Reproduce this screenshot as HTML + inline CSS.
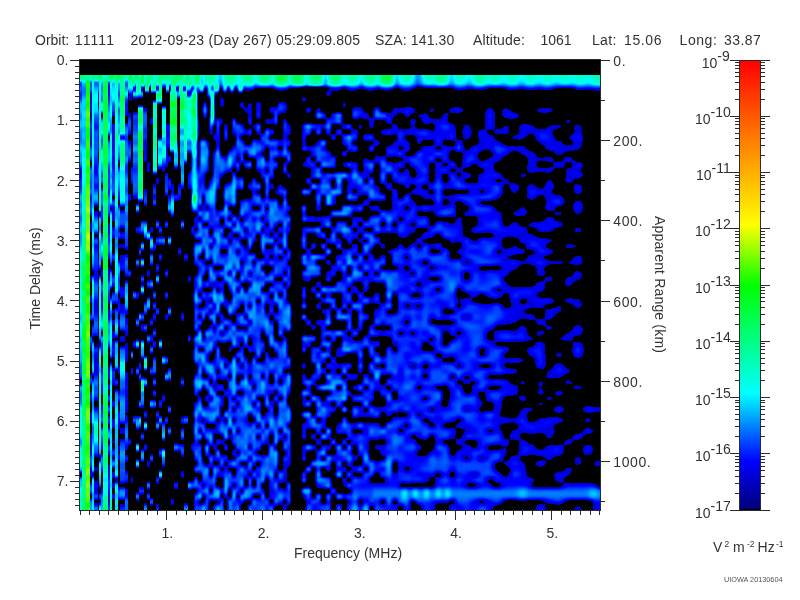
<!DOCTYPE html>
<html><head><meta charset="utf-8"><style>
html,body{margin:0;padding:0;background:#fff;}
svg{display:block;}
text{font-family:"Liberation Sans",Arial,sans-serif;font-size:14px;fill:#333;}
</style></head><body>
<svg width="800" height="600" viewBox="0 0 800 600">
<defs>
<linearGradient id="cb" x1="0" y1="0" x2="0" y2="1">
<stop offset="0" stop-color="#ff0000"/>
<stop offset="0.18" stop-color="#ff8000"/>
<stop offset="0.366" stop-color="#ffff00"/>
<stop offset="0.5" stop-color="#00ff00"/>
<stop offset="0.74" stop-color="#00ffff"/>
<stop offset="0.89" stop-color="#0000ff"/>
<stop offset="1" stop-color="#000078"/>
</linearGradient>
</defs>
<rect x="80" y="60" width="520" height="450" fill="#000"/>
<defs>
<clipPath id="cp"><rect x="80" y="75" width="520" height="435"/></clipPath>
<filter id="z0" filterUnits="userSpaceOnUse" x="72" y="62" width="64" height="456" color-interpolation-filters="sRGB"><feGaussianBlur stdDeviation="0.5 2.0"/><feComponentTransfer><feFuncR type="table" tableValues="0 0 0 0 0 0 0 0 0 0 0 0 0 0 0 0 0 0 0 0 0 0 0 0 0 0 0 0 0 0 0 0 0 0 0 0 0 0 0 0 0 0 0 0 0 0 0 0 0 0 0 0 0 0 0 0 0 0 0 0 0 0 0 0 0 0 0 0 0 0 0 0 0 0 0 0 0 0 0 0 0 0 0 0 0 0 0 0 0 0 0 0 0 0 0 0 0 0 0 0 0 0 0 0 0 0 0 0 0 0 0 0 0 0 0 0 0 0 0 0 0 0 0 0 0 0 0 0 0.0146 0.0439 0.0732 0.102 0.132 0.161 0.19 0.219 0.249 0.278 0.307 0.337 0.366 0.395 0.424 0.454 0.483 0.512 0.541 0.571 0.6 0.629 0.658 0.688 0.717 0.746 0.776 0.805 0.834 0.863 0.893 0.922 0.951 0.98 1 1 1 1 1 1 1 1 1 1 1 1 1 1 1 1 1 1 1 1 1 1 1 1 1 1 1 1 1 1 1 1 1 1 1 1 1 1 1 1 1 1 1 1 1 1 1 1 1 1 1 1 1 1 1 1 1 1 1 1 1 1 1 1 1 1 1 1 1 1 1 1 1 1 1 1 1 1 1 1 1 1 1 1 1 1 1 1 1 1 1 1 1 1"/><feFuncG type="table" tableValues="0 0 0 0 0 0 0 0 0 0 0 0 0 0 0 0 0 0 0 0 0 0 0 0 0 0 0 0 0 0.0248 0.051 0.0771 0.103 0.129 0.156 0.182 0.208 0.234 0.26 0.286 0.312 0.339 0.365 0.391 0.417 0.443 0.469 0.495 0.522 0.548 0.574 0.6 0.626 0.652 0.678 0.705 0.731 0.757 0.783 0.809 0.835 0.861 0.888 0.914 0.94 0.966 0.992 1 1 1 1 1 1 1 1 1 1 1 1 1 1 1 1 1 1 1 1 1 1 1 1 1 1 1 1 1 1 1 1 1 1 1 1 1 1 1 1 1 1 1 1 1 1 1 1 1 1 1 1 1 1 1 1 1 1 1 1 1 1 1 1 1 1 1 1 1 1 1 1 1 1 1 1 1 1 1 1 1 1 1 1 1 1 1 1 1 1 1 1 1 1 1 0.997 0.986 0.976 0.965 0.955 0.944 0.934 0.923 0.913 0.902 0.892 0.881 0.871 0.86 0.85 0.839 0.829 0.818 0.808 0.797 0.787 0.776 0.766 0.755 0.745 0.734 0.724 0.713 0.703 0.692 0.682 0.671 0.661 0.65 0.64 0.629 0.619 0.608 0.598 0.587 0.577 0.566 0.556 0.545 0.535 0.524 0.514 0.503 0.492 0.481 0.47 0.459 0.448 0.437 0.427 0.416 0.405 0.394 0.383 0.372 0.361 0.35 0.339 0.328 0.317 0.306 0.295 0.284 0.273 0.262 0.252 0.241 0.23 0.219 0.208 0.197 0.186 0.175 0.164 0.153 0.142 0.131 0.12 0.109 0.0984 0.0875 0.0766 0.0656 0.0547 0.0437 0.0328 0.0219 0.0109 0"/><feFuncB type="table" tableValues="0 0 0 0 0 0 0 0 0 0 0 0 0 0 0 0 0.773 0.791 0.81 0.829 0.848 0.867 0.886 0.905 0.924 0.942 0.961 0.98 0.999 1 1 1 1 1 1 1 1 1 1 1 1 1 1 1 1 1 1 1 1 1 1 1 1 1 1 1 1 1 1 1 1 1 1 1 1 1 1 0.989 0.972 0.956 0.94 0.923 0.907 0.891 0.874 0.858 0.842 0.825 0.809 0.792 0.776 0.76 0.743 0.727 0.711 0.694 0.678 0.662 0.645 0.629 0.613 0.596 0.58 0.564 0.547 0.531 0.515 0.498 0.482 0.466 0.449 0.433 0.417 0.4 0.384 0.368 0.351 0.335 0.319 0.302 0.286 0.27 0.253 0.237 0.221 0.204 0.188 0.172 0.155 0.139 0.123 0.106 0.0899 0.0735 0.0572 0.0408 0.0245 0.00817 0 0 0 0 0 0 0 0 0 0 0 0 0 0 0 0 0 0 0 0 0 0 0 0 0 0 0 0 0 0 0 0 0 0 0 0 0 0 0 0 0 0 0 0 0 0 0 0 0 0 0 0 0 0 0 0 0 0 0 0 0 0 0 0 0 0 0 0 0 0 0 0 0 0 0 0 0 0 0 0 0 0 0 0 0 0 0 0 0 0 0 0 0 0 0 0 0 0 0 0 0 0 0 0 0 0 0 0 0 0 0 0 0 0 0 0 0 0 0 0 0 0 0 0 0 0 0 0"/></feComponentTransfer></filter>
<clipPath id="c0"><rect x="80" y="75" width="48" height="435"/></clipPath>
<filter id="z1" filterUnits="userSpaceOnUse" x="120" y="62" width="78" height="456" color-interpolation-filters="sRGB"><feGaussianBlur stdDeviation="0.75 2.0"/><feComponentTransfer><feFuncR type="table" tableValues="0 0 0 0 0 0 0 0 0 0 0 0 0 0 0 0 0 0 0 0 0 0 0 0 0 0 0 0 0 0 0 0 0 0 0 0 0 0 0 0 0 0 0 0 0 0 0 0 0 0 0 0 0 0 0 0 0 0 0 0 0 0 0 0 0 0 0 0 0 0 0 0 0 0 0 0 0 0 0 0 0 0 0 0 0 0 0 0 0 0 0 0 0 0 0 0 0 0 0 0 0 0 0 0 0 0 0 0 0 0 0 0 0 0 0 0 0 0 0 0 0 0 0 0 0 0 0 0 0.0146 0.0439 0.0732 0.102 0.132 0.161 0.19 0.219 0.249 0.278 0.307 0.337 0.366 0.395 0.424 0.454 0.483 0.512 0.541 0.571 0.6 0.629 0.658 0.688 0.717 0.746 0.776 0.805 0.834 0.863 0.893 0.922 0.951 0.98 1 1 1 1 1 1 1 1 1 1 1 1 1 1 1 1 1 1 1 1 1 1 1 1 1 1 1 1 1 1 1 1 1 1 1 1 1 1 1 1 1 1 1 1 1 1 1 1 1 1 1 1 1 1 1 1 1 1 1 1 1 1 1 1 1 1 1 1 1 1 1 1 1 1 1 1 1 1 1 1 1 1 1 1 1 1 1 1 1 1 1 1 1 1"/><feFuncG type="table" tableValues="0 0 0 0 0 0 0 0 0 0 0 0 0 0 0 0 0 0 0 0 0 0 0 0 0 0 0 0 0 0.0248 0.051 0.0771 0.103 0.129 0.156 0.182 0.208 0.234 0.26 0.286 0.312 0.339 0.365 0.391 0.417 0.443 0.469 0.495 0.522 0.548 0.574 0.6 0.626 0.652 0.678 0.705 0.731 0.757 0.783 0.809 0.835 0.861 0.888 0.914 0.94 0.966 0.992 1 1 1 1 1 1 1 1 1 1 1 1 1 1 1 1 1 1 1 1 1 1 1 1 1 1 1 1 1 1 1 1 1 1 1 1 1 1 1 1 1 1 1 1 1 1 1 1 1 1 1 1 1 1 1 1 1 1 1 1 1 1 1 1 1 1 1 1 1 1 1 1 1 1 1 1 1 1 1 1 1 1 1 1 1 1 1 1 1 1 1 1 1 1 1 0.997 0.986 0.976 0.965 0.955 0.944 0.934 0.923 0.913 0.902 0.892 0.881 0.871 0.86 0.85 0.839 0.829 0.818 0.808 0.797 0.787 0.776 0.766 0.755 0.745 0.734 0.724 0.713 0.703 0.692 0.682 0.671 0.661 0.65 0.64 0.629 0.619 0.608 0.598 0.587 0.577 0.566 0.556 0.545 0.535 0.524 0.514 0.503 0.492 0.481 0.47 0.459 0.448 0.437 0.427 0.416 0.405 0.394 0.383 0.372 0.361 0.35 0.339 0.328 0.317 0.306 0.295 0.284 0.273 0.262 0.252 0.241 0.23 0.219 0.208 0.197 0.186 0.175 0.164 0.153 0.142 0.131 0.12 0.109 0.0984 0.0875 0.0766 0.0656 0.0547 0.0437 0.0328 0.0219 0.0109 0"/><feFuncB type="table" tableValues="0 0 0 0 0 0 0 0 0 0 0 0 0 0 0 0 0.773 0.791 0.81 0.829 0.848 0.867 0.886 0.905 0.924 0.942 0.961 0.98 0.999 1 1 1 1 1 1 1 1 1 1 1 1 1 1 1 1 1 1 1 1 1 1 1 1 1 1 1 1 1 1 1 1 1 1 1 1 1 1 0.989 0.972 0.956 0.94 0.923 0.907 0.891 0.874 0.858 0.842 0.825 0.809 0.792 0.776 0.76 0.743 0.727 0.711 0.694 0.678 0.662 0.645 0.629 0.613 0.596 0.58 0.564 0.547 0.531 0.515 0.498 0.482 0.466 0.449 0.433 0.417 0.4 0.384 0.368 0.351 0.335 0.319 0.302 0.286 0.27 0.253 0.237 0.221 0.204 0.188 0.172 0.155 0.139 0.123 0.106 0.0899 0.0735 0.0572 0.0408 0.0245 0.00817 0 0 0 0 0 0 0 0 0 0 0 0 0 0 0 0 0 0 0 0 0 0 0 0 0 0 0 0 0 0 0 0 0 0 0 0 0 0 0 0 0 0 0 0 0 0 0 0 0 0 0 0 0 0 0 0 0 0 0 0 0 0 0 0 0 0 0 0 0 0 0 0 0 0 0 0 0 0 0 0 0 0 0 0 0 0 0 0 0 0 0 0 0 0 0 0 0 0 0 0 0 0 0 0 0 0 0 0 0 0 0 0 0 0 0 0 0 0 0 0 0 0 0 0 0 0 0 0"/></feComponentTransfer></filter>
<clipPath id="c1"><rect x="128" y="75" width="62" height="435"/></clipPath>
<filter id="z2" filterUnits="userSpaceOnUse" x="182" y="62" width="126" height="456" color-interpolation-filters="sRGB"><feGaussianBlur stdDeviation="1.15 2.0"/><feComponentTransfer><feFuncR type="table" tableValues="0 0 0 0 0 0 0 0 0 0 0 0 0 0 0 0 0 0 0 0 0 0 0 0 0 0 0 0 0 0 0 0 0 0 0 0 0 0 0 0 0 0 0 0 0 0 0 0 0 0 0 0 0 0 0 0 0 0 0 0 0 0 0 0 0 0 0 0 0 0 0 0 0 0 0 0 0 0 0 0 0 0 0 0 0 0 0 0 0 0 0 0 0 0 0 0 0 0 0 0 0 0 0 0 0 0 0 0 0 0 0 0 0 0 0 0 0 0 0 0 0 0 0 0 0 0 0 0 0.0146 0.0439 0.0732 0.102 0.132 0.161 0.19 0.219 0.249 0.278 0.307 0.337 0.366 0.395 0.424 0.454 0.483 0.512 0.541 0.571 0.6 0.629 0.658 0.688 0.717 0.746 0.776 0.805 0.834 0.863 0.893 0.922 0.951 0.98 1 1 1 1 1 1 1 1 1 1 1 1 1 1 1 1 1 1 1 1 1 1 1 1 1 1 1 1 1 1 1 1 1 1 1 1 1 1 1 1 1 1 1 1 1 1 1 1 1 1 1 1 1 1 1 1 1 1 1 1 1 1 1 1 1 1 1 1 1 1 1 1 1 1 1 1 1 1 1 1 1 1 1 1 1 1 1 1 1 1 1 1 1 1"/><feFuncG type="table" tableValues="0 0 0 0 0 0 0 0 0 0 0 0 0 0 0 0 0 0 0 0 0 0 0 0 0 0 0 0 0 0.0248 0.051 0.0771 0.103 0.129 0.156 0.182 0.208 0.234 0.26 0.286 0.312 0.339 0.365 0.391 0.417 0.443 0.469 0.495 0.522 0.548 0.574 0.6 0.626 0.652 0.678 0.705 0.731 0.757 0.783 0.809 0.835 0.861 0.888 0.914 0.94 0.966 0.992 1 1 1 1 1 1 1 1 1 1 1 1 1 1 1 1 1 1 1 1 1 1 1 1 1 1 1 1 1 1 1 1 1 1 1 1 1 1 1 1 1 1 1 1 1 1 1 1 1 1 1 1 1 1 1 1 1 1 1 1 1 1 1 1 1 1 1 1 1 1 1 1 1 1 1 1 1 1 1 1 1 1 1 1 1 1 1 1 1 1 1 1 1 1 1 0.997 0.986 0.976 0.965 0.955 0.944 0.934 0.923 0.913 0.902 0.892 0.881 0.871 0.86 0.85 0.839 0.829 0.818 0.808 0.797 0.787 0.776 0.766 0.755 0.745 0.734 0.724 0.713 0.703 0.692 0.682 0.671 0.661 0.65 0.64 0.629 0.619 0.608 0.598 0.587 0.577 0.566 0.556 0.545 0.535 0.524 0.514 0.503 0.492 0.481 0.47 0.459 0.448 0.437 0.427 0.416 0.405 0.394 0.383 0.372 0.361 0.35 0.339 0.328 0.317 0.306 0.295 0.284 0.273 0.262 0.252 0.241 0.23 0.219 0.208 0.197 0.186 0.175 0.164 0.153 0.142 0.131 0.12 0.109 0.0984 0.0875 0.0766 0.0656 0.0547 0.0437 0.0328 0.0219 0.0109 0"/><feFuncB type="table" tableValues="0 0 0 0 0 0 0 0 0 0 0 0 0 0 0 0 0.773 0.791 0.81 0.829 0.848 0.867 0.886 0.905 0.924 0.942 0.961 0.98 0.999 1 1 1 1 1 1 1 1 1 1 1 1 1 1 1 1 1 1 1 1 1 1 1 1 1 1 1 1 1 1 1 1 1 1 1 1 1 1 0.989 0.972 0.956 0.94 0.923 0.907 0.891 0.874 0.858 0.842 0.825 0.809 0.792 0.776 0.76 0.743 0.727 0.711 0.694 0.678 0.662 0.645 0.629 0.613 0.596 0.58 0.564 0.547 0.531 0.515 0.498 0.482 0.466 0.449 0.433 0.417 0.4 0.384 0.368 0.351 0.335 0.319 0.302 0.286 0.27 0.253 0.237 0.221 0.204 0.188 0.172 0.155 0.139 0.123 0.106 0.0899 0.0735 0.0572 0.0408 0.0245 0.00817 0 0 0 0 0 0 0 0 0 0 0 0 0 0 0 0 0 0 0 0 0 0 0 0 0 0 0 0 0 0 0 0 0 0 0 0 0 0 0 0 0 0 0 0 0 0 0 0 0 0 0 0 0 0 0 0 0 0 0 0 0 0 0 0 0 0 0 0 0 0 0 0 0 0 0 0 0 0 0 0 0 0 0 0 0 0 0 0 0 0 0 0 0 0 0 0 0 0 0 0 0 0 0 0 0 0 0 0 0 0 0 0 0 0 0 0 0 0 0 0 0 0 0 0 0 0 0 0"/></feComponentTransfer></filter>
<clipPath id="c2"><rect x="190" y="75" width="110" height="435"/></clipPath>
<filter id="z3" filterUnits="userSpaceOnUse" x="292" y="62" width="66" height="456" color-interpolation-filters="sRGB"><feGaussianBlur stdDeviation="1.5 1.8"/><feComponentTransfer><feFuncR type="table" tableValues="0 0 0 0 0 0 0 0 0 0 0 0 0 0 0 0 0 0 0 0 0 0 0 0 0 0 0 0 0 0 0 0 0 0 0 0 0 0 0 0 0 0 0 0 0 0 0 0 0 0 0 0 0 0 0 0 0 0 0 0 0 0 0 0 0 0 0 0 0 0 0 0 0 0 0 0 0 0 0 0 0 0 0 0 0 0 0 0 0 0 0 0 0 0 0 0 0 0 0 0 0 0 0 0 0 0 0 0 0 0 0 0 0 0 0 0 0 0 0 0 0 0 0 0 0 0 0 0 0.0146 0.0439 0.0732 0.102 0.132 0.161 0.19 0.219 0.249 0.278 0.307 0.337 0.366 0.395 0.424 0.454 0.483 0.512 0.541 0.571 0.6 0.629 0.658 0.688 0.717 0.746 0.776 0.805 0.834 0.863 0.893 0.922 0.951 0.98 1 1 1 1 1 1 1 1 1 1 1 1 1 1 1 1 1 1 1 1 1 1 1 1 1 1 1 1 1 1 1 1 1 1 1 1 1 1 1 1 1 1 1 1 1 1 1 1 1 1 1 1 1 1 1 1 1 1 1 1 1 1 1 1 1 1 1 1 1 1 1 1 1 1 1 1 1 1 1 1 1 1 1 1 1 1 1 1 1 1 1 1 1 1"/><feFuncG type="table" tableValues="0 0 0 0 0 0 0 0 0 0 0 0 0 0 0 0 0 0 0 0 0 0 0 0 0 0 0 0 0 0.0248 0.051 0.0771 0.103 0.129 0.156 0.182 0.208 0.234 0.26 0.286 0.312 0.339 0.365 0.391 0.417 0.443 0.469 0.495 0.522 0.548 0.574 0.6 0.626 0.652 0.678 0.705 0.731 0.757 0.783 0.809 0.835 0.861 0.888 0.914 0.94 0.966 0.992 1 1 1 1 1 1 1 1 1 1 1 1 1 1 1 1 1 1 1 1 1 1 1 1 1 1 1 1 1 1 1 1 1 1 1 1 1 1 1 1 1 1 1 1 1 1 1 1 1 1 1 1 1 1 1 1 1 1 1 1 1 1 1 1 1 1 1 1 1 1 1 1 1 1 1 1 1 1 1 1 1 1 1 1 1 1 1 1 1 1 1 1 1 1 1 0.997 0.986 0.976 0.965 0.955 0.944 0.934 0.923 0.913 0.902 0.892 0.881 0.871 0.86 0.85 0.839 0.829 0.818 0.808 0.797 0.787 0.776 0.766 0.755 0.745 0.734 0.724 0.713 0.703 0.692 0.682 0.671 0.661 0.65 0.64 0.629 0.619 0.608 0.598 0.587 0.577 0.566 0.556 0.545 0.535 0.524 0.514 0.503 0.492 0.481 0.47 0.459 0.448 0.437 0.427 0.416 0.405 0.394 0.383 0.372 0.361 0.35 0.339 0.328 0.317 0.306 0.295 0.284 0.273 0.262 0.252 0.241 0.23 0.219 0.208 0.197 0.186 0.175 0.164 0.153 0.142 0.131 0.12 0.109 0.0984 0.0875 0.0766 0.0656 0.0547 0.0437 0.0328 0.0219 0.0109 0"/><feFuncB type="table" tableValues="0 0 0 0 0 0 0 0 0 0 0 0 0 0 0 0 0.773 0.791 0.81 0.829 0.848 0.867 0.886 0.905 0.924 0.942 0.961 0.98 0.999 1 1 1 1 1 1 1 1 1 1 1 1 1 1 1 1 1 1 1 1 1 1 1 1 1 1 1 1 1 1 1 1 1 1 1 1 1 1 0.989 0.972 0.956 0.94 0.923 0.907 0.891 0.874 0.858 0.842 0.825 0.809 0.792 0.776 0.76 0.743 0.727 0.711 0.694 0.678 0.662 0.645 0.629 0.613 0.596 0.58 0.564 0.547 0.531 0.515 0.498 0.482 0.466 0.449 0.433 0.417 0.4 0.384 0.368 0.351 0.335 0.319 0.302 0.286 0.27 0.253 0.237 0.221 0.204 0.188 0.172 0.155 0.139 0.123 0.106 0.0899 0.0735 0.0572 0.0408 0.0245 0.00817 0 0 0 0 0 0 0 0 0 0 0 0 0 0 0 0 0 0 0 0 0 0 0 0 0 0 0 0 0 0 0 0 0 0 0 0 0 0 0 0 0 0 0 0 0 0 0 0 0 0 0 0 0 0 0 0 0 0 0 0 0 0 0 0 0 0 0 0 0 0 0 0 0 0 0 0 0 0 0 0 0 0 0 0 0 0 0 0 0 0 0 0 0 0 0 0 0 0 0 0 0 0 0 0 0 0 0 0 0 0 0 0 0 0 0 0 0 0 0 0 0 0 0 0 0 0 0 0"/></feComponentTransfer></filter>
<clipPath id="c3"><rect x="300" y="75" width="50" height="435"/></clipPath>
<filter id="z4" filterUnits="userSpaceOnUse" x="342" y="62" width="66" height="456" color-interpolation-filters="sRGB"><feGaussianBlur stdDeviation="1.8 1.9"/><feComponentTransfer><feFuncR type="table" tableValues="0 0 0 0 0 0 0 0 0 0 0 0 0 0 0 0 0 0 0 0 0 0 0 0 0 0 0 0 0 0 0 0 0 0 0 0 0 0 0 0 0 0 0 0 0 0 0 0 0 0 0 0 0 0 0 0 0 0 0 0 0 0 0 0 0 0 0 0 0 0 0 0 0 0 0 0 0 0 0 0 0 0 0 0 0 0 0 0 0 0 0 0 0 0 0 0 0 0 0 0 0 0 0 0 0 0 0 0 0 0 0 0 0 0 0 0 0 0 0 0 0 0 0 0 0 0 0 0 0.0146 0.0439 0.0732 0.102 0.132 0.161 0.19 0.219 0.249 0.278 0.307 0.337 0.366 0.395 0.424 0.454 0.483 0.512 0.541 0.571 0.6 0.629 0.658 0.688 0.717 0.746 0.776 0.805 0.834 0.863 0.893 0.922 0.951 0.98 1 1 1 1 1 1 1 1 1 1 1 1 1 1 1 1 1 1 1 1 1 1 1 1 1 1 1 1 1 1 1 1 1 1 1 1 1 1 1 1 1 1 1 1 1 1 1 1 1 1 1 1 1 1 1 1 1 1 1 1 1 1 1 1 1 1 1 1 1 1 1 1 1 1 1 1 1 1 1 1 1 1 1 1 1 1 1 1 1 1 1 1 1 1"/><feFuncG type="table" tableValues="0 0 0 0 0 0 0 0 0 0 0 0 0 0 0 0 0 0 0 0 0 0 0 0 0 0 0 0 0 0.0248 0.051 0.0771 0.103 0.129 0.156 0.182 0.208 0.234 0.26 0.286 0.312 0.339 0.365 0.391 0.417 0.443 0.469 0.495 0.522 0.548 0.574 0.6 0.626 0.652 0.678 0.705 0.731 0.757 0.783 0.809 0.835 0.861 0.888 0.914 0.94 0.966 0.992 1 1 1 1 1 1 1 1 1 1 1 1 1 1 1 1 1 1 1 1 1 1 1 1 1 1 1 1 1 1 1 1 1 1 1 1 1 1 1 1 1 1 1 1 1 1 1 1 1 1 1 1 1 1 1 1 1 1 1 1 1 1 1 1 1 1 1 1 1 1 1 1 1 1 1 1 1 1 1 1 1 1 1 1 1 1 1 1 1 1 1 1 1 1 1 0.997 0.986 0.976 0.965 0.955 0.944 0.934 0.923 0.913 0.902 0.892 0.881 0.871 0.86 0.85 0.839 0.829 0.818 0.808 0.797 0.787 0.776 0.766 0.755 0.745 0.734 0.724 0.713 0.703 0.692 0.682 0.671 0.661 0.65 0.64 0.629 0.619 0.608 0.598 0.587 0.577 0.566 0.556 0.545 0.535 0.524 0.514 0.503 0.492 0.481 0.47 0.459 0.448 0.437 0.427 0.416 0.405 0.394 0.383 0.372 0.361 0.35 0.339 0.328 0.317 0.306 0.295 0.284 0.273 0.262 0.252 0.241 0.23 0.219 0.208 0.197 0.186 0.175 0.164 0.153 0.142 0.131 0.12 0.109 0.0984 0.0875 0.0766 0.0656 0.0547 0.0437 0.0328 0.0219 0.0109 0"/><feFuncB type="table" tableValues="0 0 0 0 0 0 0 0 0 0 0 0 0 0 0 0 0.773 0.791 0.81 0.829 0.848 0.867 0.886 0.905 0.924 0.942 0.961 0.98 0.999 1 1 1 1 1 1 1 1 1 1 1 1 1 1 1 1 1 1 1 1 1 1 1 1 1 1 1 1 1 1 1 1 1 1 1 1 1 1 0.989 0.972 0.956 0.94 0.923 0.907 0.891 0.874 0.858 0.842 0.825 0.809 0.792 0.776 0.76 0.743 0.727 0.711 0.694 0.678 0.662 0.645 0.629 0.613 0.596 0.58 0.564 0.547 0.531 0.515 0.498 0.482 0.466 0.449 0.433 0.417 0.4 0.384 0.368 0.351 0.335 0.319 0.302 0.286 0.27 0.253 0.237 0.221 0.204 0.188 0.172 0.155 0.139 0.123 0.106 0.0899 0.0735 0.0572 0.0408 0.0245 0.00817 0 0 0 0 0 0 0 0 0 0 0 0 0 0 0 0 0 0 0 0 0 0 0 0 0 0 0 0 0 0 0 0 0 0 0 0 0 0 0 0 0 0 0 0 0 0 0 0 0 0 0 0 0 0 0 0 0 0 0 0 0 0 0 0 0 0 0 0 0 0 0 0 0 0 0 0 0 0 0 0 0 0 0 0 0 0 0 0 0 0 0 0 0 0 0 0 0 0 0 0 0 0 0 0 0 0 0 0 0 0 0 0 0 0 0 0 0 0 0 0 0 0 0 0 0 0 0 0"/></feComponentTransfer></filter>
<clipPath id="c4"><rect x="350" y="75" width="50" height="435"/></clipPath>
<filter id="z5" filterUnits="userSpaceOnUse" x="392" y="62" width="76" height="456" color-interpolation-filters="sRGB"><feGaussianBlur stdDeviation="2.3 2.0"/><feComponentTransfer><feFuncR type="table" tableValues="0 0 0 0 0 0 0 0 0 0 0 0 0 0 0 0 0 0 0 0 0 0 0 0 0 0 0 0 0 0 0 0 0 0 0 0 0 0 0 0 0 0 0 0 0 0 0 0 0 0 0 0 0 0 0 0 0 0 0 0 0 0 0 0 0 0 0 0 0 0 0 0 0 0 0 0 0 0 0 0 0 0 0 0 0 0 0 0 0 0 0 0 0 0 0 0 0 0 0 0 0 0 0 0 0 0 0 0 0 0 0 0 0 0 0 0 0 0 0 0 0 0 0 0 0 0 0 0 0.0146 0.0439 0.0732 0.102 0.132 0.161 0.19 0.219 0.249 0.278 0.307 0.337 0.366 0.395 0.424 0.454 0.483 0.512 0.541 0.571 0.6 0.629 0.658 0.688 0.717 0.746 0.776 0.805 0.834 0.863 0.893 0.922 0.951 0.98 1 1 1 1 1 1 1 1 1 1 1 1 1 1 1 1 1 1 1 1 1 1 1 1 1 1 1 1 1 1 1 1 1 1 1 1 1 1 1 1 1 1 1 1 1 1 1 1 1 1 1 1 1 1 1 1 1 1 1 1 1 1 1 1 1 1 1 1 1 1 1 1 1 1 1 1 1 1 1 1 1 1 1 1 1 1 1 1 1 1 1 1 1 1"/><feFuncG type="table" tableValues="0 0 0 0 0 0 0 0 0 0 0 0 0 0 0 0 0 0 0 0 0 0 0 0 0 0 0 0 0 0.0248 0.051 0.0771 0.103 0.129 0.156 0.182 0.208 0.234 0.26 0.286 0.312 0.339 0.365 0.391 0.417 0.443 0.469 0.495 0.522 0.548 0.574 0.6 0.626 0.652 0.678 0.705 0.731 0.757 0.783 0.809 0.835 0.861 0.888 0.914 0.94 0.966 0.992 1 1 1 1 1 1 1 1 1 1 1 1 1 1 1 1 1 1 1 1 1 1 1 1 1 1 1 1 1 1 1 1 1 1 1 1 1 1 1 1 1 1 1 1 1 1 1 1 1 1 1 1 1 1 1 1 1 1 1 1 1 1 1 1 1 1 1 1 1 1 1 1 1 1 1 1 1 1 1 1 1 1 1 1 1 1 1 1 1 1 1 1 1 1 1 0.997 0.986 0.976 0.965 0.955 0.944 0.934 0.923 0.913 0.902 0.892 0.881 0.871 0.86 0.85 0.839 0.829 0.818 0.808 0.797 0.787 0.776 0.766 0.755 0.745 0.734 0.724 0.713 0.703 0.692 0.682 0.671 0.661 0.65 0.64 0.629 0.619 0.608 0.598 0.587 0.577 0.566 0.556 0.545 0.535 0.524 0.514 0.503 0.492 0.481 0.47 0.459 0.448 0.437 0.427 0.416 0.405 0.394 0.383 0.372 0.361 0.35 0.339 0.328 0.317 0.306 0.295 0.284 0.273 0.262 0.252 0.241 0.23 0.219 0.208 0.197 0.186 0.175 0.164 0.153 0.142 0.131 0.12 0.109 0.0984 0.0875 0.0766 0.0656 0.0547 0.0437 0.0328 0.0219 0.0109 0"/><feFuncB type="table" tableValues="0 0 0 0 0 0 0 0 0 0 0 0 0 0 0 0 0.773 0.791 0.81 0.829 0.848 0.867 0.886 0.905 0.924 0.942 0.961 0.98 0.999 1 1 1 1 1 1 1 1 1 1 1 1 1 1 1 1 1 1 1 1 1 1 1 1 1 1 1 1 1 1 1 1 1 1 1 1 1 1 0.989 0.972 0.956 0.94 0.923 0.907 0.891 0.874 0.858 0.842 0.825 0.809 0.792 0.776 0.76 0.743 0.727 0.711 0.694 0.678 0.662 0.645 0.629 0.613 0.596 0.58 0.564 0.547 0.531 0.515 0.498 0.482 0.466 0.449 0.433 0.417 0.4 0.384 0.368 0.351 0.335 0.319 0.302 0.286 0.27 0.253 0.237 0.221 0.204 0.188 0.172 0.155 0.139 0.123 0.106 0.0899 0.0735 0.0572 0.0408 0.0245 0.00817 0 0 0 0 0 0 0 0 0 0 0 0 0 0 0 0 0 0 0 0 0 0 0 0 0 0 0 0 0 0 0 0 0 0 0 0 0 0 0 0 0 0 0 0 0 0 0 0 0 0 0 0 0 0 0 0 0 0 0 0 0 0 0 0 0 0 0 0 0 0 0 0 0 0 0 0 0 0 0 0 0 0 0 0 0 0 0 0 0 0 0 0 0 0 0 0 0 0 0 0 0 0 0 0 0 0 0 0 0 0 0 0 0 0 0 0 0 0 0 0 0 0 0 0 0 0 0 0"/></feComponentTransfer></filter>
<clipPath id="c5"><rect x="400" y="75" width="60" height="435"/></clipPath>
<filter id="z6" filterUnits="userSpaceOnUse" x="452" y="62" width="156" height="456" color-interpolation-filters="sRGB"><feGaussianBlur stdDeviation="3.0 2.2"/><feComponentTransfer><feFuncR type="table" tableValues="0 0 0 0 0 0 0 0 0 0 0 0 0 0 0 0 0 0 0 0 0 0 0 0 0 0 0 0 0 0 0 0 0 0 0 0 0 0 0 0 0 0 0 0 0 0 0 0 0 0 0 0 0 0 0 0 0 0 0 0 0 0 0 0 0 0 0 0 0 0 0 0 0 0 0 0 0 0 0 0 0 0 0 0 0 0 0 0 0 0 0 0 0 0 0 0 0 0 0 0 0 0 0 0 0 0 0 0 0 0 0 0 0 0 0 0 0 0 0 0 0 0 0 0 0 0 0 0 0.0146 0.0439 0.0732 0.102 0.132 0.161 0.19 0.219 0.249 0.278 0.307 0.337 0.366 0.395 0.424 0.454 0.483 0.512 0.541 0.571 0.6 0.629 0.658 0.688 0.717 0.746 0.776 0.805 0.834 0.863 0.893 0.922 0.951 0.98 1 1 1 1 1 1 1 1 1 1 1 1 1 1 1 1 1 1 1 1 1 1 1 1 1 1 1 1 1 1 1 1 1 1 1 1 1 1 1 1 1 1 1 1 1 1 1 1 1 1 1 1 1 1 1 1 1 1 1 1 1 1 1 1 1 1 1 1 1 1 1 1 1 1 1 1 1 1 1 1 1 1 1 1 1 1 1 1 1 1 1 1 1 1"/><feFuncG type="table" tableValues="0 0 0 0 0 0 0 0 0 0 0 0 0 0 0 0 0 0 0 0 0 0 0 0 0 0 0 0 0 0.0248 0.051 0.0771 0.103 0.129 0.156 0.182 0.208 0.234 0.26 0.286 0.312 0.339 0.365 0.391 0.417 0.443 0.469 0.495 0.522 0.548 0.574 0.6 0.626 0.652 0.678 0.705 0.731 0.757 0.783 0.809 0.835 0.861 0.888 0.914 0.94 0.966 0.992 1 1 1 1 1 1 1 1 1 1 1 1 1 1 1 1 1 1 1 1 1 1 1 1 1 1 1 1 1 1 1 1 1 1 1 1 1 1 1 1 1 1 1 1 1 1 1 1 1 1 1 1 1 1 1 1 1 1 1 1 1 1 1 1 1 1 1 1 1 1 1 1 1 1 1 1 1 1 1 1 1 1 1 1 1 1 1 1 1 1 1 1 1 1 1 0.997 0.986 0.976 0.965 0.955 0.944 0.934 0.923 0.913 0.902 0.892 0.881 0.871 0.86 0.85 0.839 0.829 0.818 0.808 0.797 0.787 0.776 0.766 0.755 0.745 0.734 0.724 0.713 0.703 0.692 0.682 0.671 0.661 0.65 0.64 0.629 0.619 0.608 0.598 0.587 0.577 0.566 0.556 0.545 0.535 0.524 0.514 0.503 0.492 0.481 0.47 0.459 0.448 0.437 0.427 0.416 0.405 0.394 0.383 0.372 0.361 0.35 0.339 0.328 0.317 0.306 0.295 0.284 0.273 0.262 0.252 0.241 0.23 0.219 0.208 0.197 0.186 0.175 0.164 0.153 0.142 0.131 0.12 0.109 0.0984 0.0875 0.0766 0.0656 0.0547 0.0437 0.0328 0.0219 0.0109 0"/><feFuncB type="table" tableValues="0 0 0 0 0 0 0 0 0 0 0 0 0 0 0 0 0.773 0.791 0.81 0.829 0.848 0.867 0.886 0.905 0.924 0.942 0.961 0.98 0.999 1 1 1 1 1 1 1 1 1 1 1 1 1 1 1 1 1 1 1 1 1 1 1 1 1 1 1 1 1 1 1 1 1 1 1 1 1 1 0.989 0.972 0.956 0.94 0.923 0.907 0.891 0.874 0.858 0.842 0.825 0.809 0.792 0.776 0.76 0.743 0.727 0.711 0.694 0.678 0.662 0.645 0.629 0.613 0.596 0.58 0.564 0.547 0.531 0.515 0.498 0.482 0.466 0.449 0.433 0.417 0.4 0.384 0.368 0.351 0.335 0.319 0.302 0.286 0.27 0.253 0.237 0.221 0.204 0.188 0.172 0.155 0.139 0.123 0.106 0.0899 0.0735 0.0572 0.0408 0.0245 0.00817 0 0 0 0 0 0 0 0 0 0 0 0 0 0 0 0 0 0 0 0 0 0 0 0 0 0 0 0 0 0 0 0 0 0 0 0 0 0 0 0 0 0 0 0 0 0 0 0 0 0 0 0 0 0 0 0 0 0 0 0 0 0 0 0 0 0 0 0 0 0 0 0 0 0 0 0 0 0 0 0 0 0 0 0 0 0 0 0 0 0 0 0 0 0 0 0 0 0 0 0 0 0 0 0 0 0 0 0 0 0 0 0 0 0 0 0 0 0 0 0 0 0 0 0 0 0 0 0"/></feComponentTransfer></filter>
<clipPath id="c6"><rect x="460" y="75" width="140" height="435"/></clipPath>
</defs>
<g clip-path="url(#cp)">
<g clip-path="url(#c0)"><g filter="url(#z0)"><rect x="72" y="62" width="64" height="456" fill="#000"/>
<path fill="rgb(2,2,2)" d="M98 210.9h1v5.4375h-1zM101 357.8h2v5.4375h-2z"/>
<path fill="rgb(3,3,3)" d="M98 200.1h1v5.4375h-1z"/>
<path fill="rgb(4,4,4)" d="M118 341.4h2v5.4375h-2z"/>
<path fill="rgb(7,7,7)" d="M90 259.9h2v5.4375h-2z"/>
<path fill="rgb(8,8,8)" d="M98 194.6h1v5.4375h-1zM98 346.9h1v5.4375h-1zM118 471.9h2v5.4375h-2z"/>
<path fill="rgb(9,9,9)" d="M118 325.1h2v5.4375h-2z"/>
<path fill="rgb(10,10,10)" d="M125 363.2h3v5.4375h-3z"/>
<path fill="rgb(11,11,11)" d="M118 330.6h2v5.4375h-2zM98 433.9h1v5.4375h-1zM98 461.1h1v5.4375h-1zM94 477.4h4v5.4375h-4z"/>
<path fill="rgb(12,12,12)" d="M90 113.1h2v5.4375h-2zM98 205.5h1v5.4375h-1zM90 254.4h2v5.4375h-2zM125 314.2h3v5.4375h-3zM98 439.3h1v5.4375h-1zM118 450.2h2v5.4375h-2zM98 493.7h1v5.4375h-1z"/>
<path fill="rgb(13,13,13)" d="M98 189.2h1v5.4375h-1zM90 265.3h2v5.4375h-2zM98 287.1h1v5.4375h-1zM125 368.6h3v5.4375h-3z"/>
<path fill="rgb(14,14,14)" d="M112 336h3v5.4375h-3zM90 357.8h2v5.4375h-2zM101 363.2h2v5.4375h-2zM108 363.2h2v5.4375h-2zM118 363.2h2v5.4375h-2zM125 412.1h3v5.4375h-3zM94 488.2h4v5.4375h-4z"/>
<path fill="rgb(15,15,15)" d="M94 368.6h4v5.4375h-4z"/>
<path fill="rgb(16,16,16)" d="M98 254.4h1v5.4375h-1zM98 259.9h1v5.4375h-1zM108 314.2h2v5.4375h-2zM94 357.8h4v5.4375h-4zM112 390.4h3v5.4375h-3zM101 401.2h2v5.4375h-2zM118 417.6h2v5.4375h-2zM108 461.1h2v5.4375h-2zM108 499.1h2v5.4375h-2z"/>
<path fill="rgb(17,17,17)" d="M112 113.1h3v5.4375h-3zM125 113.1h3v5.4375h-3zM90 292.5h2v5.4375h-2zM98 314.2h1v5.4375h-1zM90 363.2h2v5.4375h-2zM98 379.5h1v5.4375h-1zM98 395.8h1v5.4375h-1zM98 417.6h1v5.4375h-1z"/>
<path fill="rgb(18,18,18)" d="M112 205.5h3v5.4375h-3zM112 210.9h3v5.4375h-3zM98 281.6h1v5.4375h-1zM101 352.3h2v5.4375h-2zM125 357.8h3v5.4375h-3zM125 379.5h3v5.4375h-3zM125 406.7h3v5.4375h-3z"/>
<path fill="rgb(19,19,19)" d="M90 96.75h2v5.4375h-2zM108 227.2h2v5.4375h-2zM108 270.8h2v5.4375h-2zM112 341.4h3v5.4375h-3zM125 390.4h3v5.4375h-3zM98 412.1h1v5.4375h-1z"/>
<path fill="rgb(20,20,20)" d="M129 96.75h3v5.4375h-3zM90 102.2h2v5.4375h-2zM90 140.2h2v5.4375h-2zM72 172.9h10v5.4375h-10zM108 265.3h2v5.4375h-2zM101 292.5h2v5.4375h-2zM94 303.4h4v5.4375h-4zM125 341.4h3v5.4375h-3zM101 368.6h2v5.4375h-2zM90 450.2h2v5.4375h-2zM108 466.5h2v5.4375h-2z"/>
<path fill="rgb(21,21,21)" d="M112 129.4h3v5.4375h-3zM108 221.8h2v5.4375h-2zM108 276.2h2v5.4375h-2zM98 325.1h1v5.4375h-1zM98 341.4h1v5.4375h-1zM101 384.9h2v5.4375h-2zM112 439.3h3v5.4375h-3zM98 444.8h1v5.4375h-1zM118 444.8h2v5.4375h-2z"/>
<path fill="rgb(22,22,22)" d="M112 162h3v5.4375h-3zM118 243.6h2v5.4375h-2zM94 308.8h4v5.4375h-4zM125 308.8h3v5.4375h-3zM90 346.9h2v5.4375h-2zM90 390.4h2v5.4375h-2z"/>
<path fill="rgb(23,23,23)" d="M94 167.4h4v5.4375h-4zM90 227.2h2v5.4375h-2zM98 265.3h1v5.4375h-1zM112 308.8h3v5.4375h-3zM112 352.3h3v5.4375h-3zM112 417.6h3v5.4375h-3zM108 471.9h2v5.4375h-2zM101 488.2h2v5.4375h-2z"/>
<path fill="rgb(24,24,24)" d="M90 91.31h2v5.4375h-2zM98 91.31h1v5.4375h-1zM112 216.4h3v5.4375h-3zM94 243.6h4v5.4375h-4zM120 243.6h5v5.4375h-5zM94 352.3h4v5.4375h-4zM108 368.6h2v5.4375h-2zM108 493.7h2v5.4375h-2zM125 493.7h3v5.4375h-3z"/>
<path fill="rgb(25,25,25)" d="M112 145.7h3v5.4375h-3zM94 183.8h5v5.4375h-5zM118 227.2h2v5.4375h-2zM120 259.9h5v5.4375h-5zM120 303.4h5v5.4375h-5zM108 308.8h2v5.4375h-2zM125 352.3h3v5.4375h-3zM101 390.4h2v5.4375h-2zM90 466.5h2v5.4375h-2z"/>
<path fill="rgb(26,26,26)" d="M108 85.88h2v5.4375h-2zM112 134.8h3v5.4375h-3zM112 156.6h3v5.4375h-3zM72 167.4h10v5.4375h-10zM108 189.2h2v5.4375h-2zM90 194.6h2v5.4375h-2zM133 194.6h3v5.4375h-3zM94 270.8h4v5.4375h-4zM94 276.2h4v5.4375h-4zM120 308.8h5v5.4375h-5zM125 319.7h3v5.4375h-3zM125 346.9h3v5.4375h-3zM94 363.2h4v5.4375h-4zM125 374.1h3v5.4375h-3zM125 395.8h3v5.4375h-3zM90 444.8h2v5.4375h-2zM118 455.6h2v5.4375h-2zM94 466.5h4v5.4375h-4z"/>
<path fill="rgb(27,27,27)" d="M108 80.44h2v5.4375h-2zM90 107.6h2v5.4375h-2zM128 113.1h3v5.4375h-3zM98 123.9h1v5.4375h-1zM98 129.4h1v5.4375h-1zM90 134.8h2v5.4375h-2zM101 205.5h2v5.4375h-2zM94 210.9h4v5.4375h-4zM112 319.7h3v5.4375h-3zM112 379.5h3v5.4375h-3zM125 417.6h3v5.4375h-3zM125 444.8h3v5.4375h-3z"/>
<path fill="rgb(28,28,28)" d="M129 91.31h3v5.4375h-3zM98 134.8h1v5.4375h-1zM112 140.2h3v5.4375h-3zM108 254.4h2v5.4375h-2zM94 297.9h4v5.4375h-4zM101 297.9h2v5.4375h-2zM101 303.4h2v5.4375h-2zM112 330.6h3v5.4375h-3zM98 363.2h1v5.4375h-1zM108 384.9h2v5.4375h-2zM94 406.7h4v5.4375h-4zM112 423h3v5.4375h-3zM108 450.2h2v5.4375h-2zM125 488.2h3v5.4375h-3zM112 493.7h3v5.4375h-3z"/>
<path fill="rgb(29,29,29)" d="M125 102.2h3v5.4375h-3zM94 123.9h4v5.4375h-4zM90 276.2h2v5.4375h-2zM90 297.9h2v5.4375h-2zM125 330.6h3v5.4375h-3zM108 374.1h2v5.4375h-2zM90 412.1h2v5.4375h-2zM90 433.9h2v5.4375h-2zM90 471.9h2v5.4375h-2zM112 482.8h3v5.4375h-3z"/>
<path fill="rgb(30,30,30)" d="M108 91.31h2v5.4375h-2zM98 96.75h1v5.4375h-1zM90 118.5h2v5.4375h-2zM128 140.2h3v5.4375h-3zM118 194.6h2v5.4375h-2zM90 221.8h2v5.4375h-2zM120 254.4h5v5.4375h-5zM120 292.5h5v5.4375h-5zM118 297.9h2v5.4375h-2zM118 308.8h2v5.4375h-2zM118 390.4h2v5.4375h-2zM94 395.8h4v5.4375h-4zM125 401.2h3v5.4375h-3zM108 488.2h2v5.4375h-2z"/>
<path fill="rgb(31,31,31)" d="M72 80.44h10v5.4375h-10zM128 156.6h3v5.4375h-3zM94 162h4v5.4375h-4zM101 232.7h2v5.4375h-2zM112 281.6h3v5.4375h-3zM108 297.9h2v5.4375h-2zM90 439.3h2v5.4375h-2zM101 444.8h2v5.4375h-2zM101 466.5h2v5.4375h-2z"/>
<path fill="rgb(32,32,32)" d="M108 96.75h2v5.4375h-2zM125 107.6h3v5.4375h-3zM112 123.9h3v5.4375h-3zM112 151.1h3v5.4375h-3zM94 172.9h4v5.4375h-4zM98 178.3h1v5.4375h-1zM108 178.3h2v5.4375h-2zM101 216.4h2v5.4375h-2zM112 232.7h3v5.4375h-3zM108 238.1h2v5.4375h-2zM99 265.3h2v5.4375h-2zM120 287.1h5v5.4375h-5zM120 336h5v5.4375h-5zM101 341.4h2v5.4375h-2zM98 368.6h1v5.4375h-1zM101 406.7h2v5.4375h-2zM90 417.6h2v5.4375h-2zM118 423h2v5.4375h-2z"/>
<path fill="rgb(33,33,33)" d="M90 80.44h2v5.4375h-2zM98 80.44h1v5.4375h-1zM133 118.5h3v5.4375h-3zM90 129.4h2v5.4375h-2zM125 134.8h3v5.4375h-3zM98 140.2h1v5.4375h-1zM98 162h1v5.4375h-1zM108 292.5h2v5.4375h-2zM118 303.4h2v5.4375h-2zM101 308.8h2v5.4375h-2zM118 368.6h2v5.4375h-2zM125 384.9h3v5.4375h-3zM120 390.4h5v5.4375h-5zM101 412.1h2v5.4375h-2zM120 504.6h5v5.4375h-5zM120 510h5v5.4375h-5zM120 515.4h5v5.4375h-5z"/>
<path fill="rgb(34,34,34)" d="M72 91.31h10v5.4375h-10zM108 167.4h2v5.4375h-2zM125 167.4h3v5.4375h-3zM72 183.8h10v5.4375h-10zM112 227.2h3v5.4375h-3zM118 259.9h2v5.4375h-2zM94 265.3h4v5.4375h-4zM125 325.1h3v5.4375h-3zM112 346.9h3v5.4375h-3zM94 482.8h4v5.4375h-4z"/>
<path fill="rgb(35,35,35)" d="M125 80.44h3v5.4375h-3zM128 129.4h3v5.4375h-3zM98 145.7h1v5.4375h-1zM90 156.6h2v5.4375h-2zM125 162h3v5.4375h-3zM112 167.4h3v5.4375h-3zM133 167.4h3v5.4375h-3zM131 172.9h2v5.4375h-2zM108 232.7h2v5.4375h-2zM94 249h4v5.4375h-4zM125 254.4h3v5.4375h-3zM118 276.2h2v5.4375h-2zM118 319.7h2v5.4375h-2zM112 368.6h3v5.4375h-3zM90 374.1h2v5.4375h-2zM94 374.1h4v5.4375h-4zM112 374.1h3v5.4375h-3zM112 401.2h3v5.4375h-3zM125 477.4h3v5.4375h-3zM108 482.8h2v5.4375h-2z"/>
<path fill="rgb(36,36,36)" d="M94 80.44h4v5.4375h-4zM118 91.31h2v5.4375h-2zM125 96.75h3v5.4375h-3zM118 107.6h2v5.4375h-2zM98 118.5h1v5.4375h-1zM112 172.9h3v5.4375h-3zM118 189.2h2v5.4375h-2zM108 210.9h2v5.4375h-2zM120 265.3h5v5.4375h-5zM115 292.5h3v5.4375h-3zM94 314.2h4v5.4375h-4zM94 330.6h4v5.4375h-4zM90 341.4h2v5.4375h-2zM101 379.5h2v5.4375h-2zM101 439.3h2v5.4375h-2zM112 471.9h3v5.4375h-3z"/>
<path fill="rgb(37,37,37)" d="M94 156.6h4v5.4375h-4zM131 167.4h2v5.4375h-2zM101 172.9h2v5.4375h-2zM72 178.3h10v5.4375h-10zM112 178.3h3v5.4375h-3zM131 178.3h2v5.4375h-2zM90 200.1h2v5.4375h-2zM101 270.8h2v5.4375h-2zM101 281.6h2v5.4375h-2zM120 428.4h5v5.4375h-5zM120 439.3h8v5.4375h-8zM108 477.4h2v5.4375h-2z"/>
<path fill="rgb(38,38,38)" d="M72 96.75h10v5.4375h-10zM112 102.2h3v5.4375h-3zM112 107.6h3v5.4375h-3zM133 162h3v5.4375h-3zM128 194.6h3v5.4375h-3zM90 210.9h2v5.4375h-2zM125 238.1h3v5.4375h-3zM94 259.9h4v5.4375h-4zM125 270.8h3v5.4375h-3zM118 281.6h2v5.4375h-2zM94 292.5h4v5.4375h-4zM110 314.2h2v5.4375h-2zM101 346.9h2v5.4375h-2zM90 395.8h2v5.4375h-2zM131 477.4h2v5.4375h-2zM108 504.6h2v5.4375h-2zM108 510h2v5.4375h-2zM108 515.4h2v5.4375h-2z"/>
<path fill="rgb(39,39,39)" d="M94 118.5h4v5.4375h-4zM90 123.9h2v5.4375h-2zM133 123.9h3v5.4375h-3zM94 134.8h4v5.4375h-4zM128 145.7h3v5.4375h-3zM118 156.6h2v5.4375h-2zM90 183.8h2v5.4375h-2zM101 210.9h2v5.4375h-2zM125 243.6h3v5.4375h-3zM92 265.3h2v5.4375h-2zM125 265.3h3v5.4375h-3zM94 384.9h4v5.4375h-4zM118 412.1h2v5.4375h-2zM125 423h3v5.4375h-3zM90 461.1h2v5.4375h-2zM120 471.9h5v5.4375h-5zM90 482.8h2v5.4375h-2z"/>
<path fill="rgb(40,40,40)" d="M128 123.9h3v5.4375h-3zM90 145.7h2v5.4375h-2zM94 145.7h4v5.4375h-4zM108 183.8h2v5.4375h-2zM125 189.2h3v5.4375h-3zM120 232.7h5v5.4375h-5zM94 254.4h4v5.4375h-4zM112 297.9h3v5.4375h-3zM92 330.6h2v5.4375h-2zM72 374.1h10v5.4375h-10zM101 374.1h2v5.4375h-2zM125 471.9h3v5.4375h-3z"/>
<path fill="rgb(41,41,41)" d="M98 113.1h1v5.4375h-1zM128 118.5h3v5.4375h-3zM101 140.2h2v5.4375h-2zM125 151.1h3v5.4375h-3zM133 151.1h3v5.4375h-3zM90 178.3h2v5.4375h-2zM112 183.8h3v5.4375h-3zM72 189.2h10v5.4375h-10zM101 194.6h2v5.4375h-2zM90 205.5h2v5.4375h-2zM118 205.5h2v5.4375h-2zM120 210.9h5v5.4375h-5zM120 216.4h5v5.4375h-5zM120 221.8h5v5.4375h-5zM115 232.7h3v5.4375h-3zM125 232.7h3v5.4375h-3zM110 259.9h2v5.4375h-2zM118 287.1h2v5.4375h-2zM112 292.5h3v5.4375h-3zM115 297.9h3v5.4375h-3zM131 368.6h2v5.4375h-2zM128 439.3h3v5.4375h-3zM120 461.1h5v5.4375h-5z"/>
<path fill="rgb(42,42,42)" d="M101 96.75h2v5.4375h-2zM118 167.4h2v5.4375h-2zM108 172.9h2v5.4375h-2zM125 172.9h3v5.4375h-3zM133 172.9h3v5.4375h-3zM94 178.3h4v5.4375h-4zM112 189.2h3v5.4375h-3zM133 189.2h3v5.4375h-3zM94 281.6h4v5.4375h-4zM115 308.8h3v5.4375h-3zM115 314.2h3v5.4375h-3zM92 325.1h2v5.4375h-2zM108 341.4h2v5.4375h-2zM94 346.9h4v5.4375h-4zM90 379.5h2v5.4375h-2zM120 379.5h5v5.4375h-5zM118 395.8h2v5.4375h-2zM94 444.8h4v5.4375h-4zM120 444.8h5v5.4375h-5zM94 450.2h4v5.4375h-4zM125 455.6h3v5.4375h-3z"/>
<path fill="rgb(43,43,43)" d="M98 107.6h1v5.4375h-1zM125 123.9h3v5.4375h-3zM94 140.2h4v5.4375h-4zM133 140.2h3v5.4375h-3zM108 162h2v5.4375h-2zM98 172.9h1v5.4375h-1zM125 183.8h3v5.4375h-3zM94 189.2h4v5.4375h-4zM94 200.1h4v5.4375h-4zM125 216.4h3v5.4375h-3zM108 249h2v5.4375h-2zM112 276.2h3v5.4375h-3zM101 287.1h2v5.4375h-2zM94 319.7h4v5.4375h-4zM133 341.4h3v5.4375h-3zM120 466.5h5v5.4375h-5zM120 477.4h5v5.4375h-5zM99 482.8h2v5.4375h-2z"/>
<path fill="rgb(44,44,44)" d="M94 113.1h4v5.4375h-4zM133 113.1h3v5.4375h-3zM133 129.4h3v5.4375h-3zM125 140.2h3v5.4375h-3zM94 151.1h4v5.4375h-4zM133 183.8h3v5.4375h-3zM108 287.1h2v5.4375h-2zM120 314.2h5v5.4375h-5zM94 325.1h4v5.4375h-4zM120 325.1h5v5.4375h-5zM120 346.9h5v5.4375h-5zM72 363.2h10v5.4375h-10zM72 368.6h10v5.4375h-10zM115 379.5h3v5.4375h-3zM108 444.8h2v5.4375h-2zM118 488.2h2v5.4375h-2zM125 504.6h3v5.4375h-3zM125 510h3v5.4375h-3zM125 515.4h3v5.4375h-3z"/>
<path fill="rgb(45,45,45)" d="M108 102.2h2v5.4375h-2zM94 129.4h4v5.4375h-4zM133 178.3h3v5.4375h-3zM108 194.6h2v5.4375h-2zM108 205.5h2v5.4375h-2zM72 216.4h10v5.4375h-10zM94 216.4h4v5.4375h-4zM101 238.1h2v5.4375h-2zM108 243.6h2v5.4375h-2zM120 384.9h5v5.4375h-5zM72 395.8h10v5.4375h-10zM108 417.6h2v5.4375h-2zM92 423h2v5.4375h-2zM101 433.9h2v5.4375h-2zM90 455.6h2v5.4375h-2zM94 504.6h4v5.4375h-4zM94 510h4v5.4375h-4zM94 515.4h4v5.4375h-4z"/>
<path fill="rgb(46,46,46)" d="M82 85.88h4v5.4375h-4zM72 162h10v5.4375h-10zM90 172.9h2v5.4375h-2zM118 232.7h2v5.4375h-2zM115 243.6h3v5.4375h-3zM112 254.4h3v5.4375h-3zM94 287.1h4v5.4375h-4zM110 308.8h2v5.4375h-2zM108 319.7h2v5.4375h-2zM92 352.3h2v5.4375h-2zM94 390.4h4v5.4375h-4zM92 433.9h2v5.4375h-2zM101 493.7h2v5.4375h-2z"/>
<path fill="rgb(47,47,47)" d="M72 85.88h10v5.4375h-10zM72 113.1h10v5.4375h-10zM72 134.8h10v5.4375h-10zM101 134.8h2v5.4375h-2zM128 151.1h3v5.4375h-3zM112 200.1h3v5.4375h-3zM125 210.9h3v5.4375h-3zM115 227.2h3v5.4375h-3zM125 227.2h3v5.4375h-3zM128 270.8h3v5.4375h-3zM92 308.8h2v5.4375h-2zM92 314.2h2v5.4375h-2zM90 336h2v5.4375h-2zM99 336h2v5.4375h-2zM92 379.5h2v5.4375h-2zM120 417.6h5v5.4375h-5zM118 493.7h2v5.4375h-2z"/>
<path fill="rgb(48,48,48)" d="M98 85.88h1v5.4375h-1zM101 85.88h2v5.4375h-2zM82 91.31h4v5.4375h-4zM125 145.7h3v5.4375h-3zM133 156.6h3v5.4375h-3zM125 200.1h3v5.4375h-3zM118 216.4h2v5.4375h-2zM99 227.2h2v5.4375h-2zM110 363.2h2v5.4375h-2zM72 390.4h10v5.4375h-10zM108 395.8h2v5.4375h-2zM120 395.8h5v5.4375h-5zM92 401.2h2v5.4375h-2zM92 428.4h2v5.4375h-2zM72 439.3h10v5.4375h-10zM112 450.2h3v5.4375h-3zM90 488.2h2v5.4375h-2zM94 493.7h4v5.4375h-4zM101 499.1h2v5.4375h-2z"/>
<path fill="rgb(49,49,49)" d="M118 96.75h2v5.4375h-2zM118 113.1h2v5.4375h-2zM118 118.5h2v5.4375h-2zM110 123.9h2v5.4375h-2zM110 129.4h2v5.4375h-2zM118 183.8h2v5.4375h-2zM72 200.1h10v5.4375h-10zM118 221.8h2v5.4375h-2zM72 232.7h10v5.4375h-10zM94 238.1h4v5.4375h-4zM118 270.8h2v5.4375h-2zM108 281.6h2v5.4375h-2zM125 281.6h3v5.4375h-3zM108 330.6h2v5.4375h-2zM94 379.5h4v5.4375h-4zM120 406.7h5v5.4375h-5zM94 412.1h4v5.4375h-4zM101 417.6h2v5.4375h-2zM101 455.6h2v5.4375h-2zM101 461.1h2v5.4375h-2zM92 493.7h2v5.4375h-2zM90 499.1h2v5.4375h-2zM125 499.1h3v5.4375h-3z"/>
<path fill="rgb(50,50,50)" d="M90 85.88h2v5.4375h-2zM118 129.4h2v5.4375h-2zM72 140.2h10v5.4375h-10zM90 151.1h2v5.4375h-2zM110 172.9h2v5.4375h-2zM90 189.2h2v5.4375h-2zM108 200.1h2v5.4375h-2zM92 221.8h2v5.4375h-2zM125 259.9h3v5.4375h-3zM110 297.9h2v5.4375h-2zM90 314.2h2v5.4375h-2zM101 314.2h2v5.4375h-2zM120 319.7h5v5.4375h-5zM125 428.4h3v5.4375h-3zM120 455.6h5v5.4375h-5zM99 493.7h2v5.4375h-2zM120 493.7h5v5.4375h-5z"/>
<path fill="rgb(51,51,51)" d="M118 80.44h2v5.4375h-2zM118 85.88h2v5.4375h-2zM125 85.88h3v5.4375h-3zM72 129.4h10v5.4375h-10zM133 134.8h3v5.4375h-3zM108 140.2h2v5.4375h-2zM72 151.1h10v5.4375h-10zM101 189.2h2v5.4375h-2zM101 200.1h2v5.4375h-2zM72 238.1h10v5.4375h-10zM92 303.4h2v5.4375h-2zM120 352.3h5v5.4375h-5zM115 390.4h3v5.4375h-3zM72 401.2h10v5.4375h-10zM120 412.1h5v5.4375h-5zM108 428.4h2v5.4375h-2zM125 433.9h3v5.4375h-3z"/>
<path fill="rgb(52,52,52)" d="M112 80.44h3v5.4375h-3zM108 107.6h2v5.4375h-2zM110 118.5h2v5.4375h-2zM118 151.1h2v5.4375h-2zM98 167.4h1v5.4375h-1zM101 178.3h2v5.4375h-2zM110 183.8h2v5.4375h-2zM72 205.5h10v5.4375h-10zM115 210.9h3v5.4375h-3zM125 221.8h3v5.4375h-3zM101 254.4h2v5.4375h-2zM92 357.8h2v5.4375h-2zM133 417.6h3v5.4375h-3zM92 439.3h2v5.4375h-2zM90 504.6h2v5.4375h-2zM90 510h2v5.4375h-2zM90 515.4h2v5.4375h-2z"/>
<path fill="rgb(53,53,53)" d="M82 140.2h4v5.4375h-4zM90 167.4h2v5.4375h-2zM92 172.9h2v5.4375h-2zM92 200.1h2v5.4375h-2zM72 210.9h10v5.4375h-10zM72 221.8h10v5.4375h-10zM115 238.1h3v5.4375h-3zM99 254.4h2v5.4375h-2zM110 270.8h2v5.4375h-2zM92 297.9h2v5.4375h-2zM110 346.9h2v5.4375h-2zM115 346.9h3v5.4375h-3zM115 444.8h3v5.4375h-3z"/>
<path fill="rgb(54,54,54)" d="M125 129.4h3v5.4375h-3zM101 145.7h2v5.4375h-2zM108 145.7h2v5.4375h-2zM92 178.3h2v5.4375h-2zM125 178.3h3v5.4375h-3zM92 189.2h2v5.4375h-2zM125 194.6h3v5.4375h-3zM99 221.8h2v5.4375h-2zM110 254.4h2v5.4375h-2zM125 287.1h3v5.4375h-3zM108 325.1h2v5.4375h-2zM99 368.6h2v5.4375h-2zM92 406.7h2v5.4375h-2z"/>
<path fill="rgb(55,55,55)" d="M101 80.44h2v5.4375h-2zM101 91.31h2v5.4375h-2zM118 145.7h2v5.4375h-2zM72 156.6h10v5.4375h-10zM101 162h2v5.4375h-2zM101 167.4h2v5.4375h-2zM92 194.6h2v5.4375h-2zM92 395.8h2v5.4375h-2zM115 395.8h3v5.4375h-3zM120 450.2h5v5.4375h-5zM120 488.2h5v5.4375h-5zM115 493.7h3v5.4375h-3z"/>
<path fill="rgb(56,56,56)" d="M94 85.88h4v5.4375h-4zM72 107.6h10v5.4375h-10zM108 118.5h2v5.4375h-2zM125 156.6h3v5.4375h-3zM92 183.8h2v5.4375h-2zM125 205.5h3v5.4375h-3zM99 243.6h2v5.4375h-2zM92 259.9h2v5.4375h-2zM92 276.2h2v5.4375h-2zM115 319.7h3v5.4375h-3zM110 352.3h2v5.4375h-2zM108 406.7h2v5.4375h-2zM110 428.4h2v5.4375h-2zM92 455.6h2v5.4375h-2zM101 504.6h2v5.4375h-2zM101 510h2v5.4375h-2zM101 515.4h2v5.4375h-2z"/>
<path fill="rgb(57,57,57)" d="M82 80.44h4v5.4375h-4zM72 118.5h10v5.4375h-10zM118 178.3h2v5.4375h-2zM94 227.2h4v5.4375h-4zM99 238.1h2v5.4375h-2zM115 330.6h3v5.4375h-3zM72 357.8h10v5.4375h-10zM110 379.5h2v5.4375h-2zM115 401.2h3v5.4375h-3zM120 401.2h5v5.4375h-5zM94 417.6h4v5.4375h-4zM115 439.3h3v5.4375h-3zM99 450.2h2v5.4375h-2zM110 450.2h2v5.4375h-2zM115 455.6h3v5.4375h-3z"/>
<path fill="rgb(58,58,58)" d="M110 96.75h2v5.4375h-2zM110 162h2v5.4375h-2zM72 194.6h10v5.4375h-10zM115 205.5h3v5.4375h-3zM118 210.9h2v5.4375h-2zM115 249h3v5.4375h-3zM99 276.2h2v5.4375h-2zM110 276.2h2v5.4375h-2zM72 314.2h10v5.4375h-10zM99 330.6h2v5.4375h-2zM108 336h2v5.4375h-2zM92 341.4h2v5.4375h-2zM72 352.3h10v5.4375h-10zM120 357.8h5v5.4375h-5zM115 450.2h3v5.4375h-3zM115 466.5h3v5.4375h-3zM110 482.8h2v5.4375h-2z"/>
<path fill="rgb(59,59,59)" d="M82 129.4h4v5.4375h-4zM108 129.4h2v5.4375h-2zM108 151.1h2v5.4375h-2zM92 205.5h2v5.4375h-2zM115 216.4h3v5.4375h-3zM92 227.2h2v5.4375h-2zM72 243.6h10v5.4375h-10zM99 259.9h2v5.4375h-2zM99 292.5h2v5.4375h-2zM133 292.5h3v5.4375h-3zM110 319.7h2v5.4375h-2zM72 336h10v5.4375h-10zM92 368.6h2v5.4375h-2zM120 374.1h5v5.4375h-5zM115 423h3v5.4375h-3zM110 455.6h2v5.4375h-2zM72 482.8h10v5.4375h-10z"/>
<path fill="rgb(60,60,60)" d="M82 96.75h4v5.4375h-4zM82 102.2h4v5.4375h-4zM72 123.9h14v5.4375h-14zM82 134.8h4v5.4375h-4zM133 145.7h3v5.4375h-3zM92 167.4h2v5.4375h-2zM94 194.6h4v5.4375h-4zM92 243.6h2v5.4375h-2zM99 249h2v5.4375h-2zM101 325.1h2v5.4375h-2zM99 346.9h2v5.4375h-2zM115 352.3h3v5.4375h-3zM115 357.8h3v5.4375h-3zM115 428.4h3v5.4375h-3zM115 433.9h3v5.4375h-3z"/>
<path fill="rgb(61,61,61)" d="M72 102.2h10v5.4375h-10zM82 107.6h4v5.4375h-4zM108 113.1h2v5.4375h-2zM118 172.9h2v5.4375h-2zM120 200.1h5v5.4375h-5zM110 238.1h2v5.4375h-2zM110 249h2v5.4375h-2zM92 254.4h2v5.4375h-2zM118 265.3h2v5.4375h-2zM125 297.9h3v5.4375h-3zM72 346.9h10v5.4375h-10zM115 412.1h3v5.4375h-3zM101 428.4h2v5.4375h-2zM72 466.5h10v5.4375h-10zM99 477.4h2v5.4375h-2z"/>
<path fill="rgb(62,62,62)" d="M82 118.5h4v5.4375h-4zM101 118.5h2v5.4375h-2zM115 172.9h3v5.4375h-3zM110 210.9h2v5.4375h-2zM101 249h2v5.4375h-2zM125 292.5h3v5.4375h-3zM125 303.4h3v5.4375h-3zM99 325.1h2v5.4375h-2zM92 346.9h2v5.4375h-2zM92 384.9h2v5.4375h-2zM115 504.6h3v5.4375h-3zM115 510h3v5.4375h-3zM115 515.4h3v5.4375h-3z"/>
<path fill="rgb(63,63,63)" d="M94 102.2h4v5.4375h-4zM101 123.9h2v5.4375h-2zM72 145.7h14v5.4375h-14zM108 156.6h2v5.4375h-2zM115 162h3v5.4375h-3zM115 167.4h3v5.4375h-3zM115 221.8h3v5.4375h-3zM92 238.1h2v5.4375h-2zM72 319.7h10v5.4375h-10zM115 341.4h3v5.4375h-3zM110 417.6h2v5.4375h-2zM110 439.3h2v5.4375h-2zM72 444.8h10v5.4375h-10zM112 461.1h6v5.4375h-6z"/>
<path fill="rgb(64,64,64)" d="M110 85.88h5v5.4375h-5zM94 107.6h4v5.4375h-4zM110 156.6h2v5.4375h-2zM94 221.8h4v5.4375h-4zM72 227.2h10v5.4375h-10zM101 336h2v5.4375h-2zM131 352.3h2v5.4375h-2zM99 363.2h2v5.4375h-2zM120 368.6h5v5.4375h-5zM99 444.8h2v5.4375h-2zM110 461.1h2v5.4375h-2zM92 482.8h2v5.4375h-2zM92 488.2h2v5.4375h-2zM92 499.1h2v5.4375h-2z"/>
<path fill="rgb(65,65,65)" d="M110 102.2h2v5.4375h-2zM82 113.1h4v5.4375h-4zM118 123.9h2v5.4375h-2zM92 145.7h2v5.4375h-2zM82 151.1h4v5.4375h-4zM120 172.9h5v5.4375h-5zM110 178.3h2v5.4375h-2zM72 341.4h10v5.4375h-10zM92 363.2h2v5.4375h-2zM110 368.6h2v5.4375h-2zM72 384.9h10v5.4375h-10zM72 433.9h10v5.4375h-10zM108 433.9h4v5.4375h-4zM94 439.3h4v5.4375h-4zM99 471.9h2v5.4375h-2zM72 477.4h10v5.4375h-10zM103 477.4h5v5.4375h-5zM92 504.6h2v5.4375h-2zM92 510h2v5.4375h-2zM92 515.4h2v5.4375h-2z"/>
<path fill="rgb(66,66,66)" d="M110 91.31h2v5.4375h-2zM120 167.4h5v5.4375h-5zM115 270.8h3v5.4375h-3zM101 319.7h2v5.4375h-2zM110 325.1h2v5.4375h-2zM115 325.1h3v5.4375h-3zM72 330.6h10v5.4375h-10zM115 363.2h3v5.4375h-3zM115 406.7h3v5.4375h-3zM72 417.6h10v5.4375h-10z"/>
<path fill="rgb(67,67,67)" d="M128 85.88h5v5.4375h-5zM94 91.31h4v5.4375h-4zM112 91.31h3v5.4375h-3zM112 96.75h3v5.4375h-3zM92 162h2v5.4375h-2zM82 172.9h4v5.4375h-4zM99 216.4h2v5.4375h-2zM110 232.7h2v5.4375h-2zM72 249h10v5.4375h-10zM72 297.9h10v5.4375h-10zM110 384.9h2v5.4375h-2zM110 406.7h2v5.4375h-2zM99 412.1h2v5.4375h-2zM99 461.1h2v5.4375h-2zM110 477.4h2v5.4375h-2zM115 499.1h3v5.4375h-3zM99 504.6h2v5.4375h-2zM99 510h2v5.4375h-2zM99 515.4h2v5.4375h-2z"/>
<path fill="rgb(68,68,68)" d="M135 80.44h1v5.4375h-1zM92 107.6h2v5.4375h-2zM101 107.6h2v5.4375h-2zM118 140.2h2v5.4375h-2zM82 162h4v5.4375h-4zM110 189.2h2v5.4375h-2zM110 227.2h2v5.4375h-2zM101 243.6h2v5.4375h-2zM115 265.3h3v5.4375h-3zM110 281.6h2v5.4375h-2zM72 308.8h10v5.4375h-10zM110 341.4h2v5.4375h-2zM99 379.5h2v5.4375h-2zM99 406.7h2v5.4375h-2zM92 412.1h2v5.4375h-2zM110 444.8h2v5.4375h-2zM92 450.2h2v5.4375h-2zM115 482.8h3v5.4375h-3zM115 488.2h3v5.4375h-3z"/>
<path fill="rgb(69,69,69)" d="M118 102.2h2v5.4375h-2zM110 113.1h2v5.4375h-2zM92 151.1h2v5.4375h-2zM82 156.6h4v5.4375h-4zM110 167.4h2v5.4375h-2zM110 200.1h2v5.4375h-2zM92 216.4h2v5.4375h-2zM72 254.4h10v5.4375h-10zM115 259.9h3v5.4375h-3zM92 292.5h2v5.4375h-2zM99 308.8h2v5.4375h-2zM72 325.1h10v5.4375h-10zM99 357.8h2v5.4375h-2z"/>
<path fill="rgb(70,70,70)" d="M92 113.1h2v5.4375h-2zM92 140.2h2v5.4375h-2zM101 156.6h2v5.4375h-2zM82 178.3h4v5.4375h-4zM115 178.3h3v5.4375h-3zM120 178.3h5v5.4375h-5zM82 221.8h4v5.4375h-4zM92 249h2v5.4375h-2zM92 390.4h2v5.4375h-2z"/>
<path fill="rgb(71,71,71)" d="M99 91.31h2v5.4375h-2zM92 102.2h2v5.4375h-2zM115 118.5h3v5.4375h-3zM120 194.6h5v5.4375h-5zM99 281.6h2v5.4375h-2zM110 303.4h2v5.4375h-2zM110 390.4h2v5.4375h-2zM110 401.2h2v5.4375h-2zM72 412.1h10v5.4375h-10zM99 417.6h2v5.4375h-2zM115 417.6h3v5.4375h-3zM72 428.4h10v5.4375h-10z"/>
<path fill="rgb(72,72,72)" d="M92 85.88h2v5.4375h-2zM92 129.4h2v5.4375h-2zM110 151.1h2v5.4375h-2zM110 194.6h2v5.4375h-2zM92 232.7h2v5.4375h-2zM115 276.2h3v5.4375h-3zM110 423h2v5.4375h-2zM92 444.8h2v5.4375h-2zM103 482.8h5v5.4375h-5z"/>
<path fill="rgb(73,73,73)" d="M129 80.44h3v5.4375h-3zM125 91.31h3v5.4375h-3zM94 96.75h4v5.4375h-4zM92 156.6h2v5.4375h-2zM110 221.8h2v5.4375h-2zM99 232.7h2v5.4375h-2zM110 336h2v5.4375h-2zM72 455.6h10v5.4375h-10zM72 461.1h10v5.4375h-10zM92 461.1h2v5.4375h-2zM92 477.4h2v5.4375h-2zM110 488.2h2v5.4375h-2z"/>
<path fill="rgb(74,74,74)" d="M99 85.88h2v5.4375h-2zM101 102.2h2v5.4375h-2zM110 107.6h2v5.4375h-2zM101 129.4h2v5.4375h-2zM99 167.4h2v5.4375h-2zM72 276.2h10v5.4375h-10zM92 281.6h2v5.4375h-2zM72 292.5h10v5.4375h-10zM72 423h10v5.4375h-10z"/>
<path fill="rgb(75,75,75)" d="M115 85.88h3v5.4375h-3zM115 113.1h3v5.4375h-3zM108 123.9h2v5.4375h-2zM118 134.8h2v5.4375h-2zM120 189.2h5v5.4375h-5zM99 194.6h2v5.4375h-2zM110 243.6h2v5.4375h-2zM72 281.6h10v5.4375h-10zM99 352.3h2v5.4375h-2zM72 406.7h10v5.4375h-10zM110 471.9h2v5.4375h-2z"/>
<path fill="rgb(76,76,76)" d="M92 96.75h2v5.4375h-2zM115 96.75h3v5.4375h-3zM99 107.6h2v5.4375h-2zM115 151.1h3v5.4375h-3zM115 254.4h3v5.4375h-3zM99 319.7h2v5.4375h-2zM110 330.6h2v5.4375h-2zM99 374.1h2v5.4375h-2zM99 466.5h2v5.4375h-2zM72 488.2h10v5.4375h-10z"/>
<path fill="rgb(77,77,77)" d="M92 80.44h2v5.4375h-2zM115 123.9h3v5.4375h-3zM101 151.1h2v5.4375h-2zM120 183.8h5v5.4375h-5zM99 189.2h2v5.4375h-2zM115 287.1h3v5.4375h-3zM99 401.2h2v5.4375h-2zM92 417.6h2v5.4375h-2zM99 423h2v5.4375h-2zM92 466.5h2v5.4375h-2zM115 471.9h3v5.4375h-3zM103 488.2h5v5.4375h-5zM72 493.7h10v5.4375h-10z"/>
<path fill="rgb(78,78,78)" d="M110 80.44h2v5.4375h-2zM110 134.8h2v5.4375h-2zM115 145.7h3v5.4375h-3zM99 162h2v5.4375h-2zM115 183.8h3v5.4375h-3zM82 205.5h4v5.4375h-4zM72 303.4h10v5.4375h-10zM110 374.1h2v5.4375h-2zM110 395.8h2v5.4375h-2zM99 439.3h2v5.4375h-2zM72 450.2h10v5.4375h-10zM110 466.5h2v5.4375h-2zM103 471.9h5v5.4375h-5z"/>
<path fill="rgb(79,79,79)" d="M102 64.12h3v5.4375h-3zM102 69.56h3v5.4375h-3zM102 75h3v5.4375h-3zM99 314.2h2v5.4375h-2zM99 384.9h2v5.4375h-2zM110 412.1h2v5.4375h-2zM94 433.9h4v5.4375h-4z"/>
<path fill="rgb(80,80,80)" d="M133 91.31h3v5.4375h-3zM92 123.9h2v5.4375h-2zM82 167.4h4v5.4375h-4zM115 189.2h3v5.4375h-3zM115 194.6h3v5.4375h-3zM72 287.1h10v5.4375h-10zM99 297.9h2v5.4375h-2zM120 363.2h5v5.4375h-5zM72 504.6h10v5.4375h-10zM72 510h10v5.4375h-10zM72 515.4h10v5.4375h-10z"/>
<path fill="rgb(81,81,81)" d="M92 118.5h2v5.4375h-2zM92 134.8h2v5.4375h-2zM115 200.1h3v5.4375h-3zM92 210.9h2v5.4375h-2z"/>
<path fill="rgb(82,82,82)" d="M99 102.2h2v5.4375h-2zM115 140.2h3v5.4375h-3zM120 162h5v5.4375h-5zM99 183.8h2v5.4375h-2zM99 395.8h2v5.4375h-2zM72 499.1h10v5.4375h-10z"/>
<path fill="rgb(83,83,83)" d="M87 64.12h3v5.4375h-3zM87 69.56h3v5.4375h-3zM87 75h3v5.4375h-3zM115 80.44h3v5.4375h-3zM99 200.1h2v5.4375h-2zM115 281.6h3v5.4375h-3zM94 423h4v5.4375h-4zM110 493.7h2v5.4375h-2z"/>
<path fill="rgb(84,84,84)" d="M105 64.12h3v5.4375h-3zM105 69.56h3v5.4375h-3zM105 75h3v5.4375h-3zM99 80.44h2v5.4375h-2zM115 91.31h3v5.4375h-3zM115 102.2h3v5.4375h-3zM99 156.6h2v5.4375h-2zM99 172.9h2v5.4375h-2zM82 183.8h4v5.4375h-4zM82 200.1h4v5.4375h-4zM99 303.4h2v5.4375h-2zM103 493.7h5v5.4375h-5z"/>
<path fill="rgb(85,85,85)" d="M99 96.75h2v5.4375h-2zM99 428.4h2v5.4375h-2zM99 433.9h2v5.4375h-2z"/>
<path fill="rgb(86,86,86)" d="M110 216.4h2v5.4375h-2zM72 270.8h10v5.4375h-10zM92 287.1h2v5.4375h-2z"/>
<path fill="rgb(87,87,87)" d="M110 145.7h2v5.4375h-2zM82 210.9h4v5.4375h-4zM72 265.3h10v5.4375h-10zM99 287.1h2v5.4375h-2zM103 384.9h5v5.4375h-5z"/>
<path fill="rgb(88,88,88)" d="M126 64.12h3v5.4375h-3zM132 64.12h3v5.4375h-3zM126 69.56h3v5.4375h-3zM132 69.56h3v5.4375h-3zM126 75h3v5.4375h-3zM132 75h3v5.4375h-3zM92 91.31h2v5.4375h-2zM99 118.5h2v5.4375h-2zM99 178.3h2v5.4375h-2zM82 189.2h4v5.4375h-4zM103 346.9h5v5.4375h-5zM99 390.4h2v5.4375h-2z"/>
<path fill="rgb(89,89,89)" d="M120 80.44h5v5.4375h-5zM110 140.2h2v5.4375h-2zM115 156.6h3v5.4375h-3zM72 259.9h10v5.4375h-10zM82 471.9h4v5.4375h-4zM110 499.1h2v5.4375h-2z"/>
<path fill="rgb(90,90,90)" d="M103 466.5h5v5.4375h-5z"/>
<path fill="rgb(91,91,91)" d="M90 64.12h3v5.4375h-3zM123 64.12h3v5.4375h-3zM90 69.56h3v5.4375h-3zM123 69.56h3v5.4375h-3zM90 75h3v5.4375h-3zM123 75h3v5.4375h-3zM115 129.4h3v5.4375h-3zM99 134.8h2v5.4375h-2zM82 194.6h4v5.4375h-4z"/>
<path fill="rgb(92,92,92)" d="M99 129.4h2v5.4375h-2zM82 232.7h4v5.4375h-4zM82 249h4v5.4375h-4z"/>
<path fill="rgb(93,93,93)" d="M128 80.44h1v5.4375h-1zM99 113.1h2v5.4375h-2zM120 118.5h5v5.4375h-5zM82 216.4h4v5.4375h-4zM82 238.1h4v5.4375h-4zM82 243.6h4v5.4375h-4zM82 423h4v5.4375h-4z"/>
<path fill="rgb(94,94,94)" d="M120 123.9h5v5.4375h-5zM120 145.7h5v5.4375h-5zM99 205.5h2v5.4375h-2zM82 227.2h4v5.4375h-4zM82 254.4h4v5.4375h-4zM103 450.2h5v5.4375h-5zM82 488.2h4v5.4375h-4z"/>
<path fill="rgb(95,95,95)" d="M84 64.12h3v5.4375h-3zM84 69.56h3v5.4375h-3zM84 75h3v5.4375h-3zM99 123.9h2v5.4375h-2zM103 287.1h5v5.4375h-5zM103 379.5h5v5.4375h-5zM103 390.4h5v5.4375h-5zM82 433.9h4v5.4375h-4zM82 455.6h4v5.4375h-4z"/>
<path fill="rgb(96,96,96)" d="M120 91.31h5v5.4375h-5zM120 129.4h5v5.4375h-5zM103 200.1h5v5.4375h-5zM103 270.8h5v5.4375h-5z"/>
<path fill="rgb(97,97,97)" d="M115 107.6h3v5.4375h-3zM120 113.1h5v5.4375h-5zM103 238.1h5v5.4375h-5zM103 276.2h5v5.4375h-5zM82 395.8h4v5.4375h-4zM82 417.6h4v5.4375h-4zM82 439.3h4v5.4375h-4zM103 444.8h5v5.4375h-5zM82 477.4h4v5.4375h-4zM110 504.6h2v5.4375h-2zM110 510h2v5.4375h-2zM110 515.4h2v5.4375h-2z"/>
<path fill="rgb(98,98,98)" d="M93 64.12h3v5.4375h-3zM93 69.56h3v5.4375h-3zM93 75h3v5.4375h-3zM115 134.8h3v5.4375h-3zM82 259.9h4v5.4375h-4zM103 314.2h5v5.4375h-5zM103 363.2h5v5.4375h-5zM94 428.4h4v5.4375h-4zM103 499.1h5v5.4375h-5z"/>
<path fill="rgb(99,99,99)" d="M120 140.2h5v5.4375h-5zM99 151.1h2v5.4375h-2zM82 374.1h4v5.4375h-4zM82 428.4h4v5.4375h-4zM82 493.7h4v5.4375h-4z"/>
<path fill="rgb(100,100,100)" d="M120 85.88h5v5.4375h-5zM103 336h5v5.4375h-5zM82 406.7h4v5.4375h-4zM82 482.8h4v5.4375h-4zM82 499.1h4v5.4375h-4zM82 504.6h4v5.4375h-4zM82 510h4v5.4375h-4zM82 515.4h4v5.4375h-4z"/>
<path fill="rgb(101,101,101)" d="M96 64.12h3v5.4375h-3zM114 64.12h3v5.4375h-3zM96 69.56h3v5.4375h-3zM114 69.56h3v5.4375h-3zM96 75h3v5.4375h-3zM114 75h3v5.4375h-3zM120 102.2h5v5.4375h-5zM103 292.5h5v5.4375h-5zM82 314.2h4v5.4375h-4zM103 368.6h5v5.4375h-5zM82 379.5h4v5.4375h-4z"/>
<path fill="rgb(102,102,102)" d="M103 221.8h5v5.4375h-5zM103 227.2h5v5.4375h-5zM82 308.8h4v5.4375h-4zM103 341.4h5v5.4375h-5zM103 357.8h5v5.4375h-5z"/>
<path fill="rgb(103,103,103)" d="M120 64.12h3v5.4375h-3zM120 69.56h3v5.4375h-3zM120 75h3v5.4375h-3zM103 281.6h5v5.4375h-5zM82 292.5h4v5.4375h-4zM82 319.7h4v5.4375h-4zM103 395.8h5v5.4375h-5zM103 455.6h5v5.4375h-5zM103 461.1h5v5.4375h-5zM82 466.5h4v5.4375h-4z"/>
<path fill="rgb(104,104,104)" d="M120 107.6h5v5.4375h-5zM120 156.6h5v5.4375h-5zM103 167.4h5v5.4375h-5zM82 384.9h4v5.4375h-4zM103 423h5v5.4375h-5zM82 450.2h4v5.4375h-4z"/>
<path fill="rgb(105,105,105)" d="M82 303.4h4v5.4375h-4zM103 504.6h5v5.4375h-5zM103 510h5v5.4375h-5zM103 515.4h5v5.4375h-5z"/>
<path fill="rgb(106,106,106)" d="M81 64.12h3v5.4375h-3zM81 69.56h3v5.4375h-3zM81 75h3v5.4375h-3zM103 118.5h5v5.4375h-5zM103 178.3h5v5.4375h-5zM103 183.8h5v5.4375h-5zM103 205.5h5v5.4375h-5zM82 357.8h4v5.4375h-4zM103 374.1h5v5.4375h-5zM82 461.1h4v5.4375h-4z"/>
<path fill="rgb(107,107,107)" d="M72 64.12h9v5.4375h-9zM108 64.12h3v5.4375h-3zM72 69.56h9v5.4375h-9zM108 69.56h3v5.4375h-3zM72 75h9v5.4375h-9zM108 75h3v5.4375h-3zM120 151.1h5v5.4375h-5zM103 189.2h5v5.4375h-5zM82 270.8h4v5.4375h-4zM82 352.3h4v5.4375h-4zM103 352.3h5v5.4375h-5zM103 417.6h5v5.4375h-5z"/>
<path fill="rgb(108,108,108)" d="M103 134.8h5v5.4375h-5zM99 145.7h2v5.4375h-2zM103 216.4h5v5.4375h-5zM82 412.1h4v5.4375h-4zM82 444.8h4v5.4375h-4z"/>
<path fill="rgb(109,109,109)" d="M99 140.2h2v5.4375h-2zM103 210.9h5v5.4375h-5zM82 276.2h4v5.4375h-4zM103 319.7h5v5.4375h-5zM103 428.4h5v5.4375h-5z"/>
<path fill="rgb(110,110,110)" d="M99 64.12h3v5.4375h-3zM99 69.56h3v5.4375h-3zM99 75h3v5.4375h-3zM132 80.44h3v5.4375h-3zM103 140.2h5v5.4375h-5zM82 287.1h4v5.4375h-4z"/>
<path fill="rgb(111,111,111)" d="M103 172.9h5v5.4375h-5zM103 243.6h5v5.4375h-5zM103 303.4h5v5.4375h-5zM103 325.1h5v5.4375h-5zM103 330.6h5v5.4375h-5zM82 341.4h4v5.4375h-4zM82 390.4h4v5.4375h-4zM103 433.9h5v5.4375h-5z"/>
<path fill="rgb(112,112,112)" d="M135 64.12h1v5.4375h-1zM135 69.56h1v5.4375h-1zM135 75h1v5.4375h-1zM103 80.44h5v5.4375h-5zM103 129.4h5v5.4375h-5zM103 156.6h5v5.4375h-5zM82 265.3h4v5.4375h-4zM103 308.8h5v5.4375h-5zM82 401.2h4v5.4375h-4zM103 406.7h5v5.4375h-5z"/>
<path fill="rgb(113,113,113)" d="M103 91.31h5v5.4375h-5zM103 123.9h5v5.4375h-5z"/>
<path fill="rgb(114,114,114)" d="M129 64.12h3v5.4375h-3zM129 69.56h3v5.4375h-3zM129 75h3v5.4375h-3zM82 297.9h4v5.4375h-4zM82 325.1h4v5.4375h-4zM82 368.6h4v5.4375h-4zM103 401.2h5v5.4375h-5z"/>
<path fill="rgb(115,115,115)" d="M111 64.12h3v5.4375h-3zM111 69.56h3v5.4375h-3zM111 75h3v5.4375h-3zM103 113.1h5v5.4375h-5zM103 412.1h5v5.4375h-5zM103 439.3h5v5.4375h-5z"/>
<path fill="rgb(116,116,116)" d="M103 96.75h5v5.4375h-5zM103 102.2h5v5.4375h-5zM103 107.6h5v5.4375h-5zM103 151.1h5v5.4375h-5zM103 232.7h5v5.4375h-5z"/>
<path fill="rgb(117,117,117)" d="M117 64.12h3v5.4375h-3zM117 69.56h3v5.4375h-3zM117 75h3v5.4375h-3zM103 145.7h5v5.4375h-5zM103 249h5v5.4375h-5zM103 254.4h5v5.4375h-5zM103 259.9h5v5.4375h-5zM82 281.6h4v5.4375h-4z"/>
<path fill="rgb(118,118,118)" d="M103 297.9h5v5.4375h-5zM82 363.2h4v5.4375h-4z"/>
<path fill="rgb(119,119,119)" d="M103 162h5v5.4375h-5z"/>
<path fill="rgb(120,120,120)" d="M103 85.88h5v5.4375h-5zM82 336h4v5.4375h-4z"/>
<path fill="rgb(121,121,121)" d="M103 194.6h5v5.4375h-5zM82 346.9h4v5.4375h-4z"/>
<path fill="rgb(122,122,122)" d="M103 265.3h5v5.4375h-5z"/>
<path fill="rgb(123,123,123)" d="M82 330.6h4v5.4375h-4z"/>
<path fill="rgb(124,124,124)" d="M120 96.75h5v5.4375h-5z"/>
<path fill="rgb(126,126,126)" d="M86 129.4h4v5.4375h-4z"/>
<path fill="rgb(127,127,127)" d="M86 85.88h4v5.4375h-4zM86 276.2h4v5.4375h-4z"/>
<path fill="rgb(128,128,128)" d="M86 151.1h4v5.4375h-4z"/>
<path fill="rgb(130,130,130)" d="M86 134.8h4v5.4375h-4z"/>
<path fill="rgb(131,131,131)" d="M86 102.2h4v5.4375h-4zM86 292.5h4v5.4375h-4zM86 401.2h4v5.4375h-4z"/>
<path fill="rgb(132,132,132)" d="M86 308.8h4v5.4375h-4zM86 379.5h4v5.4375h-4zM86 423h4v5.4375h-4z"/>
<path fill="rgb(133,133,133)" d="M86 254.4h4v5.4375h-4zM86 287.1h4v5.4375h-4z"/>
<path fill="rgb(134,134,134)" d="M86 91.31h4v5.4375h-4zM86 145.7h4v5.4375h-4zM86 259.9h4v5.4375h-4zM86 265.3h4v5.4375h-4zM86 444.8h4v5.4375h-4zM86 504.6h4v5.4375h-4zM86 510h4v5.4375h-4zM86 515.4h4v5.4375h-4z"/>
<path fill="rgb(135,135,135)" d="M86 156.6h4v5.4375h-4zM86 167.4h4v5.4375h-4zM86 178.3h4v5.4375h-4zM86 384.9h4v5.4375h-4z"/>
<path fill="rgb(136,136,136)" d="M86 80.44h4v5.4375h-4zM86 107.6h4v5.4375h-4zM86 118.5h4v5.4375h-4zM86 281.6h4v5.4375h-4zM86 319.7h4v5.4375h-4zM86 395.8h4v5.4375h-4z"/>
<path fill="rgb(137,137,137)" d="M86 96.75h4v5.4375h-4zM86 352.3h4v5.4375h-4zM86 455.6h4v5.4375h-4zM86 499.1h4v5.4375h-4z"/>
<path fill="rgb(138,138,138)" d="M86 162h4v5.4375h-4zM86 194.6h4v5.4375h-4zM86 303.4h4v5.4375h-4zM86 346.9h4v5.4375h-4zM86 450.2h4v5.4375h-4z"/>
<path fill="rgb(139,139,139)" d="M86 123.9h4v5.4375h-4zM86 270.8h4v5.4375h-4zM86 336h4v5.4375h-4zM86 390.4h4v5.4375h-4z"/>
<path fill="rgb(140,140,140)" d="M86 172.9h4v5.4375h-4zM86 183.8h4v5.4375h-4zM86 439.3h4v5.4375h-4z"/>
<path fill="rgb(141,141,141)" d="M86 488.2h4v5.4375h-4zM86 493.7h4v5.4375h-4z"/>
<path fill="rgb(142,142,142)" d="M86 140.2h4v5.4375h-4zM86 249h4v5.4375h-4zM86 325.1h4v5.4375h-4zM86 461.1h4v5.4375h-4z"/>
<path fill="rgb(143,143,143)" d="M86 374.1h4v5.4375h-4zM86 428.4h4v5.4375h-4zM86 433.9h4v5.4375h-4z"/>
<path fill="rgb(144,144,144)" d="M86 221.8h4v5.4375h-4zM86 357.8h4v5.4375h-4zM86 406.7h4v5.4375h-4zM86 412.1h4v5.4375h-4zM86 417.6h4v5.4375h-4z"/>
<path fill="rgb(145,145,145)" d="M86 210.9h4v5.4375h-4zM86 297.9h4v5.4375h-4zM86 341.4h4v5.4375h-4zM86 466.5h4v5.4375h-4zM86 477.4h4v5.4375h-4z"/>
<path fill="rgb(146,146,146)" d="M86 113.1h4v5.4375h-4zM86 200.1h4v5.4375h-4zM86 314.2h4v5.4375h-4zM86 368.6h4v5.4375h-4z"/>
<path fill="rgb(147,147,147)" d="M86 227.2h4v5.4375h-4zM86 330.6h4v5.4375h-4z"/>
<path fill="rgb(148,148,148)" d="M86 363.2h4v5.4375h-4z"/>
<path fill="rgb(149,149,149)" d="M86 189.2h4v5.4375h-4zM86 471.9h4v5.4375h-4z"/>
<path fill="rgb(150,150,150)" d="M86 216.4h4v5.4375h-4z"/>
<path fill="rgb(151,151,151)" d="M86 243.6h4v5.4375h-4z"/>
<path fill="rgb(152,152,152)" d="M86 205.5h4v5.4375h-4zM86 238.1h4v5.4375h-4zM86 482.8h4v5.4375h-4z"/>
<path fill="rgb(156,156,156)" d="M86 232.7h4v5.4375h-4z"/>
</g></g>
<g clip-path="url(#c1)"><g filter="url(#z1)"><rect x="120" y="62" width="78" height="456" fill="#000"/>
<path fill="rgb(10,10,10)" d="M125 363.2h3v5.4375h-3z"/>
<path fill="rgb(12,12,12)" d="M125 314.2h3v5.4375h-3z"/>
<path fill="rgb(13,13,13)" d="M125 368.6h3v5.4375h-3z"/>
<path fill="rgb(14,14,14)" d="M166 145.7h4v5.4375h-4zM125 412.1h3v5.4375h-3z"/>
<path fill="rgb(17,17,17)" d="M125 113.1h3v5.4375h-3z"/>
<path fill="rgb(18,18,18)" d="M125 357.8h3v5.4375h-3zM125 379.5h3v5.4375h-3zM125 406.7h3v5.4375h-3z"/>
<path fill="rgb(19,19,19)" d="M125 390.4h3v5.4375h-3z"/>
<path fill="rgb(20,20,20)" d="M129 96.75h3v5.4375h-3zM166 129.4h4v5.4375h-4zM125 341.4h3v5.4375h-3z"/>
<path fill="rgb(21,21,21)" d="M143 140.2h4v5.4375h-4z"/>
<path fill="rgb(22,22,22)" d="M162 167.4h3v5.4375h-3zM153 194.6h3v5.4375h-3zM125 308.8h3v5.4375h-3z"/>
<path fill="rgb(23,23,23)" d="M171 189.2h3v5.4375h-3z"/>
<path fill="rgb(24,24,24)" d="M120 243.6h5v5.4375h-5zM194 281.6h4v5.4375h-4zM125 493.7h3v5.4375h-3z"/>
<path fill="rgb(25,25,25)" d="M120 259.9h5v5.4375h-5zM120 303.4h5v5.4375h-5zM125 352.3h3v5.4375h-3z"/>
<path fill="rgb(26,26,26)" d="M133 194.6h5v5.4375h-5zM194 221.8h4v5.4375h-4zM120 308.8h5v5.4375h-5zM125 319.7h3v5.4375h-3zM125 346.9h3v5.4375h-3zM125 374.1h3v5.4375h-3zM125 395.8h3v5.4375h-3z"/>
<path fill="rgb(27,27,27)" d="M128 113.1h3v5.4375h-3zM143 145.7h4v5.4375h-4zM144 151.1h3v5.4375h-3zM147 162h3v5.4375h-3zM147 167.4h3v5.4375h-3zM125 417.6h3v5.4375h-3zM125 444.8h3v5.4375h-3z"/>
<path fill="rgb(28,28,28)" d="M129 91.31h3v5.4375h-3zM171 183.8h3v5.4375h-3zM168 194.6h3v5.4375h-3zM194 303.4h4v5.4375h-4zM125 488.2h3v5.4375h-3z"/>
<path fill="rgb(29,29,29)" d="M125 102.2h3v5.4375h-3zM143 107.6h4v5.4375h-4zM197 134.8h1v5.4375h-1zM166 151.1h2v5.4375h-2zM166 156.6h2v5.4375h-2zM165 162h3v5.4375h-3zM153 183.8h3v5.4375h-3zM188 183.8h3v5.4375h-3zM178 194.6h3v5.4375h-3zM125 330.6h3v5.4375h-3z"/>
<path fill="rgb(30,30,30)" d="M166 123.9h4v5.4375h-4zM166 134.8h4v5.4375h-4zM128 140.2h3v5.4375h-3zM188 172.9h3v5.4375h-3zM178 183.8h3v5.4375h-3zM144 189.2h3v5.4375h-3zM120 254.4h5v5.4375h-5zM120 292.5h5v5.4375h-5zM125 401.2h3v5.4375h-3z"/>
<path fill="rgb(31,31,31)" d="M128 156.6h3v5.4375h-3zM181 183.8h3v5.4375h-3zM194 216.4h4v5.4375h-4zM194 401.2h4v5.4375h-4z"/>
<path fill="rgb(32,32,32)" d="M125 107.6h3v5.4375h-3zM177 140.2h1v5.4375h-1zM156 178.3h3v5.4375h-3zM120 287.1h5v5.4375h-5zM120 336h5v5.4375h-5zM194 341.4h4v5.4375h-4zM194 439.3h4v5.4375h-4zM194 499.1h4v5.4375h-4z"/>
<path fill="rgb(33,33,33)" d="M133 118.5h5v5.4375h-5zM125 134.8h3v5.4375h-3zM144 156.6h3v5.4375h-3zM162 162h3v5.4375h-3zM197 189.2h1v5.4375h-1zM125 384.9h3v5.4375h-3zM120 390.4h5v5.4375h-5zM194 444.8h4v5.4375h-4zM120 504.6h5v5.4375h-5zM120 510h5v5.4375h-5zM120 515.4h5v5.4375h-5z"/>
<path fill="rgb(34,34,34)" d="M150 118.5h3v5.4375h-3zM143 129.4h4v5.4375h-4zM168 156.6h3v5.4375h-3zM125 167.4h3v5.4375h-3zM165 172.9h3v5.4375h-3zM188 178.3h3v5.4375h-3zM168 183.8h3v5.4375h-3zM125 325.1h3v5.4375h-3zM156 504.6h3v5.4375h-3zM156 510h3v5.4375h-3zM156 515.4h3v5.4375h-3z"/>
<path fill="rgb(35,35,35)" d="M125 80.44h3v5.4375h-3zM128 129.4h3v5.4375h-3zM166 140.2h4v5.4375h-4zM125 162h3v5.4375h-3zM133 167.4h5v5.4375h-5zM131 172.9h2v5.4375h-2zM168 178.3h3v5.4375h-3zM150 227.2h3v5.4375h-3zM125 254.4h3v5.4375h-3zM194 259.9h4v5.4375h-4zM194 319.7h4v5.4375h-4zM194 455.6h4v5.4375h-4zM125 477.4h3v5.4375h-3z"/>
<path fill="rgb(36,36,36)" d="M125 96.75h3v5.4375h-3zM165 178.3h3v5.4375h-3zM178 189.2h3v5.4375h-3zM144 194.6h3v5.4375h-3zM120 265.3h5v5.4375h-5zM165 314.2h3v5.4375h-3zM194 417.6h4v5.4375h-4zM147 461.1h3v5.4375h-3z"/>
<path fill="rgb(37,37,37)" d="M131 167.4h2v5.4375h-2zM131 178.3h2v5.4375h-2zM165 183.8h3v5.4375h-3zM188 276.2h3v5.4375h-3zM194 287.1h4v5.4375h-4zM194 374.1h4v5.4375h-4zM120 428.4h5v5.4375h-5zM120 439.3h8v5.4375h-8zM171 499.1h3v5.4375h-3z"/>
<path fill="rgb(38,38,38)" d="M143 123.9h4v5.4375h-4zM197 129.4h1v5.4375h-1zM143 134.8h4v5.4375h-4zM187 140.2h5v5.4375h-5zM133 162h5v5.4375h-5zM191 167.4h1v5.4375h-1zM191 178.3h1v5.4375h-1zM128 194.6h3v5.4375h-3zM125 238.1h3v5.4375h-3zM125 270.8h3v5.4375h-3zM147 270.8h3v5.4375h-3zM131 477.4h2v5.4375h-2z"/>
<path fill="rgb(39,39,39)" d="M133 123.9h5v5.4375h-5zM128 145.7h3v5.4375h-3zM191 200.1h1v5.4375h-1zM125 243.6h3v5.4375h-3zM125 265.3h3v5.4375h-3zM194 276.2h4v5.4375h-4zM162 395.8h3v5.4375h-3zM125 423h3v5.4375h-3zM181 444.8h3v5.4375h-3zM120 471.9h5v5.4375h-5zM181 471.9h3v5.4375h-3zM194 504.6h4v5.4375h-4zM194 510h4v5.4375h-4zM194 515.4h4v5.4375h-4z"/>
<path fill="rgb(40,40,40)" d="M128 123.9h3v5.4375h-3zM125 189.2h3v5.4375h-3zM153 189.2h3v5.4375h-3zM168 200.1h3v5.4375h-3zM120 232.7h5v5.4375h-5zM141 325.1h3v5.4375h-3zM168 368.6h3v5.4375h-3zM144 444.8h3v5.4375h-3zM191 444.8h3v5.4375h-3zM125 471.9h3v5.4375h-3z"/>
<path fill="rgb(41,41,41)" d="M128 118.5h3v5.4375h-3zM125 151.1h3v5.4375h-3zM133 151.1h5v5.4375h-5zM144 200.1h3v5.4375h-3zM120 210.9h5v5.4375h-5zM120 216.4h5v5.4375h-5zM120 221.8h5v5.4375h-5zM136 227.2h3v5.4375h-3zM125 232.7h3v5.4375h-3zM178 249h3v5.4375h-3zM136 292.5h3v5.4375h-3zM194 314.2h4v5.4375h-4zM150 336h3v5.4375h-3zM131 368.6h2v5.4375h-2zM194 390.4h4v5.4375h-4zM128 439.3h3v5.4375h-3zM120 461.1h5v5.4375h-5zM162 461.1h3v5.4375h-3z"/>
<path fill="rgb(42,42,42)" d="M125 172.9h3v5.4375h-3zM133 172.9h5v5.4375h-5zM133 189.2h5v5.4375h-5zM171 194.6h7v5.4375h-7zM171 210.9h3v5.4375h-3zM184 254.4h4v5.4375h-4zM153 314.2h3v5.4375h-3zM181 314.2h3v5.4375h-3zM120 379.5h5v5.4375h-5zM194 406.7h4v5.4375h-4zM139 423h2v5.4375h-2zM120 444.8h5v5.4375h-5zM125 455.6h3v5.4375h-3zM174 482.8h4v5.4375h-4z"/>
<path fill="rgb(43,43,43)" d="M143 118.5h4v5.4375h-4zM125 123.9h3v5.4375h-3zM133 140.2h5v5.4375h-5zM125 183.8h3v5.4375h-3zM125 216.4h3v5.4375h-3zM153 243.6h3v5.4375h-3zM159 254.4h3v5.4375h-3zM150 259.9h3v5.4375h-3zM156 265.3h3v5.4375h-3zM150 319.7h3v5.4375h-3zM188 336h3v5.4375h-3zM133 341.4h3v5.4375h-3zM153 341.4h3v5.4375h-3zM139 363.2h2v5.4375h-2zM159 401.2h3v5.4375h-3zM144 412.1h3v5.4375h-3zM181 417.6h3v5.4375h-3zM162 423h3v5.4375h-3zM120 466.5h5v5.4375h-5zM120 477.4h5v5.4375h-5z"/>
<path fill="rgb(44,44,44)" d="M133 113.1h5v5.4375h-5zM133 129.4h5v5.4375h-5zM125 140.2h3v5.4375h-3zM191 172.9h1v5.4375h-1zM133 183.8h5v5.4375h-5zM165 189.2h3v5.4375h-3zM139 227.2h2v5.4375h-2zM165 292.5h3v5.4375h-3zM144 308.8h3v5.4375h-3zM194 308.8h4v5.4375h-4zM120 314.2h5v5.4375h-5zM120 325.1h5v5.4375h-5zM120 346.9h5v5.4375h-5zM153 357.8h3v5.4375h-3zM181 428.4h3v5.4375h-3zM181 450.2h3v5.4375h-3zM162 455.6h3v5.4375h-3zM125 504.6h3v5.4375h-3zM125 510h3v5.4375h-3zM125 515.4h3v5.4375h-3z"/>
<path fill="rgb(45,45,45)" d="M143 113.1h4v5.4375h-4zM133 178.3h5v5.4375h-5zM197 178.3h1v5.4375h-1zM165 270.8h3v5.4375h-3zM153 363.2h3v5.4375h-3zM120 384.9h5v5.4375h-5zM194 384.9h4v5.4375h-4zM153 390.4h3v5.4375h-3zM156 412.1h3v5.4375h-3zM194 433.9h4v5.4375h-4zM156 477.4h3v5.4375h-3zM139 488.2h5v5.4375h-5z"/>
<path fill="rgb(46,46,46)" d="M153 368.6h3v5.4375h-3zM141 390.4h3v5.4375h-3zM141 401.2h3v5.4375h-3zM165 417.6h3v5.4375h-3z"/>
<path fill="rgb(47,47,47)" d="M128 151.1h3v5.4375h-3zM197 172.9h1v5.4375h-1zM153 200.1h3v5.4375h-3zM125 210.9h3v5.4375h-3zM165 221.8h3v5.4375h-3zM125 227.2h3v5.4375h-3zM159 227.2h3v5.4375h-3zM128 270.8h3v5.4375h-3zM156 308.8h3v5.4375h-3zM120 417.6h5v5.4375h-5zM194 493.7h4v5.4375h-4z"/>
<path fill="rgb(48,48,48)" d="M180 129.4h4v5.4375h-4zM125 145.7h3v5.4375h-3zM177 145.7h1v5.4375h-1zM133 156.6h5v5.4375h-5zM125 200.1h3v5.4375h-3zM191 227.2h3v5.4375h-3zM144 232.7h3v5.4375h-3zM156 238.1h3v5.4375h-3zM194 243.6h4v5.4375h-4zM194 254.4h4v5.4375h-4zM153 330.6h3v5.4375h-3zM120 395.8h5v5.4375h-5zM181 433.9h3v5.4375h-3zM159 450.2h3v5.4375h-3zM194 477.4h4v5.4375h-4z"/>
<path fill="rgb(49,49,49)" d="M181 167.4h3v5.4375h-3zM125 281.6h3v5.4375h-3zM153 303.4h3v5.4375h-3zM194 325.1h4v5.4375h-4zM194 346.9h4v5.4375h-4zM150 368.6h3v5.4375h-3zM181 379.5h3v5.4375h-3zM120 406.7h5v5.4375h-5zM178 444.8h3v5.4375h-3zM194 482.8h4v5.4375h-4zM147 493.7h3v5.4375h-3zM125 499.1h3v5.4375h-3zM184 504.6h4v5.4375h-4zM184 510h4v5.4375h-4zM184 515.4h4v5.4375h-4z"/>
<path fill="rgb(50,50,50)" d="M180 140.2h4v5.4375h-4zM139 249h2v5.4375h-2zM125 259.9h3v5.4375h-3zM141 276.2h3v5.4375h-3zM147 281.6h3v5.4375h-3zM144 303.4h3v5.4375h-3zM120 319.7h5v5.4375h-5zM194 357.8h4v5.4375h-4zM139 374.1h2v5.4375h-2zM125 428.4h3v5.4375h-3zM194 450.2h4v5.4375h-4zM120 455.6h5v5.4375h-5zM120 493.7h5v5.4375h-5z"/>
<path fill="rgb(51,51,51)" d="M125 85.88h3v5.4375h-3zM133 134.8h5v5.4375h-5zM144 221.8h3v5.4375h-3zM141 227.2h3v5.4375h-3zM194 232.7h4v5.4375h-4zM120 352.3h5v5.4375h-5zM120 412.1h5v5.4375h-5zM194 423h4v5.4375h-4zM125 433.9h3v5.4375h-3zM141 433.9h3v5.4375h-3zM191 482.8h3v5.4375h-3zM144 504.6h3v5.4375h-3zM144 510h3v5.4375h-3zM144 515.4h3v5.4375h-3z"/>
<path fill="rgb(52,52,52)" d="M180 151.1h4v5.4375h-4zM125 221.8h3v5.4375h-3zM141 221.8h3v5.4375h-3zM144 325.1h3v5.4375h-3zM153 379.5h3v5.4375h-3zM168 406.7h3v5.4375h-3zM133 417.6h3v5.4375h-3zM150 455.6h3v5.4375h-3z"/>
<path fill="rgb(53,53,53)" d="M197 123.9h1v5.4375h-1zM162 156.6h4v5.4375h-4zM158 162h4v5.4375h-4zM197 183.8h1v5.4375h-1zM153 292.5h3v5.4375h-3zM147 297.9h3v5.4375h-3zM141 314.2h3v5.4375h-3zM141 346.9h3v5.4375h-3zM141 352.3h3v5.4375h-3zM194 352.3h4v5.4375h-4zM165 357.8h3v5.4375h-3zM141 395.8h3v5.4375h-3zM136 423h3v5.4375h-3zM162 428.4h3v5.4375h-3zM141 455.6h3v5.4375h-3zM194 466.5h4v5.4375h-4zM150 499.1h3v5.4375h-3z"/>
<path fill="rgb(54,54,54)" d="M125 129.4h3v5.4375h-3zM162 140.2h4v5.4375h-4zM158 145.7h4v5.4375h-4zM180 156.6h4v5.4375h-4zM174 162h4v5.4375h-4zM180 162h4v5.4375h-4zM125 178.3h3v5.4375h-3zM125 194.6h3v5.4375h-3zM125 287.1h3v5.4375h-3z"/>
<path fill="rgb(55,55,55)" d="M197 205.5h1v5.4375h-1zM136 368.6h3v5.4375h-3zM120 450.2h5v5.4375h-5zM141 450.2h3v5.4375h-3zM120 488.2h5v5.4375h-5z"/>
<path fill="rgb(56,56,56)" d="M197 118.5h1v5.4375h-1zM187 145.7h5v5.4375h-5zM125 156.6h3v5.4375h-3zM125 205.5h3v5.4375h-3zM156 221.8h3v5.4375h-3zM150 254.4h3v5.4375h-3zM168 374.1h3v5.4375h-3zM136 417.6h3v5.4375h-3zM184 417.6h4v5.4375h-4z"/>
<path fill="rgb(57,57,57)" d="M174 151.1h4v5.4375h-4zM181 178.3h3v5.4375h-3zM194 249h4v5.4375h-4zM150 346.9h3v5.4375h-3zM120 401.2h5v5.4375h-5z"/>
<path fill="rgb(58,58,58)" d="M192 156.6h5v5.4375h-5zM181 172.9h3v5.4375h-3zM159 238.1h3v5.4375h-3zM120 357.8h5v5.4375h-5z"/>
<path fill="rgb(59,59,59)" d="M180 145.7h4v5.4375h-4zM133 292.5h3v5.4375h-3zM194 292.5h4v5.4375h-4zM194 336h4v5.4375h-4zM120 374.1h5v5.4375h-5zM153 401.2h3v5.4375h-3zM194 412.1h4v5.4375h-4zM168 428.4h3v5.4375h-3zM147 482.8h3v5.4375h-3zM136 493.7h3v5.4375h-3z"/>
<path fill="rgb(60,60,60)" d="M162 134.8h4v5.4375h-4zM133 145.7h5v5.4375h-5zM158 151.1h4v5.4375h-4zM162 238.1h3v5.4375h-3zM194 297.9h4v5.4375h-4zM136 319.7h3v5.4375h-3zM194 379.5h4v5.4375h-4zM139 401.2h2v5.4375h-2zM174 444.8h4v5.4375h-4z"/>
<path fill="rgb(61,61,61)" d="M174 156.6h4v5.4375h-4zM120 200.1h5v5.4375h-5zM192 205.5h5v5.4375h-5zM181 221.8h3v5.4375h-3zM125 297.9h3v5.4375h-3zM147 336h3v5.4375h-3zM194 428.4h4v5.4375h-4z"/>
<path fill="rgb(62,62,62)" d="M136 259.9h3v5.4375h-3zM125 292.5h3v5.4375h-3zM125 303.4h3v5.4375h-3z"/>
<path fill="rgb(63,63,63)" d="M192 162h5v5.4375h-5zM192 172.9h5v5.4375h-5zM192 189.2h5v5.4375h-5z"/>
<path fill="rgb(64,64,64)" d="M150 281.6h3v5.4375h-3zM168 308.8h3v5.4375h-3zM131 352.3h2v5.4375h-2zM120 368.6h5v5.4375h-5zM156 423h3v5.4375h-3zM162 433.9h3v5.4375h-3z"/>
<path fill="rgb(65,65,65)" d="M162 123.9h4v5.4375h-4zM184 156.6h3v5.4375h-3zM120 172.9h5v5.4375h-5zM171 200.1h3v5.4375h-3zM168 205.5h6v5.4375h-6zM150 243.6h3v5.4375h-3zM159 417.6h3v5.4375h-3z"/>
<path fill="rgb(66,66,66)" d="M184 151.1h3v5.4375h-3zM120 167.4h5v5.4375h-5z"/>
<path fill="rgb(67,67,67)" d="M162 80.44h3v5.4375h-3zM128 85.88h5v5.4375h-5zM177 91.31h3v5.4375h-3zM187 113.1h5v5.4375h-5zM187 123.9h5v5.4375h-5zM192 167.4h5v5.4375h-5zM150 238.1h3v5.4375h-3zM147 303.4h3v5.4375h-3z"/>
<path fill="rgb(68,68,68)" d="M135 80.44h3v5.4375h-3zM150 80.44h3v5.4375h-3zM165 80.44h3v5.4375h-3zM194 85.88h3v5.4375h-3zM138 91.31h5v5.4375h-5zM150 401.2h3v5.4375h-3z"/>
<path fill="rgb(69,69,69)" d="M186 85.88h5v5.4375h-5zM165 374.1h3v5.4375h-3zM188 482.8h3v5.4375h-3z"/>
<path fill="rgb(70,70,70)" d="M180 80.44h3v5.4375h-3zM187 129.4h5v5.4375h-5zM187 134.8h5v5.4375h-5zM192 145.7h5v5.4375h-5zM120 178.3h5v5.4375h-5zM139 314.2h2v5.4375h-2z"/>
<path fill="rgb(71,71,71)" d="M162 113.1h4v5.4375h-4zM192 178.3h5v5.4375h-5zM120 194.6h5v5.4375h-5z"/>
<path fill="rgb(72,72,72)" d="M180 134.8h4v5.4375h-4zM153 151.1h4v5.4375h-4zM153 156.6h4v5.4375h-4zM144 379.5h3v5.4375h-3zM139 417.6h2v5.4375h-2z"/>
<path fill="rgb(73,73,73)" d="M129 80.44h3v5.4375h-3zM168 80.44h3v5.4375h-3zM125 91.31h3v5.4375h-3zM180 123.9h4v5.4375h-4zM162 145.7h4v5.4375h-4zM153 167.4h4v5.4375h-4zM141 243.6h3v5.4375h-3z"/>
<path fill="rgb(74,74,74)" d="M144 227.2h3v5.4375h-3z"/>
<path fill="rgb(75,75,75)" d="M138 123.9h5v5.4375h-5zM120 189.2h5v5.4375h-5zM138 194.6h5v5.4375h-5zM136 205.5h3v5.4375h-3zM168 238.1h3v5.4375h-3zM156 276.2h3v5.4375h-3z"/>
<path fill="rgb(76,76,76)" d="M166 85.88h3v5.4375h-3zM153 107.6h4v5.4375h-4zM187 118.5h5v5.4375h-5zM192 183.8h5v5.4375h-5z"/>
<path fill="rgb(77,77,77)" d="M162 107.6h4v5.4375h-4zM162 118.5h4v5.4375h-4zM153 129.4h4v5.4375h-4zM170 145.7h7v5.4375h-7zM120 183.8h5v5.4375h-5zM162 357.8h3v5.4375h-3z"/>
<path fill="rgb(78,78,78)" d="M183 64.12h3v5.4375h-3zM183 69.56h3v5.4375h-3zM183 75h3v5.4375h-3zM192 80.44h3v5.4375h-3zM171 85.88h5v5.4375h-5zM192 140.2h5v5.4375h-5z"/>
<path fill="rgb(79,79,79)" d="M184 140.2h3v5.4375h-3zM141 341.4h3v5.4375h-3z"/>
<path fill="rgb(80,80,80)" d="M153 64.12h3v5.4375h-3zM153 69.56h3v5.4375h-3zM153 75h3v5.4375h-3zM133 91.31h5v5.4375h-5zM187 102.2h5v5.4375h-5zM184 107.6h8v5.4375h-8zM153 113.1h4v5.4375h-4zM192 194.6h1v5.4375h-1zM120 363.2h5v5.4375h-5zM136 461.1h3v5.4375h-3z"/>
<path fill="rgb(81,81,81)" d="M138 64.12h3v5.4375h-3zM138 69.56h3v5.4375h-3zM138 75h3v5.4375h-3zM158 156.6h4v5.4375h-4zM144 357.8h3v5.4375h-3z"/>
<path fill="rgb(82,82,82)" d="M144 64.12h3v5.4375h-3zM156 64.12h3v5.4375h-3zM144 69.56h3v5.4375h-3zM156 69.56h3v5.4375h-3zM144 75h3v5.4375h-3zM156 75h3v5.4375h-3zM120 162h5v5.4375h-5z"/>
<path fill="rgb(83,83,83)" d="M147 232.7h3v5.4375h-3zM141 259.9h3v5.4375h-3z"/>
<path fill="rgb(84,84,84)" d="M141 379.5h3v5.4375h-3z"/>
<path fill="rgb(85,85,85)" d="M192 64.12h3v5.4375h-3zM192 69.56h3v5.4375h-3zM192 75h3v5.4375h-3zM187 96.75h5v5.4375h-5zM184 129.4h3v5.4375h-3zM158 140.2h4v5.4375h-4zM162 151.1h4v5.4375h-4zM141 287.1h3v5.4375h-3zM136 341.4h3v5.4375h-3zM159 341.4h3v5.4375h-3zM136 444.8h3v5.4375h-3zM162 450.2h3v5.4375h-3z"/>
<path fill="rgb(86,86,86)" d="M186 80.44h3v5.4375h-3zM159 85.88h3v5.4375h-3zM153 145.7h4v5.4375h-4zM144 423h3v5.4375h-3zM159 471.9h3v5.4375h-3z"/>
<path fill="rgb(87,87,87)" d="M189 64.12h3v5.4375h-3zM189 69.56h3v5.4375h-3zM189 75h3v5.4375h-3zM184 96.75h3v5.4375h-3zM184 113.1h3v5.4375h-3zM153 162h4v5.4375h-4z"/>
<path fill="rgb(88,88,88)" d="M126 64.12h3v5.4375h-3zM132 64.12h3v5.4375h-3zM126 69.56h3v5.4375h-3zM132 69.56h3v5.4375h-3zM126 75h3v5.4375h-3zM132 75h3v5.4375h-3zM144 80.44h3v5.4375h-3zM136 85.88h5v5.4375h-5zM144 363.2h3v5.4375h-3z"/>
<path fill="rgb(89,89,89)" d="M120 80.44h5v5.4375h-5zM153 80.44h3v5.4375h-3zM156 96.75h6v5.4375h-6zM192 200.1h1v5.4375h-1z"/>
<path fill="rgb(90,90,90)" d="M156 80.44h6v5.4375h-6zM192 118.5h5v5.4375h-5zM184 134.8h3v5.4375h-3zM193 200.1h4v5.4375h-4z"/>
<path fill="rgb(91,91,91)" d="M123 64.12h3v5.4375h-3zM123 69.56h3v5.4375h-3zM123 75h3v5.4375h-3zM177 80.44h3v5.4375h-3zM192 151.1h5v5.4375h-5z"/>
<path fill="rgb(92,92,92)" d="M170 91.31h7v5.4375h-7zM153 134.8h4v5.4375h-4zM184 145.7h3v5.4375h-3z"/>
<path fill="rgb(93,93,93)" d="M171 64.12h3v5.4375h-3zM171 69.56h3v5.4375h-3zM171 75h3v5.4375h-3zM128 80.44h1v5.4375h-1zM153 102.2h4v5.4375h-4zM120 118.5h5v5.4375h-5zM184 123.9h3v5.4375h-3zM153 140.2h4v5.4375h-4z"/>
<path fill="rgb(94,94,94)" d="M120 123.9h5v5.4375h-5zM120 145.7h5v5.4375h-5zM138 189.2h5v5.4375h-5z"/>
<path fill="rgb(95,95,95)" d="M179 85.88h4v5.4375h-4zM153 118.5h4v5.4375h-4zM192 123.9h5v5.4375h-5zM170 140.2h7v5.4375h-7zM141 384.9h3v5.4375h-3z"/>
<path fill="rgb(96,96,96)" d="M150 64.12h3v5.4375h-3zM150 69.56h3v5.4375h-3zM150 75h3v5.4375h-3zM138 80.44h3v5.4375h-3zM145 85.88h4v5.4375h-4zM120 91.31h5v5.4375h-5zM180 91.31h4v5.4375h-4zM184 118.5h3v5.4375h-3zM120 129.4h5v5.4375h-5zM162 129.4h4v5.4375h-4zM138 172.9h5v5.4375h-5z"/>
<path fill="rgb(97,97,97)" d="M147 64.12h3v5.4375h-3zM168 64.12h3v5.4375h-3zM147 69.56h3v5.4375h-3zM168 69.56h3v5.4375h-3zM147 75h3v5.4375h-3zM168 75h3v5.4375h-3zM180 107.6h4v5.4375h-4zM120 113.1h5v5.4375h-5zM170 129.4h7v5.4375h-7z"/>
<path fill="rgb(98,98,98)" d="M153 123.9h4v5.4375h-4z"/>
<path fill="rgb(99,99,99)" d="M151 85.88h5v5.4375h-5zM120 140.2h5v5.4375h-5zM138 178.3h5v5.4375h-5z"/>
<path fill="rgb(100,100,100)" d="M162 64.12h3v5.4375h-3zM162 69.56h3v5.4375h-3zM162 75h3v5.4375h-3zM120 85.88h5v5.4375h-5zM180 113.1h4v5.4375h-4z"/>
<path fill="rgb(101,101,101)" d="M159 64.12h3v5.4375h-3zM159 69.56h3v5.4375h-3zM159 75h3v5.4375h-3zM195 80.44h3v5.4375h-3zM184 91.31h3v5.4375h-3zM120 102.2h5v5.4375h-5zM170 123.9h7v5.4375h-7z"/>
<path fill="rgb(102,102,102)" d="M170 96.75h7v5.4375h-7zM180 96.75h4v5.4375h-4z"/>
<path fill="rgb(103,103,103)" d="M120 64.12h3v5.4375h-3zM120 69.56h3v5.4375h-3zM120 75h3v5.4375h-3zM171 80.44h3v5.4375h-3zM192 102.2h5v5.4375h-5zM138 156.6h5v5.4375h-5z"/>
<path fill="rgb(104,104,104)" d="M184 102.2h3v5.4375h-3zM120 107.6h5v5.4375h-5zM138 107.6h5v5.4375h-5zM120 156.6h5v5.4375h-5z"/>
<path fill="rgb(105,105,105)" d="M165 64.12h3v5.4375h-3zM177 64.12h3v5.4375h-3zM165 69.56h3v5.4375h-3zM177 69.56h3v5.4375h-3zM165 75h3v5.4375h-3zM177 75h3v5.4375h-3zM147 80.44h3v5.4375h-3zM192 134.8h5v5.4375h-5z"/>
<path fill="rgb(106,106,106)" d="M186 64.12h3v5.4375h-3zM186 69.56h3v5.4375h-3zM186 75h3v5.4375h-3zM170 107.6h7v5.4375h-7zM138 162h5v5.4375h-5z"/>
<path fill="rgb(107,107,107)" d="M174 80.44h3v5.4375h-3zM183 80.44h3v5.4375h-3zM120 151.1h5v5.4375h-5z"/>
<path fill="rgb(109,109,109)" d="M180 64.12h3v5.4375h-3zM180 69.56h3v5.4375h-3zM180 75h3v5.4375h-3zM170 113.1h7v5.4375h-7zM180 118.5h4v5.4375h-4zM138 183.8h5v5.4375h-5z"/>
<path fill="rgb(110,110,110)" d="M132 80.44h3v5.4375h-3zM156 91.31h6v5.4375h-6z"/>
<path fill="rgb(111,111,111)" d="M141 64.12h3v5.4375h-3zM174 64.12h3v5.4375h-3zM141 69.56h3v5.4375h-3zM174 69.56h3v5.4375h-3zM141 75h3v5.4375h-3zM174 75h3v5.4375h-3zM141 80.44h3v5.4375h-3zM189 80.44h3v5.4375h-3zM138 113.1h5v5.4375h-5zM138 145.7h5v5.4375h-5z"/>
<path fill="rgb(112,112,112)" d="M135 64.12h3v5.4375h-3zM135 69.56h3v5.4375h-3zM135 75h3v5.4375h-3zM170 134.8h7v5.4375h-7zM138 167.4h5v5.4375h-5z"/>
<path fill="rgb(113,113,113)" d="M138 129.4h5v5.4375h-5zM192 129.4h5v5.4375h-5zM138 151.1h5v5.4375h-5z"/>
<path fill="rgb(114,114,114)" d="M129 64.12h3v5.4375h-3zM129 69.56h3v5.4375h-3zM129 75h3v5.4375h-3z"/>
<path fill="rgb(115,115,115)" d="M195 64.12h3v5.4375h-3zM195 69.56h3v5.4375h-3zM195 75h3v5.4375h-3z"/>
<path fill="rgb(116,116,116)" d="M192 91.31h5v5.4375h-5zM138 118.5h5v5.4375h-5z"/>
<path fill="rgb(117,117,117)" d="M192 113.1h5v5.4375h-5zM138 134.8h5v5.4375h-5z"/>
<path fill="rgb(119,119,119)" d="M192 107.6h5v5.4375h-5zM138 140.2h5v5.4375h-5z"/>
<path fill="rgb(120,120,120)" d="M192 96.75h5v5.4375h-5z"/>
<path fill="rgb(124,124,124)" d="M120 96.75h5v5.4375h-5zM180 102.2h4v5.4375h-4z"/>
<path fill="rgb(125,125,125)" d="M170 102.2h7v5.4375h-7z"/>
<path fill="rgb(129,129,129)" d="M170 118.5h7v5.4375h-7z"/>
<path fill="rgb(137,137,137)" d="M193 194.6h4v5.4375h-4z"/>
</g></g>
<g clip-path="url(#c2)"><g filter="url(#z2)"><rect x="182" y="62" width="126" height="456" fill="#000"/>
<path fill="rgb(9,9,9)" d="M255 85.88h1v5.4375h-1zM273 85.88h1v5.4375h-1zM289 85.88h1v5.4375h-1z"/>
<path fill="rgb(14,14,14)" d="M254 85.88h1v5.4375h-1zM274 85.88h1v5.4375h-1zM288 85.88h1v5.4375h-1z"/>
<path fill="rgb(18,18,18)" d="M253 85.88h1v5.4375h-1zM275 85.88h1v5.4375h-1zM287 85.88h1v5.4375h-1zM198 417.6h4v5.4375h-4z"/>
<path fill="rgb(20,20,20)" d="M252 85.88h1v5.4375h-1zM276 85.88h1v5.4375h-1zM286 85.88h1v5.4375h-1zM287 221.8h4v5.4375h-4zM302 276.2h4v5.4375h-4zM302 493.7h4v5.4375h-4z"/>
<path fill="rgb(21,21,21)" d="M220 172.9h4v5.4375h-4zM252 216.4h4v5.4375h-4zM302 297.9h4v5.4375h-4zM248 363.2h4v5.4375h-4zM269 390.4h5v5.4375h-5zM256 406.7h5v5.4375h-5zM228 433.9h4v5.4375h-4z"/>
<path fill="rgb(22,22,22)" d="M251 85.88h1v5.4375h-1zM277 85.88h1v5.4375h-1zM285 85.88h1v5.4375h-1zM248 113.1h4v5.4375h-4zM274 189.2h4v5.4375h-4zM248 379.5h4v5.4375h-4z"/>
<path fill="rgb(23,23,23)" d="M244 216.4h4v5.4375h-4zM274 221.8h4v5.4375h-4zM265 259.9h4v5.4375h-4zM228 287.1h4v5.4375h-4zM269 319.7h5v5.4375h-5zM213 357.8h3v5.4375h-3zM283 461.1h4v5.4375h-4z"/>
<path fill="rgb(24,24,24)" d="M250 85.88h1v5.4375h-1zM278 85.88h1v5.4375h-1zM284 85.88h1v5.4375h-1zM252 123.9h4v5.4375h-4zM269 145.7h5v5.4375h-5zM236 167.4h4v5.4375h-4zM256 167.4h5v5.4375h-5zM265 232.7h4v5.4375h-4zM194 281.6h4v5.4375h-4zM205 297.9h4v5.4375h-4zM269 297.9h5v5.4375h-5zM269 368.6h5v5.4375h-5zM302 395.8h4v5.4375h-4zM274 477.4h4v5.4375h-4zM224 493.7h4v5.4375h-4z"/>
<path fill="rgb(25,25,25)" d="M245 85.88h2v5.4375h-2zM248 85.88h2v5.4375h-2zM279 85.88h2v5.4375h-2zM282 85.88h2v5.4375h-2zM302 140.2h4v5.4375h-4zM274 145.7h4v5.4375h-4zM232 162h4v5.4375h-4zM302 162h4v5.4375h-4zM209 178.3h4v5.4375h-4zM252 189.2h4v5.4375h-4zM240 221.8h4v5.4375h-4zM248 232.7h4v5.4375h-4zM202 259.9h3v5.4375h-3zM209 281.6h4v5.4375h-4zM220 319.7h4v5.4375h-4zM236 336h8v5.4375h-8zM244 417.6h4v5.4375h-4zM216 471.9h4v5.4375h-4zM283 477.4h4v5.4375h-4zM269 488.2h5v5.4375h-5z"/>
<path fill="rgb(26,26,26)" d="M247 85.88h1v5.4375h-1zM281 85.88h1v5.4375h-1zM248 107.6h4v5.4375h-4zM216 140.2h4v5.4375h-4zM256 151.1h5v5.4375h-5zM228 167.4h4v5.4375h-4zM278 183.8h5v5.4375h-5zM194 221.8h4v5.4375h-4zM216 221.8h4v5.4375h-4zM220 232.7h4v5.4375h-4zM240 265.3h4v5.4375h-4zM220 287.1h4v5.4375h-4zM252 336h4v5.4375h-4zM302 341.4h4v5.4375h-4zM213 428.4h3v5.4375h-3zM220 439.3h4v5.4375h-4zM252 461.1h4v5.4375h-4zM256 471.9h5v5.4375h-5zM261 488.2h4v5.4375h-4zM306 499.1h2v5.4375h-2z"/>
<path fill="rgb(27,27,27)" d="M256 107.6h5v5.4375h-5zM220 118.5h4v5.4375h-4zM287 123.9h4v5.4375h-4zM206 140.2h3v5.4375h-3zM261 140.2h4v5.4375h-4zM283 194.6h4v5.4375h-4zM278 205.5h5v5.4375h-5zM252 238.1h4v5.4375h-4zM224 297.9h4v5.4375h-4zM224 303.4h4v5.4375h-4zM205 352.3h4v5.4375h-4zM205 357.8h4v5.4375h-4zM228 390.4h4v5.4375h-4zM287 390.4h4v5.4375h-4zM198 395.8h4v5.4375h-4zM265 439.3h4v5.4375h-4zM252 450.2h4v5.4375h-4zM302 450.2h4v5.4375h-4zM213 455.6h3v5.4375h-3zM283 488.2h4v5.4375h-4zM240 499.1h4v5.4375h-4z"/>
<path fill="rgb(28,28,28)" d="M220 96.75h4v5.4375h-4zM302 96.75h4v5.4375h-4zM220 102.2h4v5.4375h-4zM244 107.6h4v5.4375h-4zM269 118.5h5v5.4375h-5zM232 145.7h4v5.4375h-4zM224 156.6h4v5.4375h-4zM236 183.8h4v5.4375h-4zM224 200.1h4v5.4375h-4zM236 216.4h4v5.4375h-4zM287 227.2h4v5.4375h-4zM306 254.4h2v5.4375h-2zM232 265.3h4v5.4375h-4zM261 276.2h4v5.4375h-4zM287 276.2h4v5.4375h-4zM194 303.4h4v5.4375h-4zM228 325.1h4v5.4375h-4zM209 336h4v5.4375h-4zM283 336h4v5.4375h-4zM228 346.9h4v5.4375h-4zM283 357.8h4v5.4375h-4zM209 374.1h4v5.4375h-4zM216 374.1h4v5.4375h-4zM252 379.5h4v5.4375h-4zM265 390.4h4v5.4375h-4zM220 395.8h4v5.4375h-4zM209 406.7h4v5.4375h-4zM248 423h4v5.4375h-4zM302 444.8h4v5.4375h-4zM283 471.9h4v5.4375h-4z"/>
<path fill="rgb(29,29,29)" d="M248 102.2h4v5.4375h-4zM283 107.6h4v5.4375h-4zM232 129.4h4v5.4375h-4zM244 129.4h4v5.4375h-4zM197 134.8h1v5.4375h-1zM306 145.7h2v5.4375h-2zM198 178.3h4v5.4375h-4zM188 183.8h3v5.4375h-3zM265 194.6h4v5.4375h-4zM216 210.9h4v5.4375h-4zM244 210.9h4v5.4375h-4zM220 243.6h4v5.4375h-4zM306 249h2v5.4375h-2zM274 259.9h4v5.4375h-4zM256 276.2h5v5.4375h-5zM248 368.6h4v5.4375h-4zM278 374.1h5v5.4375h-5zM306 384.9h2v5.4375h-2zM302 401.2h4v5.4375h-4zM198 412.1h4v5.4375h-4zM306 423h2v5.4375h-2zM261 428.4h4v5.4375h-4zM287 455.6h4v5.4375h-4zM202 461.1h3v5.4375h-3zM220 488.2h4v5.4375h-4zM205 493.7h4v5.4375h-4zM265 504.6h4v5.4375h-4zM265 510h4v5.4375h-4zM265 515.4h4v5.4375h-4z"/>
<path fill="rgb(30,30,30)" d="M224 123.9h4v5.4375h-4zM213 134.8h3v5.4375h-3zM283 134.8h4v5.4375h-4zM236 151.1h4v5.4375h-4zM188 172.9h3v5.4375h-3zM202 172.9h3v5.4375h-3zM198 183.8h4v5.4375h-4zM209 216.4h4v5.4375h-4zM269 227.2h5v5.4375h-5zM224 243.6h4v5.4375h-4zM274 254.4h4v5.4375h-4zM306 276.2h2v5.4375h-2zM283 297.9h4v5.4375h-4zM269 303.4h5v5.4375h-5zM213 330.6h3v5.4375h-3zM278 341.4h5v5.4375h-5zM252 346.9h4v5.4375h-4zM261 346.9h4v5.4375h-4zM228 368.6h4v5.4375h-4zM269 401.2h5v5.4375h-5zM213 406.7h3v5.4375h-3zM220 417.6h4v5.4375h-4zM205 482.8h4v5.4375h-4zM269 482.8h5v5.4375h-5zM236 499.1h4v5.4375h-4z"/>
<path fill="rgb(31,31,31)" d="M265 118.5h4v5.4375h-4zM283 118.5h4v5.4375h-4zM209 129.4h4v5.4375h-4zM216 134.8h4v5.4375h-4zM278 140.2h5v5.4375h-5zM283 162h4v5.4375h-4zM306 162h2v5.4375h-2zM261 167.4h4v5.4375h-4zM202 178.3h3v5.4375h-3zM182 183.8h2v5.4375h-2zM202 205.5h3v5.4375h-3zM209 205.5h4v5.4375h-4zM209 210.9h4v5.4375h-4zM248 210.9h4v5.4375h-4zM265 210.9h4v5.4375h-4zM194 216.4h4v5.4375h-4zM213 221.8h3v5.4375h-3zM202 232.7h3v5.4375h-3zM265 249h4v5.4375h-4zM209 254.4h4v5.4375h-4zM198 265.3h4v5.4375h-4zM202 281.6h3v5.4375h-3zM198 287.1h4v5.4375h-4zM265 297.9h4v5.4375h-4zM205 303.4h4v5.4375h-4zM213 341.4h3v5.4375h-3zM224 374.1h4v5.4375h-4zM194 401.2h4v5.4375h-4zM205 417.6h4v5.4375h-4zM302 423h4v5.4375h-4zM209 428.4h4v5.4375h-4zM232 433.9h4v5.4375h-4zM287 461.1h4v5.4375h-4zM236 466.5h4v5.4375h-4zM244 466.5h4v5.4375h-4zM283 466.5h4v5.4375h-4zM198 488.2h4v5.4375h-4zM261 499.1h4v5.4375h-4zM283 504.6h4v5.4375h-4zM283 510h4v5.4375h-4zM283 515.4h4v5.4375h-4z"/>
<path fill="rgb(32,32,32)" d="M269 107.6h5v5.4375h-5zM203 113.1h4v5.4375h-4zM256 129.4h5v5.4375h-5zM283 129.4h4v5.4375h-4zM302 129.4h4v5.4375h-4zM213 151.1h3v5.4375h-3zM198 167.4h2v5.4375h-2zM216 183.8h4v5.4375h-4zM283 210.9h4v5.4375h-4zM306 216.4h2v5.4375h-2zM213 227.2h3v5.4375h-3zM302 227.2h4v5.4375h-4zM244 254.4h4v5.4375h-4zM244 259.9h4v5.4375h-4zM240 270.8h4v5.4375h-4zM232 276.2h4v5.4375h-4zM256 308.8h5v5.4375h-5zM278 308.8h5v5.4375h-5zM209 325.1h4v5.4375h-4zM283 325.1h4v5.4375h-4zM224 330.6h4v5.4375h-4zM194 341.4h4v5.4375h-4zM306 341.4h2v5.4375h-2zM244 368.6h4v5.4375h-4zM274 368.6h4v5.4375h-4zM283 374.1h4v5.4375h-4zM220 401.2h4v5.4375h-4zM205 406.7h4v5.4375h-4zM265 412.1h9v5.4375h-9zM306 417.6h2v5.4375h-2zM216 428.4h4v5.4375h-4zM194 439.3h4v5.4375h-4zM287 444.8h4v5.4375h-4zM278 477.4h5v5.4375h-5zM209 482.8h4v5.4375h-4zM269 493.7h9v5.4375h-9zM194 499.1h4v5.4375h-4zM232 499.1h4v5.4375h-4z"/>
<path fill="rgb(33,33,33)" d="M283 102.2h4v5.4375h-4zM216 145.7h4v5.4375h-4zM224 183.8h4v5.4375h-4zM269 183.8h5v5.4375h-5zM197 189.2h1v5.4375h-1zM256 216.4h5v5.4375h-5zM252 227.2h4v5.4375h-4zM283 227.2h4v5.4375h-4zM240 243.6h4v5.4375h-4zM205 265.3h4v5.4375h-4zM283 265.3h4v5.4375h-4zM252 276.2h4v5.4375h-4zM274 287.1h4v5.4375h-4zM232 308.8h4v5.4375h-4zM278 325.1h5v5.4375h-5zM232 330.6h4v5.4375h-4zM265 352.3h4v5.4375h-4zM224 357.8h4v5.4375h-4zM269 357.8h5v5.4375h-5zM216 363.2h4v5.4375h-4zM244 390.4h4v5.4375h-4zM248 395.8h4v5.4375h-4zM240 406.7h4v5.4375h-4zM240 417.6h4v5.4375h-4zM205 428.4h4v5.4375h-4zM269 428.4h5v5.4375h-5zM194 444.8h4v5.4375h-4zM213 444.8h3v5.4375h-3zM244 450.2h4v5.4375h-4zM224 466.5h4v5.4375h-4zM274 466.5h4v5.4375h-4zM213 504.6h3v5.4375h-3zM213 510h3v5.4375h-3zM213 515.4h3v5.4375h-3z"/>
<path fill="rgb(34,34,34)" d="M256 102.2h5v5.4375h-5zM287 172.9h4v5.4375h-4zM188 178.3h3v5.4375h-3zM252 200.1h4v5.4375h-4zM248 205.5h4v5.4375h-4zM302 210.9h4v5.4375h-4zM244 249h4v5.4375h-4zM261 249h4v5.4375h-4zM269 249h5v5.4375h-5zM220 254.4h4v5.4375h-4zM283 254.4h4v5.4375h-4zM269 270.8h5v5.4375h-5zM205 292.5h4v5.4375h-4zM256 303.4h5v5.4375h-5zM236 319.7h4v5.4375h-4zM261 325.1h4v5.4375h-4zM205 336h4v5.4375h-4zM256 336h5v5.4375h-5zM252 341.4h4v5.4375h-4zM240 346.9h4v5.4375h-4zM244 357.8h4v5.4375h-4zM213 363.2h3v5.4375h-3zM265 363.2h4v5.4375h-4zM287 363.2h4v5.4375h-4zM302 363.2h4v5.4375h-4zM302 374.1h4v5.4375h-4zM265 379.5h4v5.4375h-4zM248 390.4h4v5.4375h-4zM202 406.7h3v5.4375h-3zM274 417.6h4v5.4375h-4zM216 423h4v5.4375h-4zM216 455.6h4v5.4375h-4zM209 461.1h4v5.4375h-4zM261 461.1h4v5.4375h-4zM265 471.9h4v5.4375h-4zM274 488.2h4v5.4375h-4zM278 499.1h5v5.4375h-5z"/>
<path fill="rgb(35,35,35)" d="M274 107.6h4v5.4375h-4zM306 107.6h2v5.4375h-2zM240 123.9h4v5.4375h-4zM236 129.4h4v5.4375h-4zM287 129.4h4v5.4375h-4zM236 134.8h4v5.4375h-4zM256 140.2h5v5.4375h-5zM269 156.6h5v5.4375h-5zM206 167.4h3v5.4375h-3zM236 238.1h4v5.4375h-4zM194 259.9h4v5.4375h-4zM213 270.8h3v5.4375h-3zM244 276.2h4v5.4375h-4zM194 319.7h4v5.4375h-4zM256 325.1h5v5.4375h-5zM228 336h4v5.4375h-4zM278 357.8h5v5.4375h-5zM202 363.2h3v5.4375h-3zM236 363.2h4v5.4375h-4zM220 374.1h4v5.4375h-4zM283 379.5h4v5.4375h-4zM265 417.6h4v5.4375h-4zM248 433.9h4v5.4375h-4zM265 433.9h4v5.4375h-4zM194 455.6h4v5.4375h-4zM261 455.6h4v5.4375h-4zM236 461.1h4v5.4375h-4zM220 471.9h4v5.4375h-4zM240 471.9h4v5.4375h-4zM213 482.8h3v5.4375h-3zM236 482.8h4v5.4375h-4zM248 482.8h4v5.4375h-4zM252 504.6h4v5.4375h-4zM252 510h4v5.4375h-4zM252 515.4h4v5.4375h-4z"/>
<path fill="rgb(36,36,36)" d="M256 113.1h5v5.4375h-5zM302 123.9h4v5.4375h-4zM265 134.8h4v5.4375h-4zM302 134.8h4v5.4375h-4zM283 140.2h4v5.4375h-4zM236 145.7h4v5.4375h-4zM240 151.1h4v5.4375h-4zM213 156.6h3v5.4375h-3zM306 156.6h2v5.4375h-2zM213 162h3v5.4375h-3zM265 183.8h4v5.4375h-4zM240 200.1h4v5.4375h-4zM248 200.1h4v5.4375h-4zM265 227.2h4v5.4375h-4zM244 232.7h4v5.4375h-4zM265 254.4h4v5.4375h-4zM252 265.3h4v5.4375h-4zM287 265.3h4v5.4375h-4zM278 270.8h5v5.4375h-5zM232 292.5h4v5.4375h-4zM248 292.5h4v5.4375h-4zM213 308.8h3v5.4375h-3zM198 357.8h4v5.4375h-4zM252 368.6h9v5.4375h-9zM198 374.1h4v5.4375h-4zM302 379.5h4v5.4375h-4zM194 417.6h4v5.4375h-4zM236 417.6h4v5.4375h-4zM244 423h4v5.4375h-4zM240 433.9h4v5.4375h-4zM261 439.3h4v5.4375h-4zM198 450.2h4v5.4375h-4zM220 455.6h4v5.4375h-4zM256 466.5h5v5.4375h-5zM224 471.9h4v5.4375h-4zM278 488.2h5v5.4375h-5zM232 504.6h4v5.4375h-4zM232 510h4v5.4375h-4zM232 515.4h4v5.4375h-4z"/>
<path fill="rgb(37,37,37)" d="M216 129.4h4v5.4375h-4zM278 151.1h5v5.4375h-5zM256 156.6h5v5.4375h-5zM224 167.4h4v5.4375h-4zM216 172.9h4v5.4375h-4zM228 200.1h4v5.4375h-4zM287 205.5h4v5.4375h-4zM202 210.9h3v5.4375h-3zM232 249h4v5.4375h-4zM240 249h4v5.4375h-4zM287 249h4v5.4375h-4zM224 259.9h4v5.4375h-4zM188 276.2h3v5.4375h-3zM220 281.6h4v5.4375h-4zM274 281.6h4v5.4375h-4zM194 287.1h4v5.4375h-4zM278 287.1h5v5.4375h-5zM252 292.5h4v5.4375h-4zM265 292.5h4v5.4375h-4zM236 297.9h8v5.4375h-8zM261 303.4h4v5.4375h-4zM283 303.4h4v5.4375h-4zM265 314.2h4v5.4375h-4zM252 330.6h4v5.4375h-4zM236 341.4h4v5.4375h-4zM274 346.9h4v5.4375h-4zM220 368.6h4v5.4375h-4zM194 374.1h4v5.4375h-4zM274 379.5h4v5.4375h-4zM269 406.7h5v5.4375h-5zM278 406.7h9v5.4375h-9zM228 412.1h4v5.4375h-4zM302 428.4h4v5.4375h-4zM228 477.4h4v5.4375h-4zM269 477.4h5v5.4375h-5zM287 488.2h4v5.4375h-4zM256 504.6h5v5.4375h-5zM256 510h5v5.4375h-5zM256 515.4h5v5.4375h-5z"/>
<path fill="rgb(38,38,38)" d="M203 102.2h4v5.4375h-4zM278 102.2h5v5.4375h-5zM278 107.6h5v5.4375h-5zM197 129.4h1v5.4375h-1zM224 134.8h4v5.4375h-4zM187 140.2h5v5.4375h-5zM287 151.1h4v5.4375h-4zM191 167.4h1v5.4375h-1zM198 172.9h4v5.4375h-4zM261 172.9h4v5.4375h-4zM269 172.9h5v5.4375h-5zM191 178.3h1v5.4375h-1zM306 178.3h2v5.4375h-2zM248 183.8h4v5.4375h-4zM261 200.1h4v5.4375h-4zM224 216.4h4v5.4375h-4zM265 216.4h4v5.4375h-4zM252 221.8h4v5.4375h-4zM278 227.2h5v5.4375h-5zM228 232.7h4v5.4375h-4zM228 243.6h4v5.4375h-4zM224 254.4h4v5.4375h-4zM240 254.4h4v5.4375h-4zM283 259.9h4v5.4375h-4zM306 259.9h2v5.4375h-2zM278 265.3h5v5.4375h-5zM198 270.8h4v5.4375h-4zM216 281.6h4v5.4375h-4zM278 281.6h5v5.4375h-5zM269 308.8h5v5.4375h-5zM236 314.2h4v5.4375h-4zM306 319.7h2v5.4375h-2zM256 330.6h5v5.4375h-5zM269 330.6h5v5.4375h-5zM248 346.9h4v5.4375h-4zM198 363.2h4v5.4375h-4zM261 368.6h4v5.4375h-4zM213 379.5h3v5.4375h-3zM240 384.9h4v5.4375h-4zM265 384.9h4v5.4375h-4zM287 384.9h4v5.4375h-4zM228 395.8h4v5.4375h-4zM240 395.8h4v5.4375h-4zM224 423h4v5.4375h-4zM274 423h4v5.4375h-4zM283 423h4v5.4375h-4zM302 433.9h4v5.4375h-4zM283 439.3h4v5.4375h-4zM232 450.2h4v5.4375h-4zM240 450.2h4v5.4375h-4zM287 450.2h4v5.4375h-4zM198 504.6h4v5.4375h-4zM205 504.6h4v5.4375h-4zM198 510h4v5.4375h-4zM205 510h4v5.4375h-4zM198 515.4h4v5.4375h-4zM205 515.4h4v5.4375h-4z"/>
<path fill="rgb(39,39,39)" d="M209 118.5h2v5.4375h-2zM216 118.5h4v5.4375h-4zM209 123.9h4v5.4375h-4zM269 129.4h5v5.4375h-5zM287 140.2h4v5.4375h-4zM261 145.7h4v5.4375h-4zM302 145.7h4v5.4375h-4zM206 162h3v5.4375h-3zM269 162h5v5.4375h-5zM269 167.4h5v5.4375h-5zM202 183.8h3v5.4375h-3zM191 200.1h1v5.4375h-1zM283 205.5h4v5.4375h-4zM213 210.9h3v5.4375h-3zM306 227.2h2v5.4375h-2zM278 238.1h5v5.4375h-5zM248 259.9h4v5.4375h-4zM252 270.8h4v5.4375h-4zM287 270.8h4v5.4375h-4zM194 276.2h4v5.4375h-4zM287 281.6h4v5.4375h-4zM220 314.2h4v5.4375h-4zM216 330.6h4v5.4375h-4zM244 330.6h4v5.4375h-4zM216 357.8h4v5.4375h-4zM274 363.2h4v5.4375h-4zM256 379.5h5v5.4375h-5zM205 395.8h4v5.4375h-4zM228 401.2h4v5.4375h-4zM236 412.1h4v5.4375h-4zM287 433.9h4v5.4375h-4zM256 439.3h5v5.4375h-5zM182 444.8h2v5.4375h-2zM240 444.8h4v5.4375h-4zM256 444.8h5v5.4375h-5zM302 455.6h4v5.4375h-4zM269 461.1h5v5.4375h-5zM182 471.9h2v5.4375h-2zM244 471.9h4v5.4375h-4zM205 477.4h4v5.4375h-4zM236 488.2h4v5.4375h-4zM287 493.7h4v5.4375h-4zM256 499.1h5v5.4375h-5zM194 504.6h4v5.4375h-4zM194 510h4v5.4375h-4zM194 515.4h4v5.4375h-4z"/>
<path fill="rgb(40,40,40)" d="M274 113.1h4v5.4375h-4zM248 118.5h4v5.4375h-4zM232 123.9h4v5.4375h-4zM283 123.9h4v5.4375h-4zM236 178.3h4v5.4375h-4zM252 178.3h4v5.4375h-4zM209 183.8h4v5.4375h-4zM202 189.2h3v5.4375h-3zM213 205.5h3v5.4375h-3zM274 210.9h4v5.4375h-4zM209 221.8h4v5.4375h-4zM216 227.2h4v5.4375h-4zM232 243.6h4v5.4375h-4zM278 259.9h5v5.4375h-5zM216 270.8h4v5.4375h-4zM302 287.1h4v5.4375h-4zM236 303.4h4v5.4375h-4zM278 314.2h5v5.4375h-5zM228 319.7h4v5.4375h-4zM252 325.1h4v5.4375h-4zM216 336h4v5.4375h-4zM283 363.2h4v5.4375h-4zM213 368.6h3v5.4375h-3zM265 374.1h4v5.4375h-4zM216 384.9h4v5.4375h-4zM224 390.4h4v5.4375h-4zM278 390.4h5v5.4375h-5zM283 395.8h4v5.4375h-4zM244 412.1h4v5.4375h-4zM240 428.4h4v5.4375h-4zM248 439.3h4v5.4375h-4zM191 444.8h3v5.4375h-3zM224 455.6h4v5.4375h-4zM269 466.5h5v5.4375h-5zM306 493.7h2v5.4375h-2zM220 499.1h4v5.4375h-4z"/>
<path fill="rgb(41,41,41)" d="M240 102.2h4v5.4375h-4zM283 145.7h4v5.4375h-4zM232 172.9h4v5.4375h-4zM252 183.8h4v5.4375h-4zM228 210.9h4v5.4375h-4zM302 232.7h4v5.4375h-4zM205 238.1h4v5.4375h-4zM216 254.4h4v5.4375h-4zM202 270.8h3v5.4375h-3zM244 297.9h4v5.4375h-4zM244 303.4h4v5.4375h-4zM194 314.2h4v5.4375h-4zM205 341.4h4v5.4375h-4zM256 341.4h5v5.4375h-5zM240 352.3h4v5.4375h-4zM252 363.2h4v5.4375h-4zM194 390.4h4v5.4375h-4zM252 412.1h4v5.4375h-4zM236 423h4v5.4375h-4zM252 428.4h4v5.4375h-4zM216 439.3h4v5.4375h-4zM283 455.6h4v5.4375h-4zM198 461.1h4v5.4375h-4zM248 466.5h4v5.4375h-4zM236 471.9h4v5.4375h-4zM228 482.8h4v5.4375h-4zM283 493.7h4v5.4375h-4zM205 499.1h4v5.4375h-4zM287 499.1h4v5.4375h-4z"/>
<path fill="rgb(42,42,42)" d="M216 123.9h4v5.4375h-4zM224 129.4h4v5.4375h-4zM240 140.2h4v5.4375h-4zM228 151.1h4v5.4375h-4zM232 156.6h4v5.4375h-4zM224 162h4v5.4375h-4zM265 162h4v5.4375h-4zM216 167.4h4v5.4375h-4zM198 189.2h4v5.4375h-4zM278 189.2h5v5.4375h-5zM252 194.6h4v5.4375h-4zM265 200.1h4v5.4375h-4zM213 216.4h3v5.4375h-3zM248 216.4h4v5.4375h-4zM240 227.2h4v5.4375h-4zM232 238.1h4v5.4375h-4zM274 249h4v5.4375h-4zM184 254.4h4v5.4375h-4zM287 254.4h4v5.4375h-4zM256 270.8h5v5.4375h-5zM228 281.6h4v5.4375h-4zM283 287.1h4v5.4375h-4zM248 297.9h4v5.4375h-4zM198 308.8h4v5.4375h-4zM182 314.2h2v5.4375h-2zM256 319.7h5v5.4375h-5zM278 352.3h5v5.4375h-5zM220 357.8h4v5.4375h-4zM265 357.8h4v5.4375h-4zM261 363.2h4v5.4375h-4zM236 368.6h4v5.4375h-4zM256 384.9h5v5.4375h-5zM194 406.7h4v5.4375h-4zM283 417.6h4v5.4375h-4zM236 477.4h4v5.4375h-4zM256 482.8h5v5.4375h-5z"/>
<path fill="rgb(43,43,43)" d="M306 129.4h2v5.4375h-2zM206 156.6h3v5.4375h-3zM220 156.6h4v5.4375h-4zM213 167.4h3v5.4375h-3zM216 178.3h4v5.4375h-4zM283 216.4h4v5.4375h-4zM198 227.2h4v5.4375h-4zM248 227.2h4v5.4375h-4zM252 232.7h4v5.4375h-4zM274 232.7h4v5.4375h-4zM216 243.6h4v5.4375h-4zM274 265.3h4v5.4375h-4zM274 270.8h4v5.4375h-4zM302 270.8h4v5.4375h-4zM302 292.5h4v5.4375h-4zM274 314.2h4v5.4375h-4zM278 319.7h5v5.4375h-5zM188 336h3v5.4375h-3zM213 336h3v5.4375h-3zM306 336h2v5.4375h-2zM244 341.4h4v5.4375h-4zM261 341.4h4v5.4375h-4zM274 357.8h4v5.4375h-4zM244 363.2h4v5.4375h-4zM265 368.6h4v5.4375h-4zM244 374.1h4v5.4375h-4zM220 384.9h4v5.4375h-4zM274 384.9h4v5.4375h-4zM306 390.4h2v5.4375h-2zM216 401.2h4v5.4375h-4zM228 406.7h4v5.4375h-4zM278 412.1h5v5.4375h-5zM182 417.6h2v5.4375h-2zM261 417.6h4v5.4375h-4zM232 423h4v5.4375h-4zM240 423h4v5.4375h-4zM278 433.9h5v5.4375h-5zM232 439.3h4v5.4375h-4zM252 439.3h4v5.4375h-4zM198 444.8h4v5.4375h-4zM252 444.8h4v5.4375h-4zM265 461.1h4v5.4375h-4zM302 471.9h4v5.4375h-4zM202 477.4h3v5.4375h-3zM198 482.8h4v5.4375h-4zM269 504.6h5v5.4375h-5zM269 510h5v5.4375h-5zM269 515.4h5v5.4375h-5z"/>
<path fill="rgb(44,44,44)" d="M274 118.5h4v5.4375h-4zM240 129.4h4v5.4375h-4zM244 162h4v5.4375h-4zM191 172.9h1v5.4375h-1zM265 172.9h4v5.4375h-4zM306 189.2h2v5.4375h-2zM228 194.6h4v5.4375h-4zM261 205.5h4v5.4375h-4zM261 210.9h4v5.4375h-4zM278 210.9h5v5.4375h-5zM236 254.4h4v5.4375h-4zM216 259.9h4v5.4375h-4zM224 270.8h4v5.4375h-4zM283 292.5h4v5.4375h-4zM194 308.8h4v5.4375h-4zM205 308.8h4v5.4375h-4zM261 314.2h4v5.4375h-4zM216 325.1h4v5.4375h-4zM302 346.9h4v5.4375h-4zM278 363.2h5v5.4375h-5zM205 368.6h4v5.4375h-4zM240 368.6h4v5.4375h-4zM252 374.1h4v5.4375h-4zM205 384.9h4v5.4375h-4zM228 384.9h4v5.4375h-4zM269 384.9h5v5.4375h-5zM236 406.7h4v5.4375h-4zM232 412.1h4v5.4375h-4zM182 428.4h2v5.4375h-2zM287 439.3h4v5.4375h-4zM182 450.2h2v5.4375h-2zM269 455.6h5v5.4375h-5zM306 504.6h2v5.4375h-2zM306 510h2v5.4375h-2zM306 515.4h2v5.4375h-2z"/>
<path fill="rgb(45,45,45)" d="M232 118.5h4v5.4375h-4zM252 140.2h4v5.4375h-4zM240 145.7h4v5.4375h-4zM232 151.1h4v5.4375h-4zM240 156.6h4v5.4375h-4zM216 162h4v5.4375h-4zM200 167.4h6v5.4375h-6zM213 172.9h3v5.4375h-3zM197 178.3h1v5.4375h-1zM256 200.1h5v5.4375h-5zM269 200.1h5v5.4375h-5zM240 205.5h4v5.4375h-4zM224 221.8h4v5.4375h-4zM248 221.8h4v5.4375h-4zM205 232.7h4v5.4375h-4zM220 238.1h4v5.4375h-4zM274 243.6h4v5.4375h-4zM302 243.6h4v5.4375h-4zM198 259.9h4v5.4375h-4zM256 259.9h5v5.4375h-5zM306 270.8h2v5.4375h-2zM209 276.2h4v5.4375h-4zM244 308.8h4v5.4375h-4zM287 319.7h4v5.4375h-4zM248 330.6h4v5.4375h-4zM228 363.2h4v5.4375h-4zM228 379.5h4v5.4375h-4zM194 384.9h4v5.4375h-4zM248 401.2h4v5.4375h-4zM216 406.7h4v5.4375h-4zM252 406.7h4v5.4375h-4zM240 412.1h4v5.4375h-4zM283 412.1h4v5.4375h-4zM213 417.6h3v5.4375h-3zM220 423h4v5.4375h-4zM194 433.9h4v5.4375h-4zM236 439.3h4v5.4375h-4zM244 439.3h4v5.4375h-4zM224 444.8h4v5.4375h-4zM205 450.2h4v5.4375h-4zM202 466.5h3v5.4375h-3zM209 477.4h4v5.4375h-4zM220 504.6h4v5.4375h-4zM248 504.6h4v5.4375h-4zM220 510h4v5.4375h-4zM248 510h4v5.4375h-4zM220 515.4h4v5.4375h-4zM248 515.4h4v5.4375h-4z"/>
<path fill="rgb(46,46,46)" d="M200 145.7h9v5.4375h-9zM248 145.7h4v5.4375h-4zM269 151.1h5v5.4375h-5zM256 162h5v5.4375h-5zM283 167.4h4v5.4375h-4zM228 183.8h4v5.4375h-4zM265 189.2h4v5.4375h-4zM198 194.6h4v5.4375h-4zM205 200.1h4v5.4375h-4zM244 200.1h4v5.4375h-4zM216 216.4h4v5.4375h-4zM302 216.4h4v5.4375h-4zM269 221.8h5v5.4375h-5zM202 243.6h3v5.4375h-3zM213 243.6h3v5.4375h-3zM202 265.3h3v5.4375h-3zM209 265.3h4v5.4375h-4zM261 292.5h4v5.4375h-4zM248 325.1h4v5.4375h-4zM265 330.6h4v5.4375h-4zM256 346.9h5v5.4375h-5zM278 346.9h5v5.4375h-5zM256 352.3h5v5.4375h-5zM244 384.9h4v5.4375h-4zM252 390.4h4v5.4375h-4zM236 395.8h4v5.4375h-4zM240 401.2h4v5.4375h-4zM306 401.2h2v5.4375h-2zM287 406.7h4v5.4375h-4zM236 444.8h4v5.4375h-4zM236 455.6h4v5.4375h-4zM228 461.1h4v5.4375h-4z"/>
<path fill="rgb(47,47,47)" d="M248 129.4h4v5.4375h-4zM261 134.8h4v5.4375h-4zM220 162h4v5.4375h-4zM197 172.9h1v5.4375h-1zM240 183.8h4v5.4375h-4zM256 194.6h5v5.4375h-5zM278 216.4h5v5.4375h-5zM261 232.7h4v5.4375h-4zM248 243.6h4v5.4375h-4zM228 254.4h4v5.4375h-4zM244 270.8h4v5.4375h-4zM205 281.6h4v5.4375h-4zM216 297.9h4v5.4375h-4zM256 314.2h5v5.4375h-5zM198 341.4h4v5.4375h-4zM216 352.3h4v5.4375h-4zM278 368.6h5v5.4375h-5zM265 395.8h4v5.4375h-4zM302 412.1h4v5.4375h-4zM202 423h3v5.4375h-3zM244 428.4h4v5.4375h-4zM216 466.5h4v5.4375h-4zM256 477.4h5v5.4375h-5zM194 493.7h4v5.4375h-4zM248 493.7h4v5.4375h-4zM265 499.1h4v5.4375h-4zM228 504.6h4v5.4375h-4zM236 504.6h4v5.4375h-4zM228 510h4v5.4375h-4zM236 510h4v5.4375h-4zM228 515.4h4v5.4375h-4zM236 515.4h4v5.4375h-4z"/>
<path fill="rgb(48,48,48)" d="M182 129.4h2v5.4375h-2zM236 162h4v5.4375h-4zM274 162h4v5.4375h-4zM240 178.3h4v5.4375h-4zM283 189.2h4v5.4375h-4zM274 205.5h4v5.4375h-4zM269 216.4h5v5.4375h-5zM261 221.8h4v5.4375h-4zM191 227.2h3v5.4375h-3zM194 243.6h4v5.4375h-4zM216 249h4v5.4375h-4zM194 254.4h4v5.4375h-4zM228 303.4h4v5.4375h-4zM202 308.8h3v5.4375h-3zM261 308.8h4v5.4375h-4zM283 314.2h4v5.4375h-4zM252 319.7h4v5.4375h-4zM209 346.9h4v5.4375h-4zM256 374.1h5v5.4375h-5zM306 379.5h2v5.4375h-2zM274 395.8h4v5.4375h-4zM198 423h4v5.4375h-4zM182 433.9h2v5.4375h-2zM198 455.6h4v5.4375h-4zM256 455.6h5v5.4375h-5zM265 455.6h4v5.4375h-4zM194 477.4h4v5.4375h-4zM232 477.4h4v5.4375h-4zM256 488.2h5v5.4375h-5zM261 504.6h4v5.4375h-4zM261 510h4v5.4375h-4zM261 515.4h4v5.4375h-4z"/>
<path fill="rgb(49,49,49)" d="M274 140.2h4v5.4375h-4zM244 145.7h4v5.4375h-4zM252 145.7h4v5.4375h-4zM287 156.6h4v5.4375h-4zM182 167.4h2v5.4375h-2zM220 167.4h4v5.4375h-4zM205 189.2h4v5.4375h-4zM213 200.1h3v5.4375h-3zM240 232.7h4v5.4375h-4zM283 232.7h4v5.4375h-4zM209 249h4v5.4375h-4zM232 259.9h4v5.4375h-4zM306 265.3h2v5.4375h-2zM194 325.1h4v5.4375h-4zM269 325.1h5v5.4375h-5zM236 330.6h4v5.4375h-4zM194 346.9h4v5.4375h-4zM216 346.9h4v5.4375h-4zM283 352.3h4v5.4375h-4zM240 357.8h4v5.4375h-4zM182 379.5h2v5.4375h-2zM256 390.4h5v5.4375h-5zM213 395.8h3v5.4375h-3zM232 401.2h4v5.4375h-4zM252 423h4v5.4375h-4zM261 423h4v5.4375h-4zM202 428.4h3v5.4375h-3zM236 433.9h4v5.4375h-4zM269 444.8h5v5.4375h-5zM283 444.8h4v5.4375h-4zM220 461.1h4v5.4375h-4zM274 461.1h4v5.4375h-4zM261 466.5h8v5.4375h-8zM202 471.9h7v5.4375h-7zM213 471.9h3v5.4375h-3zM248 477.4h4v5.4375h-4zM194 482.8h4v5.4375h-4zM287 482.8h4v5.4375h-4zM184 504.6h4v5.4375h-4zM184 510h4v5.4375h-4zM184 515.4h4v5.4375h-4z"/>
<path fill="rgb(50,50,50)" d="M200 80.44h2v5.4375h-2zM219 80.44h3v5.4375h-3zM306 80.44h1v5.4375h-1zM236 123.9h4v5.4375h-4zM256 123.9h5v5.4375h-5zM182 140.2h2v5.4375h-2zM265 140.2h4v5.4375h-4zM216 156.6h4v5.4375h-4zM274 200.1h4v5.4375h-4zM202 216.4h3v5.4375h-3zM202 227.2h7v5.4375h-7zM220 227.2h4v5.4375h-4zM213 259.9h3v5.4375h-3zM220 259.9h4v5.4375h-4zM248 276.2h4v5.4375h-4zM252 297.9h4v5.4375h-4zM287 303.4h4v5.4375h-4zM240 319.7h4v5.4375h-4zM261 319.7h4v5.4375h-4zM265 325.1h4v5.4375h-4zM228 330.6h4v5.4375h-4zM240 330.6h4v5.4375h-4zM224 336h4v5.4375h-4zM283 341.4h4v5.4375h-4zM236 352.3h4v5.4375h-4zM194 357.8h4v5.4375h-4zM213 374.1h3v5.4375h-3zM274 374.1h4v5.4375h-4zM261 390.4h4v5.4375h-4zM216 412.1h4v5.4375h-4zM274 428.4h4v5.4375h-4zM287 428.4h4v5.4375h-4zM244 433.9h4v5.4375h-4zM261 433.9h4v5.4375h-4zM240 439.3h4v5.4375h-4zM194 450.2h4v5.4375h-4zM209 455.6h4v5.4375h-4zM228 471.9h4v5.4375h-4zM261 471.9h4v5.4375h-4zM302 477.4h4v5.4375h-4zM202 488.2h3v5.4375h-3z"/>
<path fill="rgb(51,51,51)" d="M269 140.2h5v5.4375h-5zM256 145.7h5v5.4375h-5zM248 151.1h4v5.4375h-4zM274 151.1h4v5.4375h-4zM200 162h6v5.4375h-6zM205 194.6h4v5.4375h-4zM244 205.5h4v5.4375h-4zM269 205.5h5v5.4375h-5zM302 205.5h4v5.4375h-4zM252 210.9h4v5.4375h-4zM194 232.7h4v5.4375h-4zM256 281.6h5v5.4375h-5zM240 287.1h4v5.4375h-4zM269 287.1h5v5.4375h-5zM209 292.5h4v5.4375h-4zM216 292.5h8v5.4375h-8zM240 292.5h4v5.4375h-4zM256 292.5h5v5.4375h-5zM232 303.4h4v5.4375h-4zM216 308.8h4v5.4375h-4zM248 308.8h4v5.4375h-4zM287 314.2h4v5.4375h-4zM198 319.7h4v5.4375h-4zM278 330.6h5v5.4375h-5zM220 336h4v5.4375h-4zM283 346.9h4v5.4375h-4zM252 357.8h4v5.4375h-4zM236 384.9h4v5.4375h-4zM278 384.9h5v5.4375h-5zM198 401.2h4v5.4375h-4zM256 401.2h5v5.4375h-5zM283 401.2h4v5.4375h-4zM209 417.6h4v5.4375h-4zM278 417.6h5v5.4375h-5zM287 417.6h4v5.4375h-4zM194 423h4v5.4375h-4zM278 423h5v5.4375h-5zM274 433.9h4v5.4375h-4zM209 439.3h4v5.4375h-4zM198 466.5h4v5.4375h-4zM306 466.5h2v5.4375h-2zM240 477.4h4v5.4375h-4zM191 482.8h3v5.4375h-3zM240 482.8h4v5.4375h-4zM261 493.7h4v5.4375h-4z"/>
<path fill="rgb(52,52,52)" d="M182 151.1h2v5.4375h-2zM265 178.3h4v5.4375h-4zM302 189.2h4v5.4375h-4zM283 200.1h4v5.4375h-4zM236 221.8h4v5.4375h-4zM205 243.6h4v5.4375h-4zM213 249h3v5.4375h-3zM261 259.9h4v5.4375h-4zM269 259.9h5v5.4375h-5zM302 259.9h4v5.4375h-4zM236 281.6h4v5.4375h-4zM202 292.5h3v5.4375h-3zM236 292.5h4v5.4375h-4zM244 292.5h4v5.4375h-4zM274 292.5h4v5.4375h-4zM283 308.8h4v5.4375h-4zM240 314.2h4v5.4375h-4zM269 341.4h5v5.4375h-5zM287 357.8h4v5.4375h-4zM209 384.9h4v5.4375h-4zM244 395.8h4v5.4375h-4zM205 412.1h4v5.4375h-4zM256 412.1h5v5.4375h-5zM274 455.6h4v5.4375h-4zM274 482.8h4v5.4375h-4zM213 488.2h3v5.4375h-3zM274 499.1h4v5.4375h-4z"/>
<path fill="rgb(53,53,53)" d="M197 123.9h1v5.4375h-1zM236 140.2h4v5.4375h-4zM200 151.1h9v5.4375h-9zM261 162h4v5.4375h-4zM197 183.8h1v5.4375h-1zM224 189.2h4v5.4375h-4zM269 210.9h5v5.4375h-5zM261 238.1h4v5.4375h-4zM236 243.6h4v5.4375h-4zM261 243.6h4v5.4375h-4zM228 249h4v5.4375h-4zM252 254.4h4v5.4375h-4zM228 259.9h4v5.4375h-4zM244 265.3h4v5.4375h-4zM256 265.3h5v5.4375h-5zM232 281.6h4v5.4375h-4zM261 281.6h4v5.4375h-4zM256 287.1h5v5.4375h-5zM252 303.4h4v5.4375h-4zM252 308.8h4v5.4375h-4zM244 319.7h4v5.4375h-4zM209 330.6h4v5.4375h-4zM232 336h4v5.4375h-4zM205 346.9h4v5.4375h-4zM194 352.3h4v5.4375h-4zM269 363.2h5v5.4375h-5zM240 379.5h4v5.4375h-4zM283 384.9h4v5.4375h-4zM216 395.8h4v5.4375h-4zM244 401.2h4v5.4375h-4zM209 412.1h4v5.4375h-4zM269 423h5v5.4375h-5zM244 444.8h4v5.4375h-4zM306 444.8h2v5.4375h-2zM269 450.2h5v5.4375h-5zM252 455.6h4v5.4375h-4zM194 466.5h4v5.4375h-4zM213 477.4h3v5.4375h-3zM232 488.2h4v5.4375h-4zM248 488.2h4v5.4375h-4zM209 493.7h4v5.4375h-4zM278 493.7h5v5.4375h-5z"/>
<path fill="rgb(54,54,54)" d="M207 91.31h4v5.4375h-4zM283 151.1h4v5.4375h-4zM182 156.6h2v5.4375h-2zM182 162h2v5.4375h-2zM228 189.2h4v5.4375h-4zM224 210.9h4v5.4375h-4zM256 210.9h5v5.4375h-5zM205 216.4h4v5.4375h-4zM287 216.4h4v5.4375h-4zM283 221.8h4v5.4375h-4zM224 238.1h4v5.4375h-4zM283 238.1h4v5.4375h-4zM302 238.1h4v5.4375h-4zM283 243.6h4v5.4375h-4zM205 249h4v5.4375h-4zM278 249h5v5.4375h-5zM232 254.4h4v5.4375h-4zM261 270.8h4v5.4375h-4zM265 276.2h4v5.4375h-4zM283 276.2h4v5.4375h-4zM252 287.1h4v5.4375h-4zM232 297.9h4v5.4375h-4zM261 297.9h4v5.4375h-4zM278 303.4h5v5.4375h-5zM302 303.4h4v5.4375h-4zM202 314.2h3v5.4375h-3zM252 314.2h4v5.4375h-4zM302 336h4v5.4375h-4zM274 341.4h4v5.4375h-4zM256 363.2h5v5.4375h-5zM205 379.5h4v5.4375h-4zM248 384.9h4v5.4375h-4zM220 428.4h4v5.4375h-4zM248 428.4h4v5.4375h-4zM256 428.4h5v5.4375h-5zM252 433.9h4v5.4375h-4zM248 461.1h4v5.4375h-4zM240 466.5h4v5.4375h-4zM252 471.9h4v5.4375h-4zM278 471.9h5v5.4375h-5zM244 488.2h4v5.4375h-4zM252 499.1h4v5.4375h-4z"/>
<path fill="rgb(55,55,55)" d="M265 129.4h4v5.4375h-4zM213 178.3h3v5.4375h-3zM256 183.8h5v5.4375h-5zM224 194.6h4v5.4375h-4zM197 205.5h1v5.4375h-1zM220 210.9h4v5.4375h-4zM256 221.8h5v5.4375h-5zM256 227.2h5v5.4375h-5zM236 259.9h4v5.4375h-4zM269 276.2h5v5.4375h-5zM213 287.1h3v5.4375h-3zM232 287.1h4v5.4375h-4zM248 287.1h4v5.4375h-4zM274 297.9h4v5.4375h-4zM302 314.2h4v5.4375h-4zM283 319.7h4v5.4375h-4zM269 336h5v5.4375h-5zM205 363.2h4v5.4375h-4zM283 390.4h4v5.4375h-4zM278 401.2h5v5.4375h-5zM287 412.1h4v5.4375h-4zM224 428.4h4v5.4375h-4zM265 428.4h4v5.4375h-4zM244 455.6h4v5.4375h-4zM205 466.5h4v5.4375h-4zM252 488.2h4v5.4375h-4zM228 499.1h4v5.4375h-4z"/>
<path fill="rgb(56,56,56)" d="M200 64.12h2v5.4375h-2zM219 64.12h3v5.4375h-3zM306 64.12h1v5.4375h-1zM200 69.56h2v5.4375h-2zM219 69.56h3v5.4375h-3zM306 69.56h1v5.4375h-1zM200 75h2v5.4375h-2zM219 75h3v5.4375h-3zM306 75h1v5.4375h-1zM203 107.6h4v5.4375h-4zM197 118.5h1v5.4375h-1zM306 123.9h2v5.4375h-2zM187 145.7h5v5.4375h-5zM261 156.6h4v5.4375h-4zM232 194.6h4v5.4375h-4zM274 216.4h4v5.4375h-4zM198 221.8h4v5.4375h-4zM216 232.7h4v5.4375h-4zM202 238.1h3v5.4375h-3zM265 238.1h4v5.4375h-4zM198 243.6h4v5.4375h-4zM248 254.4h4v5.4375h-4zM236 265.3h4v5.4375h-4zM248 265.3h4v5.4375h-4zM220 270.8h4v5.4375h-4zM240 276.2h4v5.4375h-4zM198 281.6h4v5.4375h-4zM198 297.9h4v5.4375h-4zM278 297.9h5v5.4375h-5zM213 319.7h3v5.4375h-3zM224 319.7h4v5.4375h-4zM287 325.1h4v5.4375h-4zM232 368.6h4v5.4375h-4zM232 379.5h4v5.4375h-4zM287 379.5h4v5.4375h-4zM252 395.8h4v5.4375h-4zM213 401.2h3v5.4375h-3zM265 401.2h4v5.4375h-4zM184 417.6h4v5.4375h-4zM256 417.6h5v5.4375h-5zM269 417.6h5v5.4375h-5zM228 423h4v5.4375h-4zM205 433.9h4v5.4375h-4zM240 455.6h4v5.4375h-4zM302 488.2h4v5.4375h-4zM216 504.6h4v5.4375h-4zM216 510h4v5.4375h-4zM216 515.4h4v5.4375h-4z"/>
<path fill="rgb(57,57,57)" d="M182 178.3h2v5.4375h-2zM232 178.3h4v5.4375h-4zM213 194.6h3v5.4375h-3zM209 200.1h4v5.4375h-4zM232 216.4h4v5.4375h-4zM244 221.8h4v5.4375h-4zM232 227.2h4v5.4375h-4zM198 232.7h4v5.4375h-4zM213 232.7h3v5.4375h-3zM248 238.1h4v5.4375h-4zM194 249h8v5.4375h-8zM302 254.4h4v5.4375h-4zM198 276.2h4v5.4375h-4zM252 281.6h4v5.4375h-4zM209 303.4h4v5.4375h-4zM265 319.7h4v5.4375h-4zM202 341.4h3v5.4375h-3zM198 368.6h4v5.4375h-4zM261 379.5h4v5.4375h-4zM232 384.9h4v5.4375h-4zM261 384.9h4v5.4375h-4zM213 390.4h3v5.4375h-3zM209 401.2h4v5.4375h-4zM244 406.7h4v5.4375h-4zM306 412.1h2v5.4375h-2zM269 471.9h5v5.4375h-5zM261 477.4h4v5.4375h-4zM213 493.7h3v5.4375h-3z"/>
<path fill="rgb(58,58,58)" d="M192 156.6h5v5.4375h-5zM248 162h4v5.4375h-4zM182 172.9h2v5.4375h-2zM232 200.1h4v5.4375h-4zM236 227.2h4v5.4375h-4zM216 238.1h4v5.4375h-4zM224 276.2h4v5.4375h-4zM287 308.8h4v5.4375h-4zM213 314.2h3v5.4375h-3zM209 363.2h4v5.4375h-4zM224 368.6h4v5.4375h-4zM202 379.5h3v5.4375h-3zM302 390.4h4v5.4375h-4zM274 439.3h4v5.4375h-4zM205 488.2h4v5.4375h-4zM224 488.2h4v5.4375h-4zM240 493.7h4v5.4375h-4z"/>
<path fill="rgb(59,59,59)" d="M182 145.7h2v5.4375h-2zM216 151.1h4v5.4375h-4zM252 151.1h4v5.4375h-4zM232 189.2h4v5.4375h-4zM198 200.1h4v5.4375h-4zM240 210.9h4v5.4375h-4zM209 238.1h4v5.4375h-4zM213 254.4h3v5.4375h-3zM209 270.8h4v5.4375h-4zM194 292.5h4v5.4375h-4zM220 297.9h4v5.4375h-4zM248 314.2h4v5.4375h-4zM205 330.6h4v5.4375h-4zM194 336h4v5.4375h-4zM244 336h4v5.4375h-4zM198 352.3h7v5.4375h-7zM232 374.1h4v5.4375h-4zM287 374.1h4v5.4375h-4zM198 406.7h4v5.4375h-4zM194 412.1h4v5.4375h-4zM213 412.1h3v5.4375h-3zM283 428.4h4v5.4375h-4zM209 433.9h4v5.4375h-4zM216 450.2h4v5.4375h-4zM248 450.2h4v5.4375h-4zM213 466.5h3v5.4375h-3zM224 482.8h4v5.4375h-4zM244 493.7h4v5.4375h-4z"/>
<path fill="rgb(60,60,60)" d="M228 162h4v5.4375h-4zM209 194.6h4v5.4375h-4zM269 238.1h5v5.4375h-5zM224 265.3h4v5.4375h-4zM194 297.9h4v5.4375h-4zM232 325.1h4v5.4375h-4zM198 330.6h4v5.4375h-4zM232 341.4h4v5.4375h-4zM209 368.6h4v5.4375h-4zM194 379.5h4v5.4375h-4zM198 384.9h4v5.4375h-4zM209 390.4h4v5.4375h-4zM232 428.4h4v5.4375h-4zM224 477.4h4v5.4375h-4zM216 488.2h4v5.4375h-4zM306 488.2h2v5.4375h-2zM216 493.7h4v5.4375h-4zM202 504.6h3v5.4375h-3zM202 510h3v5.4375h-3zM202 515.4h3v5.4375h-3z"/>
<path fill="rgb(61,61,61)" d="M200 140.2h6v5.4375h-6zM200 156.6h6v5.4375h-6zM192 205.5h5v5.4375h-5zM224 205.5h4v5.4375h-4zM205 210.9h4v5.4375h-4zM182 221.8h2v5.4375h-2zM205 254.4h4v5.4375h-4zM228 265.3h4v5.4375h-4zM213 276.2h3v5.4375h-3zM213 292.5h3v5.4375h-3zM209 314.2h4v5.4375h-4zM209 341.4h4v5.4375h-4zM220 363.2h4v5.4375h-4zM194 428.4h4v5.4375h-4zM274 450.2h4v5.4375h-4zM232 493.7h4v5.4375h-4z"/>
<path fill="rgb(62,62,62)" d="M202 80.44h1v5.4375h-1zM218 80.44h1v5.4375h-1zM213 189.2h3v5.4375h-3zM216 303.4h4v5.4375h-4zM228 308.8h4v5.4375h-4zM202 357.8h3v5.4375h-3zM232 363.2h4v5.4375h-4zM198 379.5h4v5.4375h-4zM232 390.4h4v5.4375h-4zM248 406.7h4v5.4375h-4zM224 433.9h4v5.4375h-4z"/>
<path fill="rgb(63,63,63)" d="M222 80.44h1v5.4375h-1zM238 80.44h1v5.4375h-1zM192 162h5v5.4375h-5zM192 172.9h5v5.4375h-5zM232 183.8h4v5.4375h-4zM192 189.2h5v5.4375h-5zM209 189.2h4v5.4375h-4zM198 210.9h4v5.4375h-4zM228 221.8h4v5.4375h-4zM220 325.1h4v5.4375h-4zM244 379.5h4v5.4375h-4zM228 417.6h4v5.4375h-4zM205 444.8h4v5.4375h-4z"/>
<path fill="rgb(64,64,64)" d="M239 80.44h1v5.4375h-1zM255 80.44h1v5.4375h-1zM228 156.6h4v5.4375h-4zM232 270.8h4v5.4375h-4zM228 276.2h4v5.4375h-4zM213 297.9h3v5.4375h-3zM198 336h4v5.4375h-4zM232 357.8h4v5.4375h-4zM202 412.1h3v5.4375h-3zM232 461.1h4v5.4375h-4z"/>
<path fill="rgb(65,65,65)" d="M256 80.44h1v5.4375h-1zM272 80.44h1v5.4375h-1zM184 156.6h3v5.4375h-3zM198 433.9h4v5.4375h-4z"/>
<path fill="rgb(66,66,66)" d="M307 80.44h1v5.4375h-1zM184 151.1h3v5.4375h-3zM213 183.8h3v5.4375h-3zM224 412.1h4v5.4375h-4zM198 493.7h4v5.4375h-4z"/>
<path fill="rgb(67,67,67)" d="M187 113.1h5v5.4375h-5zM187 123.9h5v5.4375h-5zM192 167.4h5v5.4375h-5z"/>
<path fill="rgb(68,68,68)" d="M202 64.12h1v5.4375h-1zM218 64.12h1v5.4375h-1zM202 69.56h1v5.4375h-1zM218 69.56h1v5.4375h-1zM202 75h1v5.4375h-1zM218 75h1v5.4375h-1zM305 80.44h1v5.4375h-1zM194 85.88h3v5.4375h-3z"/>
<path fill="rgb(69,69,69)" d="M203 80.44h1v5.4375h-1zM217 80.44h1v5.4375h-1zM186 85.88h5v5.4375h-5zM188 482.8h3v5.4375h-3z"/>
<path fill="rgb(70,70,70)" d="M222 64.12h1v5.4375h-1zM238 64.12h1v5.4375h-1zM222 69.56h1v5.4375h-1zM238 69.56h1v5.4375h-1zM222 75h1v5.4375h-1zM238 75h1v5.4375h-1zM182 80.44h1v5.4375h-1zM273 80.44h1v5.4375h-1zM289 80.44h1v5.4375h-1zM187 129.4h5v5.4375h-5zM187 134.8h5v5.4375h-5zM192 145.7h5v5.4375h-5z"/>
<path fill="rgb(71,71,71)" d="M239 64.12h1v5.4375h-1zM255 64.12h1v5.4375h-1zM239 69.56h1v5.4375h-1zM255 69.56h1v5.4375h-1zM239 75h1v5.4375h-1zM255 75h1v5.4375h-1zM223 80.44h1v5.4375h-1zM237 80.44h1v5.4375h-1zM192 178.3h5v5.4375h-5z"/>
<path fill="rgb(72,72,72)" d="M256 64.12h1v5.4375h-1zM272 64.12h1v5.4375h-1zM256 69.56h1v5.4375h-1zM272 69.56h1v5.4375h-1zM256 75h1v5.4375h-1zM272 75h1v5.4375h-1zM240 80.44h1v5.4375h-1zM254 80.44h1v5.4375h-1zM182 134.8h2v5.4375h-2z"/>
<path fill="rgb(73,73,73)" d="M307 64.12h1v5.4375h-1zM307 69.56h1v5.4375h-1zM307 75h1v5.4375h-1zM204 80.44h1v5.4375h-1zM216 80.44h1v5.4375h-1zM182 123.9h2v5.4375h-2z"/>
<path fill="rgb(74,74,74)" d="M257 80.44h1v5.4375h-1zM271 80.44h1v5.4375h-1z"/>
<path fill="rgb(76,76,76)" d="M203 64.12h1v5.4375h-1zM217 64.12h1v5.4375h-1zM305 64.12h1v5.4375h-1zM203 69.56h1v5.4375h-1zM217 69.56h1v5.4375h-1zM305 69.56h1v5.4375h-1zM203 75h1v5.4375h-1zM217 75h1v5.4375h-1zM305 75h1v5.4375h-1zM205 80.44h1v5.4375h-1zM215 80.44h1v5.4375h-1zM224 80.44h1v5.4375h-1zM236 80.44h1v5.4375h-1zM223 85.88h4v5.4375h-4zM230 85.88h4v5.4375h-4zM187 118.5h5v5.4375h-5zM192 183.8h5v5.4375h-5z"/>
<path fill="rgb(77,77,77)" d="M241 80.44h1v5.4375h-1zM253 80.44h1v5.4375h-1z"/>
<path fill="rgb(78,78,78)" d="M183 64.12h3v5.4375h-3zM273 64.12h1v5.4375h-1zM289 64.12h1v5.4375h-1zM183 69.56h3v5.4375h-3zM273 69.56h1v5.4375h-1zM289 69.56h1v5.4375h-1zM183 75h3v5.4375h-3zM273 75h1v5.4375h-1zM289 75h1v5.4375h-1zM192 80.44h3v5.4375h-3zM192 140.2h5v5.4375h-5z"/>
<path fill="rgb(79,79,79)" d="M223 64.12h1v5.4375h-1zM237 64.12h1v5.4375h-1zM223 69.56h1v5.4375h-1zM237 69.56h1v5.4375h-1zM223 75h1v5.4375h-1zM237 75h1v5.4375h-1zM206 80.44h1v5.4375h-1zM214 80.44h1v5.4375h-1zM290 80.44h1v5.4375h-1zM304 80.44h1v5.4375h-1zM184 140.2h3v5.4375h-3z"/>
<path fill="rgb(80,80,80)" d="M240 64.12h1v5.4375h-1zM254 64.12h1v5.4375h-1zM240 69.56h1v5.4375h-1zM254 69.56h1v5.4375h-1zM240 75h1v5.4375h-1zM254 75h1v5.4375h-1zM225 80.44h1v5.4375h-1zM235 80.44h1v5.4375h-1zM258 80.44h1v5.4375h-1zM270 80.44h1v5.4375h-1zM187 102.2h5v5.4375h-5zM184 107.6h8v5.4375h-8zM192 194.6h1v5.4375h-1z"/>
<path fill="rgb(81,81,81)" d="M204 64.12h1v5.4375h-1zM216 64.12h1v5.4375h-1zM204 69.56h1v5.4375h-1zM216 69.56h1v5.4375h-1zM204 75h1v5.4375h-1zM216 75h1v5.4375h-1zM207 80.44h1v5.4375h-1zM213 80.44h1v5.4375h-1zM242 80.44h1v5.4375h-1zM252 80.44h1v5.4375h-1z"/>
<path fill="rgb(82,82,82)" d="M257 64.12h1v5.4375h-1zM271 64.12h1v5.4375h-1zM257 69.56h1v5.4375h-1zM271 69.56h1v5.4375h-1zM257 75h1v5.4375h-1zM271 75h1v5.4375h-1zM208 80.44h1v5.4375h-1zM212 80.44h1v5.4375h-1zM274 80.44h1v5.4375h-1zM288 80.44h1v5.4375h-1z"/>
<path fill="rgb(83,83,83)" d="M209 80.44h3v5.4375h-3zM226 80.44h1v5.4375h-1zM234 80.44h1v5.4375h-1z"/>
<path fill="rgb(84,84,84)" d="M243 80.44h1v5.4375h-1zM251 80.44h1v5.4375h-1zM259 80.44h1v5.4375h-1zM269 80.44h1v5.4375h-1zM211 118.5h3v5.4375h-3z"/>
<path fill="rgb(85,85,85)" d="M192 64.12h3v5.4375h-3zM205 64.12h1v5.4375h-1zM215 64.12h1v5.4375h-1zM224 64.12h1v5.4375h-1zM236 64.12h1v5.4375h-1zM192 69.56h3v5.4375h-3zM205 69.56h1v5.4375h-1zM215 69.56h1v5.4375h-1zM224 69.56h1v5.4375h-1zM236 69.56h1v5.4375h-1zM192 75h3v5.4375h-3zM205 75h1v5.4375h-1zM215 75h1v5.4375h-1zM224 75h1v5.4375h-1zM236 75h1v5.4375h-1zM227 80.44h1v5.4375h-1zM233 80.44h1v5.4375h-1zM199 85.88h5v5.4375h-5zM208 85.88h3v5.4375h-3zM187 96.75h5v5.4375h-5zM184 129.4h3v5.4375h-3z"/>
<path fill="rgb(86,86,86)" d="M241 64.12h1v5.4375h-1zM253 64.12h1v5.4375h-1zM241 69.56h1v5.4375h-1zM253 69.56h1v5.4375h-1zM241 75h1v5.4375h-1zM253 75h1v5.4375h-1zM186 80.44h3v5.4375h-3zM244 80.44h1v5.4375h-1zM250 80.44h1v5.4375h-1zM291 80.44h1v5.4375h-1zM303 80.44h1v5.4375h-1z"/>
<path fill="rgb(87,87,87)" d="M189 64.12h3v5.4375h-3zM189 69.56h3v5.4375h-3zM189 75h3v5.4375h-3zM228 80.44h1v5.4375h-1zM232 80.44h1v5.4375h-1zM184 96.75h3v5.4375h-3zM184 113.1h3v5.4375h-3z"/>
<path fill="rgb(88,88,88)" d="M206 64.12h1v5.4375h-1zM214 64.12h1v5.4375h-1zM290 64.12h1v5.4375h-1zM304 64.12h1v5.4375h-1zM206 69.56h1v5.4375h-1zM214 69.56h1v5.4375h-1zM290 69.56h1v5.4375h-1zM304 69.56h1v5.4375h-1zM206 75h1v5.4375h-1zM214 75h1v5.4375h-1zM290 75h1v5.4375h-1zM304 75h1v5.4375h-1zM229 80.44h3v5.4375h-3zM245 80.44h1v5.4375h-1zM249 80.44h1v5.4375h-1zM260 80.44h1v5.4375h-1zM268 80.44h1v5.4375h-1z"/>
<path fill="rgb(89,89,89)" d="M225 64.12h1v5.4375h-1zM235 64.12h1v5.4375h-1zM258 64.12h1v5.4375h-1zM270 64.12h1v5.4375h-1zM225 69.56h1v5.4375h-1zM235 69.56h1v5.4375h-1zM258 69.56h1v5.4375h-1zM270 69.56h1v5.4375h-1zM225 75h1v5.4375h-1zM235 75h1v5.4375h-1zM258 75h1v5.4375h-1zM270 75h1v5.4375h-1zM246 80.44h3v5.4375h-3zM192 200.1h1v5.4375h-1z"/>
<path fill="rgb(90,90,90)" d="M207 64.12h1v5.4375h-1zM213 64.12h1v5.4375h-1zM242 64.12h1v5.4375h-1zM252 64.12h1v5.4375h-1zM207 69.56h1v5.4375h-1zM213 69.56h1v5.4375h-1zM242 69.56h1v5.4375h-1zM252 69.56h1v5.4375h-1zM207 75h1v5.4375h-1zM213 75h1v5.4375h-1zM242 75h1v5.4375h-1zM252 75h1v5.4375h-1zM261 80.44h1v5.4375h-1zM267 80.44h1v5.4375h-1zM275 80.44h1v5.4375h-1zM287 80.44h1v5.4375h-1zM192 118.5h5v5.4375h-5zM184 134.8h3v5.4375h-3zM193 200.1h4v5.4375h-4z"/>
<path fill="rgb(91,91,91)" d="M208 64.12h1v5.4375h-1zM212 64.12h1v5.4375h-1zM274 64.12h1v5.4375h-1zM288 64.12h1v5.4375h-1zM208 69.56h1v5.4375h-1zM212 69.56h1v5.4375h-1zM274 69.56h1v5.4375h-1zM288 69.56h1v5.4375h-1zM208 75h1v5.4375h-1zM212 75h1v5.4375h-1zM274 75h1v5.4375h-1zM288 75h1v5.4375h-1zM192 151.1h5v5.4375h-5z"/>
<path fill="rgb(92,92,92)" d="M209 64.12h3v5.4375h-3zM226 64.12h1v5.4375h-1zM234 64.12h1v5.4375h-1zM209 69.56h3v5.4375h-3zM226 69.56h1v5.4375h-1zM234 69.56h1v5.4375h-1zM209 75h3v5.4375h-3zM226 75h1v5.4375h-1zM234 75h1v5.4375h-1zM262 80.44h1v5.4375h-1zM266 80.44h1v5.4375h-1zM292 80.44h1v5.4375h-1zM302 80.44h1v5.4375h-1zM184 145.7h3v5.4375h-3z"/>
<path fill="rgb(93,93,93)" d="M243 64.12h1v5.4375h-1zM251 64.12h1v5.4375h-1zM243 69.56h1v5.4375h-1zM251 69.56h1v5.4375h-1zM243 75h1v5.4375h-1zM251 75h1v5.4375h-1zM263 80.44h3v5.4375h-3zM238 85.88h5v5.4375h-5zM184 123.9h3v5.4375h-3z"/>
<path fill="rgb(94,94,94)" d="M259 64.12h1v5.4375h-1zM269 64.12h1v5.4375h-1zM259 69.56h1v5.4375h-1zM269 69.56h1v5.4375h-1zM259 75h1v5.4375h-1zM269 75h1v5.4375h-1z"/>
<path fill="rgb(95,95,95)" d="M227 64.12h1v5.4375h-1zM233 64.12h1v5.4375h-1zM227 69.56h1v5.4375h-1zM233 69.56h1v5.4375h-1zM227 75h1v5.4375h-1zM233 75h1v5.4375h-1zM276 80.44h1v5.4375h-1zM286 80.44h1v5.4375h-1zM182 85.88h1v5.4375h-1zM192 123.9h5v5.4375h-5z"/>
<path fill="rgb(96,96,96)" d="M228 64.12h1v5.4375h-1zM232 64.12h1v5.4375h-1zM244 64.12h1v5.4375h-1zM250 64.12h1v5.4375h-1zM291 64.12h1v5.4375h-1zM303 64.12h1v5.4375h-1zM228 69.56h1v5.4375h-1zM232 69.56h1v5.4375h-1zM244 69.56h1v5.4375h-1zM250 69.56h1v5.4375h-1zM291 69.56h1v5.4375h-1zM303 69.56h1v5.4375h-1zM228 75h1v5.4375h-1zM232 75h1v5.4375h-1zM244 75h1v5.4375h-1zM250 75h1v5.4375h-1zM291 75h1v5.4375h-1zM303 75h1v5.4375h-1zM293 80.44h1v5.4375h-1zM301 80.44h1v5.4375h-1zM182 91.31h2v5.4375h-2zM184 118.5h3v5.4375h-3z"/>
<path fill="rgb(97,97,97)" d="M229 64.12h1v5.4375h-1zM231 64.12h1v5.4375h-1zM245 64.12h1v5.4375h-1zM249 64.12h1v5.4375h-1zM260 64.12h1v5.4375h-1zM268 64.12h1v5.4375h-1zM229 69.56h1v5.4375h-1zM231 69.56h1v5.4375h-1zM245 69.56h1v5.4375h-1zM249 69.56h1v5.4375h-1zM260 69.56h1v5.4375h-1zM268 69.56h1v5.4375h-1zM229 75h1v5.4375h-1zM231 75h1v5.4375h-1zM245 75h1v5.4375h-1zM249 75h1v5.4375h-1zM260 75h1v5.4375h-1zM268 75h1v5.4375h-1zM182 107.6h2v5.4375h-2z"/>
<path fill="rgb(98,98,98)" d="M230 64.12h1v5.4375h-1zM246 64.12h1v5.4375h-1zM248 64.12h1v5.4375h-1zM230 69.56h1v5.4375h-1zM246 69.56h1v5.4375h-1zM248 69.56h1v5.4375h-1zM230 75h1v5.4375h-1zM246 75h1v5.4375h-1zM248 75h1v5.4375h-1z"/>
<path fill="rgb(99,99,99)" d="M247 64.12h1v5.4375h-1zM247 69.56h1v5.4375h-1zM247 75h1v5.4375h-1zM294 80.44h1v5.4375h-1zM300 80.44h1v5.4375h-1z"/>
<path fill="rgb(100,100,100)" d="M261 64.12h1v5.4375h-1zM267 64.12h1v5.4375h-1zM275 64.12h1v5.4375h-1zM287 64.12h1v5.4375h-1zM261 69.56h1v5.4375h-1zM267 69.56h1v5.4375h-1zM275 69.56h1v5.4375h-1zM287 69.56h1v5.4375h-1zM261 75h1v5.4375h-1zM267 75h1v5.4375h-1zM275 75h1v5.4375h-1zM287 75h1v5.4375h-1zM277 80.44h1v5.4375h-1zM285 80.44h1v5.4375h-1zM182 113.1h2v5.4375h-2z"/>
<path fill="rgb(101,101,101)" d="M195 80.44h3v5.4375h-3zM295 80.44h1v5.4375h-1zM299 80.44h1v5.4375h-1zM184 91.31h3v5.4375h-3z"/>
<path fill="rgb(102,102,102)" d="M262 64.12h1v5.4375h-1zM266 64.12h1v5.4375h-1zM292 64.12h1v5.4375h-1zM302 64.12h1v5.4375h-1zM262 69.56h1v5.4375h-1zM266 69.56h1v5.4375h-1zM292 69.56h1v5.4375h-1zM302 69.56h1v5.4375h-1zM262 75h1v5.4375h-1zM266 75h1v5.4375h-1zM292 75h1v5.4375h-1zM302 75h1v5.4375h-1zM296 80.44h3v5.4375h-3zM182 96.75h2v5.4375h-2zM211 96.75h3v5.4375h-3z"/>
<path fill="rgb(103,103,103)" d="M263 64.12h3v5.4375h-3zM263 69.56h3v5.4375h-3zM263 75h3v5.4375h-3zM278 80.44h1v5.4375h-1zM284 80.44h1v5.4375h-1zM192 102.2h5v5.4375h-5z"/>
<path fill="rgb(104,104,104)" d="M184 102.2h3v5.4375h-3z"/>
<path fill="rgb(105,105,105)" d="M279 80.44h1v5.4375h-1zM283 80.44h1v5.4375h-1zM192 134.8h5v5.4375h-5z"/>
<path fill="rgb(106,106,106)" d="M186 64.12h3v5.4375h-3zM276 64.12h1v5.4375h-1zM286 64.12h1v5.4375h-1zM293 64.12h1v5.4375h-1zM301 64.12h1v5.4375h-1zM186 69.56h3v5.4375h-3zM276 69.56h1v5.4375h-1zM286 69.56h1v5.4375h-1zM293 69.56h1v5.4375h-1zM301 69.56h1v5.4375h-1zM186 75h3v5.4375h-3zM276 75h1v5.4375h-1zM286 75h1v5.4375h-1zM293 75h1v5.4375h-1zM301 75h1v5.4375h-1z"/>
<path fill="rgb(107,107,107)" d="M183 80.44h3v5.4375h-3zM280 80.44h3v5.4375h-3z"/>
<path fill="rgb(109,109,109)" d="M182 64.12h1v5.4375h-1zM294 64.12h1v5.4375h-1zM300 64.12h1v5.4375h-1zM182 69.56h1v5.4375h-1zM294 69.56h1v5.4375h-1zM300 69.56h1v5.4375h-1zM182 75h1v5.4375h-1zM294 75h1v5.4375h-1zM300 75h1v5.4375h-1zM198 80.44h2v5.4375h-2zM182 118.5h2v5.4375h-2z"/>
<path fill="rgb(111,111,111)" d="M198 64.12h2v5.4375h-2zM277 64.12h1v5.4375h-1zM285 64.12h1v5.4375h-1zM198 69.56h2v5.4375h-2zM277 69.56h1v5.4375h-1zM285 69.56h1v5.4375h-1zM198 75h2v5.4375h-2zM277 75h1v5.4375h-1zM285 75h1v5.4375h-1zM189 80.44h3v5.4375h-3zM211 102.2h3v5.4375h-3z"/>
<path fill="rgb(112,112,112)" d="M295 64.12h1v5.4375h-1zM299 64.12h1v5.4375h-1zM295 69.56h1v5.4375h-1zM299 69.56h1v5.4375h-1zM295 75h1v5.4375h-1zM299 75h1v5.4375h-1zM214 85.88h5v5.4375h-5z"/>
<path fill="rgb(113,113,113)" d="M296 64.12h1v5.4375h-1zM298 64.12h1v5.4375h-1zM296 69.56h1v5.4375h-1zM298 69.56h1v5.4375h-1zM296 75h1v5.4375h-1zM298 75h1v5.4375h-1zM192 129.4h5v5.4375h-5z"/>
<path fill="rgb(114,114,114)" d="M278 64.12h1v5.4375h-1zM284 64.12h1v5.4375h-1zM297 64.12h1v5.4375h-1zM278 69.56h1v5.4375h-1zM284 69.56h1v5.4375h-1zM297 69.56h1v5.4375h-1zM278 75h1v5.4375h-1zM284 75h1v5.4375h-1zM297 75h1v5.4375h-1z"/>
<path fill="rgb(115,115,115)" d="M195 64.12h3v5.4375h-3zM195 69.56h3v5.4375h-3zM195 75h3v5.4375h-3z"/>
<path fill="rgb(116,116,116)" d="M192 91.31h5v5.4375h-5z"/>
<path fill="rgb(117,117,117)" d="M279 64.12h1v5.4375h-1zM283 64.12h1v5.4375h-1zM279 69.56h1v5.4375h-1zM283 69.56h1v5.4375h-1zM279 75h1v5.4375h-1zM283 75h1v5.4375h-1zM192 113.1h5v5.4375h-5z"/>
<path fill="rgb(118,118,118)" d="M280 64.12h1v5.4375h-1zM282 64.12h1v5.4375h-1zM280 69.56h1v5.4375h-1zM282 69.56h1v5.4375h-1zM280 75h1v5.4375h-1zM282 75h1v5.4375h-1z"/>
<path fill="rgb(119,119,119)" d="M281 64.12h1v5.4375h-1zM281 69.56h1v5.4375h-1zM281 75h1v5.4375h-1zM192 107.6h5v5.4375h-5z"/>
<path fill="rgb(120,120,120)" d="M211 91.31h3v5.4375h-3zM192 96.75h5v5.4375h-5z"/>
<path fill="rgb(124,124,124)" d="M182 102.2h2v5.4375h-2zM211 107.6h3v5.4375h-3z"/>
<path fill="rgb(128,128,128)" d="M211 113.1h3v5.4375h-3z"/>
<path fill="rgb(137,137,137)" d="M193 194.6h4v5.4375h-4z"/>
</g></g>
<g clip-path="url(#c3)"><g filter="url(#z3)"><rect x="292" y="62" width="66" height="456" fill="#000"/>
<path fill="rgb(9,9,9)" d="M327 85.88h1v5.4375h-1zM343 85.88h2v5.4375h-2z"/>
<path fill="rgb(14,14,14)" d="M328 85.88h1v5.4375h-1zM342 85.88h1v5.4375h-1zM345 85.88h1v5.4375h-1z"/>
<path fill="rgb(18,18,18)" d="M329 85.88h1v5.4375h-1zM341 85.88h1v5.4375h-1zM346 85.88h1v5.4375h-1zM311 308.8h5v5.4375h-5zM342 352.3h5v5.4375h-5zM342 482.8h5v5.4375h-5z"/>
<path fill="rgb(20,20,20)" d="M330 85.88h1v5.4375h-1zM340 85.88h1v5.4375h-1zM347 85.88h1v5.4375h-1zM357 85.88h1v5.4375h-1zM302 276.2h4v5.4375h-4zM302 493.7h4v5.4375h-4z"/>
<path fill="rgb(21,21,21)" d="M302 297.9h4v5.4375h-4z"/>
<path fill="rgb(22,22,22)" d="M331 85.88h1v5.4375h-1zM339 85.88h1v5.4375h-1zM348 85.88h1v5.4375h-1zM356 85.88h1v5.4375h-1zM321 401.2h5v5.4375h-5zM347 499.1h5v5.4375h-5z"/>
<path fill="rgb(23,23,23)" d="M342 102.2h5v5.4375h-5zM321 123.9h5v5.4375h-5zM342 162h5v5.4375h-5zM342 276.2h5v5.4375h-5zM321 308.8h5v5.4375h-5z"/>
<path fill="rgb(24,24,24)" d="M332 85.88h1v5.4375h-1zM338 85.88h1v5.4375h-1zM349 85.88h1v5.4375h-1zM355 85.88h1v5.4375h-1zM321 145.7h5v5.4375h-5zM336 238.1h6v5.4375h-6zM342 259.9h5v5.4375h-5zM302 395.8h4v5.4375h-4z"/>
<path fill="rgb(25,25,25)" d="M333 85.88h2v5.4375h-2zM336 85.88h2v5.4375h-2zM350 85.88h2v5.4375h-2zM353 85.88h2v5.4375h-2zM302 140.2h4v5.4375h-4zM302 162h4v5.4375h-4zM347 178.3h5v5.4375h-5zM347 336h5v5.4375h-5zM336 346.9h6v5.4375h-6zM316 352.3h5v5.4375h-5zM342 466.5h5v5.4375h-5z"/>
<path fill="rgb(26,26,26)" d="M335 85.88h1v5.4375h-1zM352 85.88h1v5.4375h-1zM316 140.2h5v5.4375h-5zM347 183.8h5v5.4375h-5zM352 216.4h6v5.4375h-6zM316 232.7h5v5.4375h-5zM326 270.8h5v5.4375h-5zM311 325.1h5v5.4375h-5zM302 341.4h4v5.4375h-4zM336 363.2h6v5.4375h-6zM326 401.2h5v5.4375h-5zM336 423h6v5.4375h-6zM336 455.6h6v5.4375h-6zM306 499.1h5v5.4375h-5z"/>
<path fill="rgb(27,27,27)" d="M326 91.31h5v5.4375h-5zM316 107.6h5v5.4375h-5zM352 183.8h6v5.4375h-6zM316 216.4h5v5.4375h-5zM326 238.1h5v5.4375h-5zM342 249h5v5.4375h-5zM342 297.9h5v5.4375h-5zM321 319.7h5v5.4375h-5zM336 352.3h6v5.4375h-6zM331 368.6h5v5.4375h-5zM352 384.9h6v5.4375h-6zM347 390.4h5v5.4375h-5zM302 450.2h4v5.4375h-4zM326 466.5h5v5.4375h-5zM336 466.5h6v5.4375h-6zM342 477.4h5v5.4375h-5z"/>
<path fill="rgb(28,28,28)" d="M302 96.75h4v5.4375h-4zM342 140.2h5v5.4375h-5zM311 167.4h5v5.4375h-5zM347 172.9h5v5.4375h-5zM306 254.4h5v5.4375h-5zM336 254.4h6v5.4375h-6zM326 292.5h5v5.4375h-5zM342 336h5v5.4375h-5zM326 346.9h5v5.4375h-5zM331 363.2h5v5.4375h-5zM326 379.5h5v5.4375h-5zM302 444.8h4v5.4375h-4zM316 482.8h5v5.4375h-5zM311 504.6h5v5.4375h-5zM311 510h5v5.4375h-5zM311 515.4h5v5.4375h-5z"/>
<path fill="rgb(29,29,29)" d="M306 145.7h5v5.4375h-5zM321 172.9h5v5.4375h-5zM331 200.1h5v5.4375h-5zM352 243.6h6v5.4375h-6zM306 249h5v5.4375h-5zM326 259.9h5v5.4375h-5zM347 308.8h5v5.4375h-5zM321 357.8h5v5.4375h-5zM306 384.9h5v5.4375h-5zM302 401.2h4v5.4375h-4zM326 412.1h5v5.4375h-5zM306 423h5v5.4375h-5zM326 444.8h5v5.4375h-5zM342 493.7h5v5.4375h-5z"/>
<path fill="rgb(30,30,30)" d="M342 123.9h5v5.4375h-5zM311 151.1h5v5.4375h-5zM316 189.2h5v5.4375h-5zM347 189.2h5v5.4375h-5zM316 205.5h5v5.4375h-5zM331 227.2h5v5.4375h-5zM336 265.3h6v5.4375h-6zM306 276.2h5v5.4375h-5zM321 336h5v5.4375h-5zM321 417.6h5v5.4375h-5zM321 423h5v5.4375h-5zM316 439.3h5v5.4375h-5zM352 455.6h6v5.4375h-6zM352 482.8h6v5.4375h-6zM316 504.6h5v5.4375h-5zM316 510h5v5.4375h-5zM316 515.4h5v5.4375h-5z"/>
<path fill="rgb(31,31,31)" d="M326 151.1h5v5.4375h-5zM326 156.6h5v5.4375h-5zM306 162h5v5.4375h-5zM326 178.3h5v5.4375h-5zM316 183.8h5v5.4375h-5zM331 194.6h5v5.4375h-5zM321 221.8h5v5.4375h-5zM347 232.7h5v5.4375h-5zM331 265.3h5v5.4375h-5zM321 297.9h5v5.4375h-5zM342 330.6h5v5.4375h-5zM321 368.6h5v5.4375h-5zM302 423h4v5.4375h-4zM347 450.2h5v5.4375h-5z"/>
<path fill="rgb(32,32,32)" d="M331 113.1h5v5.4375h-5zM316 123.9h5v5.4375h-5zM302 129.4h4v5.4375h-4zM352 129.4h6v5.4375h-6zM311 145.7h5v5.4375h-5zM321 156.6h5v5.4375h-5zM326 189.2h5v5.4375h-5zM306 216.4h10v5.4375h-10zM302 227.2h4v5.4375h-4zM342 270.8h5v5.4375h-5zM342 281.6h10v5.4375h-10zM316 319.7h5v5.4375h-5zM306 341.4h5v5.4375h-5zM311 379.5h5v5.4375h-5zM316 395.8h5v5.4375h-5zM306 417.6h5v5.4375h-5zM342 428.4h5v5.4375h-5zM326 433.9h5v5.4375h-5zM352 439.3h6v5.4375h-6zM311 444.8h5v5.4375h-5zM331 455.6h5v5.4375h-5zM326 499.1h5v5.4375h-5z"/>
<path fill="rgb(33,33,33)" d="M352 167.4h6v5.4375h-6zM321 216.4h5v5.4375h-5zM331 270.8h5v5.4375h-5zM321 325.1h5v5.4375h-5zM326 363.2h5v5.4375h-5zM342 363.2h5v5.4375h-5zM316 374.1h5v5.4375h-5zM331 374.1h5v5.4375h-5zM316 406.7h5v5.4375h-5zM326 406.7h10v5.4375h-10zM352 433.9h6v5.4375h-6z"/>
<path fill="rgb(34,34,34)" d="M352 107.6h6v5.4375h-6zM331 118.5h5v5.4375h-5zM331 134.8h5v5.4375h-5zM352 162h6v5.4375h-6zM302 210.9h4v5.4375h-4zM326 216.4h5v5.4375h-5zM342 232.7h5v5.4375h-5zM347 238.1h5v5.4375h-5zM316 281.6h5v5.4375h-5zM342 292.5h5v5.4375h-5zM347 341.4h5v5.4375h-5zM316 357.8h5v5.4375h-5zM302 363.2h4v5.4375h-4zM302 374.1h4v5.4375h-4zM347 374.1h5v5.4375h-5zM352 423h6v5.4375h-6zM336 428.4h6v5.4375h-6zM342 455.6h5v5.4375h-5zM347 461.1h5v5.4375h-5z"/>
<path fill="rgb(35,35,35)" d="M306 107.6h5v5.4375h-5zM311 123.9h5v5.4375h-5zM347 145.7h5v5.4375h-5zM342 151.1h5v5.4375h-5zM311 162h5v5.4375h-5zM311 172.9h5v5.4375h-5zM342 254.4h5v5.4375h-5zM316 303.4h5v5.4375h-5zM326 308.8h5v5.4375h-5zM321 330.6h5v5.4375h-5zM311 346.9h5v5.4375h-5zM311 374.1h5v5.4375h-5zM352 374.1h6v5.4375h-6zM316 384.9h5v5.4375h-5zM331 390.4h5v5.4375h-5zM347 433.9h5v5.4375h-5zM321 444.8h5v5.4375h-5zM352 466.5h6v5.4375h-6zM316 499.1h5v5.4375h-5zM352 499.1h6v5.4375h-6z"/>
<path fill="rgb(36,36,36)" d="M326 118.5h5v5.4375h-5zM302 123.9h4v5.4375h-4zM302 134.8h4v5.4375h-4zM306 156.6h5v5.4375h-5zM352 178.3h6v5.4375h-6zM347 249h11v5.4375h-11zM331 330.6h5v5.4375h-5zM331 357.8h5v5.4375h-5zM336 374.1h6v5.4375h-6zM302 379.5h4v5.4375h-4zM311 433.9h5v5.4375h-5zM316 455.6h5v5.4375h-5zM316 466.5h5v5.4375h-5zM321 482.8h5v5.4375h-5zM347 504.6h5v5.4375h-5zM347 510h5v5.4375h-5zM347 515.4h5v5.4375h-5z"/>
<path fill="rgb(37,37,37)" d="M321 113.1h5v5.4375h-5zM326 129.4h5v5.4375h-5zM336 129.4h6v5.4375h-6zM331 162h5v5.4375h-5zM352 221.8h6v5.4375h-6zM352 232.7h6v5.4375h-6zM321 254.4h5v5.4375h-5zM326 276.2h5v5.4375h-5zM352 276.2h6v5.4375h-6zM311 287.1h5v5.4375h-5zM331 336h5v5.4375h-5zM347 363.2h5v5.4375h-5zM342 379.5h5v5.4375h-5zM347 423h5v5.4375h-5zM302 428.4h4v5.4375h-4zM342 439.3h5v5.4375h-5z"/>
<path fill="rgb(38,38,38)" d="M342 134.8h5v5.4375h-5zM352 134.8h6v5.4375h-6zM331 156.6h5v5.4375h-5zM331 172.9h5v5.4375h-5zM306 178.3h5v5.4375h-5zM352 205.5h6v5.4375h-6zM336 221.8h11v5.4375h-11zM336 227.2h6v5.4375h-6zM311 243.6h5v5.4375h-5zM306 259.9h5v5.4375h-5zM352 265.3h6v5.4375h-6zM306 319.7h5v5.4375h-5zM316 346.9h5v5.4375h-5zM302 433.9h4v5.4375h-4zM316 450.2h5v5.4375h-5zM336 450.2h6v5.4375h-6zM321 504.6h5v5.4375h-5zM321 510h5v5.4375h-5zM321 515.4h5v5.4375h-5z"/>
<path fill="rgb(39,39,39)" d="M302 145.7h4v5.4375h-4zM306 227.2h10v5.4375h-10zM311 259.9h5v5.4375h-5zM352 287.1h6v5.4375h-6zM347 297.9h5v5.4375h-5zM336 308.8h6v5.4375h-6zM336 401.2h6v5.4375h-6zM316 428.4h5v5.4375h-5zM302 455.6h4v5.4375h-4zM347 493.7h5v5.4375h-5z"/>
<path fill="rgb(40,40,40)" d="M347 123.9h5v5.4375h-5zM321 151.1h5v5.4375h-5zM326 172.9h5v5.4375h-5zM347 210.9h5v5.4375h-5zM331 238.1h5v5.4375h-5zM316 270.8h5v5.4375h-5zM336 281.6h6v5.4375h-6zM302 287.1h4v5.4375h-4zM336 287.1h6v5.4375h-6zM347 292.5h5v5.4375h-5zM347 319.7h5v5.4375h-5zM311 352.3h5v5.4375h-5zM311 357.8h5v5.4375h-5zM336 390.4h6v5.4375h-6zM347 428.4h5v5.4375h-5zM352 488.2h6v5.4375h-6zM306 493.7h5v5.4375h-5zM311 499.1h5v5.4375h-5z"/>
<path fill="rgb(41,41,41)" d="M347 140.2h5v5.4375h-5zM347 162h5v5.4375h-5zM316 200.1h5v5.4375h-5zM302 232.7h4v5.4375h-4zM321 232.7h5v5.4375h-5zM336 243.6h6v5.4375h-6zM342 287.1h5v5.4375h-5zM331 297.9h5v5.4375h-5zM326 314.2h5v5.4375h-5zM347 314.2h5v5.4375h-5zM352 412.1h6v5.4375h-6zM342 417.6h5v5.4375h-5zM326 461.1h5v5.4375h-5zM331 488.2h5v5.4375h-5zM326 504.6h5v5.4375h-5zM336 504.6h6v5.4375h-6zM326 510h5v5.4375h-5zM336 510h6v5.4375h-6zM326 515.4h5v5.4375h-5zM336 515.4h6v5.4375h-6z"/>
<path fill="rgb(42,42,42)" d="M316 145.7h5v5.4375h-5zM321 178.3h5v5.4375h-5zM336 183.8h6v5.4375h-6zM311 270.8h5v5.4375h-5zM326 287.1h5v5.4375h-5zM342 303.4h5v5.4375h-5zM311 336h5v5.4375h-5zM326 352.3h5v5.4375h-5zM326 477.4h5v5.4375h-5z"/>
<path fill="rgb(43,43,43)" d="M306 129.4h5v5.4375h-5zM316 151.1h5v5.4375h-5zM316 156.6h5v5.4375h-5zM321 243.6h5v5.4375h-5zM336 259.9h6v5.4375h-6zM316 265.3h5v5.4375h-5zM302 270.8h4v5.4375h-4zM302 292.5h4v5.4375h-4zM347 325.1h5v5.4375h-5zM326 330.6h5v5.4375h-5zM306 336h5v5.4375h-5zM352 341.4h6v5.4375h-6zM352 346.9h6v5.4375h-6zM316 368.6h5v5.4375h-5zM306 390.4h5v5.4375h-5zM321 412.1h5v5.4375h-5zM336 461.1h6v5.4375h-6zM302 471.9h4v5.4375h-4z"/>
<path fill="rgb(44,44,44)" d="M352 113.1h6v5.4375h-6zM352 145.7h6v5.4375h-6zM326 162h5v5.4375h-5zM306 189.2h5v5.4375h-5zM321 189.2h5v5.4375h-5zM302 346.9h4v5.4375h-4zM316 423h5v5.4375h-5zM331 439.3h5v5.4375h-5zM306 504.6h5v5.4375h-5zM306 510h5v5.4375h-5zM306 515.4h5v5.4375h-5z"/>
<path fill="rgb(45,45,45)" d="M336 118.5h6v5.4375h-6zM316 129.4h5v5.4375h-5zM302 243.6h4v5.4375h-4zM352 259.9h6v5.4375h-6zM306 270.8h5v5.4375h-5zM326 297.9h5v5.4375h-5zM331 303.4h5v5.4375h-5zM326 395.8h10v5.4375h-10zM352 395.8h6v5.4375h-6zM347 471.9h5v5.4375h-5zM347 482.8h5v5.4375h-5z"/>
<path fill="rgb(46,46,46)" d="M302 216.4h4v5.4375h-4zM321 341.4h5v5.4375h-5zM336 395.8h6v5.4375h-6zM306 401.2h5v5.4375h-5zM316 412.1h5v5.4375h-5z"/>
<path fill="rgb(47,47,47)" d="M316 167.4h5v5.4375h-5zM316 254.4h5v5.4375h-5zM342 265.3h5v5.4375h-5zM331 287.1h5v5.4375h-5zM352 406.7h6v5.4375h-6zM302 412.1h4v5.4375h-4zM311 423h5v5.4375h-5zM326 493.7h5v5.4375h-5z"/>
<path fill="rgb(48,48,48)" d="M321 183.8h5v5.4375h-5zM316 194.6h5v5.4375h-5zM352 194.6h6v5.4375h-6zM331 210.9h5v5.4375h-5zM347 227.2h5v5.4375h-5zM306 379.5h5v5.4375h-5zM316 493.7h5v5.4375h-5z"/>
<path fill="rgb(49,49,49)" d="M326 183.8h5v5.4375h-5zM331 232.7h5v5.4375h-5zM306 265.3h5v5.4375h-5zM352 330.6h6v5.4375h-6zM342 341.4h5v5.4375h-5zM342 450.2h5v5.4375h-5zM347 455.6h5v5.4375h-5zM311 461.1h5v5.4375h-5zM352 477.4h6v5.4375h-6zM336 493.7h6v5.4375h-6z"/>
<path fill="rgb(50,50,50)" d="M306 80.44h1v5.4375h-1zM324 80.44h3v5.4375h-3zM336 113.1h6v5.4375h-6zM342 205.5h5v5.4375h-5zM316 292.5h5v5.4375h-5zM342 423h5v5.4375h-5zM336 444.8h6v5.4375h-6zM302 477.4h4v5.4375h-4zM321 477.4h5v5.4375h-5zM352 493.7h6v5.4375h-6z"/>
<path fill="rgb(51,51,51)" d="M321 162h5v5.4375h-5zM316 172.9h5v5.4375h-5zM336 172.9h6v5.4375h-6zM302 205.5h4v5.4375h-4zM347 205.5h5v5.4375h-5zM336 210.9h6v5.4375h-6zM321 352.3h5v5.4375h-5zM342 390.4h5v5.4375h-5zM311 417.6h5v5.4375h-5zM347 444.8h5v5.4375h-5zM326 455.6h5v5.4375h-5zM306 466.5h5v5.4375h-5z"/>
<path fill="rgb(52,52,52)" d="M326 123.9h5v5.4375h-5zM302 189.2h4v5.4375h-4zM347 194.6h5v5.4375h-5zM326 221.8h5v5.4375h-5zM302 259.9h4v5.4375h-4zM336 314.2h6v5.4375h-6zM326 341.4h5v5.4375h-5zM321 406.7h5v5.4375h-5zM316 477.4h5v5.4375h-5zM326 482.8h5v5.4375h-5z"/>
<path fill="rgb(53,53,53)" d="M316 113.1h5v5.4375h-5zM321 140.2h5v5.4375h-5zM336 189.2h6v5.4375h-6zM316 227.2h5v5.4375h-5zM311 265.3h5v5.4375h-5zM347 276.2h5v5.4375h-5zM342 314.2h5v5.4375h-5zM336 330.6h6v5.4375h-6zM342 346.9h5v5.4375h-5zM342 368.6h5v5.4375h-5zM331 379.5h11v5.4375h-11zM311 395.8h5v5.4375h-5zM316 401.2h5v5.4375h-5zM306 444.8h5v5.4375h-5z"/>
<path fill="rgb(54,54,54)" d="M342 210.9h5v5.4375h-5zM302 238.1h4v5.4375h-4zM347 254.4h5v5.4375h-5zM302 303.4h4v5.4375h-4zM302 336h4v5.4375h-4zM326 384.9h5v5.4375h-5zM342 384.9h5v5.4375h-5zM342 406.7h5v5.4375h-5zM316 461.1h5v5.4375h-5z"/>
<path fill="rgb(55,55,55)" d="M347 134.8h5v5.4375h-5zM321 287.1h5v5.4375h-5zM302 314.2h4v5.4375h-4zM321 384.9h5v5.4375h-5zM321 461.1h5v5.4375h-5zM316 471.9h5v5.4375h-5z"/>
<path fill="rgb(56,56,56)" d="M306 64.12h1v5.4375h-1zM324 64.12h3v5.4375h-3zM306 69.56h1v5.4375h-1zM324 69.56h3v5.4375h-3zM306 75h1v5.4375h-1zM324 75h3v5.4375h-3zM306 123.9h5v5.4375h-5zM342 172.9h5v5.4375h-5zM311 183.8h5v5.4375h-5zM331 189.2h5v5.4375h-5zM326 249h5v5.4375h-5zM326 319.7h5v5.4375h-5zM347 346.9h5v5.4375h-5zM326 374.1h5v5.4375h-5zM321 450.2h5v5.4375h-5zM302 488.2h4v5.4375h-4zM352 504.6h6v5.4375h-6zM352 510h6v5.4375h-6zM352 515.4h6v5.4375h-6z"/>
<path fill="rgb(57,57,57)" d="M302 254.4h4v5.4375h-4zM311 254.4h5v5.4375h-5zM316 363.2h5v5.4375h-5zM306 412.1h5v5.4375h-5zM326 428.4h5v5.4375h-5zM321 433.9h5v5.4375h-5z"/>
<path fill="rgb(58,58,58)" d="M336 178.3h6v5.4375h-6zM331 384.9h5v5.4375h-5zM302 390.4h4v5.4375h-4zM336 471.9h6v5.4375h-6z"/>
<path fill="rgb(59,59,59)" d="M352 172.9h6v5.4375h-6zM342 227.2h5v5.4375h-5zM352 270.8h6v5.4375h-6zM342 395.8h5v5.4375h-5z"/>
<path fill="rgb(60,60,60)" d="M326 194.6h5v5.4375h-5zM326 200.1h5v5.4375h-5zM306 488.2h5v5.4375h-5z"/>
<path fill="rgb(61,61,61)" d="M347 259.9h5v5.4375h-5z"/>
<path fill="rgb(62,62,62)" d="M344 80.44h1v5.4375h-1z"/>
<path fill="rgb(64,64,64)" d="M352 303.4h6v5.4375h-6z"/>
<path fill="rgb(65,65,65)" d="M327 80.44h1v5.4375h-1zM343 80.44h1v5.4375h-1z"/>
<path fill="rgb(66,66,66)" d="M307 80.44h1v5.4375h-1zM323 80.44h1v5.4375h-1z"/>
<path fill="rgb(68,68,68)" d="M305 80.44h1v5.4375h-1z"/>
<path fill="rgb(69,69,69)" d="M344 64.12h1v5.4375h-1zM344 69.56h1v5.4375h-1zM344 75h1v5.4375h-1zM345 80.44h1v5.4375h-1z"/>
<path fill="rgb(73,73,73)" d="M307 64.12h1v5.4375h-1zM323 64.12h1v5.4375h-1zM327 64.12h1v5.4375h-1zM343 64.12h1v5.4375h-1zM307 69.56h1v5.4375h-1zM323 69.56h1v5.4375h-1zM327 69.56h1v5.4375h-1zM343 69.56h1v5.4375h-1zM307 75h1v5.4375h-1zM323 75h1v5.4375h-1zM327 75h1v5.4375h-1zM343 75h1v5.4375h-1zM346 80.44h1v5.4375h-1z"/>
<path fill="rgb(75,75,75)" d="M328 80.44h1v5.4375h-1zM342 80.44h1v5.4375h-1z"/>
<path fill="rgb(76,76,76)" d="M305 64.12h1v5.4375h-1zM305 69.56h1v5.4375h-1zM305 75h1v5.4375h-1zM308 80.44h1v5.4375h-1zM322 80.44h1v5.4375h-1z"/>
<path fill="rgb(77,77,77)" d="M345 64.12h1v5.4375h-1zM345 69.56h1v5.4375h-1zM345 75h1v5.4375h-1zM347 80.44h1v5.4375h-1zM357 80.44h1v5.4375h-1z"/>
<path fill="rgb(79,79,79)" d="M304 80.44h1v5.4375h-1zM348 80.44h1v5.4375h-1zM356 80.44h1v5.4375h-1z"/>
<path fill="rgb(81,81,81)" d="M329 80.44h1v5.4375h-1zM341 80.44h1v5.4375h-1zM349 80.44h1v5.4375h-1zM355 80.44h1v5.4375h-1z"/>
<path fill="rgb(82,82,82)" d="M346 64.12h1v5.4375h-1zM346 69.56h1v5.4375h-1zM346 75h1v5.4375h-1zM309 80.44h1v5.4375h-1zM321 80.44h1v5.4375h-1zM350 80.44h1v5.4375h-1zM354 80.44h1v5.4375h-1z"/>
<path fill="rgb(83,83,83)" d="M328 64.12h1v5.4375h-1zM342 64.12h1v5.4375h-1zM328 69.56h1v5.4375h-1zM342 69.56h1v5.4375h-1zM328 75h1v5.4375h-1zM342 75h1v5.4375h-1zM351 80.44h3v5.4375h-3z"/>
<path fill="rgb(84,84,84)" d="M308 64.12h1v5.4375h-1zM322 64.12h1v5.4375h-1zM308 69.56h1v5.4375h-1zM322 69.56h1v5.4375h-1zM308 75h1v5.4375h-1zM322 75h1v5.4375h-1z"/>
<path fill="rgb(85,85,85)" d="M347 64.12h1v5.4375h-1zM357 64.12h1v5.4375h-1zM347 69.56h1v5.4375h-1zM357 69.56h1v5.4375h-1zM347 75h1v5.4375h-1zM357 75h1v5.4375h-1zM330 80.44h1v5.4375h-1zM340 80.44h1v5.4375h-1z"/>
<path fill="rgb(86,86,86)" d="M303 80.44h1v5.4375h-1z"/>
<path fill="rgb(87,87,87)" d="M310 80.44h1v5.4375h-1zM320 80.44h1v5.4375h-1z"/>
<path fill="rgb(88,88,88)" d="M304 64.12h1v5.4375h-1zM348 64.12h1v5.4375h-1zM356 64.12h1v5.4375h-1zM304 69.56h1v5.4375h-1zM348 69.56h1v5.4375h-1zM356 69.56h1v5.4375h-1zM304 75h1v5.4375h-1zM348 75h1v5.4375h-1zM356 75h1v5.4375h-1zM331 80.44h1v5.4375h-1zM339 80.44h1v5.4375h-1z"/>
<path fill="rgb(90,90,90)" d="M329 64.12h1v5.4375h-1zM341 64.12h1v5.4375h-1zM349 64.12h1v5.4375h-1zM355 64.12h1v5.4375h-1zM329 69.56h1v5.4375h-1zM341 69.56h1v5.4375h-1zM349 69.56h1v5.4375h-1zM355 69.56h1v5.4375h-1zM329 75h1v5.4375h-1zM341 75h1v5.4375h-1zM349 75h1v5.4375h-1zM355 75h1v5.4375h-1zM311 80.44h1v5.4375h-1zM319 80.44h1v5.4375h-1z"/>
<path fill="rgb(91,91,91)" d="M309 64.12h1v5.4375h-1zM321 64.12h1v5.4375h-1zM309 69.56h1v5.4375h-1zM321 69.56h1v5.4375h-1zM309 75h1v5.4375h-1zM321 75h1v5.4375h-1zM332 80.44h1v5.4375h-1zM338 80.44h1v5.4375h-1z"/>
<path fill="rgb(92,92,92)" d="M350 64.12h2v5.4375h-2zM353 64.12h2v5.4375h-2zM350 69.56h2v5.4375h-2zM353 69.56h2v5.4375h-2zM350 75h2v5.4375h-2zM353 75h2v5.4375h-2zM292 80.44h1v5.4375h-1zM302 80.44h1v5.4375h-1zM333 80.44h1v5.4375h-1zM337 80.44h1v5.4375h-1z"/>
<path fill="rgb(93,93,93)" d="M352 64.12h1v5.4375h-1zM352 69.56h1v5.4375h-1zM352 75h1v5.4375h-1zM312 80.44h1v5.4375h-1zM318 80.44h1v5.4375h-1zM334 80.44h1v5.4375h-1zM336 80.44h1v5.4375h-1z"/>
<path fill="rgb(94,94,94)" d="M330 64.12h1v5.4375h-1zM340 64.12h1v5.4375h-1zM330 69.56h1v5.4375h-1zM340 69.56h1v5.4375h-1zM330 75h1v5.4375h-1zM340 75h1v5.4375h-1zM313 80.44h1v5.4375h-1zM317 80.44h1v5.4375h-1zM335 80.44h1v5.4375h-1z"/>
<path fill="rgb(95,95,95)" d="M314 80.44h1v5.4375h-1zM316 80.44h1v5.4375h-1z"/>
<path fill="rgb(96,96,96)" d="M303 64.12h1v5.4375h-1zM310 64.12h1v5.4375h-1zM320 64.12h1v5.4375h-1zM303 69.56h1v5.4375h-1zM310 69.56h1v5.4375h-1zM320 69.56h1v5.4375h-1zM303 75h1v5.4375h-1zM310 75h1v5.4375h-1zM320 75h1v5.4375h-1zM293 80.44h1v5.4375h-1zM301 80.44h1v5.4375h-1zM315 80.44h1v5.4375h-1z"/>
<path fill="rgb(98,98,98)" d="M331 64.12h1v5.4375h-1zM339 64.12h1v5.4375h-1zM331 69.56h1v5.4375h-1zM339 69.56h1v5.4375h-1zM331 75h1v5.4375h-1zM339 75h1v5.4375h-1z"/>
<path fill="rgb(99,99,99)" d="M294 80.44h1v5.4375h-1zM300 80.44h1v5.4375h-1z"/>
<path fill="rgb(100,100,100)" d="M311 64.12h1v5.4375h-1zM319 64.12h1v5.4375h-1zM311 69.56h1v5.4375h-1zM319 69.56h1v5.4375h-1zM311 75h1v5.4375h-1zM319 75h1v5.4375h-1z"/>
<path fill="rgb(101,101,101)" d="M332 64.12h1v5.4375h-1zM338 64.12h1v5.4375h-1zM332 69.56h1v5.4375h-1zM338 69.56h1v5.4375h-1zM332 75h1v5.4375h-1zM338 75h1v5.4375h-1zM295 80.44h1v5.4375h-1zM299 80.44h1v5.4375h-1z"/>
<path fill="rgb(102,102,102)" d="M292 64.12h1v5.4375h-1zM302 64.12h1v5.4375h-1zM292 69.56h1v5.4375h-1zM302 69.56h1v5.4375h-1zM292 75h1v5.4375h-1zM302 75h1v5.4375h-1zM296 80.44h3v5.4375h-3z"/>
<path fill="rgb(103,103,103)" d="M312 64.12h1v5.4375h-1zM318 64.12h1v5.4375h-1zM333 64.12h1v5.4375h-1zM337 64.12h1v5.4375h-1zM312 69.56h1v5.4375h-1zM318 69.56h1v5.4375h-1zM333 69.56h1v5.4375h-1zM337 69.56h1v5.4375h-1zM312 75h1v5.4375h-1zM318 75h1v5.4375h-1zM333 75h1v5.4375h-1zM337 75h1v5.4375h-1z"/>
<path fill="rgb(104,104,104)" d="M334 64.12h3v5.4375h-3zM334 69.56h3v5.4375h-3zM334 75h3v5.4375h-3z"/>
<path fill="rgb(105,105,105)" d="M313 64.12h1v5.4375h-1zM317 64.12h1v5.4375h-1zM313 69.56h1v5.4375h-1zM317 69.56h1v5.4375h-1zM313 75h1v5.4375h-1zM317 75h1v5.4375h-1z"/>
<path fill="rgb(106,106,106)" d="M293 64.12h1v5.4375h-1zM301 64.12h1v5.4375h-1zM314 64.12h3v5.4375h-3zM293 69.56h1v5.4375h-1zM301 69.56h1v5.4375h-1zM314 69.56h3v5.4375h-3zM293 75h1v5.4375h-1zM301 75h1v5.4375h-1zM314 75h3v5.4375h-3z"/>
<path fill="rgb(109,109,109)" d="M294 64.12h1v5.4375h-1zM300 64.12h1v5.4375h-1zM294 69.56h1v5.4375h-1zM300 69.56h1v5.4375h-1zM294 75h1v5.4375h-1zM300 75h1v5.4375h-1z"/>
<path fill="rgb(112,112,112)" d="M295 64.12h1v5.4375h-1zM299 64.12h1v5.4375h-1zM295 69.56h1v5.4375h-1zM299 69.56h1v5.4375h-1zM295 75h1v5.4375h-1zM299 75h1v5.4375h-1z"/>
<path fill="rgb(113,113,113)" d="M296 64.12h1v5.4375h-1zM298 64.12h1v5.4375h-1zM296 69.56h1v5.4375h-1zM298 69.56h1v5.4375h-1zM296 75h1v5.4375h-1zM298 75h1v5.4375h-1z"/>
<path fill="rgb(114,114,114)" d="M297 64.12h1v5.4375h-1zM297 69.56h1v5.4375h-1zM297 75h1v5.4375h-1z"/>
</g></g>
<g clip-path="url(#c4)"><g filter="url(#z4)"><rect x="342" y="62" width="66" height="456" fill="#000"/>
<path fill="rgb(9,9,9)" d="M343 85.88h2v5.4375h-2zM360 85.88h1v5.4375h-1zM362 85.88h1v5.4375h-1zM378 85.88h1v5.4375h-1zM394 85.88h1v5.4375h-1zM398 85.88h1v5.4375h-1z"/>
<path fill="rgb(14,14,14)" d="M342 85.88h1v5.4375h-1zM345 85.88h1v5.4375h-1zM359 85.88h1v5.4375h-1zM363 85.88h1v5.4375h-1zM377 85.88h1v5.4375h-1zM379 85.88h1v5.4375h-1zM393 85.88h1v5.4375h-1zM399 85.88h1v5.4375h-1z"/>
<path fill="rgb(18,18,18)" d="M346 85.88h1v5.4375h-1zM358 85.88h1v5.4375h-1zM364 85.88h1v5.4375h-1zM376 85.88h1v5.4375h-1zM380 85.88h1v5.4375h-1zM392 85.88h1v5.4375h-1zM400 85.88h1v5.4375h-1zM392 113.1h6v5.4375h-6zM374 183.8h6v5.4375h-6zM342 352.3h5v5.4375h-5zM342 482.8h5v5.4375h-5z"/>
<path fill="rgb(19,19,19)" d="M363 499.1h6v5.4375h-6z"/>
<path fill="rgb(20,20,20)" d="M347 85.88h1v5.4375h-1zM357 85.88h1v5.4375h-1zM365 85.88h1v5.4375h-1zM375 85.88h1v5.4375h-1zM381 85.88h1v5.4375h-1zM391 85.88h1v5.4375h-1zM401 85.88h1v5.4375h-1zM363 156.6h6v5.4375h-6zM404 287.1h4v5.4375h-4zM392 471.9h6v5.4375h-6z"/>
<path fill="rgb(21,21,21)" d="M363 167.4h6v5.4375h-6zM392 178.3h6v5.4375h-6zM404 352.3h4v5.4375h-4zM398 368.6h6v5.4375h-6z"/>
<path fill="rgb(22,22,22)" d="M348 85.88h1v5.4375h-1zM356 85.88h1v5.4375h-1zM366 85.88h1v5.4375h-1zM374 85.88h1v5.4375h-1zM382 85.88h1v5.4375h-1zM390 85.88h1v5.4375h-1zM402 85.88h1v5.4375h-1zM392 140.2h6v5.4375h-6zM386 249h6v5.4375h-6zM358 297.9h5v5.4375h-5zM386 401.2h6v5.4375h-6zM386 412.1h6v5.4375h-6zM347 499.1h5v5.4375h-5z"/>
<path fill="rgb(23,23,23)" d="M342 102.2h5v5.4375h-5zM369 123.9h5v5.4375h-5zM342 162h5v5.4375h-5zM404 167.4h4v5.4375h-4zM342 276.2h5v5.4375h-5zM398 287.1h6v5.4375h-6zM398 374.1h6v5.4375h-6zM380 466.5h6v5.4375h-6z"/>
<path fill="rgb(24,24,24)" d="M349 85.88h1v5.4375h-1zM355 85.88h1v5.4375h-1zM367 85.88h1v5.4375h-1zM373 85.88h1v5.4375h-1zM383 85.88h1v5.4375h-1zM389 85.88h1v5.4375h-1zM403 85.88h1v5.4375h-1zM392 162h6v5.4375h-6zM342 259.9h5v5.4375h-5zM404 314.2h4v5.4375h-4zM392 341.4h6v5.4375h-6zM358 368.6h5v5.4375h-5zM363 428.4h6v5.4375h-6zM380 433.9h6v5.4375h-6z"/>
<path fill="rgb(25,25,25)" d="M350 85.88h2v5.4375h-2zM353 85.88h2v5.4375h-2zM368 85.88h2v5.4375h-2zM371 85.88h2v5.4375h-2zM384 85.88h2v5.4375h-2zM387 85.88h2v5.4375h-2zM404 85.88h2v5.4375h-2zM407 85.88h1v5.4375h-1zM404 113.1h4v5.4375h-4zM347 178.3h5v5.4375h-5zM404 183.8h4v5.4375h-4zM404 232.7h4v5.4375h-4zM358 238.1h5v5.4375h-5zM398 265.3h6v5.4375h-6zM347 336h5v5.4375h-5zM398 395.8h6v5.4375h-6zM358 412.1h5v5.4375h-5zM404 439.3h4v5.4375h-4zM342 466.5h5v5.4375h-5zM358 504.6h5v5.4375h-5zM358 510h5v5.4375h-5zM358 515.4h5v5.4375h-5z"/>
<path fill="rgb(26,26,26)" d="M352 85.88h1v5.4375h-1zM370 85.88h1v5.4375h-1zM386 85.88h1v5.4375h-1zM406 85.88h1v5.4375h-1zM392 107.6h6v5.4375h-6zM347 183.8h5v5.4375h-5zM392 205.5h6v5.4375h-6zM352 216.4h6v5.4375h-6zM363 259.9h6v5.4375h-6zM369 265.3h5v5.4375h-5zM363 287.1h6v5.4375h-6zM386 297.9h6v5.4375h-6zM358 357.8h5v5.4375h-5zM374 379.5h6v5.4375h-6zM374 406.7h6v5.4375h-6z"/>
<path fill="rgb(27,27,27)" d="M398 107.6h6v5.4375h-6zM392 129.4h6v5.4375h-6zM352 183.8h6v5.4375h-6zM380 243.6h6v5.4375h-6zM342 249h5v5.4375h-5zM358 276.2h5v5.4375h-5zM342 297.9h5v5.4375h-5zM352 384.9h6v5.4375h-6zM380 384.9h6v5.4375h-6zM347 390.4h5v5.4375h-5zM363 444.8h6v5.4375h-6zM374 444.8h12v5.4375h-12zM342 477.4h5v5.4375h-5z"/>
<path fill="rgb(28,28,28)" d="M358 123.9h5v5.4375h-5zM342 140.2h5v5.4375h-5zM347 172.9h5v5.4375h-5zM369 205.5h5v5.4375h-5zM380 216.4h6v5.4375h-6zM404 221.8h4v5.4375h-4zM404 227.2h4v5.4375h-4zM398 232.7h6v5.4375h-6zM398 243.6h6v5.4375h-6zM404 270.8h4v5.4375h-4zM404 276.2h4v5.4375h-4zM369 297.9h5v5.4375h-5zM342 336h5v5.4375h-5zM392 374.1h6v5.4375h-6zM374 384.9h6v5.4375h-6zM398 406.7h6v5.4375h-6zM398 444.8h6v5.4375h-6zM404 450.2h4v5.4375h-4zM404 461.1h4v5.4375h-4zM358 482.8h41v5.4375h-41z"/>
<path fill="rgb(29,29,29)" d="M358 113.1h5v5.4375h-5zM392 123.9h6v5.4375h-6zM404 140.2h4v5.4375h-4zM358 172.9h5v5.4375h-5zM358 183.8h5v5.4375h-5zM392 194.6h6v5.4375h-6zM398 205.5h6v5.4375h-6zM352 243.6h6v5.4375h-6zM369 259.9h5v5.4375h-5zM347 308.8h5v5.4375h-5zM380 319.7h6v5.4375h-6zM404 357.8h4v5.4375h-4zM398 379.5h6v5.4375h-6zM363 395.8h6v5.4375h-6zM358 406.7h5v5.4375h-5zM363 423h6v5.4375h-6zM404 433.9h4v5.4375h-4zM386 450.2h6v5.4375h-6zM404 455.6h4v5.4375h-4zM342 493.7h5v5.4375h-5z"/>
<path fill="rgb(30,30,30)" d="M386 113.1h6v5.4375h-6zM342 123.9h5v5.4375h-5zM404 129.4h4v5.4375h-4zM392 145.7h6v5.4375h-6zM398 172.9h6v5.4375h-6zM404 178.3h4v5.4375h-4zM369 183.8h5v5.4375h-5zM347 189.2h5v5.4375h-5zM392 200.1h6v5.4375h-6zM398 210.9h6v5.4375h-6zM392 227.2h6v5.4375h-6zM380 254.4h6v5.4375h-6zM398 270.8h6v5.4375h-6zM398 276.2h6v5.4375h-6zM374 292.5h6v5.4375h-6zM374 308.8h6v5.4375h-6zM374 352.3h6v5.4375h-6zM369 368.6h5v5.4375h-5zM369 412.1h5v5.4375h-5zM386 428.4h6v5.4375h-6zM386 439.3h6v5.4375h-6zM380 450.2h6v5.4375h-6zM352 455.6h6v5.4375h-6zM374 461.1h6v5.4375h-6zM398 461.1h6v5.4375h-6zM398 466.5h6v5.4375h-6zM352 482.8h6v5.4375h-6zM386 504.6h12v5.4375h-12zM386 510h12v5.4375h-12zM386 515.4h12v5.4375h-12z"/>
<path fill="rgb(31,31,31)" d="M380 129.4h6v5.4375h-6zM398 140.2h6v5.4375h-6zM386 145.7h6v5.4375h-6zM392 151.1h6v5.4375h-6zM380 167.4h6v5.4375h-6zM347 232.7h5v5.4375h-5zM363 276.2h11v5.4375h-11zM358 308.8h5v5.4375h-5zM398 319.7h6v5.4375h-6zM342 330.6h5v5.4375h-5zM380 330.6h6v5.4375h-6zM398 363.2h6v5.4375h-6zM369 390.4h5v5.4375h-5zM404 395.8h4v5.4375h-4zM404 401.2h4v5.4375h-4zM380 406.7h6v5.4375h-6zM363 412.1h6v5.4375h-6zM392 428.4h6v5.4375h-6zM363 433.9h6v5.4375h-6zM363 439.3h6v5.4375h-6zM347 450.2h5v5.4375h-5zM358 450.2h5v5.4375h-5zM374 499.1h6v5.4375h-6z"/>
<path fill="rgb(32,32,32)" d="M352 129.4h6v5.4375h-6zM380 156.6h6v5.4375h-6zM386 162h6v5.4375h-6zM392 167.4h6v5.4375h-6zM363 172.9h6v5.4375h-6zM358 216.4h5v5.4375h-5zM342 270.8h5v5.4375h-5zM342 281.6h10v5.4375h-10zM404 281.6h4v5.4375h-4zM374 314.2h6v5.4375h-6zM404 325.1h4v5.4375h-4zM404 330.6h4v5.4375h-4zM369 341.4h5v5.4375h-5zM358 346.9h5v5.4375h-5zM404 390.4h4v5.4375h-4zM342 428.4h5v5.4375h-5zM352 439.3h6v5.4375h-6zM374 466.5h6v5.4375h-6zM386 477.4h12v5.4375h-12z"/>
<path fill="rgb(33,33,33)" d="M358 107.6h5v5.4375h-5zM374 140.2h6v5.4375h-6zM352 167.4h6v5.4375h-6zM358 189.2h5v5.4375h-5zM374 189.2h6v5.4375h-6zM374 205.5h6v5.4375h-6zM404 210.9h4v5.4375h-4zM386 221.8h6v5.4375h-6zM398 341.4h6v5.4375h-6zM342 363.2h5v5.4375h-5zM363 374.1h6v5.4375h-6zM392 379.5h6v5.4375h-6zM369 423h11v5.4375h-11zM352 433.9h6v5.4375h-6z"/>
<path fill="rgb(34,34,34)" d="M352 107.6h6v5.4375h-6zM386 118.5h6v5.4375h-6zM386 151.1h6v5.4375h-6zM404 156.6h4v5.4375h-4zM352 162h6v5.4375h-6zM404 172.9h4v5.4375h-4zM392 189.2h6v5.4375h-6zM404 200.1h4v5.4375h-4zM342 232.7h5v5.4375h-5zM347 238.1h5v5.4375h-5zM404 259.9h4v5.4375h-4zM369 270.8h5v5.4375h-5zM342 292.5h5v5.4375h-5zM380 303.4h6v5.4375h-6zM392 330.6h6v5.4375h-6zM347 341.4h5v5.4375h-5zM404 363.2h4v5.4375h-4zM347 374.1h5v5.4375h-5zM352 423h6v5.4375h-6zM398 423h6v5.4375h-6zM358 439.3h5v5.4375h-5zM342 455.6h5v5.4375h-5zM347 461.1h5v5.4375h-5zM363 477.4h6v5.4375h-6zM380 504.6h6v5.4375h-6zM380 510h6v5.4375h-6zM380 515.4h6v5.4375h-6z"/>
<path fill="rgb(35,35,35)" d="M369 118.5h5v5.4375h-5zM347 145.7h5v5.4375h-5zM342 151.1h5v5.4375h-5zM363 189.2h6v5.4375h-6zM363 200.1h6v5.4375h-6zM386 210.9h12v5.4375h-12zM392 216.4h6v5.4375h-6zM342 254.4h5v5.4375h-5zM380 308.8h6v5.4375h-6zM386 314.2h6v5.4375h-6zM358 325.1h5v5.4375h-5zM369 325.1h5v5.4375h-5zM404 341.4h4v5.4375h-4zM352 374.1h6v5.4375h-6zM369 379.5h5v5.4375h-5zM398 384.9h6v5.4375h-6zM392 417.6h6v5.4375h-6zM347 433.9h5v5.4375h-5zM398 450.2h6v5.4375h-6zM352 466.5h6v5.4375h-6zM398 477.4h6v5.4375h-6zM352 499.1h6v5.4375h-6z"/>
<path fill="rgb(36,36,36)" d="M363 113.1h6v5.4375h-6zM374 156.6h6v5.4375h-6zM352 178.3h6v5.4375h-6zM380 227.2h6v5.4375h-6zM347 249h11v5.4375h-11zM398 259.9h6v5.4375h-6zM363 281.6h6v5.4375h-6zM358 319.7h5v5.4375h-5zM404 336h4v5.4375h-4zM386 406.7h6v5.4375h-6zM404 417.6h4v5.4375h-4zM392 450.2h6v5.4375h-6zM347 504.6h5v5.4375h-5zM347 510h5v5.4375h-5zM347 515.4h5v5.4375h-5z"/>
<path fill="rgb(37,37,37)" d="M404 107.6h4v5.4375h-4zM398 129.4h6v5.4375h-6zM352 221.8h6v5.4375h-6zM374 221.8h6v5.4375h-6zM352 232.7h6v5.4375h-6zM398 254.4h6v5.4375h-6zM358 259.9h5v5.4375h-5zM352 276.2h6v5.4375h-6zM374 297.9h6v5.4375h-6zM398 303.4h6v5.4375h-6zM392 319.7h6v5.4375h-6zM392 336h6v5.4375h-6zM347 363.2h5v5.4375h-5zM392 363.2h6v5.4375h-6zM342 379.5h5v5.4375h-5zM369 395.8h5v5.4375h-5zM347 423h5v5.4375h-5zM369 433.9h11v5.4375h-11zM386 433.9h6v5.4375h-6zM342 439.3h5v5.4375h-5zM369 471.9h5v5.4375h-5zM398 471.9h10v5.4375h-10z"/>
<path fill="rgb(38,38,38)" d="M342 134.8h5v5.4375h-5zM352 134.8h6v5.4375h-6zM352 205.5h6v5.4375h-6zM404 216.4h4v5.4375h-4zM342 221.8h5v5.4375h-5zM358 227.2h5v5.4375h-5zM404 249h4v5.4375h-4zM369 254.4h5v5.4375h-5zM352 265.3h6v5.4375h-6zM404 292.5h4v5.4375h-4zM398 308.8h6v5.4375h-6zM398 325.1h6v5.4375h-6zM363 336h6v5.4375h-6zM358 341.4h5v5.4375h-5zM386 346.9h6v5.4375h-6zM398 346.9h6v5.4375h-6zM392 352.3h6v5.4375h-6zM404 379.5h4v5.4375h-4zM386 390.4h6v5.4375h-6zM363 461.1h6v5.4375h-6zM358 488.2h15v5.4375h-15zM358 493.7h15v5.4375h-15zM404 504.6h4v5.4375h-4zM404 510h4v5.4375h-4zM404 515.4h4v5.4375h-4z"/>
<path fill="rgb(39,39,39)" d="M398 134.8h6v5.4375h-6zM404 145.7h4v5.4375h-4zM363 162h6v5.4375h-6zM369 167.4h5v5.4375h-5zM392 172.9h6v5.4375h-6zM386 183.8h6v5.4375h-6zM398 221.8h6v5.4375h-6zM369 243.6h5v5.4375h-5zM392 249h12v5.4375h-12zM392 259.9h6v5.4375h-6zM398 281.6h6v5.4375h-6zM352 287.1h6v5.4375h-6zM386 287.1h6v5.4375h-6zM347 297.9h5v5.4375h-5zM404 297.9h4v5.4375h-4zM386 330.6h6v5.4375h-6zM369 352.3h5v5.4375h-5zM380 357.8h6v5.4375h-6zM392 357.8h12v5.4375h-12zM404 374.1h4v5.4375h-4zM392 384.9h6v5.4375h-6zM398 417.6h6v5.4375h-6zM386 444.8h6v5.4375h-6zM363 450.2h6v5.4375h-6zM398 455.6h6v5.4375h-6zM358 477.4h5v5.4375h-5zM347 493.7h5v5.4375h-5zM374 504.6h6v5.4375h-6zM374 510h6v5.4375h-6zM374 515.4h6v5.4375h-6z"/>
<path fill="rgb(40,40,40)" d="M374 107.6h6v5.4375h-6zM347 123.9h5v5.4375h-5zM380 178.3h6v5.4375h-6zM398 178.3h6v5.4375h-6zM347 210.9h5v5.4375h-5zM369 221.8h5v5.4375h-5zM386 227.2h6v5.4375h-6zM392 254.4h6v5.4375h-6zM386 270.8h6v5.4375h-6zM392 281.6h6v5.4375h-6zM347 292.5h5v5.4375h-5zM398 297.9h6v5.4375h-6zM380 314.2h6v5.4375h-6zM347 319.7h5v5.4375h-5zM392 325.1h6v5.4375h-6zM398 336h6v5.4375h-6zM374 341.4h6v5.4375h-6zM386 352.3h6v5.4375h-6zM380 368.6h12v5.4375h-12zM380 390.4h6v5.4375h-6zM398 401.2h6v5.4375h-6zM392 406.7h6v5.4375h-6zM347 428.4h5v5.4375h-5zM404 428.4h4v5.4375h-4zM392 444.8h6v5.4375h-6zM352 488.2h6v5.4375h-6zM369 499.1h5v5.4375h-5z"/>
<path fill="rgb(41,41,41)" d="M386 129.4h6v5.4375h-6zM363 134.8h6v5.4375h-6zM347 140.2h5v5.4375h-5zM347 162h5v5.4375h-5zM398 200.1h6v5.4375h-6zM374 259.9h6v5.4375h-6zM392 276.2h6v5.4375h-6zM342 287.1h5v5.4375h-5zM404 308.8h4v5.4375h-4zM347 314.2h5v5.4375h-5zM392 314.2h12v5.4375h-12zM386 319.7h6v5.4375h-6zM374 330.6h6v5.4375h-6zM404 346.9h4v5.4375h-4zM398 352.3h6v5.4375h-6zM363 390.4h6v5.4375h-6zM352 412.1h6v5.4375h-6zM342 417.6h5v5.4375h-5zM392 423h6v5.4375h-6zM392 455.6h6v5.4375h-6z"/>
<path fill="rgb(42,42,42)" d="M398 227.2h6v5.4375h-6zM392 287.1h6v5.4375h-6zM358 292.5h5v5.4375h-5zM342 303.4h5v5.4375h-5zM386 357.8h6v5.4375h-6zM392 401.2h6v5.4375h-6zM374 428.4h6v5.4375h-6zM404 444.8h4v5.4375h-4zM380 471.9h6v5.4375h-6z"/>
<path fill="rgb(43,43,43)" d="M398 162h6v5.4375h-6zM374 194.6h6v5.4375h-6zM398 292.5h6v5.4375h-6zM363 314.2h6v5.4375h-6zM347 325.1h5v5.4375h-5zM352 341.4h6v5.4375h-6zM352 346.9h6v5.4375h-6zM386 363.2h6v5.4375h-6zM404 477.4h4v5.4375h-4z"/>
<path fill="rgb(44,44,44)" d="M352 113.1h6v5.4375h-6zM369 134.8h5v5.4375h-5zM352 145.7h6v5.4375h-6zM369 216.4h5v5.4375h-5zM374 238.1h6v5.4375h-6zM380 276.2h6v5.4375h-6zM363 471.9h6v5.4375h-6z"/>
<path fill="rgb(45,45,45)" d="M363 249h6v5.4375h-6zM352 259.9h6v5.4375h-6zM374 276.2h6v5.4375h-6zM386 379.5h6v5.4375h-6zM369 384.9h5v5.4375h-5zM398 390.4h6v5.4375h-6zM352 395.8h6v5.4375h-6zM374 412.1h6v5.4375h-6zM358 433.9h5v5.4375h-5zM398 433.9h6v5.4375h-6zM347 471.9h5v5.4375h-5zM386 471.9h6v5.4375h-6zM347 482.8h5v5.4375h-5z"/>
<path fill="rgb(46,46,46)" d="M398 151.1h6v5.4375h-6zM380 194.6h6v5.4375h-6zM404 194.6h4v5.4375h-4zM369 232.7h5v5.4375h-5zM392 270.8h6v5.4375h-6zM358 314.2h5v5.4375h-5zM392 368.6h6v5.4375h-6zM404 368.6h4v5.4375h-4zM404 406.7h4v5.4375h-4zM392 433.9h6v5.4375h-6zM398 439.3h6v5.4375h-6zM386 499.1h6v5.4375h-6z"/>
<path fill="rgb(47,47,47)" d="M369 145.7h5v5.4375h-5zM363 183.8h6v5.4375h-6zM363 221.8h6v5.4375h-6zM380 259.9h6v5.4375h-6zM342 265.3h5v5.4375h-5zM374 265.3h6v5.4375h-6zM374 319.7h6v5.4375h-6zM352 406.7h6v5.4375h-6zM373 488.2h29v5.4375h-29zM407 488.2h1v5.4375h-1zM373 493.7h29v5.4375h-29zM407 493.7h1v5.4375h-1zM398 499.1h6v5.4375h-6z"/>
<path fill="rgb(48,48,48)" d="M380 172.9h6v5.4375h-6zM352 194.6h6v5.4375h-6zM369 194.6h5v5.4375h-5zM380 210.9h6v5.4375h-6zM347 227.2h5v5.4375h-5zM374 227.2h6v5.4375h-6zM369 330.6h5v5.4375h-5zM363 341.4h6v5.4375h-6zM369 346.9h5v5.4375h-5zM358 363.2h5v5.4375h-5zM380 461.1h6v5.4375h-6zM402 488.2h1v5.4375h-1zM406 488.2h1v5.4375h-1zM402 493.7h1v5.4375h-1zM406 493.7h1v5.4375h-1z"/>
<path fill="rgb(49,49,49)" d="M380 162h6v5.4375h-6zM358 205.5h5v5.4375h-5zM380 270.8h6v5.4375h-6zM352 330.6h6v5.4375h-6zM342 341.4h5v5.4375h-5zM342 450.2h5v5.4375h-5zM347 455.6h5v5.4375h-5zM386 455.6h6v5.4375h-6zM369 466.5h5v5.4375h-5zM352 477.4h6v5.4375h-6zM404 499.1h4v5.4375h-4z"/>
<path fill="rgb(50,50,50)" d="M361 80.44h1v5.4375h-1zM395 80.44h3v5.4375h-3zM342 205.5h5v5.4375h-5zM386 276.2h6v5.4375h-6zM358 395.8h5v5.4375h-5zM369 406.7h5v5.4375h-5zM342 423h5v5.4375h-5zM392 439.3h6v5.4375h-6zM352 493.7h6v5.4375h-6z"/>
<path fill="rgb(51,51,51)" d="M347 205.5h5v5.4375h-5zM369 238.1h5v5.4375h-5zM363 265.3h6v5.4375h-6zM386 281.6h6v5.4375h-6zM358 303.4h5v5.4375h-5zM358 352.3h5v5.4375h-5zM363 379.5h6v5.4375h-6zM342 390.4h5v5.4375h-5zM386 423h6v5.4375h-6zM347 444.8h5v5.4375h-5zM358 444.8h5v5.4375h-5zM369 461.1h5v5.4375h-5z"/>
<path fill="rgb(52,52,52)" d="M369 178.3h5v5.4375h-5zM347 194.6h5v5.4375h-5zM374 216.4h6v5.4375h-6zM358 254.4h5v5.4375h-5zM374 368.6h6v5.4375h-6zM404 384.9h4v5.4375h-4zM386 395.8h6v5.4375h-6zM369 428.4h5v5.4375h-5zM386 466.5h6v5.4375h-6z"/>
<path fill="rgb(53,53,53)" d="M374 113.1h12v5.4375h-12zM363 232.7h6v5.4375h-6zM347 276.2h5v5.4375h-5zM342 314.2h5v5.4375h-5zM342 346.9h5v5.4375h-5zM369 363.2h5v5.4375h-5zM342 368.6h5v5.4375h-5zM358 466.5h5v5.4375h-5z"/>
<path fill="rgb(54,54,54)" d="M386 167.4h6v5.4375h-6zM342 210.9h5v5.4375h-5zM363 243.6h6v5.4375h-6zM347 254.4h5v5.4375h-5zM386 303.4h6v5.4375h-6zM342 384.9h5v5.4375h-5zM342 406.7h5v5.4375h-5z"/>
<path fill="rgb(55,55,55)" d="M347 134.8h5v5.4375h-5zM369 189.2h5v5.4375h-5zM358 270.8h5v5.4375h-5z"/>
<path fill="rgb(56,56,56)" d="M361 64.12h1v5.4375h-1zM395 64.12h3v5.4375h-3zM361 69.56h1v5.4375h-1zM395 69.56h3v5.4375h-3zM361 75h1v5.4375h-1zM395 75h3v5.4375h-3zM369 162h5v5.4375h-5zM342 172.9h5v5.4375h-5zM386 216.4h6v5.4375h-6zM363 297.9h6v5.4375h-6zM347 346.9h5v5.4375h-5zM358 384.9h5v5.4375h-5zM363 401.2h6v5.4375h-6zM352 504.6h6v5.4375h-6zM352 510h6v5.4375h-6zM352 515.4h6v5.4375h-6z"/>
<path fill="rgb(57,57,57)" d="M358 423h5v5.4375h-5z"/>
<path fill="rgb(58,58,58)" d="M358 178.3h5v5.4375h-5zM380 428.4h6v5.4375h-6z"/>
<path fill="rgb(59,59,59)" d="M352 172.9h6v5.4375h-6zM342 227.2h5v5.4375h-5zM352 270.8h6v5.4375h-6zM386 292.5h6v5.4375h-6zM374 357.8h6v5.4375h-6zM342 395.8h5v5.4375h-5zM363 455.6h6v5.4375h-6zM386 461.1h6v5.4375h-6zM363 504.6h6v5.4375h-6zM363 510h6v5.4375h-6zM363 515.4h6v5.4375h-6z"/>
<path fill="rgb(60,60,60)" d="M398 80.44h1v5.4375h-1zM374 374.1h6v5.4375h-6z"/>
<path fill="rgb(61,61,61)" d="M347 259.9h5v5.4375h-5z"/>
<path fill="rgb(62,62,62)" d="M344 80.44h1v5.4375h-1zM360 80.44h1v5.4375h-1z"/>
<path fill="rgb(64,64,64)" d="M362 80.44h1v5.4375h-1zM378 80.44h1v5.4375h-1zM352 303.4h6v5.4375h-6z"/>
<path fill="rgb(65,65,65)" d="M343 80.44h1v5.4375h-1z"/>
<path fill="rgb(66,66,66)" d="M399 80.44h1v5.4375h-1z"/>
<path fill="rgb(67,67,67)" d="M398 64.12h1v5.4375h-1zM398 69.56h1v5.4375h-1zM398 75h1v5.4375h-1z"/>
<path fill="rgb(68,68,68)" d="M400 80.44h1v5.4375h-1z"/>
<path fill="rgb(69,69,69)" d="M344 64.12h1v5.4375h-1zM360 64.12h1v5.4375h-1zM344 69.56h1v5.4375h-1zM360 69.56h1v5.4375h-1zM344 75h1v5.4375h-1zM360 75h1v5.4375h-1zM345 80.44h1v5.4375h-1zM359 80.44h1v5.4375h-1z"/>
<path fill="rgb(70,70,70)" d="M394 80.44h1v5.4375h-1z"/>
<path fill="rgb(71,71,71)" d="M362 64.12h1v5.4375h-1zM378 64.12h1v5.4375h-1zM362 69.56h1v5.4375h-1zM378 69.56h1v5.4375h-1zM362 75h1v5.4375h-1zM378 75h1v5.4375h-1z"/>
<path fill="rgb(72,72,72)" d="M363 80.44h1v5.4375h-1zM377 80.44h1v5.4375h-1zM401 80.44h1v5.4375h-1z"/>
<path fill="rgb(73,73,73)" d="M343 64.12h1v5.4375h-1zM343 69.56h1v5.4375h-1zM343 75h1v5.4375h-1zM346 80.44h1v5.4375h-1zM358 80.44h1v5.4375h-1z"/>
<path fill="rgb(74,74,74)" d="M399 64.12h1v5.4375h-1zM399 69.56h1v5.4375h-1zM399 75h1v5.4375h-1zM402 80.44h1v5.4375h-1z"/>
<path fill="rgb(75,75,75)" d="M342 80.44h1v5.4375h-1zM403 488.2h1v5.4375h-1zM405 488.2h1v5.4375h-1zM403 493.7h1v5.4375h-1zM405 493.7h1v5.4375h-1z"/>
<path fill="rgb(76,76,76)" d="M400 64.12h1v5.4375h-1zM400 69.56h1v5.4375h-1zM400 75h1v5.4375h-1zM403 80.44h1v5.4375h-1z"/>
<path fill="rgb(77,77,77)" d="M345 64.12h1v5.4375h-1zM359 64.12h1v5.4375h-1zM345 69.56h1v5.4375h-1zM359 69.56h1v5.4375h-1zM345 75h1v5.4375h-1zM359 75h1v5.4375h-1zM347 80.44h1v5.4375h-1zM357 80.44h1v5.4375h-1zM364 80.44h1v5.4375h-1zM376 80.44h1v5.4375h-1z"/>
<path fill="rgb(78,78,78)" d="M394 64.12h1v5.4375h-1zM394 69.56h1v5.4375h-1zM394 75h1v5.4375h-1zM404 80.44h1v5.4375h-1z"/>
<path fill="rgb(79,79,79)" d="M348 80.44h1v5.4375h-1zM356 80.44h1v5.4375h-1zM405 80.44h3v5.4375h-3z"/>
<path fill="rgb(80,80,80)" d="M363 64.12h1v5.4375h-1zM377 64.12h1v5.4375h-1zM401 64.12h1v5.4375h-1zM363 69.56h1v5.4375h-1zM377 69.56h1v5.4375h-1zM401 69.56h1v5.4375h-1zM363 75h1v5.4375h-1zM377 75h1v5.4375h-1zM401 75h1v5.4375h-1z"/>
<path fill="rgb(81,81,81)" d="M349 80.44h1v5.4375h-1zM355 80.44h1v5.4375h-1zM365 80.44h1v5.4375h-1zM375 80.44h1v5.4375h-1z"/>
<path fill="rgb(82,82,82)" d="M346 64.12h1v5.4375h-1zM358 64.12h1v5.4375h-1zM346 69.56h1v5.4375h-1zM358 69.56h1v5.4375h-1zM346 75h1v5.4375h-1zM358 75h1v5.4375h-1zM350 80.44h1v5.4375h-1zM354 80.44h1v5.4375h-1zM379 80.44h1v5.4375h-1zM393 80.44h1v5.4375h-1z"/>
<path fill="rgb(83,83,83)" d="M342 64.12h1v5.4375h-1zM402 64.12h1v5.4375h-1zM342 69.56h1v5.4375h-1zM402 69.56h1v5.4375h-1zM342 75h1v5.4375h-1zM402 75h1v5.4375h-1zM351 80.44h3v5.4375h-3z"/>
<path fill="rgb(84,84,84)" d="M366 80.44h1v5.4375h-1zM374 80.44h1v5.4375h-1z"/>
<path fill="rgb(85,85,85)" d="M347 64.12h1v5.4375h-1zM357 64.12h1v5.4375h-1zM403 64.12h1v5.4375h-1zM347 69.56h1v5.4375h-1zM357 69.56h1v5.4375h-1zM403 69.56h1v5.4375h-1zM347 75h1v5.4375h-1zM357 75h1v5.4375h-1zM403 75h1v5.4375h-1z"/>
<path fill="rgb(86,86,86)" d="M364 64.12h1v5.4375h-1zM376 64.12h1v5.4375h-1zM404 64.12h1v5.4375h-1zM364 69.56h1v5.4375h-1zM376 69.56h1v5.4375h-1zM404 69.56h1v5.4375h-1zM364 75h1v5.4375h-1zM376 75h1v5.4375h-1zM404 75h1v5.4375h-1zM367 80.44h1v5.4375h-1zM373 80.44h1v5.4375h-1z"/>
<path fill="rgb(87,87,87)" d="M405 64.12h1v5.4375h-1zM407 64.12h1v5.4375h-1zM405 69.56h1v5.4375h-1zM407 69.56h1v5.4375h-1zM405 75h1v5.4375h-1zM407 75h1v5.4375h-1zM368 80.44h1v5.4375h-1zM372 80.44h1v5.4375h-1zM404 488.2h1v5.4375h-1zM404 493.7h1v5.4375h-1z"/>
<path fill="rgb(88,88,88)" d="M348 64.12h1v5.4375h-1zM356 64.12h1v5.4375h-1zM406 64.12h1v5.4375h-1zM348 69.56h1v5.4375h-1zM356 69.56h1v5.4375h-1zM406 69.56h1v5.4375h-1zM348 75h1v5.4375h-1zM356 75h1v5.4375h-1zM406 75h1v5.4375h-1zM369 80.44h1v5.4375h-1zM371 80.44h1v5.4375h-1z"/>
<path fill="rgb(89,89,89)" d="M370 80.44h1v5.4375h-1z"/>
<path fill="rgb(90,90,90)" d="M349 64.12h1v5.4375h-1zM355 64.12h1v5.4375h-1zM365 64.12h1v5.4375h-1zM375 64.12h1v5.4375h-1zM349 69.56h1v5.4375h-1zM355 69.56h1v5.4375h-1zM365 69.56h1v5.4375h-1zM375 69.56h1v5.4375h-1zM349 75h1v5.4375h-1zM355 75h1v5.4375h-1zM365 75h1v5.4375h-1zM375 75h1v5.4375h-1zM380 80.44h1v5.4375h-1zM392 80.44h1v5.4375h-1z"/>
<path fill="rgb(91,91,91)" d="M379 64.12h1v5.4375h-1zM393 64.12h1v5.4375h-1zM379 69.56h1v5.4375h-1zM393 69.56h1v5.4375h-1zM379 75h1v5.4375h-1zM393 75h1v5.4375h-1z"/>
<path fill="rgb(92,92,92)" d="M350 64.12h2v5.4375h-2zM353 64.12h2v5.4375h-2zM350 69.56h2v5.4375h-2zM353 69.56h2v5.4375h-2zM350 75h2v5.4375h-2zM353 75h2v5.4375h-2z"/>
<path fill="rgb(93,93,93)" d="M352 64.12h1v5.4375h-1zM366 64.12h1v5.4375h-1zM374 64.12h1v5.4375h-1zM352 69.56h1v5.4375h-1zM366 69.56h1v5.4375h-1zM374 69.56h1v5.4375h-1zM352 75h1v5.4375h-1zM366 75h1v5.4375h-1zM374 75h1v5.4375h-1z"/>
<path fill="rgb(95,95,95)" d="M367 64.12h1v5.4375h-1zM373 64.12h1v5.4375h-1zM367 69.56h1v5.4375h-1zM373 69.56h1v5.4375h-1zM367 75h1v5.4375h-1zM373 75h1v5.4375h-1zM381 80.44h1v5.4375h-1zM391 80.44h1v5.4375h-1z"/>
<path fill="rgb(97,97,97)" d="M368 64.12h1v5.4375h-1zM372 64.12h1v5.4375h-1zM368 69.56h1v5.4375h-1zM372 69.56h1v5.4375h-1zM368 75h1v5.4375h-1zM372 75h1v5.4375h-1z"/>
<path fill="rgb(98,98,98)" d="M369 64.12h3v5.4375h-3zM369 69.56h3v5.4375h-3zM369 75h3v5.4375h-3z"/>
<path fill="rgb(100,100,100)" d="M380 64.12h1v5.4375h-1zM392 64.12h1v5.4375h-1zM380 69.56h1v5.4375h-1zM392 69.56h1v5.4375h-1zM380 75h1v5.4375h-1zM392 75h1v5.4375h-1zM382 80.44h1v5.4375h-1zM390 80.44h1v5.4375h-1z"/>
<path fill="rgb(103,103,103)" d="M383 80.44h1v5.4375h-1zM389 80.44h1v5.4375h-1z"/>
<path fill="rgb(105,105,105)" d="M384 80.44h1v5.4375h-1zM388 80.44h1v5.4375h-1z"/>
<path fill="rgb(106,106,106)" d="M381 64.12h1v5.4375h-1zM391 64.12h1v5.4375h-1zM381 69.56h1v5.4375h-1zM391 69.56h1v5.4375h-1zM381 75h1v5.4375h-1zM391 75h1v5.4375h-1zM385 80.44h1v5.4375h-1zM387 80.44h1v5.4375h-1z"/>
<path fill="rgb(107,107,107)" d="M386 80.44h1v5.4375h-1z"/>
<path fill="rgb(111,111,111)" d="M382 64.12h1v5.4375h-1zM390 64.12h1v5.4375h-1zM382 69.56h1v5.4375h-1zM390 69.56h1v5.4375h-1zM382 75h1v5.4375h-1zM390 75h1v5.4375h-1z"/>
<path fill="rgb(114,114,114)" d="M383 64.12h1v5.4375h-1zM389 64.12h1v5.4375h-1zM383 69.56h1v5.4375h-1zM389 69.56h1v5.4375h-1zM383 75h1v5.4375h-1zM389 75h1v5.4375h-1z"/>
<path fill="rgb(117,117,117)" d="M384 64.12h1v5.4375h-1zM388 64.12h1v5.4375h-1zM384 69.56h1v5.4375h-1zM388 69.56h1v5.4375h-1zM384 75h1v5.4375h-1zM388 75h1v5.4375h-1z"/>
<path fill="rgb(118,118,118)" d="M385 64.12h1v5.4375h-1zM387 64.12h1v5.4375h-1zM385 69.56h1v5.4375h-1zM387 69.56h1v5.4375h-1zM385 75h1v5.4375h-1zM387 75h1v5.4375h-1z"/>
<path fill="rgb(119,119,119)" d="M386 64.12h1v5.4375h-1zM386 69.56h1v5.4375h-1zM386 75h1v5.4375h-1z"/>
</g></g>
<g clip-path="url(#c5)"><g filter="url(#z5)"><rect x="392" y="62" width="76" height="456" fill="#000"/>
<path fill="rgb(9,9,9)" d="M394 85.88h1v5.4375h-1zM398 85.88h1v5.4375h-1zM414 85.88h1v5.4375h-1zM452 85.88h1v5.4375h-1z"/>
<path fill="rgb(14,14,14)" d="M393 85.88h1v5.4375h-1zM399 85.88h1v5.4375h-1zM413 85.88h1v5.4375h-1zM453 85.88h1v5.4375h-1zM467 85.88h1v5.4375h-1z"/>
<path fill="rgb(18,18,18)" d="M392 85.88h1v5.4375h-1zM400 85.88h1v5.4375h-1zM412 85.88h1v5.4375h-1zM454 85.88h1v5.4375h-1zM466 85.88h1v5.4375h-1zM392 113.1h6v5.4375h-6zM429 129.4h6v5.4375h-6zM449 221.8h7v5.4375h-7zM456 238.1h7v5.4375h-7zM456 297.9h7v5.4375h-7zM429 314.2h6v5.4375h-6z"/>
<path fill="rgb(19,19,19)" d="M463 428.4h5v5.4375h-5zM435 499.1h7v5.4375h-7z"/>
<path fill="rgb(20,20,20)" d="M401 85.88h1v5.4375h-1zM411 85.88h1v5.4375h-1zM455 85.88h1v5.4375h-1zM465 85.88h1v5.4375h-1zM442 194.6h7v5.4375h-7zM449 200.1h7v5.4375h-7zM404 287.1h6v5.4375h-6zM435 417.6h7v5.4375h-7zM392 471.9h6v5.4375h-6z"/>
<path fill="rgb(21,21,21)" d="M416 113.1h6v5.4375h-6zM442 118.5h7v5.4375h-7zM410 123.9h6v5.4375h-6zM392 178.3h6v5.4375h-6zM429 243.6h6v5.4375h-6zM410 303.4h6v5.4375h-6zM404 352.3h6v5.4375h-6zM398 368.6h6v5.4375h-6zM435 401.2h7v5.4375h-7zM422 471.9h7v5.4375h-7z"/>
<path fill="rgb(22,22,22)" d="M402 85.88h1v5.4375h-1zM410 85.88h1v5.4375h-1zM456 85.88h1v5.4375h-1zM464 85.88h1v5.4375h-1zM392 140.2h6v5.4375h-6zM449 145.7h7v5.4375h-7zM422 330.6h7v5.4375h-7zM410 341.4h6v5.4375h-6zM422 368.6h7v5.4375h-7zM442 499.1h7v5.4375h-7z"/>
<path fill="rgb(23,23,23)" d="M429 118.5h6v5.4375h-6zM416 140.2h6v5.4375h-6zM404 167.4h6v5.4375h-6zM410 200.1h6v5.4375h-6zM435 205.5h7v5.4375h-7zM422 276.2h7v5.4375h-7zM398 287.1h6v5.4375h-6zM442 303.4h7v5.4375h-7zM463 346.9h5v5.4375h-5zM398 374.1h6v5.4375h-6zM410 374.1h6v5.4375h-6zM463 423h5v5.4375h-5zM416 433.9h6v5.4375h-6z"/>
<path fill="rgb(24,24,24)" d="M403 85.88h1v5.4375h-1zM409 85.88h1v5.4375h-1zM457 85.88h1v5.4375h-1zM463 85.88h1v5.4375h-1zM429 151.1h6v5.4375h-6zM392 162h6v5.4375h-6zM416 172.9h6v5.4375h-6zM410 189.2h6v5.4375h-6zM429 194.6h6v5.4375h-6zM404 314.2h6v5.4375h-6zM392 341.4h6v5.4375h-6zM416 346.9h6v5.4375h-6zM449 390.4h7v5.4375h-7zM410 406.7h6v5.4375h-6zM442 406.7h7v5.4375h-7zM429 417.6h6v5.4375h-6zM435 439.3h7v5.4375h-7zM463 450.2h5v5.4375h-5zM416 455.6h6v5.4375h-6zM456 504.6h7v5.4375h-7zM456 510h7v5.4375h-7zM456 515.4h7v5.4375h-7z"/>
<path fill="rgb(25,25,25)" d="M404 85.88h2v5.4375h-2zM407 85.88h2v5.4375h-2zM458 85.88h2v5.4375h-2zM461 85.88h2v5.4375h-2zM404 113.1h6v5.4375h-6zM442 134.8h7v5.4375h-7zM404 183.8h6v5.4375h-6zM416 183.8h6v5.4375h-6zM416 205.5h6v5.4375h-6zM404 232.7h6v5.4375h-6zM429 232.7h6v5.4375h-6zM398 265.3h6v5.4375h-6zM422 270.8h7v5.4375h-7zM422 384.9h7v5.4375h-7zM398 395.8h6v5.4375h-6zM449 417.6h7v5.4375h-7zM449 433.9h7v5.4375h-7zM404 439.3h6v5.4375h-6zM435 450.2h7v5.4375h-7zM410 455.6h6v5.4375h-6zM449 455.6h7v5.4375h-7zM449 466.5h7v5.4375h-7z"/>
<path fill="rgb(26,26,26)" d="M406 85.88h1v5.4375h-1zM460 85.88h1v5.4375h-1zM392 107.6h6v5.4375h-6zM435 118.5h7v5.4375h-7zM416 134.8h6v5.4375h-6zM422 162h7v5.4375h-7zM422 189.2h7v5.4375h-7zM392 205.5h6v5.4375h-6zM456 216.4h7v5.4375h-7zM449 238.1h7v5.4375h-7zM416 259.9h6v5.4375h-6zM410 281.6h6v5.4375h-6zM422 281.6h7v5.4375h-7zM429 292.5h6v5.4375h-6zM416 314.2h6v5.4375h-6zM463 341.4h5v5.4375h-5zM449 352.3h7v5.4375h-7zM429 363.2h13v5.4375h-13zM449 395.8h7v5.4375h-7zM429 450.2h6v5.4375h-6zM463 477.4h5v5.4375h-5z"/>
<path fill="rgb(27,27,27)" d="M398 107.6h6v5.4375h-6zM392 129.4h6v5.4375h-6zM422 151.1h7v5.4375h-7zM422 156.6h7v5.4375h-7zM422 194.6h7v5.4375h-7zM416 287.1h6v5.4375h-6zM435 297.9h7v5.4375h-7zM463 336h5v5.4375h-5zM422 455.6h7v5.4375h-7zM416 471.9h6v5.4375h-6zM449 477.4h7v5.4375h-7z"/>
<path fill="rgb(28,28,28)" d="M429 107.6h6v5.4375h-6zM422 113.1h7v5.4375h-7zM435 123.9h7v5.4375h-7zM435 129.4h7v5.4375h-7zM449 129.4h7v5.4375h-7zM422 134.8h13v5.4375h-13zM463 134.8h5v5.4375h-5zM449 194.6h7v5.4375h-7zM404 221.8h6v5.4375h-6zM442 221.8h7v5.4375h-7zM456 221.8h7v5.4375h-7zM404 227.2h6v5.4375h-6zM398 232.7h6v5.4375h-6zM398 243.6h6v5.4375h-6zM456 249h7v5.4375h-7zM435 265.3h14v5.4375h-14zM404 270.8h6v5.4375h-6zM404 276.2h6v5.4375h-6zM442 325.1h7v5.4375h-7zM392 374.1h6v5.4375h-6zM463 379.5h5v5.4375h-5zM429 384.9h6v5.4375h-6zM398 406.7h6v5.4375h-6zM435 406.7h7v5.4375h-7zM398 444.8h6v5.4375h-6zM404 450.2h6v5.4375h-6zM404 461.1h6v5.4375h-6zM410 466.5h6v5.4375h-6zM392 482.8h7v5.4375h-7zM435 482.8h31v5.4375h-31z"/>
<path fill="rgb(29,29,29)" d="M442 113.1h7v5.4375h-7zM392 123.9h6v5.4375h-6zM442 129.4h7v5.4375h-7zM404 140.2h6v5.4375h-6zM442 151.1h7v5.4375h-7zM463 151.1h5v5.4375h-5zM435 162h7v5.4375h-7zM435 167.4h7v5.4375h-7zM456 167.4h7v5.4375h-7zM449 183.8h7v5.4375h-7zM392 194.6h6v5.4375h-6zM398 205.5h6v5.4375h-6zM429 205.5h6v5.4375h-6zM463 210.9h5v5.4375h-5zM456 232.7h7v5.4375h-7zM404 357.8h6v5.4375h-6zM398 379.5h6v5.4375h-6zM456 384.9h7v5.4375h-7zM456 423h7v5.4375h-7zM404 433.9h6v5.4375h-6zM404 455.6h6v5.4375h-6zM442 471.9h7v5.4375h-7zM429 504.6h6v5.4375h-6zM429 510h6v5.4375h-6zM429 515.4h6v5.4375h-6z"/>
<path fill="rgb(30,30,30)" d="M410 107.6h6v5.4375h-6zM449 107.6h7v5.4375h-7zM410 118.5h6v5.4375h-6zM404 129.4h6v5.4375h-6zM435 134.8h7v5.4375h-7zM392 145.7h6v5.4375h-6zM422 145.7h7v5.4375h-7zM398 172.9h6v5.4375h-6zM422 172.9h7v5.4375h-7zM435 172.9h7v5.4375h-7zM404 178.3h6v5.4375h-6zM442 183.8h7v5.4375h-7zM392 200.1h6v5.4375h-6zM442 205.5h7v5.4375h-7zM398 210.9h6v5.4375h-6zM392 227.2h6v5.4375h-6zM398 270.8h6v5.4375h-6zM449 270.8h7v5.4375h-7zM398 276.2h6v5.4375h-6zM442 314.2h7v5.4375h-7zM456 325.1h7v5.4375h-7zM429 341.4h6v5.4375h-6zM410 346.9h6v5.4375h-6zM410 352.3h6v5.4375h-6zM442 352.3h7v5.4375h-7zM416 363.2h6v5.4375h-6zM442 368.6h7v5.4375h-7zM416 379.5h6v5.4375h-6zM422 406.7h7v5.4375h-7zM398 461.1h6v5.4375h-6zM416 461.1h6v5.4375h-6zM398 466.5h6v5.4375h-6zM429 471.9h6v5.4375h-6zM392 504.6h6v5.4375h-6zM392 510h6v5.4375h-6zM392 515.4h6v5.4375h-6z"/>
<path fill="rgb(31,31,31)" d="M449 123.9h7v5.4375h-7zM463 123.9h5v5.4375h-5zM398 140.2h6v5.4375h-6zM392 151.1h6v5.4375h-6zM410 162h6v5.4375h-6zM416 167.4h6v5.4375h-6zM463 200.1h5v5.4375h-5zM456 227.2h7v5.4375h-7zM463 297.9h5v5.4375h-5zM398 319.7h6v5.4375h-6zM435 325.1h7v5.4375h-7zM449 330.6h7v5.4375h-7zM398 363.2h6v5.4375h-6zM404 395.8h6v5.4375h-6zM404 401.2h6v5.4375h-6zM449 406.7h7v5.4375h-7zM435 412.1h7v5.4375h-7zM392 428.4h6v5.4375h-6zM416 444.8h6v5.4375h-6zM410 450.2h6v5.4375h-6zM456 455.6h7v5.4375h-7zM410 461.1h6v5.4375h-6z"/>
<path fill="rgb(32,32,32)" d="M410 129.4h6v5.4375h-6zM456 140.2h7v5.4375h-7zM416 156.6h6v5.4375h-6zM392 167.4h6v5.4375h-6zM463 249h5v5.4375h-5zM404 281.6h6v5.4375h-6zM429 303.4h6v5.4375h-6zM404 325.1h6v5.4375h-6zM404 330.6h6v5.4375h-6zM416 336h6v5.4375h-6zM416 352.3h6v5.4375h-6zM456 352.3h7v5.4375h-7zM404 390.4h6v5.4375h-6zM416 466.5h6v5.4375h-6zM410 471.9h6v5.4375h-6zM456 471.9h7v5.4375h-7zM392 477.4h6v5.4375h-6zM422 477.4h7v5.4375h-7zM429 499.1h6v5.4375h-6z"/>
<path fill="rgb(33,33,33)" d="M429 145.7h6v5.4375h-6zM404 210.9h6v5.4375h-6zM410 216.4h6v5.4375h-6zM410 227.2h6v5.4375h-6zM463 243.6h5v5.4375h-5zM416 276.2h6v5.4375h-6zM429 287.1h6v5.4375h-6zM449 292.5h7v5.4375h-7zM435 303.4h7v5.4375h-7zM398 341.4h6v5.4375h-6zM422 357.8h7v5.4375h-7zM435 357.8h7v5.4375h-7zM392 379.5h6v5.4375h-6zM410 401.2h12v5.4375h-12zM449 428.4h7v5.4375h-7zM422 461.1h7v5.4375h-7zM463 471.9h5v5.4375h-5z"/>
<path fill="rgb(34,34,34)" d="M422 118.5h7v5.4375h-7zM442 145.7h7v5.4375h-7zM404 156.6h6v5.4375h-6zM404 172.9h6v5.4375h-6zM410 178.3h6v5.4375h-6zM392 189.2h6v5.4375h-6zM404 200.1h6v5.4375h-6zM416 216.4h6v5.4375h-6zM449 227.2h7v5.4375h-7zM404 259.9h12v5.4375h-12zM456 270.8h7v5.4375h-7zM456 281.6h7v5.4375h-7zM442 297.9h7v5.4375h-7zM392 330.6h6v5.4375h-6zM404 363.2h6v5.4375h-6zM449 384.9h7v5.4375h-7zM416 390.4h6v5.4375h-6zM398 423h6v5.4375h-6zM416 428.4h6v5.4375h-6zM410 439.3h6v5.4375h-6zM422 504.6h7v5.4375h-7zM449 504.6h7v5.4375h-7zM422 510h7v5.4375h-7zM449 510h7v5.4375h-7zM422 515.4h7v5.4375h-7zM449 515.4h7v5.4375h-7z"/>
<path fill="rgb(35,35,35)" d="M449 178.3h7v5.4375h-7zM416 189.2h6v5.4375h-6zM449 205.5h7v5.4375h-7zM392 210.9h6v5.4375h-6zM392 216.4h6v5.4375h-6zM449 232.7h7v5.4375h-7zM416 249h6v5.4375h-6zM422 292.5h7v5.4375h-7zM449 297.9h7v5.4375h-7zM416 330.6h6v5.4375h-6zM463 330.6h5v5.4375h-5zM404 341.4h6v5.4375h-6zM463 352.3h5v5.4375h-5zM463 368.6h5v5.4375h-5zM398 384.9h6v5.4375h-6zM463 401.2h5v5.4375h-5zM416 406.7h6v5.4375h-6zM392 417.6h6v5.4375h-6zM422 423h7v5.4375h-7zM398 450.2h6v5.4375h-6zM456 450.2h7v5.4375h-7zM435 455.6h7v5.4375h-7zM398 477.4h6v5.4375h-6zM435 477.4h7v5.4375h-7zM463 504.6h5v5.4375h-5zM463 510h5v5.4375h-5zM463 515.4h5v5.4375h-5z"/>
<path fill="rgb(36,36,36)" d="M435 200.1h7v5.4375h-7zM410 205.5h6v5.4375h-6zM416 238.1h6v5.4375h-6zM398 259.9h6v5.4375h-6zM463 281.6h5v5.4375h-5zM416 308.8h6v5.4375h-6zM416 325.1h6v5.4375h-6zM404 336h6v5.4375h-6zM456 346.9h7v5.4375h-7zM442 379.5h7v5.4375h-7zM404 417.6h6v5.4375h-6zM442 417.6h7v5.4375h-7zM435 433.9h7v5.4375h-7zM392 450.2h6v5.4375h-6zM422 499.1h7v5.4375h-7z"/>
<path fill="rgb(37,37,37)" d="M404 107.6h6v5.4375h-6zM398 129.4h6v5.4375h-6zM449 134.8h7v5.4375h-7zM463 156.6h5v5.4375h-5zM463 162h5v5.4375h-5zM422 178.3h7v5.4375h-7zM456 178.3h7v5.4375h-7zM449 210.9h7v5.4375h-7zM442 227.2h7v5.4375h-7zM398 254.4h6v5.4375h-6zM422 265.3h7v5.4375h-7zM449 265.3h7v5.4375h-7zM442 281.6h7v5.4375h-7zM398 303.4h6v5.4375h-6zM429 308.8h6v5.4375h-6zM456 308.8h7v5.4375h-7zM410 314.2h6v5.4375h-6zM456 314.2h7v5.4375h-7zM392 319.7h6v5.4375h-6zM449 325.1h7v5.4375h-7zM392 336h6v5.4375h-6zM422 336h7v5.4375h-7zM456 336h7v5.4375h-7zM456 357.8h7v5.4375h-7zM392 363.2h6v5.4375h-6zM410 390.4h6v5.4375h-6zM456 395.8h7v5.4375h-7zM410 423h6v5.4375h-6zM435 423h7v5.4375h-7zM449 461.1h7v5.4375h-7zM398 471.9h12v5.4375h-12z"/>
<path fill="rgb(38,38,38)" d="M416 129.4h6v5.4375h-6zM435 140.2h7v5.4375h-7zM416 162h6v5.4375h-6zM416 178.3h6v5.4375h-6zM429 183.8h6v5.4375h-6zM410 210.9h6v5.4375h-6zM435 210.9h7v5.4375h-7zM404 216.4h6v5.4375h-6zM422 221.8h7v5.4375h-7zM422 232.7h7v5.4375h-7zM410 243.6h6v5.4375h-6zM404 249h6v5.4375h-6zM435 259.9h7v5.4375h-7zM449 259.9h7v5.4375h-7zM416 265.3h6v5.4375h-6zM404 292.5h6v5.4375h-6zM422 297.9h7v5.4375h-7zM463 303.4h5v5.4375h-5zM398 308.8h6v5.4375h-6zM435 314.2h7v5.4375h-7zM416 319.7h6v5.4375h-6zM398 325.1h6v5.4375h-6zM435 341.4h7v5.4375h-7zM398 346.9h6v5.4375h-6zM392 352.3h6v5.4375h-6zM463 357.8h5v5.4375h-5zM416 374.1h6v5.4375h-6zM404 379.5h6v5.4375h-6zM429 379.5h6v5.4375h-6zM410 384.9h6v5.4375h-6zM416 395.8h6v5.4375h-6zM429 395.8h6v5.4375h-6zM422 412.1h7v5.4375h-7zM456 412.1h7v5.4375h-7zM463 444.8h5v5.4375h-5zM463 466.5h5v5.4375h-5zM410 477.4h6v5.4375h-6zM404 504.6h6v5.4375h-6zM404 510h6v5.4375h-6zM404 515.4h6v5.4375h-6z"/>
<path fill="rgb(39,39,39)" d="M456 107.6h7v5.4375h-7zM463 129.4h5v5.4375h-5zM398 134.8h6v5.4375h-6zM404 145.7h6v5.4375h-6zM392 172.9h6v5.4375h-6zM435 178.3h7v5.4375h-7zM463 183.8h5v5.4375h-5zM422 216.4h7v5.4375h-7zM398 221.8h6v5.4375h-6zM392 249h12v5.4375h-12zM442 254.4h7v5.4375h-7zM392 259.9h6v5.4375h-6zM442 259.9h7v5.4375h-7zM398 281.6h6v5.4375h-6zM442 287.1h7v5.4375h-7zM404 297.9h6v5.4375h-6zM435 346.9h7v5.4375h-7zM392 357.8h12v5.4375h-12zM410 368.6h6v5.4375h-6zM429 368.6h6v5.4375h-6zM404 374.1h6v5.4375h-6zM392 384.9h6v5.4375h-6zM398 417.6h6v5.4375h-6zM435 428.4h7v5.4375h-7zM456 439.3h7v5.4375h-7zM398 455.6h6v5.4375h-6zM456 461.1h7v5.4375h-7z"/>
<path fill="rgb(40,40,40)" d="M442 156.6h7v5.4375h-7zM398 178.3h6v5.4375h-6zM435 189.2h7v5.4375h-7zM463 194.6h5v5.4375h-5zM416 221.8h6v5.4375h-6zM422 243.6h7v5.4375h-7zM392 254.4h6v5.4375h-6zM463 254.4h5v5.4375h-5zM429 259.9h6v5.4375h-6zM463 265.3h5v5.4375h-5zM456 276.2h7v5.4375h-7zM392 281.6h6v5.4375h-6zM422 287.1h7v5.4375h-7zM435 292.5h7v5.4375h-7zM398 297.9h6v5.4375h-6zM429 297.9h6v5.4375h-6zM422 303.4h7v5.4375h-7zM435 308.8h7v5.4375h-7zM392 325.1h6v5.4375h-6zM398 336h6v5.4375h-6zM410 336h6v5.4375h-6zM435 368.6h7v5.4375h-7zM435 374.1h7v5.4375h-7zM449 379.5h7v5.4375h-7zM429 390.4h6v5.4375h-6zM398 401.2h6v5.4375h-6zM392 406.7h6v5.4375h-6zM442 412.1h7v5.4375h-7zM404 428.4h6v5.4375h-6zM392 444.8h6v5.4375h-6z"/>
<path fill="rgb(41,41,41)" d="M442 123.9h7v5.4375h-7zM422 129.4h7v5.4375h-7zM435 194.6h7v5.4375h-7zM398 200.1h6v5.4375h-6zM435 221.8h7v5.4375h-7zM429 227.2h13v5.4375h-13zM422 249h7v5.4375h-7zM435 270.8h7v5.4375h-7zM392 276.2h6v5.4375h-6zM429 281.6h6v5.4375h-6zM404 308.8h6v5.4375h-6zM422 308.8h7v5.4375h-7zM463 308.8h5v5.4375h-5zM392 314.2h12v5.4375h-12zM456 319.7h7v5.4375h-7zM422 325.1h7v5.4375h-7zM435 336h7v5.4375h-7zM404 346.9h6v5.4375h-6zM398 352.3h6v5.4375h-6zM429 352.3h6v5.4375h-6zM449 363.2h7v5.4375h-7zM410 395.8h6v5.4375h-6zM422 401.2h7v5.4375h-7zM449 401.2h7v5.4375h-7zM429 412.1h6v5.4375h-6zM463 417.6h5v5.4375h-5zM392 423h6v5.4375h-6zM422 433.9h7v5.4375h-7zM442 444.8h7v5.4375h-7zM392 455.6h6v5.4375h-6zM435 466.5h7v5.4375h-7zM416 477.4h6v5.4375h-6zM416 499.1h6v5.4375h-6zM463 499.1h5v5.4375h-5z"/>
<path fill="rgb(42,42,42)" d="M422 167.4h7v5.4375h-7zM449 172.9h7v5.4375h-7zM456 194.6h7v5.4375h-7zM398 227.2h6v5.4375h-6zM435 243.6h7v5.4375h-7zM416 254.4h13v5.4375h-13zM456 259.9h7v5.4375h-7zM410 265.3h6v5.4375h-6zM456 265.3h7v5.4375h-7zM429 270.8h6v5.4375h-6zM442 270.8h7v5.4375h-7zM442 276.2h14v5.4375h-14zM392 287.1h6v5.4375h-6zM410 297.9h6v5.4375h-6zM463 319.7h5v5.4375h-5zM463 325.1h5v5.4375h-5zM429 330.6h6v5.4375h-6zM410 357.8h6v5.4375h-6zM463 363.2h5v5.4375h-5zM456 374.1h7v5.4375h-7zM422 379.5h7v5.4375h-7zM392 401.2h6v5.4375h-6zM410 412.1h6v5.4375h-6zM416 417.6h6v5.4375h-6zM416 423h6v5.4375h-6zM442 428.4h7v5.4375h-7zM404 444.8h6v5.4375h-6zM442 450.2h7v5.4375h-7zM442 455.6h7v5.4375h-7zM435 461.1h7v5.4375h-7zM422 466.5h13v5.4375h-13zM442 466.5h7v5.4375h-7zM456 477.4h7v5.4375h-7z"/>
<path fill="rgb(43,43,43)" d="M410 156.6h6v5.4375h-6zM398 162h6v5.4375h-6zM442 167.4h7v5.4375h-7zM463 172.9h5v5.4375h-5zM442 232.7h7v5.4375h-7zM442 249h7v5.4375h-7zM410 254.4h6v5.4375h-6zM429 254.4h6v5.4375h-6zM410 276.2h6v5.4375h-6zM435 281.6h7v5.4375h-7zM398 292.5h6v5.4375h-6zM442 292.5h7v5.4375h-7zM416 297.9h6v5.4375h-6zM410 308.8h6v5.4375h-6zM422 319.7h7v5.4375h-7zM410 325.1h6v5.4375h-6zM416 341.4h6v5.4375h-6zM456 341.4h7v5.4375h-7zM429 374.1h6v5.4375h-6zM410 379.5h6v5.4375h-6zM449 412.1h7v5.4375h-7zM442 433.9h7v5.4375h-7zM442 461.1h7v5.4375h-7zM463 461.1h5v5.4375h-5zM456 466.5h7v5.4375h-7zM404 477.4h6v5.4375h-6zM456 499.1h7v5.4375h-7z"/>
<path fill="rgb(44,44,44)" d="M415 80.44h6v5.4375h-6zM450 80.44h2v5.4375h-2zM429 156.6h6v5.4375h-6zM422 205.5h7v5.4375h-7zM463 238.1h5v5.4375h-5zM410 249h6v5.4375h-6zM410 287.1h6v5.4375h-6zM463 287.1h5v5.4375h-5zM422 314.2h7v5.4375h-7zM410 319.7h6v5.4375h-6zM442 363.2h7v5.4375h-7zM449 368.6h7v5.4375h-7zM435 379.5h7v5.4375h-7zM463 395.8h5v5.4375h-5zM456 401.2h7v5.4375h-7zM422 428.4h13v5.4375h-13zM463 433.9h5v5.4375h-5z"/>
<path fill="rgb(45,45,45)" d="M416 151.1h6v5.4375h-6zM449 162h7v5.4375h-7zM435 183.8h7v5.4375h-7zM456 183.8h7v5.4375h-7zM416 270.8h6v5.4375h-6zM449 314.2h7v5.4375h-7zM435 330.6h7v5.4375h-7zM449 341.4h7v5.4375h-7zM449 346.9h7v5.4375h-7zM422 352.3h7v5.4375h-7zM429 357.8h6v5.4375h-6zM416 368.6h6v5.4375h-6zM442 374.1h7v5.4375h-7zM398 390.4h6v5.4375h-6zM410 428.4h6v5.4375h-6zM398 433.9h6v5.4375h-6zM410 444.8h6v5.4375h-6zM429 455.6h6v5.4375h-6zM429 461.1h6v5.4375h-6z"/>
<path fill="rgb(46,46,46)" d="M456 145.7h7v5.4375h-7zM398 151.1h6v5.4375h-6zM404 194.6h6v5.4375h-6zM392 270.8h6v5.4375h-6zM416 357.8h6v5.4375h-6zM392 368.6h6v5.4375h-6zM404 368.6h6v5.4375h-6zM422 390.4h7v5.4375h-7zM404 406.7h6v5.4375h-6zM456 406.7h7v5.4375h-7zM392 433.9h6v5.4375h-6zM398 439.3h6v5.4375h-6z"/>
<path fill="rgb(47,47,47)" d="M435 151.1h7v5.4375h-7zM449 303.4h7v5.4375h-7zM442 346.9h7v5.4375h-7zM410 417.6h6v5.4375h-6zM435 444.8h7v5.4375h-7zM442 477.4h7v5.4375h-7zM392 488.2h10v5.4375h-10zM407 488.2h6v5.4375h-6zM418 488.2h6v5.4375h-6zM429 488.2h7v5.4375h-7zM441 488.2h4v5.4375h-4zM450 488.2h18v5.4375h-18zM392 493.7h10v5.4375h-10zM407 493.7h6v5.4375h-6zM418 493.7h6v5.4375h-6zM429 493.7h7v5.4375h-7zM441 493.7h4v5.4375h-4zM450 493.7h18v5.4375h-18zM398 499.1h6v5.4375h-6z"/>
<path fill="rgb(48,48,48)" d="M415 64.12h6v5.4375h-6zM450 64.12h2v5.4375h-2zM415 69.56h6v5.4375h-6zM450 69.56h2v5.4375h-2zM415 75h6v5.4375h-6zM450 75h2v5.4375h-2zM442 210.9h7v5.4375h-7zM435 254.4h7v5.4375h-7zM429 325.1h6v5.4375h-6zM456 368.6h7v5.4375h-7zM435 395.8h7v5.4375h-7zM429 401.2h6v5.4375h-6zM463 412.1h5v5.4375h-5zM402 488.2h1v5.4375h-1zM406 488.2h1v5.4375h-1zM413 488.2h1v5.4375h-1zM417 488.2h1v5.4375h-1zM424 488.2h1v5.4375h-1zM428 488.2h1v5.4375h-1zM436 488.2h1v5.4375h-1zM440 488.2h1v5.4375h-1zM445 488.2h1v5.4375h-1zM449 488.2h1v5.4375h-1zM402 493.7h1v5.4375h-1zM406 493.7h1v5.4375h-1zM413 493.7h1v5.4375h-1zM417 493.7h1v5.4375h-1zM424 493.7h1v5.4375h-1zM428 493.7h1v5.4375h-1zM436 493.7h1v5.4375h-1zM440 493.7h1v5.4375h-1zM445 493.7h1v5.4375h-1zM449 493.7h1v5.4375h-1z"/>
<path fill="rgb(49,49,49)" d="M435 390.4h7v5.4375h-7zM456 390.4h7v5.4375h-7zM404 499.1h6v5.4375h-6z"/>
<path fill="rgb(50,50,50)" d="M395 80.44h3v5.4375h-3zM392 439.3h6v5.4375h-6z"/>
<path fill="rgb(51,51,51)" d="M449 287.1h7v5.4375h-7z"/>
<path fill="rgb(52,52,52)" d="M404 384.9h6v5.4375h-6z"/>
<path fill="rgb(54,54,54)" d="M449 281.6h7v5.4375h-7z"/>
<path fill="rgb(55,55,55)" d="M421 80.44h1v5.4375h-1zM452 80.44h1v5.4375h-1z"/>
<path fill="rgb(56,56,56)" d="M395 64.12h3v5.4375h-3zM395 69.56h3v5.4375h-3zM395 75h3v5.4375h-3zM414 80.44h1v5.4375h-1z"/>
<path fill="rgb(60,60,60)" d="M398 80.44h1v5.4375h-1zM449 80.44h1v5.4375h-1z"/>
<path fill="rgb(61,61,61)" d="M421 64.12h1v5.4375h-1zM452 64.12h1v5.4375h-1zM421 69.56h1v5.4375h-1zM452 69.56h1v5.4375h-1zM421 75h1v5.4375h-1zM452 75h1v5.4375h-1z"/>
<path fill="rgb(62,62,62)" d="M414 64.12h1v5.4375h-1zM414 69.56h1v5.4375h-1zM414 75h1v5.4375h-1zM422 80.44h1v5.4375h-1zM453 80.44h1v5.4375h-1zM467 80.44h1v5.4375h-1z"/>
<path fill="rgb(63,63,63)" d="M413 80.44h1v5.4375h-1z"/>
<path fill="rgb(66,66,66)" d="M449 64.12h1v5.4375h-1zM449 69.56h1v5.4375h-1zM449 75h1v5.4375h-1zM399 80.44h1v5.4375h-1zM454 80.44h1v5.4375h-1zM466 80.44h1v5.4375h-1z"/>
<path fill="rgb(67,67,67)" d="M398 64.12h1v5.4375h-1zM398 69.56h1v5.4375h-1zM398 75h1v5.4375h-1zM423 80.44h1v5.4375h-1zM435 80.44h1v5.4375h-1z"/>
<path fill="rgb(68,68,68)" d="M453 64.12h1v5.4375h-1zM467 64.12h1v5.4375h-1zM453 69.56h1v5.4375h-1zM467 69.56h1v5.4375h-1zM453 75h1v5.4375h-1zM467 75h1v5.4375h-1zM400 80.44h1v5.4375h-1zM412 80.44h1v5.4375h-1z"/>
<path fill="rgb(69,69,69)" d="M422 64.12h1v5.4375h-1zM422 69.56h1v5.4375h-1zM422 75h1v5.4375h-1zM455 80.44h1v5.4375h-1zM465 80.44h1v5.4375h-1z"/>
<path fill="rgb(70,70,70)" d="M413 64.12h1v5.4375h-1zM413 69.56h1v5.4375h-1zM413 75h1v5.4375h-1zM394 80.44h1v5.4375h-1zM424 80.44h1v5.4375h-1zM434 80.44h1v5.4375h-1zM448 80.44h1v5.4375h-1z"/>
<path fill="rgb(72,72,72)" d="M401 80.44h1v5.4375h-1zM411 80.44h1v5.4375h-1zM456 80.44h1v5.4375h-1zM464 80.44h1v5.4375h-1z"/>
<path fill="rgb(73,73,73)" d="M454 64.12h1v5.4375h-1zM466 64.12h1v5.4375h-1zM454 69.56h1v5.4375h-1zM466 69.56h1v5.4375h-1zM454 75h1v5.4375h-1zM466 75h1v5.4375h-1zM425 80.44h1v5.4375h-1zM433 80.44h1v5.4375h-1zM457 80.44h1v5.4375h-1zM463 80.44h1v5.4375h-1z"/>
<path fill="rgb(74,74,74)" d="M399 64.12h1v5.4375h-1zM423 64.12h1v5.4375h-1zM435 64.12h1v5.4375h-1zM399 69.56h1v5.4375h-1zM423 69.56h1v5.4375h-1zM435 69.56h1v5.4375h-1zM399 75h1v5.4375h-1zM423 75h1v5.4375h-1zM435 75h1v5.4375h-1zM402 80.44h1v5.4375h-1zM410 80.44h1v5.4375h-1zM426 80.44h1v5.4375h-1zM432 80.44h1v5.4375h-1z"/>
<path fill="rgb(75,75,75)" d="M458 80.44h2v5.4375h-2zM461 80.44h2v5.4375h-2zM403 488.2h1v5.4375h-1zM405 488.2h1v5.4375h-1zM414 488.2h1v5.4375h-1zM416 488.2h1v5.4375h-1zM425 488.2h1v5.4375h-1zM427 488.2h1v5.4375h-1zM437 488.2h1v5.4375h-1zM439 488.2h1v5.4375h-1zM446 488.2h1v5.4375h-1zM448 488.2h1v5.4375h-1zM403 493.7h1v5.4375h-1zM405 493.7h1v5.4375h-1zM414 493.7h1v5.4375h-1zM416 493.7h1v5.4375h-1zM425 493.7h1v5.4375h-1zM427 493.7h1v5.4375h-1zM437 493.7h1v5.4375h-1zM439 493.7h1v5.4375h-1zM446 493.7h1v5.4375h-1zM448 493.7h1v5.4375h-1z"/>
<path fill="rgb(76,76,76)" d="M400 64.12h1v5.4375h-1zM412 64.12h1v5.4375h-1zM400 69.56h1v5.4375h-1zM412 69.56h1v5.4375h-1zM400 75h1v5.4375h-1zM412 75h1v5.4375h-1zM403 80.44h1v5.4375h-1zM409 80.44h1v5.4375h-1zM427 80.44h1v5.4375h-1zM431 80.44h1v5.4375h-1zM447 80.44h1v5.4375h-1zM460 80.44h1v5.4375h-1z"/>
<path fill="rgb(77,77,77)" d="M455 64.12h1v5.4375h-1zM465 64.12h1v5.4375h-1zM455 69.56h1v5.4375h-1zM465 69.56h1v5.4375h-1zM455 75h1v5.4375h-1zM465 75h1v5.4375h-1zM428 80.44h3v5.4375h-3z"/>
<path fill="rgb(78,78,78)" d="M394 64.12h1v5.4375h-1zM424 64.12h1v5.4375h-1zM434 64.12h1v5.4375h-1zM448 64.12h1v5.4375h-1zM394 69.56h1v5.4375h-1zM424 69.56h1v5.4375h-1zM434 69.56h1v5.4375h-1zM448 69.56h1v5.4375h-1zM394 75h1v5.4375h-1zM424 75h1v5.4375h-1zM434 75h1v5.4375h-1zM448 75h1v5.4375h-1zM404 80.44h1v5.4375h-1zM408 80.44h1v5.4375h-1z"/>
<path fill="rgb(79,79,79)" d="M405 80.44h3v5.4375h-3z"/>
<path fill="rgb(80,80,80)" d="M401 64.12h1v5.4375h-1zM411 64.12h1v5.4375h-1zM456 64.12h1v5.4375h-1zM464 64.12h1v5.4375h-1zM401 69.56h1v5.4375h-1zM411 69.56h1v5.4375h-1zM456 69.56h1v5.4375h-1zM464 69.56h1v5.4375h-1zM401 75h1v5.4375h-1zM411 75h1v5.4375h-1zM456 75h1v5.4375h-1zM464 75h1v5.4375h-1z"/>
<path fill="rgb(81,81,81)" d="M425 64.12h1v5.4375h-1zM433 64.12h1v5.4375h-1zM425 69.56h1v5.4375h-1zM433 69.56h1v5.4375h-1zM425 75h1v5.4375h-1zM433 75h1v5.4375h-1zM436 80.44h1v5.4375h-1zM446 80.44h1v5.4375h-1z"/>
<path fill="rgb(82,82,82)" d="M457 64.12h1v5.4375h-1zM463 64.12h1v5.4375h-1zM457 69.56h1v5.4375h-1zM463 69.56h1v5.4375h-1zM457 75h1v5.4375h-1zM463 75h1v5.4375h-1zM393 80.44h1v5.4375h-1z"/>
<path fill="rgb(83,83,83)" d="M402 64.12h1v5.4375h-1zM410 64.12h1v5.4375h-1zM426 64.12h1v5.4375h-1zM432 64.12h1v5.4375h-1zM458 64.12h1v5.4375h-1zM462 64.12h1v5.4375h-1zM402 69.56h1v5.4375h-1zM410 69.56h1v5.4375h-1zM426 69.56h1v5.4375h-1zM432 69.56h1v5.4375h-1zM458 69.56h1v5.4375h-1zM462 69.56h1v5.4375h-1zM402 75h1v5.4375h-1zM410 75h1v5.4375h-1zM426 75h1v5.4375h-1zM432 75h1v5.4375h-1zM458 75h1v5.4375h-1zM462 75h1v5.4375h-1z"/>
<path fill="rgb(84,84,84)" d="M427 64.12h1v5.4375h-1zM431 64.12h1v5.4375h-1zM459 64.12h3v5.4375h-3zM427 69.56h1v5.4375h-1zM431 69.56h1v5.4375h-1zM459 69.56h3v5.4375h-3zM427 75h1v5.4375h-1zM431 75h1v5.4375h-1zM459 75h3v5.4375h-3z"/>
<path fill="rgb(85,85,85)" d="M403 64.12h1v5.4375h-1zM409 64.12h1v5.4375h-1zM428 64.12h3v5.4375h-3zM447 64.12h1v5.4375h-1zM403 69.56h1v5.4375h-1zM409 69.56h1v5.4375h-1zM428 69.56h3v5.4375h-3zM447 69.56h1v5.4375h-1zM403 75h1v5.4375h-1zM409 75h1v5.4375h-1zM428 75h3v5.4375h-3zM447 75h1v5.4375h-1zM437 80.44h1v5.4375h-1zM445 80.44h1v5.4375h-1z"/>
<path fill="rgb(86,86,86)" d="M404 64.12h1v5.4375h-1zM408 64.12h1v5.4375h-1zM404 69.56h1v5.4375h-1zM408 69.56h1v5.4375h-1zM404 75h1v5.4375h-1zM408 75h1v5.4375h-1z"/>
<path fill="rgb(87,87,87)" d="M405 64.12h1v5.4375h-1zM407 64.12h1v5.4375h-1zM405 69.56h1v5.4375h-1zM407 69.56h1v5.4375h-1zM405 75h1v5.4375h-1zM407 75h1v5.4375h-1zM438 80.44h1v5.4375h-1zM444 80.44h1v5.4375h-1zM404 488.2h1v5.4375h-1zM415 488.2h1v5.4375h-1zM426 488.2h1v5.4375h-1zM438 488.2h1v5.4375h-1zM447 488.2h1v5.4375h-1zM404 493.7h1v5.4375h-1zM415 493.7h1v5.4375h-1zM426 493.7h1v5.4375h-1zM438 493.7h1v5.4375h-1zM447 493.7h1v5.4375h-1z"/>
<path fill="rgb(88,88,88)" d="M406 64.12h1v5.4375h-1zM406 69.56h1v5.4375h-1zM406 75h1v5.4375h-1z"/>
<path fill="rgb(89,89,89)" d="M439 80.44h1v5.4375h-1zM443 80.44h1v5.4375h-1z"/>
<path fill="rgb(90,90,90)" d="M436 64.12h1v5.4375h-1zM446 64.12h1v5.4375h-1zM436 69.56h1v5.4375h-1zM446 69.56h1v5.4375h-1zM436 75h1v5.4375h-1zM446 75h1v5.4375h-1zM392 80.44h1v5.4375h-1zM440 80.44h1v5.4375h-1zM442 80.44h1v5.4375h-1z"/>
<path fill="rgb(91,91,91)" d="M393 64.12h1v5.4375h-1zM393 69.56h1v5.4375h-1zM393 75h1v5.4375h-1zM441 80.44h1v5.4375h-1z"/>
<path fill="rgb(94,94,94)" d="M437 64.12h1v5.4375h-1zM445 64.12h1v5.4375h-1zM437 69.56h1v5.4375h-1zM445 69.56h1v5.4375h-1zM437 75h1v5.4375h-1zM445 75h1v5.4375h-1z"/>
<path fill="rgb(97,97,97)" d="M438 64.12h1v5.4375h-1zM444 64.12h1v5.4375h-1zM438 69.56h1v5.4375h-1zM444 69.56h1v5.4375h-1zM438 75h1v5.4375h-1zM444 75h1v5.4375h-1z"/>
<path fill="rgb(99,99,99)" d="M439 64.12h1v5.4375h-1zM443 64.12h1v5.4375h-1zM439 69.56h1v5.4375h-1zM443 69.56h1v5.4375h-1zM439 75h1v5.4375h-1zM443 75h1v5.4375h-1z"/>
<path fill="rgb(100,100,100)" d="M392 64.12h1v5.4375h-1zM440 64.12h1v5.4375h-1zM442 64.12h1v5.4375h-1zM392 69.56h1v5.4375h-1zM440 69.56h1v5.4375h-1zM442 69.56h1v5.4375h-1zM392 75h1v5.4375h-1zM440 75h1v5.4375h-1zM442 75h1v5.4375h-1z"/>
<path fill="rgb(101,101,101)" d="M441 64.12h1v5.4375h-1zM441 69.56h1v5.4375h-1zM441 75h1v5.4375h-1z"/>
</g></g>
<g clip-path="url(#c6)"><g filter="url(#z6)"><rect x="452" y="62" width="156" height="456" fill="#000"/>
<path fill="rgb(9,9,9)" d="M452 85.88h1v5.4375h-1zM468 85.88h1v5.4375h-1zM471 85.88h1v5.4375h-1zM487 85.88h1v5.4375h-1zM504 85.88h1v5.4375h-1zM520 85.88h1v5.4375h-1zM522 85.88h1v5.4375h-1zM538 85.88h2v5.4375h-2zM555 85.88h1v5.4375h-1zM588 85.88h1v5.4375h-1z"/>
<path fill="rgb(14,14,14)" d="M453 85.88h1v5.4375h-1zM467 85.88h1v5.4375h-1zM472 85.88h1v5.4375h-1zM486 85.88h1v5.4375h-1zM505 85.88h1v5.4375h-1zM519 85.88h1v5.4375h-1zM523 85.88h1v5.4375h-1zM537 85.88h1v5.4375h-1zM540 85.88h1v5.4375h-1zM554 85.88h1v5.4375h-1zM573 85.88h1v5.4375h-1zM587 85.88h1v5.4375h-1zM589 85.88h1v5.4375h-1z"/>
<path fill="rgb(18,18,18)" d="M454 85.88h1v5.4375h-1zM466 85.88h1v5.4375h-1zM473 85.88h1v5.4375h-1zM485 85.88h1v5.4375h-1zM506 85.88h1v5.4375h-1zM518 85.88h1v5.4375h-1zM524 85.88h1v5.4375h-1zM536 85.88h1v5.4375h-1zM541 85.88h1v5.4375h-1zM553 85.88h1v5.4375h-1zM574 85.88h1v5.4375h-1zM586 85.88h1v5.4375h-1zM590 85.88h1v5.4375h-1zM573 107.6h10v5.4375h-10zM536 140.2h9v5.4375h-9zM545 189.2h9v5.4375h-9zM452 221.8h4v5.4375h-4zM519 232.7h8v5.4375h-8zM456 238.1h7v5.4375h-7zM510 243.6h9v5.4375h-9zM573 243.6h10v5.4375h-10zM536 254.4h9v5.4375h-9zM564 259.9h9v5.4375h-9zM502 281.6h8v5.4375h-8zM456 297.9h7v5.4375h-7zM519 308.8h8v5.4375h-8zM510 319.7h9v5.4375h-9zM536 384.9h9v5.4375h-9zM545 428.4h19v5.4375h-19zM502 444.8h8v5.4375h-8zM502 450.2h8v5.4375h-8z"/>
<path fill="rgb(19,19,19)" d="M564 134.8h9v5.4375h-9zM486 145.7h8v5.4375h-8zM573 167.4h10v5.4375h-10zM519 270.8h8v5.4375h-8zM564 330.6h9v5.4375h-9zM554 336h10v5.4375h-10zM545 368.6h9v5.4375h-9zM494 412.1h8v5.4375h-8zM463 428.4h8v5.4375h-8zM564 471.9h9v5.4375h-9z"/>
<path fill="rgb(20,20,20)" d="M455 85.88h1v5.4375h-1zM465 85.88h1v5.4375h-1zM474 85.88h1v5.4375h-1zM484 85.88h1v5.4375h-1zM507 85.88h1v5.4375h-1zM517 85.88h1v5.4375h-1zM525 85.88h1v5.4375h-1zM535 85.88h1v5.4375h-1zM542 85.88h1v5.4375h-1zM552 85.88h1v5.4375h-1zM575 85.88h1v5.4375h-1zM585 85.88h1v5.4375h-1zM591 85.88h1v5.4375h-1zM536 156.6h9v5.4375h-9zM564 172.9h9v5.4375h-9zM452 200.1h4v5.4375h-4zM502 254.4h8v5.4375h-8zM519 259.9h8v5.4375h-8zM554 303.4h10v5.4375h-10zM554 374.1h10v5.4375h-10z"/>
<path fill="rgb(21,21,21)" d="M545 123.9h9v5.4375h-9zM527 129.4h9v5.4375h-9zM519 151.1h8v5.4375h-8zM494 194.6h8v5.4375h-8zM573 210.9h10v5.4375h-10zM527 232.7h9v5.4375h-9zM471 249h7v5.4375h-7zM573 276.2h10v5.4375h-10zM554 308.8h10v5.4375h-10zM527 336h9v5.4375h-9zM519 357.8h8v5.4375h-8zM519 406.7h8v5.4375h-8zM494 423h8v5.4375h-8zM471 428.4h7v5.4375h-7zM519 504.6h8v5.4375h-8zM519 510h8v5.4375h-8zM519 515.4h8v5.4375h-8z"/>
<path fill="rgb(22,22,22)" d="M456 85.88h1v5.4375h-1zM464 85.88h1v5.4375h-1zM475 85.88h1v5.4375h-1zM483 85.88h1v5.4375h-1zM508 85.88h1v5.4375h-1zM516 85.88h1v5.4375h-1zM526 85.88h1v5.4375h-1zM534 85.88h1v5.4375h-1zM543 85.88h1v5.4375h-1zM551 85.88h1v5.4375h-1zM576 85.88h1v5.4375h-1zM584 85.88h1v5.4375h-1zM592 85.88h1v5.4375h-1zM452 145.7h4v5.4375h-4zM573 145.7h10v5.4375h-10zM545 178.3h9v5.4375h-9zM510 189.2h9v5.4375h-9zM502 232.7h8v5.4375h-8zM502 259.9h8v5.4375h-8zM573 297.9h10v5.4375h-10zM519 314.2h8v5.4375h-8zM527 352.3h9v5.4375h-9zM536 379.5h9v5.4375h-9zM478 401.2h8v5.4375h-8zM494 417.6h8v5.4375h-8zM510 428.4h9v5.4375h-9zM527 450.2h9v5.4375h-9zM573 455.6h10v5.4375h-10zM519 461.1h8v5.4375h-8zM573 461.1h10v5.4375h-10z"/>
<path fill="rgb(23,23,23)" d="M573 129.4h10v5.4375h-10zM478 145.7h8v5.4375h-8zM554 151.1h10v5.4375h-10zM486 156.6h8v5.4375h-8zM554 259.9h10v5.4375h-10zM510 265.3h9v5.4375h-9zM527 297.9h9v5.4375h-9zM510 303.4h9v5.4375h-9zM463 346.9h8v5.4375h-8zM527 406.7h9v5.4375h-9zM463 423h8v5.4375h-8zM502 461.1h8v5.4375h-8zM471 504.6h7v5.4375h-7zM573 504.6h10v5.4375h-10zM471 510h7v5.4375h-7zM573 510h10v5.4375h-10zM471 515.4h7v5.4375h-7zM573 515.4h10v5.4375h-10z"/>
<path fill="rgb(24,24,24)" d="M457 85.88h1v5.4375h-1zM463 85.88h1v5.4375h-1zM476 85.88h1v5.4375h-1zM482 85.88h1v5.4375h-1zM509 85.88h1v5.4375h-1zM515 85.88h1v5.4375h-1zM527 85.88h1v5.4375h-1zM533 85.88h1v5.4375h-1zM544 85.88h1v5.4375h-1zM550 85.88h1v5.4375h-1zM577 85.88h1v5.4375h-1zM583 85.88h1v5.4375h-1zM593 85.88h1v5.4375h-1zM599 85.88h9v5.4375h-9zM527 123.9h9v5.4375h-9zM545 129.4h9v5.4375h-9zM554 140.2h10v5.4375h-10zM554 145.7h10v5.4375h-10zM502 151.1h8v5.4375h-8zM536 167.4h9v5.4375h-9zM564 167.4h9v5.4375h-9zM519 205.5h8v5.4375h-8zM510 210.9h9v5.4375h-9zM519 249h8v5.4375h-8zM545 259.9h9v5.4375h-9zM564 276.2h9v5.4375h-9zM527 303.4h18v5.4375h-18zM564 368.6h9v5.4375h-9zM452 390.4h4v5.4375h-4zM478 417.6h8v5.4375h-8zM510 417.6h9v5.4375h-9zM519 428.4h8v5.4375h-8zM463 450.2h8v5.4375h-8zM545 455.6h9v5.4375h-9zM471 499.1h7v5.4375h-7zM545 499.1h9v5.4375h-9zM456 504.6h7v5.4375h-7zM456 510h7v5.4375h-7zM456 515.4h7v5.4375h-7z"/>
<path fill="rgb(25,25,25)" d="M458 85.88h2v5.4375h-2zM461 85.88h2v5.4375h-2zM477 85.88h2v5.4375h-2zM480 85.88h2v5.4375h-2zM510 85.88h2v5.4375h-2zM513 85.88h2v5.4375h-2zM528 85.88h2v5.4375h-2zM531 85.88h2v5.4375h-2zM545 85.88h2v5.4375h-2zM548 85.88h2v5.4375h-2zM578 85.88h2v5.4375h-2zM581 85.88h2v5.4375h-2zM594 85.88h2v5.4375h-2zM597 85.88h2v5.4375h-2zM564 118.5h9v5.4375h-9zM554 123.9h10v5.4375h-10zM510 134.8h17v5.4375h-17zM478 140.2h8v5.4375h-8zM527 156.6h9v5.4375h-9zM554 194.6h10v5.4375h-10zM502 200.1h8v5.4375h-8zM545 200.1h9v5.4375h-9zM486 216.4h8v5.4375h-8zM536 227.2h9v5.4375h-9zM494 232.7h8v5.4375h-8zM510 232.7h9v5.4375h-9zM527 259.9h9v5.4375h-9zM510 287.1h9v5.4375h-9zM471 363.2h7v5.4375h-7zM545 374.1h9v5.4375h-9zM536 401.2h9v5.4375h-9zM452 417.6h4v5.4375h-4zM536 423h9v5.4375h-9zM452 433.9h4v5.4375h-4zM452 455.6h4v5.4375h-4zM452 466.5h4v5.4375h-4zM564 466.5h9v5.4375h-9z"/>
<path fill="rgb(26,26,26)" d="M460 85.88h1v5.4375h-1zM479 85.88h1v5.4375h-1zM512 85.88h1v5.4375h-1zM530 85.88h1v5.4375h-1zM547 85.88h1v5.4375h-1zM580 85.88h1v5.4375h-1zM596 85.88h1v5.4375h-1zM502 123.9h8v5.4375h-8zM573 123.9h10v5.4375h-10zM573 140.2h10v5.4375h-10zM545 145.7h9v5.4375h-9zM554 210.9h10v5.4375h-10zM456 216.4h7v5.4375h-7zM527 221.8h9v5.4375h-9zM452 238.1h4v5.4375h-4zM545 238.1h9v5.4375h-9zM573 254.4h10v5.4375h-10zM536 265.3h9v5.4375h-9zM502 319.7h8v5.4375h-8zM463 341.4h8v5.4375h-8zM452 352.3h4v5.4375h-4zM502 357.8h8v5.4375h-8zM452 395.8h4v5.4375h-4zM545 395.8h9v5.4375h-9zM536 428.4h9v5.4375h-9zM486 450.2h8v5.4375h-8zM519 466.5h8v5.4375h-8zM463 477.4h8v5.4375h-8zM486 504.6h8v5.4375h-8zM486 510h8v5.4375h-8zM486 515.4h8v5.4375h-8z"/>
<path fill="rgb(27,27,27)" d="M502 129.4h8v5.4375h-8zM494 140.2h8v5.4375h-8zM486 162h8v5.4375h-8zM545 227.2h9v5.4375h-9zM471 265.3h7v5.4375h-7zM478 270.8h8v5.4375h-8zM536 287.1h9v5.4375h-9zM519 303.4h8v5.4375h-8zM510 314.2h9v5.4375h-9zM545 325.1h9v5.4375h-9zM463 336h8v5.4375h-8zM471 357.8h7v5.4375h-7zM519 379.5h8v5.4375h-8zM471 384.9h7v5.4375h-7zM536 390.4h9v5.4375h-9zM536 417.6h9v5.4375h-9zM583 417.6h10v5.4375h-10zM545 433.9h9v5.4375h-9zM545 450.2h9v5.4375h-9zM452 477.4h4v5.4375h-4zM519 477.4h8v5.4375h-8zM486 499.1h8v5.4375h-8z"/>
<path fill="rgb(28,28,28)" d="M545 107.6h9v5.4375h-9zM452 129.4h4v5.4375h-4zM463 134.8h8v5.4375h-8zM486 134.8h8v5.4375h-8zM486 140.2h8v5.4375h-8zM545 140.2h9v5.4375h-9zM510 145.7h9v5.4375h-9zM545 156.6h9v5.4375h-9zM486 172.9h8v5.4375h-8zM478 178.3h16v5.4375h-16zM564 178.3h9v5.4375h-9zM486 183.8h8v5.4375h-8zM573 183.8h10v5.4375h-10zM452 194.6h4v5.4375h-4zM471 194.6h7v5.4375h-7zM471 210.9h7v5.4375h-7zM456 221.8h7v5.4375h-7zM478 221.8h8v5.4375h-8zM510 227.2h9v5.4375h-9zM519 238.1h8v5.4375h-8zM564 243.6h9v5.4375h-9zM456 249h7v5.4375h-7zM486 254.4h8v5.4375h-8zM527 254.4h9v5.4375h-9zM564 281.6h9v5.4375h-9zM573 303.4h10v5.4375h-10zM502 308.8h17v5.4375h-17zM502 314.2h8v5.4375h-8zM494 319.7h8v5.4375h-8zM510 330.6h9v5.4375h-9zM564 336h9v5.4375h-9zM554 352.3h10v5.4375h-10zM471 368.6h7v5.4375h-7zM510 368.6h9v5.4375h-9zM463 379.5h8v5.4375h-8zM564 379.5h9v5.4375h-9zM510 384.9h9v5.4375h-9zM573 384.9h10v5.4375h-10zM471 390.4h7v5.4375h-7zM510 390.4h9v5.4375h-9zM593 406.7h15v5.4375h-15zM478 412.1h8v5.4375h-8zM545 423h9v5.4375h-9zM494 428.4h8v5.4375h-8zM583 450.2h10v5.4375h-10zM510 466.5h9v5.4375h-9zM510 477.4h9v5.4375h-9zM554 477.4h10v5.4375h-10zM452 482.8h14v5.4375h-14zM478 482.8h14v5.4375h-14zM502 482.8h29v5.4375h-29zM563 482.8h34v5.4375h-34zM593 499.1h15v5.4375h-15zM593 504.6h15v5.4375h-15zM593 510h15v5.4375h-15zM593 515.4h15v5.4375h-15z"/>
<path fill="rgb(29,29,29)" d="M536 107.6h9v5.4375h-9zM519 129.4h8v5.4375h-8zM478 134.8h8v5.4375h-8zM519 145.7h8v5.4375h-8zM463 151.1h8v5.4375h-8zM527 151.1h9v5.4375h-9zM494 156.6h8v5.4375h-8zM527 162h9v5.4375h-9zM456 167.4h7v5.4375h-7zM502 178.3h8v5.4375h-8zM452 183.8h4v5.4375h-4zM486 189.2h8v5.4375h-8zM573 189.2h10v5.4375h-10zM545 194.6h9v5.4375h-9zM573 200.1h10v5.4375h-10zM463 210.9h8v5.4375h-8zM486 210.9h8v5.4375h-8zM545 221.8h9v5.4375h-9zM486 227.2h8v5.4375h-8zM456 232.7h7v5.4375h-7zM494 238.1h8v5.4375h-8zM502 265.3h8v5.4375h-8zM502 270.8h8v5.4375h-8zM564 297.9h9v5.4375h-9zM478 303.4h16v5.4375h-16zM486 325.1h8v5.4375h-8zM573 330.6h10v5.4375h-10zM456 384.9h7v5.4375h-7zM502 384.9h8v5.4375h-8zM494 406.7h8v5.4375h-8zM456 423h7v5.4375h-7zM502 439.3h8v5.4375h-8zM545 444.8h9v5.4375h-9zM519 471.9h8v5.4375h-8zM527 477.4h9v5.4375h-9z"/>
<path fill="rgb(30,30,30)" d="M452 107.6h4v5.4375h-4zM502 107.6h8v5.4375h-8zM494 129.4h8v5.4375h-8zM527 183.8h9v5.4375h-9zM478 210.9h8v5.4375h-8zM573 227.2h10v5.4375h-10zM536 238.1h9v5.4375h-9zM478 249h8v5.4375h-8zM452 270.8h4v5.4375h-4zM573 270.8h10v5.4375h-10zM478 276.2h8v5.4375h-8zM545 276.2h9v5.4375h-9zM519 292.5h8v5.4375h-8zM456 325.1h7v5.4375h-7zM494 357.8h8v5.4375h-8zM494 401.2h8v5.4375h-8zM519 412.1h8v5.4375h-8zM486 417.6h8v5.4375h-8zM510 455.6h9v5.4375h-9z"/>
<path fill="rgb(31,31,31)" d="M452 123.9h4v5.4375h-4zM463 123.9h8v5.4375h-8zM564 145.7h9v5.4375h-9zM471 151.1h7v5.4375h-7zM527 167.4h9v5.4375h-9zM519 172.9h8v5.4375h-8zM471 183.8h7v5.4375h-7zM463 200.1h8v5.4375h-8zM494 210.9h8v5.4375h-8zM545 216.4h9v5.4375h-9zM510 221.8h9v5.4375h-9zM456 227.2h7v5.4375h-7zM486 238.1h8v5.4375h-8zM527 238.1h9v5.4375h-9zM536 243.6h9v5.4375h-9zM502 249h8v5.4375h-8zM494 270.8h8v5.4375h-8zM536 270.8h9v5.4375h-9zM471 287.1h7v5.4375h-7zM502 287.1h8v5.4375h-8zM527 287.1h9v5.4375h-9zM527 292.5h9v5.4375h-9zM463 297.9h8v5.4375h-8zM510 297.9h9v5.4375h-9zM545 308.8h9v5.4375h-9zM527 314.2h9v5.4375h-9zM471 319.7h7v5.4375h-7zM519 325.1h8v5.4375h-8zM452 330.6h4v5.4375h-4zM494 330.6h8v5.4375h-8zM536 330.6h9v5.4375h-9zM554 390.4h10v5.4375h-10zM452 406.7h4v5.4375h-4zM519 423h8v5.4375h-8zM527 428.4h9v5.4375h-9zM456 455.6h7v5.4375h-7zM593 461.1h15v5.4375h-15zM502 477.4h8v5.4375h-8z"/>
<path fill="rgb(32,32,32)" d="M486 107.6h8v5.4375h-8zM502 113.1h8v5.4375h-8zM456 140.2h7v5.4375h-7zM545 167.4h9v5.4375h-9zM573 205.5h10v5.4375h-10zM536 221.8h9v5.4375h-9zM494 227.2h8v5.4375h-8zM478 243.6h8v5.4375h-8zM463 249h8v5.4375h-8zM573 259.9h10v5.4375h-10zM478 281.6h8v5.4375h-8zM478 319.7h8v5.4375h-8zM573 325.1h10v5.4375h-10zM494 336h8v5.4375h-8zM573 341.4h10v5.4375h-10zM456 352.3h7v5.4375h-7zM510 357.8h9v5.4375h-9zM471 406.7h7v5.4375h-7zM502 417.6h8v5.4375h-8zM545 417.6h9v5.4375h-9zM519 439.3h8v5.4375h-8zM564 439.3h9v5.4375h-9zM519 444.8h8v5.4375h-8zM554 450.2h10v5.4375h-10zM456 471.9h7v5.4375h-7z"/>
<path fill="rgb(33,33,33)" d="M536 129.4h9v5.4375h-9zM478 172.9h8v5.4375h-8zM536 189.2h9v5.4375h-9zM527 194.6h9v5.4375h-9zM463 243.6h8v5.4375h-8zM486 276.2h8v5.4375h-8zM519 287.1h8v5.4375h-8zM452 292.5h4v5.4375h-4zM471 308.8h7v5.4375h-7zM486 308.8h8v5.4375h-8zM478 314.2h8v5.4375h-8zM545 314.2h9v5.4375h-9zM519 330.6h8v5.4375h-8zM510 336h9v5.4375h-9zM554 368.6h10v5.4375h-10zM502 379.5h8v5.4375h-8zM554 417.6h10v5.4375h-10zM452 428.4h4v5.4375h-4zM478 433.9h8v5.4375h-8zM494 439.3h8v5.4375h-8zM554 444.8h10v5.4375h-10zM463 471.9h8v5.4375h-8z"/>
<path fill="rgb(34,34,34)" d="M519 123.9h8v5.4375h-8zM545 134.8h9v5.4375h-9zM502 145.7h8v5.4375h-8zM564 156.6h9v5.4375h-9zM478 183.8h8v5.4375h-8zM478 216.4h8v5.4375h-8zM494 216.4h8v5.4375h-8zM554 221.8h10v5.4375h-10zM452 227.2h4v5.4375h-4zM502 227.2h8v5.4375h-8zM545 249h9v5.4375h-9zM494 254.4h8v5.4375h-8zM456 270.8h7v5.4375h-7zM456 281.6h7v5.4375h-7zM536 281.6h9v5.4375h-9zM478 308.8h8v5.4375h-8zM536 319.7h9v5.4375h-9zM519 336h8v5.4375h-8zM536 346.9h9v5.4375h-9zM573 352.3h10v5.4375h-10zM554 363.2h10v5.4375h-10zM452 384.9h4v5.4375h-4zM502 390.4h8v5.4375h-8zM486 395.8h8v5.4375h-8zM478 423h8v5.4375h-8zM527 423h9v5.4375h-9zM510 433.9h9v5.4375h-9zM527 444.8h9v5.4375h-9zM554 471.9h10v5.4375h-10zM452 504.6h4v5.4375h-4zM452 510h4v5.4375h-4zM452 515.4h4v5.4375h-4z"/>
<path fill="rgb(35,35,35)" d="M573 134.8h10v5.4375h-10zM494 151.1h8v5.4375h-8zM573 162h10v5.4375h-10zM452 178.3h4v5.4375h-4zM471 189.2h7v5.4375h-7zM452 205.5h4v5.4375h-4zM519 210.9h8v5.4375h-8zM478 227.2h8v5.4375h-8zM519 227.2h8v5.4375h-8zM452 232.7h4v5.4375h-4zM510 249h9v5.4375h-9zM478 254.4h8v5.4375h-8zM471 292.5h7v5.4375h-7zM452 297.9h4v5.4375h-4zM536 297.9h9v5.4375h-9zM463 330.6h8v5.4375h-8zM502 330.6h8v5.4375h-8zM536 341.4h9v5.4375h-9zM486 346.9h8v5.4375h-8zM527 346.9h9v5.4375h-9zM463 352.3h8v5.4375h-8zM463 368.6h8v5.4375h-8zM486 368.6h8v5.4375h-8zM486 379.5h8v5.4375h-8zM519 395.8h8v5.4375h-8zM463 401.2h8v5.4375h-8zM471 417.6h7v5.4375h-7zM471 423h7v5.4375h-7zM478 439.3h8v5.4375h-8zM456 450.2h7v5.4375h-7zM536 450.2h9v5.4375h-9zM510 461.1h9v5.4375h-9zM554 499.1h10v5.4375h-10zM463 504.6h8v5.4375h-8zM463 510h8v5.4375h-8zM463 515.4h8v5.4375h-8z"/>
<path fill="rgb(36,36,36)" d="M478 129.4h8v5.4375h-8zM536 134.8h9v5.4375h-9zM554 162h10v5.4375h-10zM573 172.9h10v5.4375h-10zM545 183.8h9v5.4375h-9zM527 189.2h9v5.4375h-9zM545 205.5h9v5.4375h-9zM494 243.6h8v5.4375h-8zM536 249h9v5.4375h-9zM463 281.6h8v5.4375h-8zM486 292.5h8v5.4375h-8zM486 341.4h8v5.4375h-8zM456 346.9h7v5.4375h-7zM502 346.9h8v5.4375h-8zM536 352.3h9v5.4375h-9zM536 357.8h9v5.4375h-9zM536 363.2h9v5.4375h-9zM502 368.6h8v5.4375h-8zM583 444.8h10v5.4375h-10zM494 471.9h8v5.4375h-8zM494 477.4h8v5.4375h-8z"/>
<path fill="rgb(37,37,37)" d="M510 113.1h9v5.4375h-9zM486 123.9h8v5.4375h-8zM452 134.8h4v5.4375h-4zM463 156.6h8v5.4375h-8zM463 162h8v5.4375h-8zM456 178.3h7v5.4375h-7zM452 210.9h4v5.4375h-4zM471 259.9h7v5.4375h-7zM452 265.3h4v5.4375h-4zM486 287.1h8v5.4375h-8zM456 308.8h7v5.4375h-7zM456 314.2h7v5.4375h-7zM452 325.1h4v5.4375h-4zM478 325.1h8v5.4375h-8zM456 336h7v5.4375h-7zM502 336h8v5.4375h-8zM456 357.8h7v5.4375h-7zM456 395.8h7v5.4375h-7zM471 433.9h7v5.4375h-7zM478 444.8h8v5.4375h-8zM478 450.2h8v5.4375h-8zM519 450.2h8v5.4375h-8zM452 461.1h4v5.4375h-4zM536 504.6h9v5.4375h-9zM536 510h9v5.4375h-9zM536 515.4h9v5.4375h-9z"/>
<path fill="rgb(38,38,38)" d="M486 167.4h8v5.4375h-8zM510 183.8h9v5.4375h-9zM486 221.8h8v5.4375h-8zM452 259.9h4v5.4375h-4zM494 259.9h8v5.4375h-8zM510 259.9h9v5.4375h-9zM510 292.5h9v5.4375h-9zM463 303.4h8v5.4375h-8zM471 330.6h7v5.4375h-7zM463 357.8h8v5.4375h-8zM471 401.2h7v5.4375h-7zM456 412.1h7v5.4375h-7zM573 433.9h10v5.4375h-10zM463 444.8h8v5.4375h-8zM486 455.6h8v5.4375h-8zM463 466.5h8v5.4375h-8zM478 466.5h8v5.4375h-8z"/>
<path fill="rgb(39,39,39)" d="M456 107.6h7v5.4375h-7zM486 118.5h8v5.4375h-8zM463 129.4h8v5.4375h-8zM471 156.6h7v5.4375h-7zM463 183.8h8v5.4375h-8zM486 205.5h8v5.4375h-8zM527 243.6h9v5.4375h-9zM536 259.9h9v5.4375h-9zM486 270.8h8v5.4375h-8zM545 297.9h9v5.4375h-9zM478 330.6h8v5.4375h-8zM478 336h8v5.4375h-8zM486 352.3h8v5.4375h-8zM486 390.4h8v5.4375h-8zM583 428.4h10v5.4375h-10zM456 439.3h7v5.4375h-7zM456 461.1h7v5.4375h-7zM471 461.1h7v5.4375h-7z"/>
<path fill="rgb(40,40,40)" d="M486 113.1h8v5.4375h-8zM463 194.6h8v5.4375h-8zM471 227.2h7v5.4375h-7zM463 254.4h8v5.4375h-8zM463 265.3h8v5.4375h-8zM456 276.2h7v5.4375h-7zM478 341.4h8v5.4375h-8zM494 346.9h8v5.4375h-8zM573 346.9h10v5.4375h-10zM452 379.5h4v5.4375h-4zM471 412.1h7v5.4375h-7zM519 417.6h8v5.4375h-8zM486 423h8v5.4375h-8zM478 461.1h8v5.4375h-8zM536 461.1h9v5.4375h-9zM478 471.9h8v5.4375h-8z"/>
<path fill="rgb(41,41,41)" d="M471 145.7h7v5.4375h-7zM478 162h8v5.4375h-8zM471 200.1h7v5.4375h-7zM554 200.1h10v5.4375h-10zM478 205.5h8v5.4375h-8zM494 221.8h8v5.4375h-8zM478 238.1h8v5.4375h-8zM471 243.6h7v5.4375h-7zM494 276.2h8v5.4375h-8zM471 281.6h7v5.4375h-7zM486 281.6h8v5.4375h-8zM494 292.5h8v5.4375h-8zM463 308.8h8v5.4375h-8zM456 319.7h7v5.4375h-7zM452 363.2h4v5.4375h-4zM478 368.6h8v5.4375h-8zM494 368.6h8v5.4375h-8zM494 379.5h8v5.4375h-8zM494 390.4h8v5.4375h-8zM452 401.2h4v5.4375h-4zM554 406.7h10v5.4375h-10zM583 406.7h10v5.4375h-10zM463 417.6h8v5.4375h-8zM486 433.9h8v5.4375h-8zM486 439.3h8v5.4375h-8zM486 466.5h8v5.4375h-8zM463 499.1h8v5.4375h-8zM494 499.1h8v5.4375h-8z"/>
<path fill="rgb(42,42,42)" d="M452 172.9h4v5.4375h-4zM494 172.9h8v5.4375h-8zM456 194.6h7v5.4375h-7zM471 205.5h7v5.4375h-7zM486 243.6h8v5.4375h-8zM456 259.9h7v5.4375h-7zM456 265.3h7v5.4375h-7zM471 270.8h7v5.4375h-7zM452 276.2h4v5.4375h-4zM471 303.4h7v5.4375h-7zM494 314.2h8v5.4375h-8zM463 319.7h8v5.4375h-8zM463 325.1h8v5.4375h-8zM471 346.9h7v5.4375h-7zM463 363.2h8v5.4375h-8zM456 374.1h7v5.4375h-7zM478 374.1h8v5.4375h-8zM494 395.8h8v5.4375h-8zM478 428.4h8v5.4375h-8zM471 450.2h7v5.4375h-7zM494 450.2h8v5.4375h-8zM471 455.6h7v5.4375h-7zM486 461.1h8v5.4375h-8zM510 471.9h9v5.4375h-9zM456 477.4h7v5.4375h-7z"/>
<path fill="rgb(43,43,43)" d="M463 172.9h8v5.4375h-8zM494 189.2h8v5.4375h-8zM486 194.6h8v5.4375h-8zM486 259.9h8v5.4375h-8zM494 308.8h8v5.4375h-8zM471 336h7v5.4375h-7zM456 341.4h7v5.4375h-7zM494 363.2h8v5.4375h-8zM452 412.1h4v5.4375h-4zM463 461.1h8v5.4375h-8zM456 466.5h7v5.4375h-7zM486 471.9h8v5.4375h-8zM471 477.4h7v5.4375h-7zM456 499.1h7v5.4375h-7z"/>
<path fill="rgb(44,44,44)" d="M469 80.44h2v5.4375h-2zM521 80.44h1v5.4375h-1zM494 145.7h8v5.4375h-8zM463 238.1h8v5.4375h-8zM471 254.4h7v5.4375h-7zM463 287.1h8v5.4375h-8zM486 357.8h8v5.4375h-8zM452 368.6h4v5.4375h-4zM471 374.1h7v5.4375h-7zM478 379.5h8v5.4375h-8zM463 395.8h8v5.4375h-8zM456 401.2h7v5.4375h-7zM463 433.9h8v5.4375h-8zM471 466.5h7v5.4375h-7z"/>
<path fill="rgb(45,45,45)" d="M452 162h4v5.4375h-4zM456 183.8h7v5.4375h-7zM478 194.6h8v5.4375h-8zM494 303.4h8v5.4375h-8zM452 314.2h4v5.4375h-4zM452 341.4h4v5.4375h-4zM452 346.9h4v5.4375h-4zM478 477.4h8v5.4375h-8zM478 504.6h8v5.4375h-8zM478 510h8v5.4375h-8zM478 515.4h8v5.4375h-8z"/>
<path fill="rgb(46,46,46)" d="M456 145.7h7v5.4375h-7zM494 183.8h8v5.4375h-8zM486 249h8v5.4375h-8zM478 259.9h8v5.4375h-8zM471 276.2h7v5.4375h-7zM478 287.1h8v5.4375h-8zM486 314.2h8v5.4375h-8zM486 319.7h8v5.4375h-8zM471 325.1h7v5.4375h-7zM494 352.3h8v5.4375h-8zM456 406.7h7v5.4375h-7zM494 433.9h8v5.4375h-8zM494 455.6h8v5.4375h-8z"/>
<path fill="rgb(47,47,47)" d="M452 303.4h4v5.4375h-4zM471 314.2h7v5.4375h-7zM478 384.9h8v5.4375h-8zM471 395.8h7v5.4375h-7zM452 488.2h68v5.4375h-68zM525 488.2h66v5.4375h-66zM596 488.2h12v5.4375h-12zM452 493.7h68v5.4375h-68zM525 493.7h66v5.4375h-66zM596 493.7h12v5.4375h-12z"/>
<path fill="rgb(48,48,48)" d="M469 64.12h2v5.4375h-2zM521 64.12h1v5.4375h-1zM469 69.56h2v5.4375h-2zM521 69.56h1v5.4375h-1zM469 75h2v5.4375h-2zM521 75h1v5.4375h-1zM494 281.6h8v5.4375h-8zM471 341.4h7v5.4375h-7zM478 357.8h8v5.4375h-8zM456 368.6h7v5.4375h-7zM463 412.1h8v5.4375h-8zM520 488.2h1v5.4375h-1zM524 488.2h1v5.4375h-1zM591 488.2h1v5.4375h-1zM595 488.2h1v5.4375h-1zM520 493.7h1v5.4375h-1zM524 493.7h1v5.4375h-1zM591 493.7h1v5.4375h-1zM595 493.7h1v5.4375h-1z"/>
<path fill="rgb(49,49,49)" d="M456 390.4h7v5.4375h-7z"/>
<path fill="rgb(50,50,50)" d="M471 352.3h7v5.4375h-7z"/>
<path fill="rgb(51,51,51)" d="M452 287.1h4v5.4375h-4zM486 412.1h8v5.4375h-8z"/>
<path fill="rgb(54,54,54)" d="M452 281.6h4v5.4375h-4z"/>
<path fill="rgb(55,55,55)" d="M452 80.44h1v5.4375h-1zM468 80.44h1v5.4375h-1zM522 80.44h1v5.4375h-1zM538 80.44h2v5.4375h-2zM555 80.44h2v5.4375h-2zM572 80.44h1v5.4375h-1zM588 80.44h1v5.4375h-1z"/>
<path fill="rgb(56,56,56)" d="M503 80.44h2v5.4375h-2zM520 80.44h1v5.4375h-1z"/>
<path fill="rgb(59,59,59)" d="M471 80.44h1v5.4375h-1zM487 80.44h1v5.4375h-1z"/>
<path fill="rgb(61,61,61)" d="M452 64.12h1v5.4375h-1zM468 64.12h1v5.4375h-1zM539 64.12h1v5.4375h-1zM555 64.12h2v5.4375h-2zM572 64.12h1v5.4375h-1zM588 64.12h1v5.4375h-1zM452 69.56h1v5.4375h-1zM468 69.56h1v5.4375h-1zM539 69.56h1v5.4375h-1zM555 69.56h2v5.4375h-2zM572 69.56h1v5.4375h-1zM588 69.56h1v5.4375h-1zM452 75h1v5.4375h-1zM468 75h1v5.4375h-1zM539 75h1v5.4375h-1zM555 75h2v5.4375h-2zM572 75h1v5.4375h-1zM588 75h1v5.4375h-1z"/>
<path fill="rgb(62,62,62)" d="M503 64.12h2v5.4375h-2zM520 64.12h1v5.4375h-1zM522 64.12h1v5.4375h-1zM538 64.12h1v5.4375h-1zM503 69.56h2v5.4375h-2zM520 69.56h1v5.4375h-1zM522 69.56h1v5.4375h-1zM538 69.56h1v5.4375h-1zM503 75h2v5.4375h-2zM520 75h1v5.4375h-1zM522 75h1v5.4375h-1zM538 75h1v5.4375h-1zM453 80.44h1v5.4375h-1zM467 80.44h1v5.4375h-1zM540 80.44h1v5.4375h-1zM554 80.44h1v5.4375h-1zM557 80.44h1v5.4375h-1zM571 80.44h1v5.4375h-1zM573 80.44h1v5.4375h-1zM587 80.44h1v5.4375h-1z"/>
<path fill="rgb(63,63,63)" d="M488 80.44h1v5.4375h-1zM502 80.44h1v5.4375h-1zM505 80.44h1v5.4375h-1zM519 80.44h1v5.4375h-1zM523 80.44h1v5.4375h-1zM537 80.44h1v5.4375h-1z"/>
<path fill="rgb(64,64,64)" d="M589 80.44h1v5.4375h-1z"/>
<path fill="rgb(65,65,65)" d="M471 64.12h1v5.4375h-1zM487 64.12h1v5.4375h-1zM471 69.56h1v5.4375h-1zM487 69.56h1v5.4375h-1zM471 75h1v5.4375h-1zM487 75h1v5.4375h-1z"/>
<path fill="rgb(66,66,66)" d="M454 80.44h1v5.4375h-1zM466 80.44h1v5.4375h-1z"/>
<path fill="rgb(67,67,67)" d="M541 80.44h1v5.4375h-1zM553 80.44h1v5.4375h-1zM558 80.44h1v5.4375h-1zM570 80.44h1v5.4375h-1zM574 80.44h1v5.4375h-1zM586 80.44h1v5.4375h-1z"/>
<path fill="rgb(68,68,68)" d="M453 64.12h1v5.4375h-1zM467 64.12h1v5.4375h-1zM453 69.56h1v5.4375h-1zM467 69.56h1v5.4375h-1zM453 75h1v5.4375h-1zM467 75h1v5.4375h-1zM472 80.44h1v5.4375h-1zM486 80.44h1v5.4375h-1zM489 80.44h1v5.4375h-1zM501 80.44h1v5.4375h-1zM506 80.44h1v5.4375h-1zM518 80.44h1v5.4375h-1zM524 80.44h1v5.4375h-1zM536 80.44h1v5.4375h-1z"/>
<path fill="rgb(69,69,69)" d="M540 64.12h1v5.4375h-1zM554 64.12h1v5.4375h-1zM557 64.12h1v5.4375h-1zM571 64.12h1v5.4375h-1zM573 64.12h1v5.4375h-1zM587 64.12h1v5.4375h-1zM540 69.56h1v5.4375h-1zM554 69.56h1v5.4375h-1zM557 69.56h1v5.4375h-1zM571 69.56h1v5.4375h-1zM573 69.56h1v5.4375h-1zM587 69.56h1v5.4375h-1zM540 75h1v5.4375h-1zM554 75h1v5.4375h-1zM557 75h1v5.4375h-1zM571 75h1v5.4375h-1zM573 75h1v5.4375h-1zM587 75h1v5.4375h-1zM455 80.44h1v5.4375h-1zM465 80.44h1v5.4375h-1zM590 80.44h1v5.4375h-1z"/>
<path fill="rgb(70,70,70)" d="M488 64.12h1v5.4375h-1zM502 64.12h1v5.4375h-1zM505 64.12h1v5.4375h-1zM519 64.12h1v5.4375h-1zM523 64.12h1v5.4375h-1zM537 64.12h1v5.4375h-1zM488 69.56h1v5.4375h-1zM502 69.56h1v5.4375h-1zM505 69.56h1v5.4375h-1zM519 69.56h1v5.4375h-1zM523 69.56h1v5.4375h-1zM537 69.56h1v5.4375h-1zM488 75h1v5.4375h-1zM502 75h1v5.4375h-1zM505 75h1v5.4375h-1zM519 75h1v5.4375h-1zM523 75h1v5.4375h-1zM537 75h1v5.4375h-1zM542 80.44h1v5.4375h-1zM552 80.44h1v5.4375h-1zM559 80.44h1v5.4375h-1zM569 80.44h1v5.4375h-1zM575 80.44h1v5.4375h-1zM585 80.44h1v5.4375h-1z"/>
<path fill="rgb(71,71,71)" d="M589 64.12h1v5.4375h-1zM589 69.56h1v5.4375h-1zM589 75h1v5.4375h-1zM525 80.44h1v5.4375h-1zM535 80.44h1v5.4375h-1z"/>
<path fill="rgb(72,72,72)" d="M456 80.44h1v5.4375h-1zM464 80.44h1v5.4375h-1zM490 80.44h1v5.4375h-1zM500 80.44h1v5.4375h-1zM507 80.44h1v5.4375h-1zM517 80.44h1v5.4375h-1zM560 80.44h1v5.4375h-1zM568 80.44h1v5.4375h-1z"/>
<path fill="rgb(73,73,73)" d="M454 64.12h1v5.4375h-1zM466 64.12h1v5.4375h-1zM454 69.56h1v5.4375h-1zM466 69.56h1v5.4375h-1zM454 75h1v5.4375h-1zM466 75h1v5.4375h-1zM457 80.44h1v5.4375h-1zM463 80.44h1v5.4375h-1zM543 80.44h1v5.4375h-1zM551 80.44h1v5.4375h-1zM576 80.44h1v5.4375h-1zM584 80.44h1v5.4375h-1zM591 80.44h1v5.4375h-1z"/>
<path fill="rgb(74,74,74)" d="M541 64.12h1v5.4375h-1zM553 64.12h1v5.4375h-1zM558 64.12h1v5.4375h-1zM570 64.12h1v5.4375h-1zM574 64.12h1v5.4375h-1zM586 64.12h1v5.4375h-1zM541 69.56h1v5.4375h-1zM553 69.56h1v5.4375h-1zM558 69.56h1v5.4375h-1zM570 69.56h1v5.4375h-1zM574 69.56h1v5.4375h-1zM586 69.56h1v5.4375h-1zM541 75h1v5.4375h-1zM553 75h1v5.4375h-1zM558 75h1v5.4375h-1zM570 75h1v5.4375h-1zM574 75h1v5.4375h-1zM586 75h1v5.4375h-1zM473 80.44h1v5.4375h-1zM485 80.44h1v5.4375h-1zM508 80.44h1v5.4375h-1zM516 80.44h1v5.4375h-1zM526 80.44h1v5.4375h-1zM534 80.44h1v5.4375h-1zM544 80.44h1v5.4375h-1zM550 80.44h1v5.4375h-1zM561 80.44h1v5.4375h-1zM567 80.44h1v5.4375h-1z"/>
<path fill="rgb(75,75,75)" d="M524 64.12h1v5.4375h-1zM536 64.12h1v5.4375h-1zM524 69.56h1v5.4375h-1zM536 69.56h1v5.4375h-1zM524 75h1v5.4375h-1zM536 75h1v5.4375h-1zM458 80.44h2v5.4375h-2zM461 80.44h2v5.4375h-2zM491 80.44h1v5.4375h-1zM499 80.44h1v5.4375h-1zM577 80.44h1v5.4375h-1zM583 80.44h1v5.4375h-1zM521 488.2h1v5.4375h-1zM523 488.2h1v5.4375h-1zM592 488.2h1v5.4375h-1zM594 488.2h1v5.4375h-1zM521 493.7h1v5.4375h-1zM523 493.7h1v5.4375h-1zM592 493.7h1v5.4375h-1zM594 493.7h1v5.4375h-1z"/>
<path fill="rgb(76,76,76)" d="M472 64.12h1v5.4375h-1zM486 64.12h1v5.4375h-1zM489 64.12h1v5.4375h-1zM501 64.12h1v5.4375h-1zM506 64.12h1v5.4375h-1zM518 64.12h1v5.4375h-1zM472 69.56h1v5.4375h-1zM486 69.56h1v5.4375h-1zM489 69.56h1v5.4375h-1zM501 69.56h1v5.4375h-1zM506 69.56h1v5.4375h-1zM518 69.56h1v5.4375h-1zM472 75h1v5.4375h-1zM486 75h1v5.4375h-1zM489 75h1v5.4375h-1zM501 75h1v5.4375h-1zM506 75h1v5.4375h-1zM518 75h1v5.4375h-1zM460 80.44h1v5.4375h-1zM509 80.44h1v5.4375h-1zM515 80.44h1v5.4375h-1zM527 80.44h1v5.4375h-1zM533 80.44h1v5.4375h-1zM545 80.44h2v5.4375h-2zM548 80.44h2v5.4375h-2zM562 80.44h2v5.4375h-2zM565 80.44h2v5.4375h-2zM578 80.44h1v5.4375h-1zM582 80.44h1v5.4375h-1zM592 80.44h1v5.4375h-1z"/>
<path fill="rgb(77,77,77)" d="M455 64.12h1v5.4375h-1zM465 64.12h1v5.4375h-1zM590 64.12h1v5.4375h-1zM455 69.56h1v5.4375h-1zM465 69.56h1v5.4375h-1zM590 69.56h1v5.4375h-1zM455 75h1v5.4375h-1zM465 75h1v5.4375h-1zM590 75h1v5.4375h-1zM492 80.44h1v5.4375h-1zM498 80.44h1v5.4375h-1zM528 80.44h1v5.4375h-1zM532 80.44h1v5.4375h-1zM547 80.44h1v5.4375h-1zM564 80.44h1v5.4375h-1zM579 80.44h3v5.4375h-3z"/>
<path fill="rgb(78,78,78)" d="M542 64.12h1v5.4375h-1zM552 64.12h1v5.4375h-1zM559 64.12h1v5.4375h-1zM569 64.12h1v5.4375h-1zM575 64.12h1v5.4375h-1zM585 64.12h1v5.4375h-1zM542 69.56h1v5.4375h-1zM552 69.56h1v5.4375h-1zM559 69.56h1v5.4375h-1zM569 69.56h1v5.4375h-1zM575 69.56h1v5.4375h-1zM585 69.56h1v5.4375h-1zM542 75h1v5.4375h-1zM552 75h1v5.4375h-1zM559 75h1v5.4375h-1zM569 75h1v5.4375h-1zM575 75h1v5.4375h-1zM585 75h1v5.4375h-1zM493 80.44h1v5.4375h-1zM497 80.44h1v5.4375h-1zM510 80.44h2v5.4375h-2zM513 80.44h2v5.4375h-2zM529 80.44h3v5.4375h-3zM593 80.44h1v5.4375h-1zM599 80.44h9v5.4375h-9z"/>
<path fill="rgb(79,79,79)" d="M507 64.12h1v5.4375h-1zM517 64.12h1v5.4375h-1zM525 64.12h1v5.4375h-1zM535 64.12h1v5.4375h-1zM507 69.56h1v5.4375h-1zM517 69.56h1v5.4375h-1zM525 69.56h1v5.4375h-1zM535 69.56h1v5.4375h-1zM507 75h1v5.4375h-1zM517 75h1v5.4375h-1zM525 75h1v5.4375h-1zM535 75h1v5.4375h-1zM474 80.44h1v5.4375h-1zM484 80.44h1v5.4375h-1zM494 80.44h3v5.4375h-3zM512 80.44h1v5.4375h-1z"/>
<path fill="rgb(80,80,80)" d="M456 64.12h1v5.4375h-1zM464 64.12h1v5.4375h-1zM490 64.12h1v5.4375h-1zM500 64.12h1v5.4375h-1zM560 64.12h1v5.4375h-1zM568 64.12h1v5.4375h-1zM456 69.56h1v5.4375h-1zM464 69.56h1v5.4375h-1zM490 69.56h1v5.4375h-1zM500 69.56h1v5.4375h-1zM560 69.56h1v5.4375h-1zM568 69.56h1v5.4375h-1zM456 75h1v5.4375h-1zM464 75h1v5.4375h-1zM490 75h1v5.4375h-1zM500 75h1v5.4375h-1zM560 75h1v5.4375h-1zM568 75h1v5.4375h-1zM594 80.44h2v5.4375h-2zM597 80.44h2v5.4375h-2z"/>
<path fill="rgb(81,81,81)" d="M543 64.12h1v5.4375h-1zM551 64.12h1v5.4375h-1zM576 64.12h1v5.4375h-1zM584 64.12h1v5.4375h-1zM591 64.12h1v5.4375h-1zM543 69.56h1v5.4375h-1zM551 69.56h1v5.4375h-1zM576 69.56h1v5.4375h-1zM584 69.56h1v5.4375h-1zM591 69.56h1v5.4375h-1zM543 75h1v5.4375h-1zM551 75h1v5.4375h-1zM576 75h1v5.4375h-1zM584 75h1v5.4375h-1zM591 75h1v5.4375h-1zM596 80.44h1v5.4375h-1z"/>
<path fill="rgb(82,82,82)" d="M457 64.12h1v5.4375h-1zM463 64.12h1v5.4375h-1zM473 64.12h1v5.4375h-1zM485 64.12h1v5.4375h-1zM508 64.12h1v5.4375h-1zM516 64.12h1v5.4375h-1zM526 64.12h1v5.4375h-1zM534 64.12h1v5.4375h-1zM457 69.56h1v5.4375h-1zM463 69.56h1v5.4375h-1zM473 69.56h1v5.4375h-1zM485 69.56h1v5.4375h-1zM508 69.56h1v5.4375h-1zM516 69.56h1v5.4375h-1zM526 69.56h1v5.4375h-1zM534 69.56h1v5.4375h-1zM457 75h1v5.4375h-1zM463 75h1v5.4375h-1zM473 75h1v5.4375h-1zM485 75h1v5.4375h-1zM508 75h1v5.4375h-1zM516 75h1v5.4375h-1zM526 75h1v5.4375h-1zM534 75h1v5.4375h-1zM475 80.44h1v5.4375h-1zM483 80.44h1v5.4375h-1z"/>
<path fill="rgb(83,83,83)" d="M458 64.12h1v5.4375h-1zM462 64.12h1v5.4375h-1zM491 64.12h1v5.4375h-1zM499 64.12h1v5.4375h-1zM544 64.12h1v5.4375h-1zM550 64.12h1v5.4375h-1zM561 64.12h1v5.4375h-1zM567 64.12h1v5.4375h-1zM577 64.12h1v5.4375h-1zM583 64.12h1v5.4375h-1zM458 69.56h1v5.4375h-1zM462 69.56h1v5.4375h-1zM491 69.56h1v5.4375h-1zM499 69.56h1v5.4375h-1zM544 69.56h1v5.4375h-1zM550 69.56h1v5.4375h-1zM561 69.56h1v5.4375h-1zM567 69.56h1v5.4375h-1zM577 69.56h1v5.4375h-1zM583 69.56h1v5.4375h-1zM458 75h1v5.4375h-1zM462 75h1v5.4375h-1zM491 75h1v5.4375h-1zM499 75h1v5.4375h-1zM544 75h1v5.4375h-1zM550 75h1v5.4375h-1zM561 75h1v5.4375h-1zM567 75h1v5.4375h-1zM577 75h1v5.4375h-1zM583 75h1v5.4375h-1z"/>
<path fill="rgb(84,84,84)" d="M459 64.12h3v5.4375h-3zM527 64.12h1v5.4375h-1zM533 64.12h1v5.4375h-1zM545 64.12h1v5.4375h-1zM549 64.12h1v5.4375h-1zM562 64.12h1v5.4375h-1zM566 64.12h1v5.4375h-1zM578 64.12h1v5.4375h-1zM582 64.12h1v5.4375h-1zM592 64.12h1v5.4375h-1zM459 69.56h3v5.4375h-3zM527 69.56h1v5.4375h-1zM533 69.56h1v5.4375h-1zM545 69.56h1v5.4375h-1zM549 69.56h1v5.4375h-1zM562 69.56h1v5.4375h-1zM566 69.56h1v5.4375h-1zM578 69.56h1v5.4375h-1zM582 69.56h1v5.4375h-1zM592 69.56h1v5.4375h-1zM459 75h3v5.4375h-3zM527 75h1v5.4375h-1zM533 75h1v5.4375h-1zM545 75h1v5.4375h-1zM549 75h1v5.4375h-1zM562 75h1v5.4375h-1zM566 75h1v5.4375h-1zM578 75h1v5.4375h-1zM582 75h1v5.4375h-1zM592 75h1v5.4375h-1z"/>
<path fill="rgb(85,85,85)" d="M492 64.12h1v5.4375h-1zM498 64.12h1v5.4375h-1zM509 64.12h1v5.4375h-1zM515 64.12h1v5.4375h-1zM546 64.12h3v5.4375h-3zM563 64.12h3v5.4375h-3zM579 64.12h1v5.4375h-1zM581 64.12h1v5.4375h-1zM492 69.56h1v5.4375h-1zM498 69.56h1v5.4375h-1zM509 69.56h1v5.4375h-1zM515 69.56h1v5.4375h-1zM546 69.56h3v5.4375h-3zM563 69.56h3v5.4375h-3zM579 69.56h1v5.4375h-1zM581 69.56h1v5.4375h-1zM492 75h1v5.4375h-1zM498 75h1v5.4375h-1zM509 75h1v5.4375h-1zM515 75h1v5.4375h-1zM546 75h3v5.4375h-3zM563 75h3v5.4375h-3zM579 75h1v5.4375h-1zM581 75h1v5.4375h-1zM476 80.44h1v5.4375h-1zM482 80.44h1v5.4375h-1z"/>
<path fill="rgb(86,86,86)" d="M510 64.12h1v5.4375h-1zM514 64.12h1v5.4375h-1zM528 64.12h2v5.4375h-2zM531 64.12h2v5.4375h-2zM580 64.12h1v5.4375h-1zM510 69.56h1v5.4375h-1zM514 69.56h1v5.4375h-1zM528 69.56h2v5.4375h-2zM531 69.56h2v5.4375h-2zM580 69.56h1v5.4375h-1zM510 75h1v5.4375h-1zM514 75h1v5.4375h-1zM528 75h2v5.4375h-2zM531 75h2v5.4375h-2zM580 75h1v5.4375h-1zM477 80.44h1v5.4375h-1zM481 80.44h1v5.4375h-1z"/>
<path fill="rgb(87,87,87)" d="M474 64.12h1v5.4375h-1zM484 64.12h1v5.4375h-1zM493 64.12h1v5.4375h-1zM497 64.12h1v5.4375h-1zM511 64.12h3v5.4375h-3zM530 64.12h1v5.4375h-1zM593 64.12h1v5.4375h-1zM599 64.12h9v5.4375h-9zM474 69.56h1v5.4375h-1zM484 69.56h1v5.4375h-1zM493 69.56h1v5.4375h-1zM497 69.56h1v5.4375h-1zM511 69.56h3v5.4375h-3zM530 69.56h1v5.4375h-1zM593 69.56h1v5.4375h-1zM599 69.56h9v5.4375h-9zM474 75h1v5.4375h-1zM484 75h1v5.4375h-1zM493 75h1v5.4375h-1zM497 75h1v5.4375h-1zM511 75h3v5.4375h-3zM530 75h1v5.4375h-1zM593 75h1v5.4375h-1zM599 75h9v5.4375h-9zM478 80.44h1v5.4375h-1zM480 80.44h1v5.4375h-1zM522 488.2h1v5.4375h-1zM593 488.2h1v5.4375h-1zM522 493.7h1v5.4375h-1zM593 493.7h1v5.4375h-1z"/>
<path fill="rgb(88,88,88)" d="M494 64.12h3v5.4375h-3zM594 64.12h1v5.4375h-1zM598 64.12h1v5.4375h-1zM494 69.56h3v5.4375h-3zM594 69.56h1v5.4375h-1zM598 69.56h1v5.4375h-1zM494 75h3v5.4375h-3zM594 75h1v5.4375h-1zM598 75h1v5.4375h-1zM479 80.44h1v5.4375h-1z"/>
<path fill="rgb(89,89,89)" d="M595 64.12h1v5.4375h-1zM597 64.12h1v5.4375h-1zM595 69.56h1v5.4375h-1zM597 69.56h1v5.4375h-1zM595 75h1v5.4375h-1zM597 75h1v5.4375h-1z"/>
<path fill="rgb(90,90,90)" d="M596 64.12h1v5.4375h-1zM596 69.56h1v5.4375h-1zM596 75h1v5.4375h-1z"/>
<path fill="rgb(91,91,91)" d="M475 64.12h1v5.4375h-1zM483 64.12h1v5.4375h-1zM475 69.56h1v5.4375h-1zM483 69.56h1v5.4375h-1zM475 75h1v5.4375h-1zM483 75h1v5.4375h-1z"/>
<path fill="rgb(94,94,94)" d="M476 64.12h1v5.4375h-1zM482 64.12h1v5.4375h-1zM476 69.56h1v5.4375h-1zM482 69.56h1v5.4375h-1zM476 75h1v5.4375h-1zM482 75h1v5.4375h-1z"/>
<path fill="rgb(96,96,96)" d="M477 64.12h1v5.4375h-1zM481 64.12h1v5.4375h-1zM477 69.56h1v5.4375h-1zM481 69.56h1v5.4375h-1zM477 75h1v5.4375h-1zM481 75h1v5.4375h-1z"/>
<path fill="rgb(97,97,97)" d="M478 64.12h3v5.4375h-3zM478 69.56h3v5.4375h-3zM478 75h3v5.4375h-3z"/>
</g></g>
</g>
<rect x="739.5" y="60.5" width="21" height="450" fill="url(#cb)" stroke="#2b2b2b" stroke-width="1"/><rect x="740" y="509" width="20" height="1" fill="#000"/>
<rect x="79.5" y="59.5" width="521" height="451" fill="none" stroke="#2b2b2b" stroke-width="1"/>
<g stroke="#2b2b2b" stroke-width="1">
<line x1="70" y1="60.5" x2="80" y2="60.5"/>
<line x1="75" y1="66.5" x2="80" y2="66.5"/>
<line x1="75" y1="72.5" x2="80" y2="72.5"/>
<line x1="75" y1="78.5" x2="80" y2="78.5"/>
<line x1="75" y1="84.5" x2="80" y2="84.5"/>
<line x1="75" y1="90.5" x2="80" y2="90.5"/>
<line x1="75" y1="96.5" x2="80" y2="96.5"/>
<line x1="75" y1="102.5" x2="80" y2="102.5"/>
<line x1="75" y1="108.5" x2="80" y2="108.5"/>
<line x1="75" y1="114.5" x2="80" y2="114.5"/>
<line x1="70" y1="120.5" x2="80" y2="120.5"/>
<line x1="75" y1="126.5" x2="80" y2="126.5"/>
<line x1="75" y1="132.5" x2="80" y2="132.5"/>
<line x1="75" y1="138.5" x2="80" y2="138.5"/>
<line x1="75" y1="144.5" x2="80" y2="144.5"/>
<line x1="75" y1="150.5" x2="80" y2="150.5"/>
<line x1="75" y1="156.5" x2="80" y2="156.5"/>
<line x1="75" y1="162.5" x2="80" y2="162.5"/>
<line x1="75" y1="168.5" x2="80" y2="168.5"/>
<line x1="75" y1="174.5" x2="80" y2="174.5"/>
<line x1="70" y1="180.5" x2="80" y2="180.5"/>
<line x1="75" y1="186.5" x2="80" y2="186.5"/>
<line x1="75" y1="192.5" x2="80" y2="192.5"/>
<line x1="75" y1="198.5" x2="80" y2="198.5"/>
<line x1="75" y1="204.5" x2="80" y2="204.5"/>
<line x1="75" y1="210.5" x2="80" y2="210.5"/>
<line x1="75" y1="216.5" x2="80" y2="216.5"/>
<line x1="75" y1="222.5" x2="80" y2="222.5"/>
<line x1="75" y1="228.5" x2="80" y2="228.5"/>
<line x1="75" y1="234.5" x2="80" y2="234.5"/>
<line x1="70" y1="240.5" x2="80" y2="240.5"/>
<line x1="75" y1="246.5" x2="80" y2="246.5"/>
<line x1="75" y1="252.5" x2="80" y2="252.5"/>
<line x1="75" y1="258.5" x2="80" y2="258.5"/>
<line x1="75" y1="264.5" x2="80" y2="264.5"/>
<line x1="75" y1="270.5" x2="80" y2="270.5"/>
<line x1="75" y1="276.5" x2="80" y2="276.5"/>
<line x1="75" y1="282.5" x2="80" y2="282.5"/>
<line x1="75" y1="288.5" x2="80" y2="288.5"/>
<line x1="75" y1="294.5" x2="80" y2="294.5"/>
<line x1="70" y1="300.5" x2="80" y2="300.5"/>
<line x1="75" y1="306.5" x2="80" y2="306.5"/>
<line x1="75" y1="312.5" x2="80" y2="312.5"/>
<line x1="75" y1="318.5" x2="80" y2="318.5"/>
<line x1="75" y1="324.5" x2="80" y2="324.5"/>
<line x1="75" y1="330.5" x2="80" y2="330.5"/>
<line x1="75" y1="336.5" x2="80" y2="336.5"/>
<line x1="75" y1="342.5" x2="80" y2="342.5"/>
<line x1="75" y1="348.5" x2="80" y2="348.5"/>
<line x1="75" y1="354.5" x2="80" y2="354.5"/>
<line x1="70" y1="361.5" x2="80" y2="361.5"/>
<line x1="75" y1="367.5" x2="80" y2="367.5"/>
<line x1="75" y1="373.5" x2="80" y2="373.5"/>
<line x1="75" y1="379.5" x2="80" y2="379.5"/>
<line x1="75" y1="385.5" x2="80" y2="385.5"/>
<line x1="75" y1="391.5" x2="80" y2="391.5"/>
<line x1="75" y1="397.5" x2="80" y2="397.5"/>
<line x1="75" y1="403.5" x2="80" y2="403.5"/>
<line x1="75" y1="409.5" x2="80" y2="409.5"/>
<line x1="75" y1="415.5" x2="80" y2="415.5"/>
<line x1="70" y1="421.5" x2="80" y2="421.5"/>
<line x1="75" y1="427.5" x2="80" y2="427.5"/>
<line x1="75" y1="433.5" x2="80" y2="433.5"/>
<line x1="75" y1="439.5" x2="80" y2="439.5"/>
<line x1="75" y1="445.5" x2="80" y2="445.5"/>
<line x1="75" y1="451.5" x2="80" y2="451.5"/>
<line x1="75" y1="457.5" x2="80" y2="457.5"/>
<line x1="75" y1="463.5" x2="80" y2="463.5"/>
<line x1="75" y1="469.5" x2="80" y2="469.5"/>
<line x1="75" y1="475.5" x2="80" y2="475.5"/>
<line x1="70" y1="481.5" x2="80" y2="481.5"/>
<line x1="75" y1="487.5" x2="80" y2="487.5"/>
<line x1="75" y1="493.5" x2="80" y2="493.5"/>
<line x1="75" y1="499.5" x2="80" y2="499.5"/>
<line x1="75" y1="505.5" x2="80" y2="505.5"/>
<line x1="80.5" y1="511" x2="80.5" y2="515"/>
<line x1="89.5" y1="511" x2="89.5" y2="515"/>
<line x1="99.5" y1="511" x2="99.5" y2="515"/>
<line x1="108.5" y1="511" x2="108.5" y2="515"/>
<line x1="118.5" y1="511" x2="118.5" y2="515"/>
<line x1="128.5" y1="511" x2="128.5" y2="515"/>
<line x1="137.5" y1="511" x2="137.5" y2="515"/>
<line x1="147.5" y1="511" x2="147.5" y2="515"/>
<line x1="157.5" y1="511" x2="157.5" y2="515"/>
<line x1="166.5" y1="511" x2="166.5" y2="520"/>
<line x1="176.5" y1="511" x2="176.5" y2="515"/>
<line x1="186.5" y1="511" x2="186.5" y2="515"/>
<line x1="195.5" y1="511" x2="195.5" y2="515"/>
<line x1="205.5" y1="511" x2="205.5" y2="515"/>
<line x1="214.5" y1="511" x2="214.5" y2="515"/>
<line x1="224.5" y1="511" x2="224.5" y2="515"/>
<line x1="234.5" y1="511" x2="234.5" y2="515"/>
<line x1="243.5" y1="511" x2="243.5" y2="515"/>
<line x1="253.5" y1="511" x2="253.5" y2="515"/>
<line x1="262.5" y1="511" x2="262.5" y2="520"/>
<line x1="272.5" y1="511" x2="272.5" y2="515"/>
<line x1="282.5" y1="511" x2="282.5" y2="515"/>
<line x1="291.5" y1="511" x2="291.5" y2="515"/>
<line x1="301.5" y1="511" x2="301.5" y2="515"/>
<line x1="311.5" y1="511" x2="311.5" y2="515"/>
<line x1="320.5" y1="511" x2="320.5" y2="515"/>
<line x1="330.5" y1="511" x2="330.5" y2="515"/>
<line x1="340.5" y1="511" x2="340.5" y2="515"/>
<line x1="349.5" y1="511" x2="349.5" y2="515"/>
<line x1="359.5" y1="511" x2="359.5" y2="520"/>
<line x1="368.5" y1="511" x2="368.5" y2="515"/>
<line x1="378.5" y1="511" x2="378.5" y2="515"/>
<line x1="388.5" y1="511" x2="388.5" y2="515"/>
<line x1="397.5" y1="511" x2="397.5" y2="515"/>
<line x1="407.5" y1="511" x2="407.5" y2="515"/>
<line x1="416.5" y1="511" x2="416.5" y2="515"/>
<line x1="426.5" y1="511" x2="426.5" y2="515"/>
<line x1="436.5" y1="511" x2="436.5" y2="515"/>
<line x1="445.5" y1="511" x2="445.5" y2="515"/>
<line x1="455.5" y1="511" x2="455.5" y2="520"/>
<line x1="465.5" y1="511" x2="465.5" y2="515"/>
<line x1="474.5" y1="511" x2="474.5" y2="515"/>
<line x1="484.5" y1="511" x2="484.5" y2="515"/>
<line x1="494.5" y1="511" x2="494.5" y2="515"/>
<line x1="503.5" y1="511" x2="503.5" y2="515"/>
<line x1="513.5" y1="511" x2="513.5" y2="515"/>
<line x1="522.5" y1="511" x2="522.5" y2="515"/>
<line x1="532.5" y1="511" x2="532.5" y2="515"/>
<line x1="542.5" y1="511" x2="542.5" y2="515"/>
<line x1="551.5" y1="511" x2="551.5" y2="520"/>
<line x1="561.5" y1="511" x2="561.5" y2="515"/>
<line x1="570.5" y1="511" x2="570.5" y2="515"/>
<line x1="580.5" y1="511" x2="580.5" y2="515"/>
<line x1="590.5" y1="511" x2="590.5" y2="515"/>
<line x1="599.5" y1="511" x2="599.5" y2="515"/>
<line x1="601" y1="60.5" x2="610" y2="60.5"/>
<line x1="601" y1="100.5" x2="605" y2="100.5"/>
<line x1="601" y1="140.5" x2="610" y2="140.5"/>
<line x1="601" y1="180.5" x2="605" y2="180.5"/>
<line x1="601" y1="220.5" x2="610" y2="220.5"/>
<line x1="601" y1="260.5" x2="605" y2="260.5"/>
<line x1="601" y1="301.5" x2="610" y2="301.5"/>
<line x1="601" y1="341.5" x2="605" y2="341.5"/>
<line x1="601" y1="381.5" x2="610" y2="381.5"/>
<line x1="601" y1="421.5" x2="605" y2="421.5"/>
<line x1="601" y1="461.5" x2="610" y2="461.5"/>
<line x1="601" y1="501.5" x2="605" y2="501.5"/>
<line x1="730" y1="60.5" x2="739" y2="60.5"/>
<line x1="761" y1="60.5" x2="770" y2="60.5"/>
<line x1="735" y1="99.5" x2="739" y2="99.5"/>
<line x1="761" y1="99.5" x2="765" y2="99.5"/>
<line x1="735" y1="89.5" x2="739" y2="89.5"/>
<line x1="761" y1="89.5" x2="765" y2="89.5"/>
<line x1="735" y1="82.5" x2="739" y2="82.5"/>
<line x1="761" y1="82.5" x2="765" y2="82.5"/>
<line x1="735" y1="76.5" x2="739" y2="76.5"/>
<line x1="761" y1="76.5" x2="765" y2="76.5"/>
<line x1="735" y1="72.5" x2="739" y2="72.5"/>
<line x1="761" y1="72.5" x2="765" y2="72.5"/>
<line x1="735" y1="68.5" x2="739" y2="68.5"/>
<line x1="761" y1="68.5" x2="765" y2="68.5"/>
<line x1="735" y1="65.5" x2="739" y2="65.5"/>
<line x1="761" y1="65.5" x2="765" y2="65.5"/>
<line x1="735" y1="62.5" x2="739" y2="62.5"/>
<line x1="761" y1="62.5" x2="765" y2="62.5"/>
<line x1="730" y1="116.5" x2="739" y2="116.5"/>
<line x1="761" y1="116.5" x2="770" y2="116.5"/>
<line x1="735" y1="155.5" x2="739" y2="155.5"/>
<line x1="761" y1="155.5" x2="765" y2="155.5"/>
<line x1="735" y1="145.5" x2="739" y2="145.5"/>
<line x1="761" y1="145.5" x2="765" y2="145.5"/>
<line x1="735" y1="138.5" x2="739" y2="138.5"/>
<line x1="761" y1="138.5" x2="765" y2="138.5"/>
<line x1="735" y1="133.5" x2="739" y2="133.5"/>
<line x1="761" y1="133.5" x2="765" y2="133.5"/>
<line x1="735" y1="128.5" x2="739" y2="128.5"/>
<line x1="761" y1="128.5" x2="765" y2="128.5"/>
<line x1="735" y1="124.5" x2="739" y2="124.5"/>
<line x1="761" y1="124.5" x2="765" y2="124.5"/>
<line x1="735" y1="121.5" x2="739" y2="121.5"/>
<line x1="761" y1="121.5" x2="765" y2="121.5"/>
<line x1="735" y1="118.5" x2="739" y2="118.5"/>
<line x1="761" y1="118.5" x2="765" y2="118.5"/>
<line x1="730" y1="172.5" x2="739" y2="172.5"/>
<line x1="761" y1="172.5" x2="770" y2="172.5"/>
<line x1="735" y1="211.5" x2="739" y2="211.5"/>
<line x1="761" y1="211.5" x2="765" y2="211.5"/>
<line x1="735" y1="201.5" x2="739" y2="201.5"/>
<line x1="761" y1="201.5" x2="765" y2="201.5"/>
<line x1="735" y1="194.5" x2="739" y2="194.5"/>
<line x1="761" y1="194.5" x2="765" y2="194.5"/>
<line x1="735" y1="189.5" x2="739" y2="189.5"/>
<line x1="761" y1="189.5" x2="765" y2="189.5"/>
<line x1="735" y1="184.5" x2="739" y2="184.5"/>
<line x1="761" y1="184.5" x2="765" y2="184.5"/>
<line x1="735" y1="181.5" x2="739" y2="181.5"/>
<line x1="761" y1="181.5" x2="765" y2="181.5"/>
<line x1="735" y1="177.5" x2="739" y2="177.5"/>
<line x1="761" y1="177.5" x2="765" y2="177.5"/>
<line x1="735" y1="175.5" x2="739" y2="175.5"/>
<line x1="761" y1="175.5" x2="765" y2="175.5"/>
<line x1="730" y1="228.5" x2="739" y2="228.5"/>
<line x1="761" y1="228.5" x2="770" y2="228.5"/>
<line x1="735" y1="268.5" x2="739" y2="268.5"/>
<line x1="761" y1="268.5" x2="765" y2="268.5"/>
<line x1="735" y1="258.5" x2="739" y2="258.5"/>
<line x1="761" y1="258.5" x2="765" y2="258.5"/>
<line x1="735" y1="251.5" x2="739" y2="251.5"/>
<line x1="761" y1="251.5" x2="765" y2="251.5"/>
<line x1="735" y1="245.5" x2="739" y2="245.5"/>
<line x1="761" y1="245.5" x2="765" y2="245.5"/>
<line x1="735" y1="241.5" x2="739" y2="241.5"/>
<line x1="761" y1="241.5" x2="765" y2="241.5"/>
<line x1="735" y1="237.5" x2="739" y2="237.5"/>
<line x1="761" y1="237.5" x2="765" y2="237.5"/>
<line x1="735" y1="234.5" x2="739" y2="234.5"/>
<line x1="761" y1="234.5" x2="765" y2="234.5"/>
<line x1="735" y1="231.5" x2="739" y2="231.5"/>
<line x1="761" y1="231.5" x2="765" y2="231.5"/>
<line x1="730" y1="285.5" x2="739" y2="285.5"/>
<line x1="761" y1="285.5" x2="770" y2="285.5"/>
<line x1="735" y1="324.5" x2="739" y2="324.5"/>
<line x1="761" y1="324.5" x2="765" y2="324.5"/>
<line x1="735" y1="314.5" x2="739" y2="314.5"/>
<line x1="761" y1="314.5" x2="765" y2="314.5"/>
<line x1="735" y1="307.5" x2="739" y2="307.5"/>
<line x1="761" y1="307.5" x2="765" y2="307.5"/>
<line x1="735" y1="301.5" x2="739" y2="301.5"/>
<line x1="761" y1="301.5" x2="765" y2="301.5"/>
<line x1="735" y1="297.5" x2="739" y2="297.5"/>
<line x1="761" y1="297.5" x2="765" y2="297.5"/>
<line x1="735" y1="293.5" x2="739" y2="293.5"/>
<line x1="761" y1="293.5" x2="765" y2="293.5"/>
<line x1="735" y1="290.5" x2="739" y2="290.5"/>
<line x1="761" y1="290.5" x2="765" y2="290.5"/>
<line x1="735" y1="287.5" x2="739" y2="287.5"/>
<line x1="761" y1="287.5" x2="765" y2="287.5"/>
<line x1="730" y1="341.5" x2="739" y2="341.5"/>
<line x1="761" y1="341.5" x2="770" y2="341.5"/>
<line x1="735" y1="380.5" x2="739" y2="380.5"/>
<line x1="761" y1="380.5" x2="765" y2="380.5"/>
<line x1="735" y1="370.5" x2="739" y2="370.5"/>
<line x1="761" y1="370.5" x2="765" y2="370.5"/>
<line x1="735" y1="363.5" x2="739" y2="363.5"/>
<line x1="761" y1="363.5" x2="765" y2="363.5"/>
<line x1="735" y1="358.5" x2="739" y2="358.5"/>
<line x1="761" y1="358.5" x2="765" y2="358.5"/>
<line x1="735" y1="353.5" x2="739" y2="353.5"/>
<line x1="761" y1="353.5" x2="765" y2="353.5"/>
<line x1="735" y1="349.5" x2="739" y2="349.5"/>
<line x1="761" y1="349.5" x2="765" y2="349.5"/>
<line x1="735" y1="346.5" x2="739" y2="346.5"/>
<line x1="761" y1="346.5" x2="765" y2="346.5"/>
<line x1="735" y1="343.5" x2="739" y2="343.5"/>
<line x1="761" y1="343.5" x2="765" y2="343.5"/>
<line x1="730" y1="397.5" x2="739" y2="397.5"/>
<line x1="761" y1="397.5" x2="770" y2="397.5"/>
<line x1="735" y1="436.5" x2="739" y2="436.5"/>
<line x1="761" y1="436.5" x2="765" y2="436.5"/>
<line x1="735" y1="426.5" x2="739" y2="426.5"/>
<line x1="761" y1="426.5" x2="765" y2="426.5"/>
<line x1="735" y1="419.5" x2="739" y2="419.5"/>
<line x1="761" y1="419.5" x2="765" y2="419.5"/>
<line x1="735" y1="414.5" x2="739" y2="414.5"/>
<line x1="761" y1="414.5" x2="765" y2="414.5"/>
<line x1="735" y1="409.5" x2="739" y2="409.5"/>
<line x1="761" y1="409.5" x2="765" y2="409.5"/>
<line x1="735" y1="406.5" x2="739" y2="406.5"/>
<line x1="761" y1="406.5" x2="765" y2="406.5"/>
<line x1="735" y1="402.5" x2="739" y2="402.5"/>
<line x1="761" y1="402.5" x2="765" y2="402.5"/>
<line x1="735" y1="400.5" x2="739" y2="400.5"/>
<line x1="761" y1="400.5" x2="765" y2="400.5"/>
<line x1="730" y1="453.5" x2="739" y2="453.5"/>
<line x1="761" y1="453.5" x2="770" y2="453.5"/>
<line x1="735" y1="493.5" x2="739" y2="493.5"/>
<line x1="761" y1="493.5" x2="765" y2="493.5"/>
<line x1="735" y1="483.5" x2="739" y2="483.5"/>
<line x1="761" y1="483.5" x2="765" y2="483.5"/>
<line x1="735" y1="476.5" x2="739" y2="476.5"/>
<line x1="761" y1="476.5" x2="765" y2="476.5"/>
<line x1="735" y1="470.5" x2="739" y2="470.5"/>
<line x1="761" y1="470.5" x2="765" y2="470.5"/>
<line x1="735" y1="466.5" x2="739" y2="466.5"/>
<line x1="761" y1="466.5" x2="765" y2="466.5"/>
<line x1="735" y1="462.5" x2="739" y2="462.5"/>
<line x1="761" y1="462.5" x2="765" y2="462.5"/>
<line x1="735" y1="459.5" x2="739" y2="459.5"/>
<line x1="761" y1="459.5" x2="765" y2="459.5"/>
<line x1="735" y1="456.5" x2="739" y2="456.5"/>
<line x1="761" y1="456.5" x2="765" y2="456.5"/>
<line x1="730" y1="510.5" x2="739" y2="510.5"/>
<line x1="761" y1="510.5" x2="770" y2="510.5"/>

</g>
<text x="35.0" y="45" style="letter-spacing:0px">Orbit:</text><text x="74.8" y="45" style="letter-spacing:1.1px">11111</text><text x="130.5" y="45" style="letter-spacing:0.22px">2012-09-23 (Day 267) 05:29:09.805</text><text x="375.0" y="45" style="letter-spacing:0.15px">SZA: 141.30</text><text x="473.0" y="45" style="letter-spacing:0.15px">Altitude:</text><text x="540.5" y="45" style="letter-spacing:0px">1061</text><text x="592.0" y="45" style="letter-spacing:0.33px">Lat:</text><text x="624.0" y="45" style="letter-spacing:0.6px">15.06</text><text x="679.6" y="45" style="letter-spacing:0.55px">Long:</text><text x="724.0" y="45" style="letter-spacing:0.44px">33.87</text><text x="68.5" y="65.3" text-anchor="end" >0.</text><text x="68.5" y="125.44" text-anchor="end" >1.</text><text x="68.5" y="185.57999999999998" text-anchor="end" >2.</text><text x="68.5" y="245.72000000000003" text-anchor="end" >3.</text><text x="68.5" y="305.86" text-anchor="end" >4.</text><text x="68.5" y="366.0" text-anchor="end" >5.</text><text x="68.5" y="426.14000000000004" text-anchor="end" >6.</text><text x="68.5" y="486.28000000000003" text-anchor="end" >7.</text><text x="167.25" y="537.8" text-anchor="middle" >1.</text><text x="263.5" y="537.8" text-anchor="middle" >2.</text><text x="359.75" y="537.8" text-anchor="middle" >3.</text><text x="456.0" y="537.8" text-anchor="middle" >4.</text><text x="552.25" y="537.8" text-anchor="middle" >5.</text><text x="613.3" y="65.80" style="letter-spacing:0.6px">0.</text><text x="613.3" y="146.04" style="letter-spacing:0.6px">200.</text><text x="613.3" y="226.28" style="letter-spacing:0.6px">400.</text><text x="613.3" y="306.52" style="letter-spacing:0.6px">600.</text><text x="613.3" y="386.76" style="letter-spacing:0.6px">800.</text><text x="613.3" y="467.00" style="letter-spacing:0.6px">1000.</text><text x="348" y="558.3" text-anchor="middle" >Frequency (MHz)</text><text transform="translate(39.5,278.5) rotate(-90)" text-anchor="middle">Time Delay (ms)</text><text transform="translate(654.5,284.5) rotate(90)" text-anchor="middle" style="letter-spacing:0.17px">Apparent Range (km)</text><text x="729.8" y="67.50" text-anchor="end">10<tspan dy="-7">-9</tspan></text><text x="730.8" y="123.75" text-anchor="end">10<tspan dy="-7">-10</tspan></text><text x="730.8" y="180.00" text-anchor="end">10<tspan dy="-7">-11</tspan></text><text x="730.8" y="236.25" text-anchor="end">10<tspan dy="-7">-12</tspan></text><text x="730.8" y="292.50" text-anchor="end">10<tspan dy="-7">-13</tspan></text><text x="730.8" y="348.75" text-anchor="end">10<tspan dy="-7">-14</tspan></text><text x="730.8" y="405.00" text-anchor="end">10<tspan dy="-7">-15</tspan></text><text x="730.8" y="461.25" text-anchor="end">10<tspan dy="-7">-16</tspan></text><text x="730.8" y="517.50" text-anchor="end">10<tspan dy="-7">-17</tspan></text><text y="551.5"><tspan x="713">V</tspan><tspan x="724.6" y="546.8" style="font-size:8.5px">2</tspan><tspan x="732.9" y="551.5">m</tspan><tspan x="747" y="546.8" style="font-size:8.5px">-2</tspan><tspan x="757.6" y="551.5">Hz</tspan><tspan x="776" y="546.8" style="font-size:8.5px">-1</tspan></text><text x="724" y="582" style="font-size:7.3px;fill:#555">UIOWA 20130604</text>
</svg>
</body></html>
